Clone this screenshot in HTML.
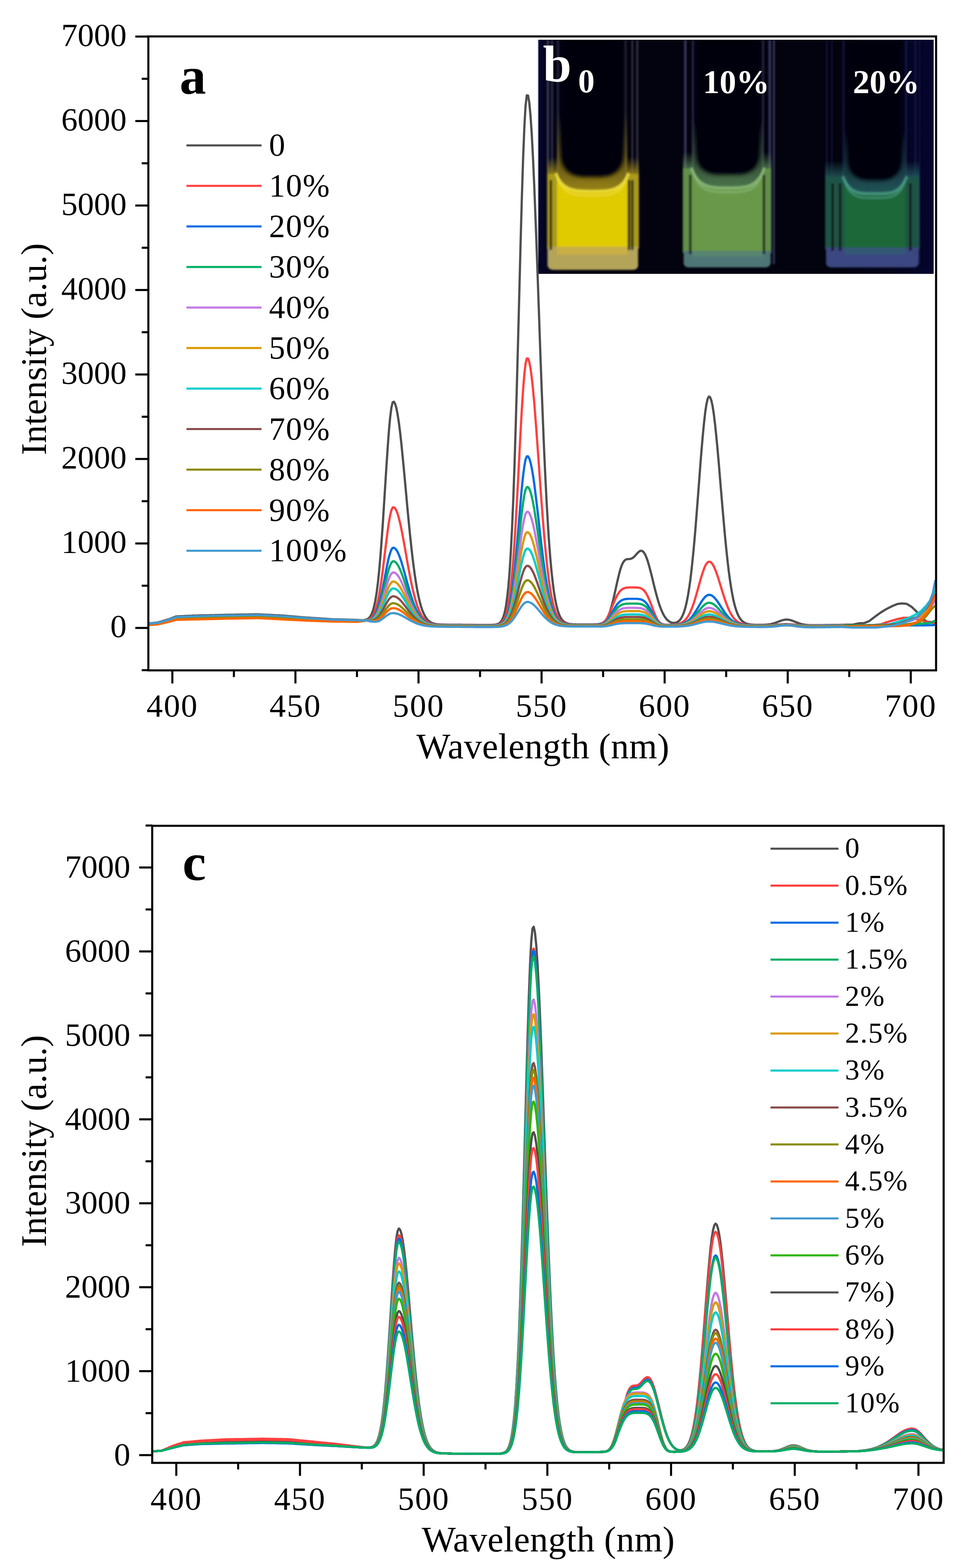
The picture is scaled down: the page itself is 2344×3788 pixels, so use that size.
<!DOCTYPE html><html><head><meta charset="utf-8"><title>PL spectra</title><style>html,body{margin:0;padding:0;background:#fff;overflow:hidden}svg{display:block}</style></head><body>
<svg width="2344" height="3788" viewBox="0 0 2344 3788">
<rect width="2344" height="3788" fill="#fff"/>
<defs><filter id="bl2" x="-20%" y="-20%" width="140%" height="140%"><feGaussianBlur stdDeviation="2"/></filter><filter id="bl4" x="-20%" y="-20%" width="140%" height="140%"><feGaussianBlur stdDeviation="4"/></filter><filter id="bl8" x="-30%" y="-30%" width="160%" height="160%"><feGaussianBlur stdDeviation="8"/></filter><filter id="bl14" x="-40%" y="-40%" width="180%" height="180%"><feGaussianBlur stdDeviation="14"/></filter><clipPath id="clipA"><rect x="361" y="90" width="1899" height="1527"/></clipPath><clipPath id="clipC"><rect x="370" y="1997" width="1908" height="1534"/></clipPath><clipPath id="clipIn"><rect x="1301" y="96" width="955.5" height="565.8"/></clipPath></defs>
<g clip-path="url(#clipIn)">
<defs><linearGradient id="bgg" x1="0" y1="0" x2="1" y2="0"><stop offset="0" stop-color="#05052a"/><stop offset="0.03" stop-color="#04041a"/><stop offset="0.08" stop-color="#03030f"/><stop offset="0.75" stop-color="#03030f"/><stop offset="0.9" stop-color="#04041c"/><stop offset="1" stop-color="#05052e"/></linearGradient></defs>
<rect x="1301" y="96" width="955.5" height="565.8" fill="url(#bgg)"/>
<defs><linearGradient id="glow1" x1="0" y1="0" x2="0" y2="1"><stop offset="0" stop-color="#a08a18" stop-opacity="0"/><stop offset="1" stop-color="#a08a18" stop-opacity="0.95"/></linearGradient></defs>
<g filter="url(#bl2)">
<line x1="1324.0" y1="96" x2="1324.0" y2="644.0" stroke="#6a6a80" stroke-width="4.0" opacity="0.70"/>
<line x1="1334.0" y1="96" x2="1334.0" y2="644.0" stroke="#5a5a70" stroke-width="4.0" opacity="0.60"/>
<line x1="1348.0" y1="96" x2="1348.0" y2="644.0" stroke="#50506a" stroke-width="4.0" opacity="0.55"/>
<line x1="1512.0" y1="96" x2="1512.0" y2="644.0" stroke="#50506a" stroke-width="4.0" opacity="0.55"/>
<line x1="1528.0" y1="96" x2="1528.0" y2="644.0" stroke="#55556e" stroke-width="4.0" opacity="0.60"/>
<line x1="1540.0" y1="96" x2="1540.0" y2="644.0" stroke="#606078" stroke-width="4.0" opacity="0.60"/>
<rect x="1346.0" y="270.0" width="170.0" height="190.0" fill="url(#glow1)"/>
<rect x="1322.0" y="380.0" width="24.0" height="45.0" fill="url(#glow1)"/>
<rect x="1516.0" y="380.0" width="28.0" height="45.0" fill="url(#glow1)"/>
<path d="M1354.0,95 L1354.0,368.0 Q1354.0,428.0 1414.0,428.0 L1448.0,428.0 Q1508.0,428.0 1508.0,368.0 L1508.0,95 Z" fill="#03030f" filter="url(#bl4)"/>
<rect x="1322.0" y="420.0" width="26.0" height="181.0" fill="#a89a1e"/>
<rect x="1514.0" y="420.0" width="30.0" height="181.0" fill="#a89a1e"/>
<path d="M1346.0,420.0 C1358.0,460.0 1391.0,460.0 1431.0,460.0 C1471.0,460.0 1504.0,460.0 1516.0,420.0 L1516.0,596.0 L1346.0,596.0 Z" fill="#e0ca00"/>
<path d="M1343.0,418.0 C1358.0,462.0 1391.0,462.0 1431.0,462.0 C1471.0,462.0 1504.0,462.0 1519.0,418.0" fill="none" stroke="#ecdc40" stroke-width="7" opacity="0.85"/>
<path d="M1348.0,430.0 C1362.0,472.0 1391.0,472.0 1431.0,472.0 C1471.0,472.0 1500.0,472.0 1514.0,430.0" fill="none" stroke="#ecdc40" stroke-width="6" opacity="0.6"/>
<path d="M1324.0,596.0 L1542.0,596.0 L1542.0,640.0 Q1542.0,652.0 1528.0,652.0 L1338.0,652.0 Q1324.0,652.0 1324.0,640.0 Z" fill="#b4a45a"/>
<rect x="1346.0" y="596.0" width="170.0" height="19.6" fill="#d2b23a" opacity="0.7"/>
<line x1="1331.0" y1="435.0" x2="1331.0" y2="604.0" stroke="#120e04" stroke-width="6" opacity="0.8"/>
<line x1="1520.0" y1="435.0" x2="1520.0" y2="604.0" stroke="#120e04" stroke-width="6" opacity="0.8"/>
<line x1="1528.0" y1="435.0" x2="1528.0" y2="604.0" stroke="#120e04" stroke-width="6" opacity="0.8"/>
</g>
<defs><linearGradient id="glow2" x1="0" y1="0" x2="0" y2="1"><stop offset="0" stop-color="#5a8a58" stop-opacity="0"/><stop offset="1" stop-color="#5a8a58" stop-opacity="0.85"/></linearGradient></defs>
<g filter="url(#bl2)">
<line x1="1656.0" y1="96" x2="1656.0" y2="638.0" stroke="#50507a" stroke-width="5.0" opacity="0.80"/>
<line x1="1674.0" y1="96" x2="1674.0" y2="638.0" stroke="#40406a" stroke-width="4.0" opacity="0.70"/>
<line x1="1844.0" y1="96" x2="1844.0" y2="638.0" stroke="#40406a" stroke-width="4.0" opacity="0.70"/>
<line x1="1860.0" y1="96" x2="1860.0" y2="638.0" stroke="#505084" stroke-width="5.0" opacity="0.80"/>
<line x1="1870.0" y1="96" x2="1870.0" y2="638.0" stroke="#5a5a90" stroke-width="4.0" opacity="0.70"/>
<rect x="1674.0" y="287.0" width="170.0" height="165.0" fill="url(#glow2)"/>
<rect x="1650.0" y="367.0" width="24.0" height="45.0" fill="url(#glow2)"/>
<rect x="1844.0" y="367.0" width="20.0" height="45.0" fill="url(#glow2)"/>
<path d="M1682.0,95 L1682.0,367.0 Q1682.0,422.0 1737.0,422.0 L1781.0,422.0 Q1836.0,422.0 1836.0,367.0 L1836.0,95 Z" fill="#03030f" filter="url(#bl4)"/>
<rect x="1650.0" y="407.0" width="26.0" height="204.0" fill="#62904c"/>
<rect x="1842.0" y="407.0" width="22.0" height="204.0" fill="#62904c"/>
<path d="M1674.0,407.0 C1686.0,452.0 1719.0,452.0 1759.0,452.0 C1799.0,452.0 1832.0,452.0 1844.0,407.0 L1844.0,606.0 L1674.0,606.0 Z" fill="#6a984a"/>
<path d="M1671.0,405.0 C1686.0,454.0 1719.0,454.0 1759.0,454.0 C1799.0,454.0 1832.0,454.0 1847.0,405.0" fill="none" stroke="#88b878" stroke-width="7" opacity="0.85"/>
<path d="M1676.0,417.0 C1690.0,464.0 1719.0,464.0 1759.0,464.0 C1799.0,464.0 1828.0,464.0 1842.0,417.0" fill="none" stroke="#88b878" stroke-width="6" opacity="0.6"/>
<path d="M1652.0,606.0 L1862.0,606.0 L1862.0,634.0 Q1862.0,646.0 1848.0,646.0 L1666.0,646.0 Q1652.0,646.0 1652.0,634.0 Z" fill="#4f7676"/>
<rect x="1674.0" y="606.0" width="170.0" height="14.0" fill="#5c8a70" opacity="0.7"/>
<line x1="1668.0" y1="422.0" x2="1668.0" y2="614.0" stroke="#120e04" stroke-width="6" opacity="0.8"/>
<line x1="1846.0" y1="422.0" x2="1846.0" y2="614.0" stroke="#120e04" stroke-width="6" opacity="0.8"/>
</g>
<defs><linearGradient id="glow3" x1="0" y1="0" x2="0" y2="1"><stop offset="0" stop-color="#2a6a68" stop-opacity="0"/><stop offset="1" stop-color="#2a6a68" stop-opacity="0.80"/></linearGradient></defs>
<g filter="url(#bl2)">
<line x1="1998.0" y1="96" x2="1998.0" y2="638.0" stroke="#20205a" stroke-width="4.0" opacity="0.60"/>
<line x1="2010.0" y1="96" x2="2010.0" y2="638.0" stroke="#252565" stroke-width="3.0" opacity="0.50"/>
<line x1="2038.0" y1="96" x2="2038.0" y2="638.0" stroke="#2a2a70" stroke-width="4.0" opacity="0.55"/>
<line x1="2190.0" y1="96" x2="2190.0" y2="638.0" stroke="#2a2a70" stroke-width="4.0" opacity="0.55"/>
<line x1="2212.0" y1="96" x2="2212.0" y2="638.0" stroke="#2a2a70" stroke-width="4.0" opacity="0.50"/>
<line x1="2222.0" y1="96" x2="2222.0" y2="638.0" stroke="#20205a" stroke-width="3.0" opacity="0.50"/>
<rect x="2040.0" y="308.0" width="148.0" height="158.0" fill="url(#glow3)"/>
<rect x="1994.0" y="388.0" width="46.0" height="45.0" fill="url(#glow3)"/>
<rect x="2188.0" y="388.0" width="34.0" height="45.0" fill="url(#glow3)"/>
<path d="M2048.0,95 L2048.0,381.0 Q2048.0,436.0 2103.0,436.0 L2125.0,436.0 Q2180.0,436.0 2180.0,381.0 L2180.0,95 Z" fill="#03030f" filter="url(#bl4)"/>
<rect x="1994.0" y="428.0" width="48.0" height="175.0" fill="#1d5446"/>
<rect x="2186.0" y="428.0" width="36.0" height="175.0" fill="#1d5446"/>
<path d="M2040.0,428.0 C2052.0,466.0 2074.0,466.0 2114.0,466.0 C2154.0,466.0 2176.0,466.0 2188.0,428.0 L2188.0,598.0 L2040.0,598.0 Z" fill="#1f6838"/>
<path d="M2037.0,426.0 C2052.0,468.0 2074.0,468.0 2114.0,468.0 C2154.0,468.0 2176.0,468.0 2191.0,426.0" fill="none" stroke="#4a9a88" stroke-width="7" opacity="0.85"/>
<path d="M2042.0,438.0 C2056.0,478.0 2074.0,478.0 2114.0,478.0 C2154.0,478.0 2172.0,478.0 2186.0,438.0" fill="none" stroke="#4a9a88" stroke-width="6" opacity="0.6"/>
<path d="M1996.0,598.0 L2220.0,598.0 L2220.0,634.0 Q2220.0,646.0 2206.0,646.0 L2010.0,646.0 Q1996.0,646.0 1996.0,634.0 Z" fill="#3a4680"/>
<rect x="2040.0" y="598.0" width="148.0" height="16.8" fill="#2f6070" opacity="0.7"/>
<line x1="2012.0" y1="443.0" x2="2012.0" y2="606.0" stroke="#120e04" stroke-width="6" opacity="0.8"/>
<line x1="2030.0" y1="443.0" x2="2030.0" y2="606.0" stroke="#120e04" stroke-width="6" opacity="0.8"/>
<line x1="2200.0" y1="443.0" x2="2200.0" y2="606.0" stroke="#120e04" stroke-width="6" opacity="0.8"/>
</g>
</g>
<rect x="1298.3" y="96" width="2.7" height="565.8" fill="#d6d6de"/>
<g font-family="'Liberation Serif','Times New Roman',serif" font-weight="bold" fill="#fff">
<text x="1312" y="197" font-size="124">b</text>
<text x="1397" y="223" font-size="80">0</text>
<text x="1698.5" y="224.5" font-size="80.5">10%</text>
<text x="2061" y="224.5" font-size="80.5">20%</text>
</g>
<g clip-path="url(#clipA)" fill="none" stroke-width="5.4" stroke-linejoin="round">
<polyline stroke="#4F4F4F" points="357.0,1506.4 360.0,1506.1 363.0,1505.8 365.9,1505.5 368.9,1505.2 371.9,1504.9 374.9,1504.5 377.8,1504.2 380.8,1503.9 383.8,1503.1 386.8,1502.2 389.7,1501.3 392.7,1500.4 395.7,1499.5 398.7,1498.7 401.6,1497.8 404.6,1496.9 407.6,1496.0 410.6,1495.2 413.5,1494.0 416.5,1492.8 419.5,1491.6 422.4,1490.4 425.4,1489.2 428.4,1489.1 431.4,1489.0 434.3,1488.8 437.3,1488.7 440.3,1488.6 443.3,1488.4 446.2,1488.3 449.2,1488.2 452.2,1488.0 455.2,1487.9 458.1,1487.7 461.1,1487.6 464.1,1487.5 467.1,1487.3 470.0,1487.2 473.0,1487.1 476.0,1487.1 479.0,1487.0 481.9,1486.9 484.9,1486.8 487.9,1486.8 490.9,1486.7 493.8,1486.6 496.8,1486.6 499.8,1486.5 502.7,1486.4 505.7,1486.4 508.7,1486.3 511.7,1486.2 514.6,1486.1 517.6,1486.1 520.6,1486.0 523.6,1485.9 526.5,1485.9 529.5,1485.8 532.5,1485.7 535.5,1485.6 538.4,1485.6 541.4,1485.5 544.4,1485.4 547.4,1485.4 550.3,1485.3 553.3,1485.3 556.3,1485.2 559.3,1485.2 562.2,1485.1 565.2,1485.1 568.2,1485.0 571.1,1485.0 574.1,1484.9 577.1,1484.9 580.1,1484.8 583.0,1484.8 586.0,1484.8 589.0,1484.7 592.0,1484.7 594.9,1484.6 597.9,1484.6 600.9,1484.5 603.9,1484.5 606.8,1484.4 609.8,1484.4 612.8,1484.3 615.8,1484.3 618.7,1484.2 621.7,1484.2 624.7,1484.1 627.7,1484.3 630.6,1484.4 633.6,1484.6 636.6,1484.8 639.5,1484.9 642.5,1485.1 645.5,1485.2 648.5,1485.4 651.4,1485.5 654.4,1485.7 657.4,1485.8 660.4,1486.0 663.3,1486.1 666.3,1486.3 669.3,1486.4 672.3,1486.6 675.2,1486.7 678.2,1486.9 681.2,1487.0 684.2,1487.2 687.1,1487.4 690.1,1487.7 693.1,1487.9 696.1,1488.2 699.0,1488.4 702.0,1488.7 705.0,1488.9 708.0,1489.2 710.9,1489.4 713.9,1489.7 716.9,1489.9 719.8,1490.1 722.8,1490.4 725.8,1490.6 728.8,1490.9 731.7,1491.1 734.7,1491.4 737.7,1491.6 740.7,1491.9 743.6,1492.1 746.6,1492.3 749.6,1492.5 752.6,1492.7 755.5,1492.9 758.5,1493.1 761.5,1493.3 764.5,1493.5 767.4,1493.7 770.4,1493.8 773.4,1494.0 776.4,1494.2 779.3,1494.4 782.3,1494.6 785.3,1494.8 788.2,1495.0 791.2,1495.2 794.2,1495.4 797.2,1495.6 800.1,1495.8 803.1,1496.0 806.1,1496.1 809.1,1496.1 812.0,1496.2 815.0,1496.3 818.0,1496.4 821.0,1496.5 823.9,1496.5 826.9,1496.6 829.9,1496.7 832.9,1496.8 835.8,1496.9 838.8,1497.0 841.8,1497.0 844.8,1497.1 847.7,1497.2 850.7,1497.3 853.7,1497.4 856.7,1497.4 859.6,1497.5 862.6,1497.6 865.6,1497.8 868.5,1498.0 871.5,1498.1 874.5,1498.2 877.5,1498.1 880.4,1497.9 883.4,1497.3 886.4,1496.2 889.4,1494.7 892.3,1492.3 895.3,1488.5 898.3,1483.0 901.3,1475.1 904.2,1464.3 907.2,1449.9 910.2,1431.4 913.2,1408.1 916.1,1379.9 919.1,1346.1 922.1,1307.3 925.1,1264.4 928.0,1218.4 931.0,1170.8 934.0,1123.7 937.0,1079.2 939.9,1039.8 942.9,1007.5 945.9,984.5 948.8,972.0 951.8,970.5 954.8,975.4 957.8,985.5 960.7,1000.5 963.7,1019.9 966.7,1043.2 969.7,1069.8 972.6,1099.0 975.6,1130.0 978.6,1162.2 981.6,1194.8 984.5,1227.0 987.5,1258.4 990.5,1288.6 993.5,1317.0 996.4,1343.4 999.4,1367.5 1002.4,1389.3 1005.4,1408.8 1008.3,1425.9 1011.3,1440.8 1014.3,1453.5 1017.2,1464.3 1020.2,1473.4 1023.2,1480.8 1026.2,1487.0 1029.1,1491.9 1032.1,1495.9 1035.1,1499.1 1038.1,1501.5 1041.0,1503.4 1044.0,1504.9 1047.0,1506.0 1050.0,1506.8 1052.9,1507.4 1055.9,1507.9 1058.9,1508.2 1061.9,1508.5 1064.8,1508.7 1067.8,1508.8 1070.8,1508.9 1073.8,1509.0 1076.7,1509.0 1079.7,1509.1 1082.7,1509.1 1085.7,1509.1 1088.6,1509.2 1091.6,1509.2 1094.6,1509.2 1097.5,1509.2 1100.5,1509.2 1103.5,1509.3 1106.5,1509.3 1109.4,1509.3 1112.4,1509.3 1115.4,1509.3 1118.4,1509.4 1121.3,1509.4 1124.3,1509.4 1127.3,1509.4 1130.3,1509.4 1133.2,1509.5 1136.2,1509.5 1139.2,1509.5 1142.2,1509.5 1145.1,1509.6 1148.1,1509.6 1151.1,1509.6 1154.1,1509.6 1157.0,1509.6 1160.0,1509.7 1163.0,1509.7 1165.9,1509.7 1168.9,1509.7 1171.9,1509.6 1174.9,1509.6 1177.8,1509.6 1180.8,1509.6 1183.8,1509.6 1186.8,1509.6 1189.7,1509.5 1192.7,1509.3 1195.7,1509.1 1198.7,1508.7 1201.6,1507.9 1204.6,1506.7 1207.6,1504.8 1210.6,1501.7 1213.5,1497.1 1216.5,1490.1 1219.5,1479.8 1222.5,1465.3 1225.4,1445.0 1228.4,1417.7 1231.4,1381.6 1234.3,1335.3 1237.3,1277.4 1240.3,1207.1 1243.3,1124.2 1246.2,1029.4 1249.2,924.5 1252.2,812.2 1255.2,696.6 1258.1,582.7 1261.1,476.1 1264.1,382.6 1267.1,307.6 1270.0,255.7 1273.0,230.4 1276.0,230.8 1279.0,247.4 1281.9,278.5 1284.9,323.0 1287.9,379.4 1290.9,445.8 1293.8,520.1 1296.8,600.1 1299.8,683.5 1302.8,768.1 1305.7,851.9 1308.7,933.1 1311.7,1010.2 1314.6,1082.1 1317.6,1147.9 1320.6,1207.2 1323.6,1259.7 1326.5,1305.5 1329.5,1344.9 1332.5,1378.1 1335.5,1405.9 1338.4,1428.7 1341.4,1447.1 1344.4,1461.9 1347.4,1473.5 1350.3,1482.5 1353.3,1489.5 1356.3,1494.7 1359.3,1498.6 1362.2,1501.5 1365.2,1503.5 1368.2,1505.0 1371.2,1506.1 1374.1,1506.9 1377.1,1507.4 1380.1,1507.7 1383.1,1508.0 1386.0,1508.1 1389.0,1508.2 1392.0,1508.3 1394.9,1508.4 1397.9,1508.4 1400.9,1508.4 1403.9,1508.4 1406.8,1508.4 1409.8,1508.4 1412.8,1508.4 1415.8,1508.4 1418.7,1508.4 1421.7,1508.4 1424.7,1508.4 1427.7,1508.4 1430.6,1508.4 1433.6,1508.4 1436.6,1508.3 1439.6,1508.2 1442.5,1508.1 1445.5,1507.8 1448.5,1507.4 1451.5,1506.7 1454.4,1505.7 1457.4,1504.1 1460.4,1501.9 1463.3,1498.7 1466.3,1494.5 1469.3,1489.0 1472.3,1482.0 1475.2,1473.5 1478.2,1463.3 1481.2,1451.8 1484.2,1439.1 1487.1,1425.7 1490.1,1412.1 1493.1,1398.8 1496.1,1386.6 1499.0,1375.8 1502.0,1367.0 1505.0,1360.2 1508.0,1355.5 1510.9,1352.7 1513.9,1351.2 1516.9,1350.7 1519.9,1350.6 1522.8,1350.3 1525.8,1349.5 1528.8,1347.9 1531.8,1345.6 1534.7,1342.6 1537.7,1339.2 1540.7,1335.9 1543.6,1333.1 1546.6,1331.1 1549.6,1330.5 1552.6,1331.4 1555.5,1334.1 1558.5,1338.7 1561.5,1345.2 1564.5,1353.3 1567.4,1362.9 1570.4,1373.7 1573.4,1385.3 1576.4,1397.3 1579.3,1409.6 1582.3,1421.6 1585.3,1433.2 1588.3,1444.1 1591.2,1454.2 1594.2,1463.3 1597.2,1471.4 1600.2,1478.5 1603.1,1484.5 1606.1,1489.6 1609.1,1493.8 1612.0,1497.2 1615.0,1499.8 1618.0,1501.9 1621.0,1503.4 1623.9,1504.3 1626.9,1504.8 1629.9,1504.8 1632.9,1504.3 1635.8,1503.2 1638.8,1501.5 1641.8,1498.9 1644.8,1495.4 1647.7,1490.6 1650.7,1484.3 1653.7,1476.2 1656.7,1466.0 1659.6,1453.4 1662.6,1438.0 1665.6,1419.5 1668.6,1397.8 1671.5,1372.7 1674.5,1344.2 1677.5,1312.5 1680.5,1277.9 1683.4,1240.9 1686.4,1202.4 1689.4,1163.1 1692.3,1124.1 1695.3,1086.7 1698.3,1051.9 1701.3,1021.2 1704.2,995.5 1707.2,975.9 1710.2,963.2 1713.2,957.9 1716.1,959.8 1719.1,967.9 1722.1,982.0 1725.1,1001.6 1728.0,1026.0 1731.0,1054.4 1734.0,1086.1 1737.0,1120.1 1739.9,1155.4 1742.9,1191.1 1745.9,1226.5 1748.9,1260.9 1751.8,1293.5 1754.8,1324.0 1757.8,1352.0 1760.7,1377.3 1763.7,1399.7 1766.7,1419.4 1769.7,1436.4 1772.6,1450.9 1775.6,1463.0 1778.6,1473.0 1781.6,1481.2 1784.5,1487.8 1787.5,1493.0 1790.5,1497.1 1793.5,1500.3 1796.4,1502.7 1799.4,1504.6 1802.4,1506.0 1805.4,1507.0 1808.3,1507.7 1811.3,1508.3 1814.3,1508.7 1817.3,1508.9 1820.2,1509.1 1823.2,1509.3 1826.2,1509.4 1829.2,1509.4 1832.1,1509.5 1835.1,1509.5 1838.1,1509.5 1841.0,1509.5 1844.0,1509.4 1847.0,1509.3 1850.0,1509.2 1852.9,1508.9 1855.9,1508.6 1858.9,1508.3 1861.9,1507.8 1864.8,1507.2 1867.8,1506.4 1870.8,1505.5 1873.8,1504.6 1876.7,1503.5 1879.7,1502.3 1882.7,1501.2 1885.7,1500.1 1888.6,1499.0 1891.6,1498.1 1894.6,1497.4 1897.6,1497.0 1900.5,1496.8 1903.5,1496.9 1906.5,1497.3 1909.4,1497.9 1912.4,1498.8 1915.4,1499.8 1918.4,1501.0 1921.3,1502.2 1924.3,1503.3 1927.3,1504.5 1930.3,1505.6 1933.2,1506.5 1936.2,1507.4 1939.2,1508.1 1942.2,1508.6 1945.1,1509.1 1948.1,1509.5 1951.1,1509.8 1954.1,1510.0 1957.0,1510.1 1960.0,1510.3 1963.0,1510.3 1966.0,1510.4 1968.9,1510.3 1971.9,1510.3 1974.9,1510.3 1977.9,1510.3 1980.8,1510.2 1983.8,1510.2 1986.8,1510.1 1989.7,1510.1 1992.7,1510.1 1995.7,1510.0 1998.7,1510.0 2001.6,1509.9 2004.6,1509.9 2007.6,1509.9 2010.6,1509.8 2013.5,1509.8 2016.5,1509.7 2019.5,1509.7 2022.5,1509.7 2025.4,1509.6 2028.4,1509.6 2031.4,1509.5 2034.4,1509.5 2037.3,1509.4 2040.3,1509.4 2043.3,1509.3 2046.3,1509.3 2049.2,1509.3 2052.2,1509.2 2055.2,1509.2 2058.1,1509.2 2061.1,1509.0 2064.1,1508.3 2067.1,1507.7 2070.0,1507.1 2073.0,1506.4 2076.0,1505.8 2079.0,1505.7 2081.9,1505.6 2084.9,1505.5 2087.9,1505.4 2090.9,1504.2 2093.8,1503.1 2096.8,1502.0 2099.8,1500.9 2102.8,1498.6 2105.7,1496.4 2108.7,1494.1 2111.7,1491.8 2114.7,1489.6 2117.6,1487.4 2120.6,1485.2 2123.6,1483.1 2126.6,1480.9 2129.5,1479.0 2132.5,1477.1 2135.5,1475.3 2138.4,1473.5 2141.4,1471.7 2144.4,1470.2 2147.4,1468.7 2150.3,1467.2 2153.3,1465.7 2156.3,1464.2 2159.3,1462.8 2162.2,1461.7 2165.2,1460.5 2168.2,1459.3 2171.2,1458.7 2174.1,1458.4 2177.1,1458.1 2180.1,1457.8 2183.1,1458.1 2186.0,1458.3 2189.0,1458.6 2192.0,1459.2 2195.0,1461.1 2197.9,1463.0 2200.9,1464.9 2203.9,1466.8 2206.8,1469.7 2209.8,1472.6 2212.8,1475.5 2215.8,1478.5 2218.7,1481.7 2221.7,1485.0 2224.7,1488.2 2227.7,1491.5 2230.6,1494.7 2233.6,1497.2 2236.6,1499.4 2239.6,1501.7 2242.5,1502.0 2245.5,1502.4 2248.5,1502.7 2251.5,1502.6 2254.4,1502.5 2257.4,1502.4 2260.4,1502.3"/>
<polyline stroke="#FF4040" points="357.0,1508.4 360.0,1508.2 363.0,1507.9 365.9,1507.7 368.9,1507.5 371.9,1507.2 374.9,1507.0 377.8,1506.7 380.8,1506.5 383.8,1505.7 386.8,1504.9 389.7,1504.2 392.7,1503.4 395.7,1502.6 398.7,1501.8 401.6,1501.1 404.6,1500.3 407.6,1499.5 410.6,1498.7 413.5,1497.8 416.5,1496.8 419.5,1495.8 422.4,1494.8 425.4,1493.8 428.4,1493.7 431.4,1493.6 434.3,1493.5 437.3,1493.4 440.3,1493.3 443.3,1493.2 446.2,1493.1 449.2,1493.0 452.2,1492.9 455.2,1492.8 458.1,1492.7 461.1,1492.6 464.1,1492.5 467.1,1492.4 470.0,1492.3 473.0,1492.2 476.0,1492.2 479.0,1492.1 481.9,1492.0 484.9,1492.0 487.9,1491.9 490.9,1491.8 493.8,1491.7 496.8,1491.7 499.8,1491.6 502.7,1491.5 505.7,1491.5 508.7,1491.4 511.7,1491.3 514.6,1491.2 517.6,1491.2 520.6,1491.1 523.6,1491.0 526.5,1491.0 529.5,1490.9 532.5,1490.8 535.5,1490.7 538.4,1490.7 541.4,1490.6 544.4,1490.5 547.4,1490.5 550.3,1490.4 553.3,1490.4 556.3,1490.3 559.3,1490.3 562.2,1490.2 565.2,1490.2 568.2,1490.1 571.1,1490.1 574.1,1490.0 577.1,1490.0 580.1,1489.9 583.0,1489.9 586.0,1489.9 589.0,1489.8 592.0,1489.8 594.9,1489.7 597.9,1489.7 600.9,1489.6 603.9,1489.6 606.8,1489.5 609.8,1489.5 612.8,1489.4 615.8,1489.4 618.7,1489.3 621.7,1489.3 624.7,1489.2 627.7,1489.4 630.6,1489.5 633.6,1489.7 636.6,1489.9 639.5,1490.0 642.5,1490.2 645.5,1490.3 648.5,1490.5 651.4,1490.6 654.4,1490.8 657.4,1490.9 660.4,1491.1 663.3,1491.2 666.3,1491.4 669.3,1491.5 672.3,1491.7 675.2,1491.8 678.2,1492.0 681.2,1492.2 684.2,1492.3 687.1,1492.5 690.1,1492.7 693.1,1492.9 696.1,1493.1 699.0,1493.3 702.0,1493.5 705.0,1493.7 708.0,1493.9 710.9,1494.0 713.9,1494.2 716.9,1494.4 719.8,1494.6 722.8,1494.8 725.8,1495.0 728.8,1495.2 731.7,1495.4 734.7,1495.6 737.7,1495.8 740.7,1496.0 743.6,1496.2 746.6,1496.3 749.6,1496.5 752.6,1496.6 755.5,1496.8 758.5,1496.9 761.5,1497.0 764.5,1497.2 767.4,1497.3 770.4,1497.5 773.4,1497.6 776.4,1497.8 779.3,1497.9 782.3,1498.0 785.3,1498.2 788.2,1498.3 791.2,1498.5 794.2,1498.6 797.2,1498.8 800.1,1498.9 803.1,1499.0 806.1,1499.1 809.1,1499.2 812.0,1499.2 815.0,1499.3 818.0,1499.3 821.0,1499.4 823.9,1499.4 826.9,1499.5 829.9,1499.5 832.9,1499.6 835.8,1499.7 838.8,1499.7 841.8,1499.8 844.8,1499.8 847.7,1499.9 850.7,1499.9 853.7,1500.0 856.7,1500.0 859.6,1500.1 862.6,1500.1 865.6,1500.0 868.5,1499.9 871.5,1499.8 874.5,1499.6 877.5,1499.4 880.4,1499.0 883.4,1498.4 886.4,1497.6 889.4,1497.0 892.3,1495.9 895.3,1494.1 898.3,1491.2 901.3,1487.2 904.2,1481.5 907.2,1474.0 910.2,1464.3 913.2,1452.1 916.1,1437.4 919.1,1419.5 922.1,1399.2 925.1,1376.8 928.0,1352.9 931.0,1328.2 934.0,1303.9 937.0,1281.0 939.9,1260.7 942.9,1244.2 945.9,1232.4 948.8,1226.1 951.8,1225.4 954.8,1228.0 957.8,1233.2 960.7,1241.0 963.7,1251.1 966.7,1263.1 969.7,1276.9 972.6,1292.0 975.6,1308.1 978.6,1324.8 981.6,1341.8 984.5,1358.6 987.5,1375.0 990.5,1390.8 993.5,1405.7 996.4,1419.6 999.4,1432.4 1002.4,1444.0 1005.4,1454.4 1008.3,1463.6 1011.3,1471.6 1014.3,1478.5 1017.2,1484.4 1020.2,1489.3 1023.2,1493.4 1026.2,1496.8 1029.1,1499.6 1032.1,1501.9 1035.1,1503.7 1038.1,1505.1 1041.0,1506.2 1044.0,1507.0 1047.0,1507.7 1050.0,1508.2 1052.9,1508.5 1055.9,1508.8 1058.9,1509.0 1061.9,1509.2 1064.8,1509.3 1067.8,1509.4 1070.8,1509.4 1073.8,1509.5 1076.7,1509.5 1079.7,1509.6 1082.7,1509.6 1085.7,1509.6 1088.6,1509.7 1091.6,1509.7 1094.6,1509.7 1097.5,1509.7 1100.5,1509.8 1103.5,1509.8 1106.5,1509.8 1109.4,1509.8 1112.4,1509.8 1115.4,1509.9 1118.4,1509.9 1121.3,1509.9 1124.3,1509.9 1127.3,1509.9 1130.3,1510.0 1133.2,1510.0 1136.2,1510.0 1139.2,1510.0 1142.2,1510.0 1145.1,1510.1 1148.1,1510.1 1151.1,1510.1 1154.1,1510.1 1157.0,1510.1 1160.0,1510.2 1163.0,1510.2 1165.9,1510.2 1168.9,1510.2 1171.9,1510.2 1174.9,1510.2 1177.8,1510.2 1180.8,1510.1 1183.8,1510.1 1186.8,1510.1 1189.7,1510.1 1192.7,1510.0 1195.7,1509.8 1198.7,1509.6 1201.6,1509.1 1204.6,1508.5 1207.6,1507.4 1210.6,1505.7 1213.5,1503.1 1216.5,1499.3 1219.5,1493.8 1222.5,1486.0 1225.4,1475.3 1228.4,1460.9 1231.4,1442.1 1234.3,1418.1 1237.3,1388.4 1240.3,1352.6 1243.3,1310.6 1246.2,1262.8 1249.2,1210.1 1252.2,1154.0 1255.2,1096.4 1258.1,1039.9 1261.1,987.2 1264.1,941.0 1267.1,904.0 1270.0,878.5 1273.0,866.0 1276.0,866.2 1279.0,874.4 1281.9,889.6 1284.9,911.5 1287.9,939.3 1290.9,972.0 1293.8,1008.8 1296.8,1048.3 1299.8,1089.7 1302.8,1131.8 1305.7,1173.5 1308.7,1214.1 1311.7,1252.8 1314.6,1289.0 1317.6,1322.2 1320.6,1352.3 1323.6,1379.0 1326.5,1402.5 1329.5,1422.7 1332.5,1439.9 1335.5,1454.3 1338.4,1466.2 1341.4,1475.9 1344.4,1483.7 1347.4,1489.9 1350.3,1494.7 1353.3,1498.5 1356.3,1501.3 1359.3,1503.4 1362.2,1505.0 1365.2,1506.2 1368.2,1507.0 1371.2,1507.6 1374.1,1508.0 1377.1,1508.3 1380.1,1508.5 1383.1,1508.7 1386.0,1508.8 1389.0,1508.8 1392.0,1508.9 1394.9,1508.9 1397.9,1508.9 1400.9,1508.9 1403.9,1508.9 1406.8,1508.9 1409.8,1508.9 1412.8,1508.9 1415.8,1508.9 1418.7,1508.9 1421.7,1508.9 1424.7,1508.9 1427.7,1508.9 1430.6,1508.9 1433.6,1508.9 1436.6,1508.9 1439.6,1508.9 1442.5,1508.9 1445.5,1508.7 1448.5,1508.5 1451.5,1507.9 1454.4,1506.9 1457.4,1505.3 1460.4,1502.9 1463.3,1499.5 1466.3,1495.1 1469.3,1489.6 1472.3,1483.2 1475.2,1476.2 1478.2,1468.6 1481.2,1461.0 1484.2,1453.7 1487.1,1446.8 1490.1,1440.6 1493.1,1435.3 1496.1,1430.9 1499.0,1427.3 1502.0,1424.6 1505.0,1422.6 1508.0,1421.2 1510.9,1420.2 1513.9,1419.7 1516.9,1419.4 1519.9,1419.2 1522.8,1419.1 1525.8,1419.1 1528.8,1419.1 1531.8,1419.1 1534.7,1419.2 1537.7,1419.2 1540.7,1419.4 1543.6,1419.8 1546.6,1420.5 1549.6,1421.7 1552.6,1423.5 1555.5,1425.9 1558.5,1429.3 1561.5,1433.6 1564.5,1439.0 1567.4,1445.3 1570.4,1452.4 1573.4,1460.1 1576.4,1468.2 1579.3,1476.2 1582.3,1483.7 1585.3,1490.4 1588.3,1496.1 1591.2,1500.6 1594.2,1503.9 1597.2,1506.2 1600.2,1507.6 1603.1,1508.5 1606.1,1508.9 1609.1,1509.2 1612.0,1509.2 1615.0,1509.2 1618.0,1509.2 1621.0,1509.1 1623.9,1509.0 1626.9,1508.9 1629.9,1508.6 1632.9,1508.3 1635.8,1507.9 1638.8,1507.3 1641.8,1506.4 1644.8,1505.4 1647.7,1503.9 1650.7,1502.1 1653.7,1499.7 1656.7,1496.8 1659.6,1493.2 1662.6,1488.8 1665.6,1483.6 1668.6,1477.4 1671.5,1470.4 1674.5,1462.5 1677.5,1453.7 1680.5,1444.1 1683.4,1433.9 1686.4,1423.3 1689.4,1412.6 1692.3,1401.9 1695.3,1391.7 1698.3,1382.3 1701.3,1373.9 1704.2,1367.0 1707.2,1361.7 1710.2,1358.3 1713.2,1356.8 1716.1,1357.3 1719.1,1359.5 1722.1,1363.4 1725.1,1368.7 1728.0,1375.3 1731.0,1383.0 1734.0,1391.7 1737.0,1400.9 1739.9,1410.6 1742.9,1420.4 1745.9,1430.1 1748.9,1439.5 1751.8,1448.6 1754.8,1457.0 1757.8,1464.8 1760.7,1471.9 1763.7,1478.2 1766.7,1483.7 1769.7,1488.6 1772.6,1492.7 1775.6,1496.1 1778.6,1499.0 1781.6,1501.4 1784.5,1503.3 1787.5,1504.9 1790.5,1506.1 1793.5,1507.1 1796.4,1507.8 1799.4,1508.4 1802.4,1508.8 1805.4,1509.1 1808.3,1509.4 1811.3,1509.6 1814.3,1509.7 1817.3,1509.8 1820.2,1509.9 1823.2,1509.9 1826.2,1510.0 1829.2,1510.0 1832.1,1510.1 1835.1,1510.1 1838.1,1510.1 1841.0,1510.1 1844.0,1510.1 1847.0,1510.1 1850.0,1510.1 1852.9,1510.1 1855.9,1510.0 1858.9,1510.0 1861.9,1509.9 1864.8,1509.8 1867.8,1509.6 1870.8,1509.5 1873.8,1509.3 1876.7,1509.1 1879.7,1508.8 1882.7,1508.6 1885.7,1508.4 1888.6,1508.2 1891.6,1508.0 1894.6,1507.9 1897.6,1507.8 1900.5,1507.8 1903.5,1507.9 1906.5,1507.9 1909.4,1508.1 1912.4,1508.3 1915.4,1508.5 1918.4,1508.8 1921.3,1509.0 1924.3,1509.3 1927.3,1509.6 1930.3,1509.8 1933.2,1510.0 1936.2,1510.2 1939.2,1510.4 1942.2,1510.5 1945.1,1510.6 1948.1,1510.7 1951.1,1510.8 1954.1,1510.8 1957.0,1510.9 1960.0,1510.9 1963.0,1511.0 1966.0,1510.9 1968.9,1510.9 1971.9,1510.9 1974.9,1510.8 1977.9,1510.8 1980.8,1510.7 1983.8,1510.7 1986.8,1510.7 1989.7,1510.6 1992.7,1510.6 1995.7,1510.5 1998.7,1510.5 2001.6,1510.4 2004.6,1510.4 2007.6,1510.4 2010.6,1510.3 2013.5,1510.3 2016.5,1510.2 2019.5,1510.2 2022.5,1510.2 2025.4,1510.1 2028.4,1510.1 2031.4,1510.0 2034.4,1510.0 2037.3,1510.3 2040.3,1510.7 2043.3,1511.1 2046.3,1511.5 2049.2,1511.9 2052.2,1512.4 2055.2,1512.8 2058.1,1513.3 2061.1,1513.1 2064.1,1512.9 2067.1,1512.8 2070.0,1512.6 2073.0,1512.4 2076.0,1512.2 2079.0,1512.0 2081.9,1511.8 2084.9,1511.6 2087.9,1511.4 2090.9,1511.2 2093.8,1511.1 2096.8,1510.9 2099.8,1510.7 2102.8,1510.4 2105.7,1510.2 2108.7,1510.0 2111.7,1509.7 2114.7,1509.5 2117.6,1509.2 2120.6,1509.0 2123.6,1508.8 2126.6,1508.5 2129.5,1507.8 2132.5,1506.7 2135.5,1505.7 2138.4,1504.6 2141.4,1503.5 2144.4,1502.6 2147.4,1501.8 2150.3,1500.9 2153.3,1500.0 2156.3,1499.1 2159.3,1498.3 2162.2,1497.4 2165.2,1496.6 2168.2,1495.7 2171.2,1495.0 2174.1,1494.4 2177.1,1493.8 2180.1,1493.1 2183.1,1492.5 2186.0,1492.5 2189.0,1492.5 2192.0,1492.5 2195.0,1492.5 2197.9,1492.9 2200.9,1493.5 2203.9,1494.0 2206.8,1494.5 2209.8,1495.0 2212.8,1495.6 2215.8,1496.3 2218.7,1497.1 2221.7,1497.9 2224.7,1498.6 2227.7,1499.4 2230.6,1500.2 2233.6,1500.9 2236.6,1501.7 2239.6,1502.3 2242.5,1502.9 2245.5,1503.5 2248.5,1504.0 2251.5,1504.6 2254.4,1505.2 2257.4,1505.8 2260.4,1506.4"/>
<polyline stroke="#006CE3" points="357.0,1507.4 360.0,1507.1 363.0,1506.8 365.9,1506.5 368.9,1506.3 371.9,1506.0 374.9,1505.7 377.8,1505.4 380.8,1505.2 383.8,1504.3 386.8,1503.5 389.7,1502.7 392.7,1501.8 395.7,1501.0 398.7,1500.2 401.6,1499.4 404.6,1498.5 407.6,1497.7 410.6,1496.9 413.5,1495.8 416.5,1494.7 419.5,1493.6 422.4,1492.5 425.4,1491.4 428.4,1491.3 431.4,1491.2 434.3,1491.1 437.3,1491.0 440.3,1490.8 443.3,1490.7 446.2,1490.6 449.2,1490.5 452.2,1490.4 455.2,1490.2 458.1,1490.1 461.1,1490.0 464.1,1489.9 467.1,1489.8 470.0,1489.7 473.0,1489.6 476.0,1489.5 479.0,1489.4 481.9,1489.4 484.9,1489.3 487.9,1489.2 490.9,1489.2 493.8,1489.1 496.8,1489.0 499.8,1488.9 502.7,1488.9 505.7,1488.8 508.7,1488.7 511.7,1488.7 514.6,1488.6 517.6,1488.5 520.6,1488.4 523.6,1488.4 526.5,1488.3 529.5,1488.2 532.5,1488.2 535.5,1488.1 538.4,1488.0 541.4,1488.0 544.4,1487.9 547.4,1487.8 550.3,1487.8 553.3,1487.7 556.3,1487.7 559.3,1487.6 562.2,1487.6 565.2,1487.5 568.2,1487.5 571.1,1487.4 574.1,1487.4 577.1,1487.3 580.1,1487.3 583.0,1487.2 586.0,1487.2 589.0,1487.2 592.0,1487.1 594.9,1487.1 597.9,1487.0 600.9,1487.0 603.9,1486.9 606.8,1486.9 609.8,1486.8 612.8,1486.8 615.8,1486.7 618.7,1486.7 621.7,1486.6 624.7,1486.6 627.7,1486.7 630.6,1486.9 633.6,1487.0 636.6,1487.2 639.5,1487.4 642.5,1487.5 645.5,1487.7 648.5,1487.8 651.4,1488.0 654.4,1488.1 657.4,1488.3 660.4,1488.4 663.3,1488.6 666.3,1488.7 669.3,1488.9 672.3,1489.0 675.2,1489.2 678.2,1489.3 681.2,1489.5 684.2,1489.7 687.1,1489.9 690.1,1490.1 693.1,1490.3 696.1,1490.5 699.0,1490.8 702.0,1491.0 705.0,1491.2 708.0,1491.4 710.9,1491.6 713.9,1491.9 716.9,1492.1 719.8,1492.3 722.8,1492.5 725.8,1492.7 728.8,1493.0 731.7,1493.2 734.7,1493.4 737.7,1493.6 740.7,1493.8 743.6,1494.1 746.6,1494.2 749.6,1494.4 752.6,1494.6 755.5,1494.7 758.5,1494.9 761.5,1495.1 764.5,1495.2 767.4,1495.4 770.4,1495.6 773.4,1495.8 776.4,1495.9 779.3,1496.1 782.3,1496.3 785.3,1496.4 788.2,1496.6 791.2,1496.8 794.2,1496.9 797.2,1497.1 800.1,1497.3 803.1,1497.4 806.1,1497.5 809.1,1497.6 812.0,1497.7 815.0,1497.7 818.0,1497.8 821.0,1497.9 823.9,1497.9 826.9,1498.0 829.9,1498.1 832.9,1498.1 835.8,1498.2 838.8,1498.3 841.8,1498.3 844.8,1498.4 847.7,1498.5 850.7,1498.6 853.7,1498.6 856.7,1498.7 859.6,1498.8 862.6,1498.8 865.6,1498.9 868.5,1499.0 871.5,1499.0 874.5,1499.0 877.5,1499.0 880.4,1498.9 883.4,1498.6 886.4,1498.2 889.4,1498.0 892.3,1497.4 895.3,1496.3 898.3,1494.6 901.3,1492.0 904.2,1488.4 907.2,1483.6 910.2,1477.3 913.2,1469.4 916.1,1459.9 919.1,1448.2 922.1,1434.9 925.1,1420.3 928.0,1404.8 931.0,1389.0 934.0,1373.3 937.0,1358.6 939.9,1345.7 942.9,1335.2 945.9,1327.7 948.8,1323.7 951.8,1323.3 954.8,1325.0 957.8,1328.4 960.7,1333.4 963.7,1339.9 966.7,1347.7 969.7,1356.6 972.6,1366.3 975.6,1376.7 978.6,1387.6 981.6,1398.6 984.5,1409.5 987.5,1420.1 990.5,1430.4 993.5,1440.2 996.4,1449.3 999.4,1457.7 1002.4,1465.4 1005.4,1472.3 1008.3,1478.4 1011.3,1483.8 1014.3,1488.4 1017.2,1492.4 1020.2,1495.8 1023.2,1498.6 1026.2,1501.0 1029.1,1502.9 1032.1,1504.5 1035.1,1505.8 1038.1,1506.8 1041.0,1507.6 1044.0,1508.2 1047.0,1508.6 1050.0,1509.0 1052.9,1509.3 1055.9,1509.5 1058.9,1509.6 1061.9,1509.8 1064.8,1509.9 1067.8,1509.9 1070.8,1510.0 1073.8,1510.0 1076.7,1510.1 1079.7,1510.1 1082.7,1510.1 1085.7,1510.2 1088.6,1510.2 1091.6,1510.2 1094.6,1510.2 1097.5,1510.2 1100.5,1510.3 1103.5,1510.3 1106.5,1510.3 1109.4,1510.3 1112.4,1510.3 1115.4,1510.4 1118.4,1510.4 1121.3,1510.4 1124.3,1510.4 1127.3,1510.4 1130.3,1510.5 1133.2,1510.5 1136.2,1510.5 1139.2,1510.5 1142.2,1510.6 1145.1,1510.6 1148.1,1510.6 1151.1,1510.6 1154.1,1510.6 1157.0,1510.7 1160.0,1510.7 1163.0,1510.7 1165.9,1510.7 1168.9,1510.7 1171.9,1510.7 1174.9,1510.7 1177.8,1510.7 1180.8,1510.7 1183.8,1510.6 1186.8,1510.6 1189.7,1510.6 1192.7,1510.5 1195.7,1510.4 1198.7,1510.2 1201.6,1509.9 1204.6,1509.4 1207.6,1508.7 1210.6,1507.5 1213.5,1505.7 1216.5,1503.1 1219.5,1499.3 1222.5,1494.1 1225.4,1487.0 1228.4,1477.5 1231.4,1465.2 1234.3,1449.6 1237.3,1430.5 1240.3,1407.5 1243.3,1380.7 1246.2,1350.3 1249.2,1317.1 1252.2,1281.8 1255.2,1245.7 1258.1,1210.4 1261.1,1177.6 1264.1,1148.9 1267.1,1125.9 1270.0,1110.1 1273.0,1102.4 1276.0,1102.5 1279.0,1107.5 1281.9,1116.9 1284.9,1130.5 1287.9,1147.7 1290.9,1168.0 1293.8,1190.9 1296.8,1215.5 1299.8,1241.4 1302.8,1267.7 1305.7,1293.9 1308.7,1319.4 1311.7,1343.8 1314.6,1366.7 1317.6,1387.8 1320.6,1407.0 1323.6,1424.2 1326.5,1439.2 1329.5,1452.3 1332.5,1463.5 1335.5,1472.9 1338.4,1480.7 1341.4,1487.1 1344.4,1492.3 1347.4,1496.4 1350.3,1499.7 1353.3,1502.2 1356.3,1504.1 1359.3,1505.6 1362.2,1506.7 1365.2,1507.5 1368.2,1508.0 1371.2,1508.5 1374.1,1508.8 1377.1,1509.0 1380.1,1509.1 1383.1,1509.2 1386.0,1509.3 1389.0,1509.4 1392.0,1509.4 1394.9,1509.4 1397.9,1509.4 1400.9,1509.4 1403.9,1509.4 1406.8,1509.4 1409.8,1509.4 1412.8,1509.4 1415.8,1509.4 1418.7,1509.4 1421.7,1509.4 1424.7,1509.4 1427.7,1509.4 1430.6,1509.4 1433.6,1509.4 1436.6,1509.4 1439.6,1509.4 1442.5,1509.4 1445.5,1509.3 1448.5,1509.1 1451.5,1508.8 1454.4,1508.1 1457.4,1507.0 1460.4,1505.3 1463.3,1502.9 1466.3,1499.8 1469.3,1496.0 1472.3,1491.5 1475.2,1486.6 1478.2,1481.3 1481.2,1476.0 1484.2,1470.8 1487.1,1466.0 1490.1,1461.7 1493.1,1457.9 1496.1,1454.8 1499.0,1452.3 1502.0,1450.4 1505.0,1449.0 1508.0,1448.0 1510.9,1447.4 1513.9,1447.0 1516.9,1446.7 1519.9,1446.6 1522.8,1446.6 1525.8,1446.6 1528.8,1446.6 1531.8,1446.6 1534.7,1446.6 1537.7,1446.6 1540.7,1446.8 1543.6,1447.1 1546.6,1447.6 1549.6,1448.4 1552.6,1449.6 1555.5,1451.4 1558.5,1453.7 1561.5,1456.8 1564.5,1460.5 1567.4,1464.9 1570.4,1469.9 1573.4,1475.3 1576.4,1481.0 1579.3,1486.6 1582.3,1491.9 1585.3,1496.6 1588.3,1500.5 1591.2,1503.7 1594.2,1506.0 1597.2,1507.6 1600.2,1508.7 1603.1,1509.3 1606.1,1509.6 1609.1,1509.7 1612.0,1509.8 1615.0,1509.8 1618.0,1509.8 1621.0,1509.7 1623.9,1509.7 1626.9,1509.6 1629.9,1509.5 1632.9,1509.3 1635.8,1509.1 1638.8,1508.8 1641.8,1508.3 1644.8,1507.8 1647.7,1507.1 1650.7,1506.1 1653.7,1505.0 1656.7,1503.5 1659.6,1501.7 1662.6,1499.6 1665.6,1497.0 1668.6,1494.1 1671.5,1490.7 1674.5,1486.9 1677.5,1482.6 1680.5,1478.1 1683.4,1473.2 1686.4,1468.2 1689.4,1463.1 1692.3,1458.1 1695.3,1453.3 1698.3,1448.9 1701.3,1445.0 1704.2,1441.7 1707.2,1439.3 1710.2,1437.7 1713.2,1437.0 1716.1,1437.3 1719.1,1438.3 1722.1,1440.1 1725.1,1442.6 1728.0,1445.7 1731.0,1449.3 1734.0,1453.4 1737.0,1457.7 1739.9,1462.3 1742.9,1466.9 1745.9,1471.5 1748.9,1476.0 1751.8,1480.3 1754.8,1484.4 1757.8,1488.1 1760.7,1491.5 1763.7,1494.6 1766.7,1497.3 1769.7,1499.6 1772.6,1501.6 1775.6,1503.4 1778.6,1504.8 1781.6,1506.0 1784.5,1507.0 1787.5,1507.7 1790.5,1508.4 1793.5,1508.9 1796.4,1509.3 1799.4,1509.6 1802.4,1509.8 1805.4,1510.0 1808.3,1510.1 1811.3,1510.2 1814.3,1510.3 1817.3,1510.4 1820.2,1510.4 1823.2,1510.5 1826.2,1510.5 1829.2,1510.5 1832.1,1510.6 1835.1,1510.6 1838.1,1510.6 1841.0,1510.6 1844.0,1510.6 1847.0,1510.6 1850.0,1510.6 1852.9,1510.6 1855.9,1510.6 1858.9,1510.5 1861.9,1510.5 1864.8,1510.4 1867.8,1510.3 1870.8,1510.1 1873.8,1510.0 1876.7,1509.8 1879.7,1509.6 1882.7,1509.5 1885.7,1509.3 1888.6,1509.1 1891.6,1509.0 1894.6,1508.9 1897.6,1508.8 1900.5,1508.8 1903.5,1508.9 1906.5,1508.9 1909.4,1509.1 1912.4,1509.2 1915.4,1509.4 1918.4,1509.6 1921.3,1509.9 1924.3,1510.1 1927.3,1510.3 1930.3,1510.5 1933.2,1510.7 1936.2,1510.8 1939.2,1510.9 1942.2,1511.1 1945.1,1511.2 1948.1,1511.2 1951.1,1511.3 1954.1,1511.4 1957.0,1511.4 1960.0,1511.4 1963.0,1511.5 1966.0,1511.4 1968.9,1511.4 1971.9,1511.4 1974.9,1511.3 1977.9,1511.3 1980.8,1511.2 1983.8,1511.2 1986.8,1511.2 1989.7,1511.1 1992.7,1511.1 1995.7,1511.0 1998.7,1511.0 2001.6,1511.0 2004.6,1510.9 2007.6,1510.9 2010.6,1510.8 2013.5,1510.8 2016.5,1510.8 2019.5,1510.7 2022.5,1510.7 2025.4,1510.6 2028.4,1510.6 2031.4,1510.6 2034.4,1510.5 2037.3,1510.6 2040.3,1510.8 2043.3,1511.0 2046.3,1511.1 2049.2,1511.3 2052.2,1511.5 2055.2,1511.7 2058.1,1511.9 2061.1,1511.9 2064.1,1511.9 2067.1,1511.8 2070.0,1511.8 2073.0,1511.8 2076.0,1511.8 2079.0,1511.7 2081.9,1511.7 2084.9,1511.7 2087.9,1511.7 2090.9,1511.7 2093.8,1511.6 2096.8,1511.6 2099.8,1511.6 2102.8,1511.6 2105.7,1511.5 2108.7,1511.5 2111.7,1511.5 2114.7,1511.5 2117.6,1511.5 2120.6,1511.4 2123.6,1511.4 2126.6,1511.4 2129.5,1511.4 2132.5,1511.4 2135.5,1511.3 2138.4,1511.3 2141.4,1511.3 2144.4,1511.3 2147.4,1511.2 2150.3,1511.2 2153.3,1511.2 2156.3,1511.1 2159.3,1511.1 2162.2,1511.1 2165.2,1511.0 2168.2,1511.0 2171.2,1511.0 2174.1,1510.9 2177.1,1510.9 2180.1,1510.9 2183.1,1510.9 2186.0,1510.8 2189.0,1510.8 2192.0,1510.8 2195.0,1510.7 2197.9,1510.7 2200.9,1510.7 2203.9,1510.7 2206.8,1510.7 2209.8,1510.7 2212.8,1510.7 2215.8,1510.7 2218.7,1510.7 2221.7,1510.7 2224.7,1510.7 2227.7,1510.7 2230.6,1510.7 2233.6,1510.7 2236.6,1510.7 2239.6,1510.6 2242.5,1510.5 2245.5,1510.5 2248.5,1510.4 2251.5,1510.3 2254.4,1510.3 2257.4,1509.8 2260.4,1509.2"/>
<polyline stroke="#00AE64" points="357.0,1507.9 360.0,1507.6 363.0,1507.3 365.9,1507.1 368.9,1506.8 371.9,1506.6 374.9,1506.3 377.8,1506.0 380.8,1505.8 383.8,1505.0 386.8,1504.2 389.7,1503.4 392.7,1502.6 395.7,1501.8 398.7,1500.9 401.6,1500.1 404.6,1499.3 407.6,1498.5 410.6,1497.7 413.5,1496.7 416.5,1495.7 419.5,1494.6 422.4,1493.6 425.4,1492.5 428.4,1492.4 431.4,1492.3 434.3,1492.2 437.3,1492.1 440.3,1492.0 443.3,1491.9 446.2,1491.8 449.2,1491.7 452.2,1491.5 455.2,1491.4 458.1,1491.3 461.1,1491.2 464.1,1491.1 467.1,1491.0 470.0,1490.9 473.0,1490.8 476.0,1490.7 479.0,1490.7 481.9,1490.6 484.9,1490.5 487.9,1490.5 490.9,1490.4 493.8,1490.3 496.8,1490.2 499.8,1490.2 502.7,1490.1 505.7,1490.0 508.7,1490.0 511.7,1489.9 514.6,1489.8 517.6,1489.7 520.6,1489.7 523.6,1489.6 526.5,1489.5 529.5,1489.5 532.5,1489.4 535.5,1489.3 538.4,1489.3 541.4,1489.2 544.4,1489.1 547.4,1489.0 550.3,1489.0 553.3,1488.9 556.3,1488.9 559.3,1488.8 562.2,1488.8 565.2,1488.8 568.2,1488.7 571.1,1488.7 574.1,1488.6 577.1,1488.6 580.1,1488.5 583.0,1488.5 586.0,1488.4 589.0,1488.4 592.0,1488.3 594.9,1488.3 597.9,1488.2 600.9,1488.2 603.9,1488.1 606.8,1488.1 609.8,1488.0 612.8,1488.0 615.8,1488.0 618.7,1487.9 621.7,1487.9 624.7,1487.8 627.7,1488.0 630.6,1488.1 633.6,1488.3 636.6,1488.4 639.5,1488.6 642.5,1488.7 645.5,1488.9 648.5,1489.0 651.4,1489.2 654.4,1489.3 657.4,1489.5 660.4,1489.7 663.3,1489.8 666.3,1490.0 669.3,1490.1 672.3,1490.3 675.2,1490.4 678.2,1490.6 681.2,1490.7 684.2,1490.9 687.1,1491.1 690.1,1491.3 693.1,1491.5 696.1,1491.7 699.0,1491.9 702.0,1492.1 705.0,1492.3 708.0,1492.5 710.9,1492.7 713.9,1493.0 716.9,1493.2 719.8,1493.4 722.8,1493.6 725.8,1493.8 728.8,1494.0 731.7,1494.2 734.7,1494.4 737.7,1494.6 740.7,1494.8 743.6,1495.0 746.6,1495.2 749.6,1495.4 752.6,1495.5 755.5,1495.7 758.5,1495.8 761.5,1496.0 764.5,1496.1 767.4,1496.3 770.4,1496.5 773.4,1496.6 776.4,1496.8 779.3,1496.9 782.3,1497.1 785.3,1497.2 788.2,1497.4 791.2,1497.6 794.2,1497.7 797.2,1497.9 800.1,1498.0 803.1,1498.2 806.1,1498.2 809.1,1498.3 812.0,1498.4 815.0,1498.4 818.0,1498.5 821.0,1498.6 823.9,1498.6 826.9,1498.7 829.9,1498.8 832.9,1498.8 835.8,1498.9 838.8,1498.9 841.8,1499.0 844.8,1499.1 847.7,1499.1 850.7,1499.2 853.7,1499.3 856.7,1499.3 859.6,1499.4 862.6,1499.4 865.6,1499.4 868.5,1499.4 871.5,1499.4 874.5,1499.3 877.5,1499.2 880.4,1499.0 883.4,1498.7 886.4,1498.3 889.4,1498.2 892.3,1497.8 895.3,1497.0 898.3,1495.6 901.3,1493.5 904.2,1490.6 907.2,1486.6 910.2,1481.4 913.2,1475.0 916.1,1467.2 919.1,1457.5 922.1,1446.5 925.1,1434.6 928.0,1421.9 931.0,1409.0 934.0,1396.3 937.0,1384.4 939.9,1373.9 942.9,1365.4 945.9,1359.4 948.8,1356.2 951.8,1355.9 954.8,1357.3 957.8,1360.1 960.7,1364.2 963.7,1369.4 966.7,1375.8 969.7,1383.0 972.6,1390.9 975.6,1399.4 978.6,1408.2 981.6,1417.2 984.5,1426.1 987.5,1434.9 990.5,1443.3 993.5,1451.4 996.4,1459.0 999.4,1466.0 1002.4,1472.3 1005.4,1478.1 1008.3,1483.3 1011.3,1487.8 1014.3,1491.7 1017.2,1495.1 1020.2,1498.0 1023.2,1500.4 1026.2,1502.5 1029.1,1504.2 1032.1,1505.5 1035.1,1506.7 1038.1,1507.6 1041.0,1508.3 1044.0,1508.8 1047.0,1509.2 1050.0,1509.6 1052.9,1509.8 1055.9,1510.0 1058.9,1510.2 1061.9,1510.3 1064.8,1510.4 1067.8,1510.4 1070.8,1510.5 1073.8,1510.5 1076.7,1510.6 1079.7,1510.6 1082.7,1510.6 1085.7,1510.7 1088.6,1510.7 1091.6,1510.7 1094.6,1510.7 1097.5,1510.8 1100.5,1510.8 1103.5,1510.8 1106.5,1510.8 1109.4,1510.8 1112.4,1510.9 1115.4,1510.9 1118.4,1510.9 1121.3,1510.9 1124.3,1510.9 1127.3,1511.0 1130.3,1511.0 1133.2,1511.0 1136.2,1511.0 1139.2,1511.0 1142.2,1511.1 1145.1,1511.1 1148.1,1511.1 1151.1,1511.1 1154.1,1511.1 1157.0,1511.2 1160.0,1511.2 1163.0,1511.2 1165.9,1511.2 1168.9,1511.2 1171.9,1511.2 1174.9,1511.2 1177.8,1511.2 1180.8,1511.2 1183.8,1511.2 1186.8,1511.1 1189.7,1511.1 1192.7,1511.0 1195.7,1510.9 1198.7,1510.8 1201.6,1510.5 1204.6,1510.0 1207.6,1509.3 1210.6,1508.3 1213.5,1506.7 1216.5,1504.4 1219.5,1501.1 1222.5,1496.6 1225.4,1490.5 1228.4,1482.4 1231.4,1472.0 1234.3,1459.0 1237.3,1443.0 1240.3,1423.9 1243.3,1401.9 1246.2,1377.0 1249.2,1349.9 1252.2,1321.2 1255.2,1292.0 1258.1,1263.5 1261.1,1237.1 1264.1,1214.0 1267.1,1195.6 1270.0,1182.9 1273.0,1176.7 1276.0,1176.8 1279.0,1180.8 1281.9,1188.4 1284.9,1199.2 1287.9,1213.0 1290.9,1229.3 1293.8,1247.7 1296.8,1267.6 1299.8,1288.4 1302.8,1309.7 1305.7,1330.9 1308.7,1351.6 1311.7,1371.5 1314.6,1390.3 1317.6,1407.6 1320.6,1423.4 1323.6,1437.6 1326.5,1450.1 1329.5,1461.1 1332.5,1470.4 1335.5,1478.4 1338.4,1485.0 1341.4,1490.4 1344.4,1494.9 1347.4,1498.4 1350.3,1501.3 1353.3,1503.5 1356.3,1505.1 1359.3,1506.4 1362.2,1507.4 1365.2,1508.1 1368.2,1508.6 1371.2,1509.0 1374.1,1509.3 1377.1,1509.5 1380.1,1509.7 1383.1,1509.8 1386.0,1509.8 1389.0,1509.9 1392.0,1509.9 1394.9,1509.9 1397.9,1509.9 1400.9,1509.9 1403.9,1509.9 1406.8,1510.0 1409.8,1510.0 1412.8,1510.0 1415.8,1510.0 1418.7,1510.0 1421.7,1510.0 1424.7,1510.0 1427.7,1510.0 1430.6,1510.0 1433.6,1510.0 1436.6,1510.0 1439.6,1509.9 1442.5,1509.9 1445.5,1509.9 1448.5,1509.7 1451.5,1509.4 1454.4,1508.9 1457.4,1507.9 1460.4,1506.6 1463.3,1504.6 1466.3,1502.1 1469.3,1498.9 1472.3,1495.2 1475.2,1491.1 1478.2,1486.8 1481.2,1482.4 1484.2,1478.1 1487.1,1474.1 1490.1,1470.6 1493.1,1467.5 1496.1,1464.9 1499.0,1462.9 1502.0,1461.3 1505.0,1460.1 1508.0,1459.3 1510.9,1458.8 1513.9,1458.4 1516.9,1458.2 1519.9,1458.2 1522.8,1458.1 1525.8,1458.1 1528.8,1458.1 1531.8,1458.1 1534.7,1458.1 1537.7,1458.2 1540.7,1458.3 1543.6,1458.5 1546.6,1458.9 1549.6,1459.6 1552.6,1460.6 1555.5,1462.1 1558.5,1464.0 1561.5,1466.5 1564.5,1469.6 1567.4,1473.2 1570.4,1477.4 1573.4,1481.9 1576.4,1486.5 1579.3,1491.1 1582.3,1495.5 1585.3,1499.4 1588.3,1502.7 1591.2,1505.3 1594.2,1507.2 1597.2,1508.5 1600.2,1509.4 1603.1,1509.9 1606.1,1510.1 1609.1,1510.3 1612.0,1510.3 1615.0,1510.3 1618.0,1510.3 1621.0,1510.3 1623.9,1510.2 1626.9,1510.1 1629.9,1510.0 1632.9,1509.9 1635.8,1509.7 1638.8,1509.5 1641.8,1509.1 1644.8,1508.7 1647.7,1508.1 1650.7,1507.4 1653.7,1506.5 1656.7,1505.4 1659.6,1504.0 1662.6,1502.4 1665.6,1500.4 1668.6,1498.2 1671.5,1495.7 1674.5,1492.8 1677.5,1489.7 1680.5,1486.3 1683.4,1482.7 1686.4,1479.0 1689.4,1475.3 1692.3,1471.6 1695.3,1468.1 1698.3,1464.8 1701.3,1462.0 1704.2,1459.6 1707.2,1457.8 1710.2,1456.7 1713.2,1456.2 1716.1,1456.4 1719.1,1457.1 1722.1,1458.4 1725.1,1460.2 1728.0,1462.5 1731.0,1465.2 1734.0,1468.1 1737.0,1471.3 1739.9,1474.7 1742.9,1478.1 1745.9,1481.5 1748.9,1484.8 1751.8,1488.0 1754.8,1491.0 1757.8,1493.8 1760.7,1496.4 1763.7,1498.7 1766.7,1500.7 1769.7,1502.5 1772.6,1504.0 1775.6,1505.3 1778.6,1506.5 1781.6,1507.4 1784.5,1508.1 1787.5,1508.8 1790.5,1509.3 1793.5,1509.7 1796.4,1510.0 1799.4,1510.2 1802.4,1510.4 1805.4,1510.6 1808.3,1510.7 1811.3,1510.8 1814.3,1510.9 1817.3,1510.9 1820.2,1511.0 1823.2,1511.0 1826.2,1511.0 1829.2,1511.1 1832.1,1511.1 1835.1,1511.1 1838.1,1511.1 1841.0,1511.1 1844.0,1511.1 1847.0,1511.1 1850.0,1511.1 1852.9,1511.1 1855.9,1511.1 1858.9,1511.0 1861.9,1511.0 1864.8,1510.9 1867.8,1510.7 1870.8,1510.6 1873.8,1510.5 1876.7,1510.3 1879.7,1510.1 1882.7,1509.9 1885.7,1509.7 1888.6,1509.6 1891.6,1509.4 1894.6,1509.3 1897.6,1509.3 1900.5,1509.2 1903.5,1509.3 1906.5,1509.4 1909.4,1509.5 1912.4,1509.7 1915.4,1509.9 1918.4,1510.1 1921.3,1510.3 1924.3,1510.5 1927.3,1510.7 1930.3,1511.0 1933.2,1511.1 1936.2,1511.3 1939.2,1511.4 1942.2,1511.6 1945.1,1511.7 1948.1,1511.7 1951.1,1511.8 1954.1,1511.9 1957.0,1511.9 1960.0,1511.9 1963.0,1512.0 1966.0,1511.9 1968.9,1511.9 1971.9,1511.9 1974.9,1511.8 1977.9,1511.8 1980.8,1511.8 1983.8,1511.7 1986.8,1511.7 1989.7,1511.6 1992.7,1511.6 1995.7,1511.6 1998.7,1511.5 2001.6,1511.5 2004.6,1511.4 2007.6,1511.4 2010.6,1511.3 2013.5,1511.3 2016.5,1511.3 2019.5,1511.2 2022.5,1511.2 2025.4,1511.1 2028.4,1511.1 2031.4,1511.1 2034.4,1511.0 2037.3,1511.0 2040.3,1511.0 2043.3,1511.0 2046.3,1511.0 2049.2,1510.9 2052.2,1510.9 2055.2,1510.9 2058.1,1510.9 2061.1,1510.8 2064.1,1510.8 2067.1,1510.7 2070.0,1510.7 2073.0,1510.7 2076.0,1510.6 2079.0,1510.6 2081.9,1510.5 2084.9,1510.5 2087.9,1510.5 2090.9,1510.4 2093.8,1510.4 2096.8,1510.3 2099.8,1510.3 2102.8,1510.2 2105.7,1510.2 2108.7,1510.2 2111.7,1510.1 2114.7,1510.1 2117.6,1510.0 2120.6,1510.0 2123.6,1509.9 2126.6,1509.9 2129.5,1509.9 2132.5,1509.8 2135.5,1509.8 2138.4,1509.7 2141.4,1509.7 2144.4,1509.6 2147.4,1509.6 2150.3,1509.6 2153.3,1509.5 2156.3,1509.5 2159.3,1509.4 2162.2,1509.4 2165.2,1509.3 2168.2,1509.3 2171.2,1509.3 2174.1,1509.2 2177.1,1509.2 2180.1,1509.1 2183.1,1509.1 2186.0,1509.0 2189.0,1509.0 2192.0,1509.0 2195.0,1508.9 2197.9,1508.9 2200.9,1508.8 2203.9,1508.6 2206.8,1508.3 2209.8,1508.1 2212.8,1507.8 2215.8,1507.6 2218.7,1507.3 2221.7,1507.1 2224.7,1506.8 2227.7,1506.5 2230.6,1506.3 2233.6,1506.0 2236.6,1505.8 2239.6,1505.5 2242.5,1505.3 2245.5,1505.0 2248.5,1504.8 2251.5,1503.4 2254.4,1502.0 2257.4,1500.7 2260.4,1499.3"/>
<polyline stroke="#C378E4" points="357.0,1507.4 360.0,1507.1 363.0,1506.8 365.9,1506.5 368.9,1506.3 371.9,1506.0 374.9,1505.7 377.8,1505.4 380.8,1505.2 383.8,1504.3 386.8,1503.5 389.7,1502.7 392.7,1501.8 395.7,1501.0 398.7,1500.2 401.6,1499.4 404.6,1498.5 407.6,1497.7 410.6,1496.9 413.5,1495.8 416.5,1494.7 419.5,1493.6 422.4,1492.5 425.4,1491.4 428.4,1491.3 431.4,1491.2 434.3,1491.1 437.3,1491.0 440.3,1490.8 443.3,1490.7 446.2,1490.6 449.2,1490.5 452.2,1490.4 455.2,1490.2 458.1,1490.1 461.1,1490.0 464.1,1489.9 467.1,1489.8 470.0,1489.7 473.0,1489.6 476.0,1489.5 479.0,1489.4 481.9,1489.4 484.9,1489.3 487.9,1489.2 490.9,1489.2 493.8,1489.1 496.8,1489.0 499.8,1488.9 502.7,1488.9 505.7,1488.8 508.7,1488.7 511.7,1488.7 514.6,1488.6 517.6,1488.5 520.6,1488.4 523.6,1488.4 526.5,1488.3 529.5,1488.2 532.5,1488.2 535.5,1488.1 538.4,1488.0 541.4,1488.0 544.4,1487.9 547.4,1487.8 550.3,1487.8 553.3,1487.7 556.3,1487.7 559.3,1487.6 562.2,1487.6 565.2,1487.5 568.2,1487.5 571.1,1487.4 574.1,1487.4 577.1,1487.3 580.1,1487.3 583.0,1487.2 586.0,1487.2 589.0,1487.2 592.0,1487.1 594.9,1487.1 597.9,1487.0 600.9,1487.0 603.9,1486.9 606.8,1486.9 609.8,1486.8 612.8,1486.8 615.8,1486.7 618.7,1486.7 621.7,1486.6 624.7,1486.6 627.7,1486.7 630.6,1486.9 633.6,1487.0 636.6,1487.2 639.5,1487.4 642.5,1487.5 645.5,1487.7 648.5,1487.8 651.4,1488.0 654.4,1488.1 657.4,1488.3 660.4,1488.4 663.3,1488.6 666.3,1488.7 669.3,1488.9 672.3,1489.0 675.2,1489.2 678.2,1489.3 681.2,1489.5 684.2,1489.7 687.1,1489.9 690.1,1490.1 693.1,1490.3 696.1,1490.5 699.0,1490.8 702.0,1491.0 705.0,1491.2 708.0,1491.4 710.9,1491.6 713.9,1491.9 716.9,1492.1 719.8,1492.3 722.8,1492.5 725.8,1492.7 728.8,1493.0 731.7,1493.2 734.7,1493.4 737.7,1493.6 740.7,1493.8 743.6,1494.1 746.6,1494.2 749.6,1494.4 752.6,1494.6 755.5,1494.7 758.5,1494.9 761.5,1495.1 764.5,1495.2 767.4,1495.4 770.4,1495.6 773.4,1495.8 776.4,1495.9 779.3,1496.1 782.3,1496.3 785.3,1496.4 788.2,1496.6 791.2,1496.8 794.2,1496.9 797.2,1497.1 800.1,1497.3 803.1,1497.4 806.1,1497.5 809.1,1497.6 812.0,1497.7 815.0,1497.7 818.0,1497.8 821.0,1497.9 823.9,1497.9 826.9,1498.0 829.9,1498.1 832.9,1498.1 835.8,1498.2 838.8,1498.3 841.8,1498.3 844.8,1498.4 847.7,1498.5 850.7,1498.6 853.7,1498.6 856.7,1498.7 859.6,1498.8 862.6,1498.8 865.6,1498.9 868.5,1499.0 871.5,1499.0 874.5,1499.0 877.5,1499.0 880.4,1498.9 883.4,1498.7 886.4,1498.4 889.4,1498.5 892.3,1498.2 895.3,1497.6 898.3,1496.6 901.3,1494.9 904.2,1492.5 907.2,1489.3 910.2,1485.1 913.2,1479.8 916.1,1473.4 919.1,1465.4 922.1,1456.4 925.1,1446.6 928.0,1436.2 931.0,1425.7 934.0,1415.4 937.0,1405.7 939.9,1397.3 942.9,1390.4 945.9,1385.6 948.8,1383.1 951.8,1382.8 954.8,1384.0 957.8,1386.3 960.7,1389.6 963.7,1393.9 966.7,1399.0 969.7,1404.9 972.6,1411.4 975.6,1418.3 978.6,1425.5 981.6,1432.9 984.5,1440.2 987.5,1447.3 990.5,1454.3 993.5,1460.9 996.4,1467.2 999.4,1473.0 1002.4,1478.3 1005.4,1483.2 1008.3,1487.5 1011.3,1491.3 1014.3,1494.6 1017.2,1497.5 1020.2,1500.0 1023.2,1502.1 1026.2,1503.9 1029.1,1505.3 1032.1,1506.5 1035.1,1507.5 1038.1,1508.3 1041.0,1509.0 1044.0,1509.5 1047.0,1509.8 1050.0,1510.1 1052.9,1510.4 1055.9,1510.5 1058.9,1510.7 1061.9,1510.8 1064.8,1510.9 1067.8,1511.0 1070.8,1511.0 1073.8,1511.0 1076.7,1511.1 1079.7,1511.1 1082.7,1511.1 1085.7,1511.2 1088.6,1511.2 1091.6,1511.2 1094.6,1511.2 1097.5,1511.3 1100.5,1511.3 1103.5,1511.3 1106.5,1511.3 1109.4,1511.3 1112.4,1511.4 1115.4,1511.4 1118.4,1511.4 1121.3,1511.4 1124.3,1511.4 1127.3,1511.5 1130.3,1511.5 1133.2,1511.5 1136.2,1511.5 1139.2,1511.6 1142.2,1511.6 1145.1,1511.6 1148.1,1511.6 1151.1,1511.6 1154.1,1511.7 1157.0,1511.7 1160.0,1511.7 1163.0,1511.7 1165.9,1511.7 1168.9,1511.7 1171.9,1511.7 1174.9,1511.7 1177.8,1511.7 1180.8,1511.7 1183.8,1511.7 1186.8,1511.6 1189.7,1511.6 1192.7,1511.6 1195.7,1511.5 1198.7,1511.3 1201.6,1511.0 1204.6,1510.6 1207.6,1510.0 1210.6,1509.0 1213.5,1507.6 1216.5,1505.6 1219.5,1502.7 1222.5,1498.8 1225.4,1493.5 1228.4,1486.7 1231.4,1477.9 1234.3,1466.9 1237.3,1453.5 1240.3,1437.7 1243.3,1419.4 1246.2,1399.0 1249.2,1376.7 1252.2,1353.3 1255.2,1329.6 1258.1,1306.5 1261.1,1285.1 1264.1,1266.5 1267.1,1251.6 1270.0,1241.4 1273.0,1236.4 1276.0,1236.5 1279.0,1239.7 1281.9,1245.8 1284.9,1254.5 1287.9,1265.6 1290.9,1278.8 1293.8,1293.6 1296.8,1309.7 1299.8,1326.5 1302.8,1343.8 1305.7,1361.1 1308.7,1378.1 1311.7,1394.4 1314.6,1409.8 1317.6,1424.1 1320.6,1437.1 1323.6,1448.9 1326.5,1459.4 1329.5,1468.5 1332.5,1476.4 1335.5,1483.1 1338.4,1488.7 1341.4,1493.4 1344.4,1497.2 1347.4,1500.3 1350.3,1502.7 1353.3,1504.6 1356.3,1506.1 1359.3,1507.3 1362.2,1508.1 1365.2,1508.8 1368.2,1509.2 1371.2,1509.6 1374.1,1509.9 1377.1,1510.0 1380.1,1510.2 1383.1,1510.3 1386.0,1510.3 1389.0,1510.4 1392.0,1510.4 1394.9,1510.4 1397.9,1510.4 1400.9,1510.5 1403.9,1510.5 1406.8,1510.5 1409.8,1510.5 1412.8,1510.5 1415.8,1510.5 1418.7,1510.5 1421.7,1510.5 1424.7,1510.5 1427.7,1510.5 1430.6,1510.5 1433.6,1510.5 1436.6,1510.5 1439.6,1510.4 1442.5,1510.5 1445.5,1510.4 1448.5,1510.3 1451.5,1510.1 1454.4,1509.6 1457.4,1508.9 1460.4,1507.8 1463.3,1506.2 1466.3,1504.1 1469.3,1501.6 1472.3,1498.6 1475.2,1495.3 1478.2,1491.7 1481.2,1488.1 1484.2,1484.7 1487.1,1481.4 1490.1,1478.5 1493.1,1476.0 1496.1,1474.0 1499.0,1472.3 1502.0,1471.0 1505.0,1470.0 1508.0,1469.4 1510.9,1468.9 1513.9,1468.7 1516.9,1468.5 1519.9,1468.5 1522.8,1468.4 1525.8,1468.4 1528.8,1468.4 1531.8,1468.4 1534.7,1468.4 1537.7,1468.5 1540.7,1468.6 1543.6,1468.7 1546.6,1469.1 1549.6,1469.6 1552.6,1470.5 1555.5,1471.6 1558.5,1473.2 1561.5,1475.3 1564.5,1477.8 1567.4,1480.7 1570.4,1484.1 1573.4,1487.7 1576.4,1491.5 1579.3,1495.3 1582.3,1498.8 1585.3,1502.0 1588.3,1504.6 1591.2,1506.7 1594.2,1508.3 1597.2,1509.4 1600.2,1510.1 1603.1,1510.5 1606.1,1510.7 1609.1,1510.8 1612.0,1510.8 1615.0,1510.8 1618.0,1510.8 1621.0,1510.8 1623.9,1510.7 1626.9,1510.7 1629.9,1510.6 1632.9,1510.5 1635.8,1510.3 1638.8,1510.1 1641.8,1509.8 1644.8,1509.5 1647.7,1509.0 1650.7,1508.4 1653.7,1507.7 1656.7,1506.8 1659.6,1505.7 1662.6,1504.3 1665.6,1502.8 1668.6,1501.0 1671.5,1499.0 1674.5,1496.8 1677.5,1494.3 1680.5,1491.7 1683.4,1488.9 1686.4,1486.0 1689.4,1483.1 1692.3,1480.3 1695.3,1477.6 1698.3,1475.1 1701.3,1472.9 1704.2,1471.1 1707.2,1469.7 1710.2,1468.8 1713.2,1468.4 1716.1,1468.6 1719.1,1469.2 1722.1,1470.2 1725.1,1471.6 1728.0,1473.3 1731.0,1475.3 1734.0,1477.6 1737.0,1480.1 1739.9,1482.7 1742.9,1485.3 1745.9,1488.0 1748.9,1490.5 1751.8,1493.0 1754.8,1495.4 1757.8,1497.6 1760.7,1499.6 1763.7,1501.4 1766.7,1503.1 1769.7,1504.5 1772.6,1505.7 1775.6,1506.8 1778.6,1507.7 1781.6,1508.4 1784.5,1509.1 1787.5,1509.6 1790.5,1510.0 1793.5,1510.3 1796.4,1510.6 1799.4,1510.8 1802.4,1511.0 1805.4,1511.1 1808.3,1511.2 1811.3,1511.3 1814.3,1511.4 1817.3,1511.4 1820.2,1511.5 1823.2,1511.5 1826.2,1511.5 1829.2,1511.6 1832.1,1511.6 1835.1,1511.6 1838.1,1511.6 1841.0,1511.6 1844.0,1511.6 1847.0,1511.6 1850.0,1511.6 1852.9,1511.6 1855.9,1511.6 1858.9,1511.5 1861.9,1511.4 1864.8,1511.4 1867.8,1511.2 1870.8,1511.1 1873.8,1510.9 1876.7,1510.7 1879.7,1510.6 1882.7,1510.4 1885.7,1510.2 1888.6,1510.0 1891.6,1509.8 1894.6,1509.7 1897.6,1509.7 1900.5,1509.6 1903.5,1509.7 1906.5,1509.8 1909.4,1509.9 1912.4,1510.1 1915.4,1510.3 1918.4,1510.5 1921.3,1510.7 1924.3,1511.0 1927.3,1511.2 1930.3,1511.4 1933.2,1511.6 1936.2,1511.8 1939.2,1511.9 1942.2,1512.1 1945.1,1512.2 1948.1,1512.2 1951.1,1512.3 1954.1,1512.4 1957.0,1512.4 1960.0,1512.5 1963.0,1512.5 1966.0,1512.5 1968.9,1512.4 1971.9,1512.4 1974.9,1512.3 1977.9,1512.3 1980.8,1512.3 1983.8,1512.2 1986.8,1512.2 1989.7,1512.1 1992.7,1512.1 1995.7,1512.1 1998.7,1512.0 2001.6,1512.0 2004.6,1511.9 2007.6,1511.9 2010.6,1511.9 2013.5,1511.8 2016.5,1511.8 2019.5,1511.7 2022.5,1511.7 2025.4,1511.7 2028.4,1511.6 2031.4,1511.6 2034.4,1511.5 2037.3,1511.5 2040.3,1511.6 2043.3,1511.6 2046.3,1511.6 2049.2,1511.7 2052.2,1511.7 2055.2,1511.8 2058.1,1511.9 2061.1,1511.8 2064.1,1511.8 2067.1,1511.7 2070.0,1511.6 2073.0,1511.5 2076.0,1511.5 2079.0,1511.4 2081.9,1511.3 2084.9,1511.2 2087.9,1511.2 2090.9,1511.1 2093.8,1511.0 2096.8,1510.9 2099.8,1510.9 2102.8,1510.8 2105.7,1510.7 2108.7,1510.7 2111.7,1510.6 2114.7,1510.5 2117.6,1510.4 2120.6,1510.4 2123.6,1510.3 2126.6,1510.2 2129.5,1510.1 2132.5,1510.1 2135.5,1510.0 2138.4,1509.9 2141.4,1509.9 2144.4,1509.6 2147.4,1509.2 2150.3,1508.9 2153.3,1508.6 2156.3,1508.3 2159.3,1508.0 2162.2,1507.7 2165.2,1507.4 2168.2,1507.1 2171.2,1506.8 2174.1,1506.1 2177.1,1505.4 2180.1,1504.7 2183.1,1503.9 2186.0,1503.2 2189.0,1502.5 2192.0,1501.8 2195.0,1501.1 2197.9,1500.4 2200.9,1499.7 2203.9,1498.5 2206.8,1497.4 2209.8,1496.2 2212.8,1495.1 2215.8,1493.9 2218.7,1492.8 2221.7,1491.6 2224.7,1490.5 2227.7,1488.1 2230.6,1485.7 2233.6,1483.3 2236.6,1480.9 2239.6,1478.6 2242.5,1476.2 2245.5,1472.1 2248.5,1468.0 2251.5,1463.9 2254.4,1459.9 2257.4,1454.5 2260.4,1449.2"/>
<polyline stroke="#DB9900" points="357.0,1508.0 360.0,1507.8 363.0,1507.5 365.9,1507.3 368.9,1507.0 371.9,1506.7 374.9,1506.5 377.8,1506.2 380.8,1506.0 383.8,1505.2 386.8,1504.4 389.7,1503.6 392.7,1502.8 395.7,1502.0 398.7,1501.2 401.6,1500.4 404.6,1499.6 407.6,1498.8 410.6,1498.0 413.5,1497.0 416.5,1496.0 419.5,1495.0 422.4,1493.9 425.4,1492.9 428.4,1492.8 431.4,1492.7 434.3,1492.6 437.3,1492.5 440.3,1492.4 443.3,1492.3 446.2,1492.2 449.2,1492.0 452.2,1491.9 455.2,1491.8 458.1,1491.7 461.1,1491.6 464.1,1491.5 467.1,1491.4 470.0,1491.3 473.0,1491.2 476.0,1491.1 479.0,1491.1 481.9,1491.0 484.9,1490.9 487.9,1490.9 490.9,1490.8 493.8,1490.7 496.8,1490.6 499.8,1490.6 502.7,1490.5 505.7,1490.4 508.7,1490.4 511.7,1490.3 514.6,1490.2 517.6,1490.2 520.6,1490.1 523.6,1490.0 526.5,1489.9 529.5,1489.9 532.5,1489.8 535.5,1489.7 538.4,1489.7 541.4,1489.6 544.4,1489.5 547.4,1489.4 550.3,1489.4 553.3,1489.4 556.3,1489.3 559.3,1489.3 562.2,1489.2 565.2,1489.2 568.2,1489.1 571.1,1489.1 574.1,1489.0 577.1,1489.0 580.1,1488.9 583.0,1488.9 586.0,1488.8 589.0,1488.8 592.0,1488.7 594.9,1488.7 597.9,1488.6 600.9,1488.6 603.9,1488.6 606.8,1488.5 609.8,1488.5 612.8,1488.4 615.8,1488.4 618.7,1488.3 621.7,1488.3 624.7,1488.2 627.7,1488.4 630.6,1488.5 633.6,1488.7 636.6,1488.8 639.5,1489.0 642.5,1489.1 645.5,1489.3 648.5,1489.4 651.4,1489.6 654.4,1489.8 657.4,1489.9 660.4,1490.1 663.3,1490.2 666.3,1490.4 669.3,1490.5 672.3,1490.7 675.2,1490.8 678.2,1491.0 681.2,1491.1 684.2,1491.3 687.1,1491.5 690.1,1491.7 693.1,1491.9 696.1,1492.1 699.0,1492.3 702.0,1492.5 705.0,1492.7 708.0,1492.9 710.9,1493.1 713.9,1493.3 716.9,1493.5 719.8,1493.7 722.8,1493.9 725.8,1494.1 728.8,1494.3 731.7,1494.5 734.7,1494.8 737.7,1495.0 740.7,1495.2 743.6,1495.4 746.6,1495.5 749.6,1495.7 752.6,1495.8 755.5,1496.0 758.5,1496.1 761.5,1496.3 764.5,1496.4 767.4,1496.6 770.4,1496.7 773.4,1496.9 776.4,1497.0 779.3,1497.2 782.3,1497.4 785.3,1497.5 788.2,1497.7 791.2,1497.8 794.2,1498.0 797.2,1498.1 800.1,1498.3 803.1,1498.4 806.1,1498.5 809.1,1498.5 812.0,1498.6 815.0,1498.7 818.0,1498.7 821.0,1498.8 823.9,1498.9 826.9,1498.9 829.9,1499.0 832.9,1499.0 835.8,1499.1 838.8,1499.2 841.8,1499.2 844.8,1499.3 847.7,1499.3 850.7,1499.4 853.7,1499.5 856.7,1499.5 859.6,1499.6 862.6,1499.6 865.6,1499.6 868.5,1499.6 871.5,1499.5 874.5,1499.5 877.5,1499.3 880.4,1499.2 883.4,1498.9 886.4,1498.5 889.4,1498.7 892.3,1498.6 895.3,1498.2 898.3,1497.5 901.3,1496.2 904.2,1494.3 907.2,1491.7 910.2,1488.3 913.2,1484.0 916.1,1478.8 919.1,1472.2 922.1,1464.7 925.1,1456.7 928.0,1448.2 931.0,1439.5 934.0,1431.1 937.0,1423.3 939.9,1416.5 942.9,1411.0 945.9,1407.1 948.8,1405.0 951.8,1404.9 954.8,1405.8 957.8,1407.7 960.7,1410.4 963.7,1413.9 966.7,1418.1 969.7,1422.9 972.6,1428.2 975.6,1433.9 978.6,1439.8 981.6,1445.9 984.5,1451.8 987.5,1457.8 990.5,1463.5 993.5,1469.0 996.4,1474.2 999.4,1479.0 1002.4,1483.5 1005.4,1487.5 1008.3,1491.2 1011.3,1494.4 1014.3,1497.2 1017.2,1499.7 1020.2,1501.8 1023.2,1503.6 1026.2,1505.2 1029.1,1506.4 1032.1,1507.5 1035.1,1508.4 1038.1,1509.1 1041.0,1509.7 1044.0,1510.1 1047.0,1510.4 1050.0,1510.7 1052.9,1510.9 1055.9,1511.1 1058.9,1511.2 1061.9,1511.3 1064.8,1511.4 1067.8,1511.5 1070.8,1511.5 1073.8,1511.6 1076.7,1511.6 1079.7,1511.6 1082.7,1511.7 1085.7,1511.7 1088.6,1511.7 1091.6,1511.7 1094.6,1511.8 1097.5,1511.8 1100.5,1511.8 1103.5,1511.8 1106.5,1511.8 1109.4,1511.9 1112.4,1511.9 1115.4,1511.9 1118.4,1511.9 1121.3,1511.9 1124.3,1512.0 1127.3,1512.0 1130.3,1512.0 1133.2,1512.0 1136.2,1512.0 1139.2,1512.1 1142.2,1512.1 1145.1,1512.1 1148.1,1512.1 1151.1,1512.1 1154.1,1512.2 1157.0,1512.2 1160.0,1512.2 1163.0,1512.2 1165.9,1512.2 1168.9,1512.2 1171.9,1512.2 1174.9,1512.2 1177.8,1512.2 1180.8,1512.2 1183.8,1512.2 1186.8,1512.2 1189.7,1512.1 1192.7,1512.1 1195.7,1512.0 1198.7,1511.8 1201.6,1511.6 1204.6,1511.2 1207.6,1510.6 1210.6,1509.8 1213.5,1508.5 1216.5,1506.7 1219.5,1504.2 1222.5,1500.8 1225.4,1496.3 1228.4,1490.5 1231.4,1483.0 1234.3,1473.8 1237.3,1462.7 1240.3,1449.5 1243.3,1434.5 1246.2,1417.7 1249.2,1399.5 1252.2,1380.4 1255.2,1361.1 1258.1,1342.4 1261.1,1325.1 1264.1,1310.1 1267.1,1298.2 1270.0,1289.9 1273.0,1285.9 1276.0,1286.0 1279.0,1288.5 1281.9,1293.4 1284.9,1300.4 1287.9,1309.4 1290.9,1320.0 1293.8,1331.9 1296.8,1344.9 1299.8,1358.6 1302.8,1372.6 1305.7,1386.7 1308.7,1400.5 1311.7,1413.8 1314.6,1426.4 1317.6,1438.2 1320.6,1449.0 1323.6,1458.7 1326.5,1467.4 1329.5,1475.1 1332.5,1481.7 1335.5,1487.3 1338.4,1492.1 1341.4,1496.1 1344.4,1499.3 1347.4,1502.0 1350.3,1504.1 1353.3,1505.8 1356.3,1507.1 1359.3,1508.1 1362.2,1508.8 1365.2,1509.4 1368.2,1509.8 1371.2,1510.2 1374.1,1510.4 1377.1,1510.6 1380.1,1510.7 1383.1,1510.8 1386.0,1510.9 1389.0,1510.9 1392.0,1510.9 1394.9,1510.9 1397.9,1511.0 1400.9,1511.0 1403.9,1511.0 1406.8,1511.0 1409.8,1511.0 1412.8,1511.0 1415.8,1511.0 1418.7,1511.0 1421.7,1511.0 1424.7,1511.0 1427.7,1511.0 1430.6,1511.0 1433.6,1511.0 1436.6,1511.0 1439.6,1511.0 1442.5,1511.0 1445.5,1510.9 1448.5,1510.9 1451.5,1510.7 1454.4,1510.3 1457.4,1509.7 1460.4,1508.8 1463.3,1507.5 1466.3,1505.8 1469.3,1503.7 1472.3,1501.2 1475.2,1498.5 1478.2,1495.5 1481.2,1492.6 1484.2,1489.7 1487.1,1487.0 1490.1,1484.6 1493.1,1482.6 1496.1,1480.9 1499.0,1479.5 1502.0,1478.4 1505.0,1477.6 1508.0,1477.1 1510.9,1476.7 1513.9,1476.5 1516.9,1476.4 1519.9,1476.3 1522.8,1476.3 1525.8,1476.3 1528.8,1476.3 1531.8,1476.3 1534.7,1476.3 1537.7,1476.3 1540.7,1476.4 1543.6,1476.5 1546.6,1476.8 1549.6,1477.3 1552.6,1478.0 1555.5,1478.9 1558.5,1480.2 1561.5,1481.9 1564.5,1484.0 1567.4,1486.4 1570.4,1489.2 1573.4,1492.2 1576.4,1495.4 1579.3,1498.5 1582.3,1501.4 1585.3,1504.0 1588.3,1506.2 1591.2,1508.0 1594.2,1509.3 1597.2,1510.2 1600.2,1510.7 1603.1,1511.1 1606.1,1511.2 1609.1,1511.3 1612.0,1511.3 1615.0,1511.3 1618.0,1511.3 1621.0,1511.3 1623.9,1511.3 1626.9,1511.2 1629.9,1511.1 1632.9,1511.0 1635.8,1510.9 1638.8,1510.7 1641.8,1510.4 1644.8,1510.1 1647.7,1509.7 1650.7,1509.2 1653.7,1508.6 1656.7,1507.8 1659.6,1506.9 1662.6,1505.8 1665.6,1504.5 1668.6,1503.0 1671.5,1501.4 1674.5,1499.5 1677.5,1497.5 1680.5,1495.4 1683.4,1493.1 1686.4,1490.7 1689.4,1488.4 1692.3,1486.1 1695.3,1483.9 1698.3,1481.9 1701.3,1480.2 1704.2,1478.7 1707.2,1477.6 1710.2,1476.9 1713.2,1476.6 1716.1,1476.7 1719.1,1477.2 1722.1,1478.0 1725.1,1479.1 1728.0,1480.5 1731.0,1482.2 1734.0,1484.0 1737.0,1486.0 1739.9,1488.1 1742.9,1490.2 1745.9,1492.4 1748.9,1494.5 1751.8,1496.5 1754.8,1498.5 1757.8,1500.3 1760.7,1501.9 1763.7,1503.4 1766.7,1504.8 1769.7,1506.0 1772.6,1507.0 1775.6,1507.9 1778.6,1508.7 1781.6,1509.3 1784.5,1509.8 1787.5,1510.3 1790.5,1510.7 1793.5,1511.0 1796.4,1511.2 1799.4,1511.4 1802.4,1511.5 1805.4,1511.7 1808.3,1511.8 1811.3,1511.8 1814.3,1511.9 1817.3,1511.9 1820.2,1512.0 1823.2,1512.0 1826.2,1512.1 1829.2,1512.1 1832.1,1512.1 1835.1,1512.1 1838.1,1512.1 1841.0,1512.1 1844.0,1512.2 1847.0,1512.1 1850.0,1512.1 1852.9,1512.1 1855.9,1512.1 1858.9,1512.0 1861.9,1511.9 1864.8,1511.8 1867.8,1511.7 1870.8,1511.5 1873.8,1511.3 1876.7,1511.1 1879.7,1510.9 1882.7,1510.7 1885.7,1510.4 1888.6,1510.2 1891.6,1510.1 1894.6,1510.0 1897.6,1509.9 1900.5,1509.9 1903.5,1509.9 1906.5,1510.0 1909.4,1510.1 1912.4,1510.3 1915.4,1510.6 1918.4,1510.8 1921.3,1511.1 1924.3,1511.3 1927.3,1511.6 1930.3,1511.8 1933.2,1512.0 1936.2,1512.2 1939.2,1512.4 1942.2,1512.5 1945.1,1512.6 1948.1,1512.7 1951.1,1512.8 1954.1,1512.9 1957.0,1512.9 1960.0,1513.0 1963.0,1513.0 1966.0,1513.0 1968.9,1512.9 1971.9,1512.9 1974.9,1512.9 1977.9,1512.8 1980.8,1512.8 1983.8,1512.7 1986.8,1512.7 1989.7,1512.7 1992.7,1512.6 1995.7,1512.6 1998.7,1512.5 2001.6,1512.5 2004.6,1512.4 2007.6,1512.4 2010.6,1512.4 2013.5,1512.3 2016.5,1512.3 2019.5,1512.2 2022.5,1512.2 2025.4,1512.2 2028.4,1512.1 2031.4,1512.1 2034.4,1512.0 2037.3,1512.0 2040.3,1511.9 2043.3,1511.9 2046.3,1511.9 2049.2,1511.9 2052.2,1511.9 2055.2,1511.9 2058.1,1511.9 2061.1,1511.8 2064.1,1511.7 2067.1,1511.6 2070.0,1511.5 2073.0,1511.4 2076.0,1511.3 2079.0,1511.2 2081.9,1511.1 2084.9,1511.0 2087.9,1510.9 2090.9,1510.9 2093.8,1510.8 2096.8,1510.7 2099.8,1510.6 2102.8,1510.5 2105.7,1510.4 2108.7,1510.3 2111.7,1510.2 2114.7,1510.1 2117.6,1510.0 2120.6,1509.9 2123.6,1509.8 2126.6,1509.7 2129.5,1509.6 2132.5,1509.5 2135.5,1509.4 2138.4,1509.3 2141.4,1509.2 2144.4,1508.9 2147.4,1508.6 2150.3,1508.2 2153.3,1507.9 2156.3,1507.5 2159.3,1507.2 2162.2,1506.8 2165.2,1506.5 2168.2,1506.1 2171.2,1505.8 2174.1,1505.0 2177.1,1504.1 2180.1,1503.3 2183.1,1502.5 2186.0,1501.7 2189.0,1500.9 2192.0,1500.1 2195.0,1499.2 2197.9,1498.4 2200.9,1497.6 2203.9,1496.5 2206.8,1495.3 2209.8,1494.2 2212.8,1493.0 2215.8,1491.9 2218.7,1490.7 2221.7,1489.6 2224.7,1488.4 2227.7,1485.7 2230.6,1483.0 2233.6,1480.3 2236.6,1477.5 2239.6,1474.8 2242.5,1472.1 2245.5,1466.5 2248.5,1460.9 2251.5,1455.3 2254.4,1449.6 2257.4,1443.9 2260.4,1438.2"/>
<polyline stroke="#00CCCC" points="357.0,1507.6 360.0,1507.3 363.0,1507.1 365.9,1506.8 368.9,1506.5 371.9,1506.3 374.9,1506.0 377.8,1505.7 380.8,1505.5 383.8,1504.7 386.8,1503.8 389.7,1503.0 392.7,1502.2 395.7,1501.4 398.7,1500.6 401.6,1499.8 404.6,1498.9 407.6,1498.1 410.6,1497.3 413.5,1496.2 416.5,1495.2 419.5,1494.1 422.4,1493.1 425.4,1492.0 428.4,1491.9 431.4,1491.8 434.3,1491.7 437.3,1491.5 440.3,1491.4 443.3,1491.3 446.2,1491.2 449.2,1491.1 452.2,1491.0 455.2,1490.8 458.1,1490.7 461.1,1490.6 464.1,1490.5 467.1,1490.4 470.0,1490.3 473.0,1490.2 476.0,1490.1 479.0,1490.1 481.9,1490.0 484.9,1489.9 487.9,1489.8 490.9,1489.8 493.8,1489.7 496.8,1489.6 499.8,1489.6 502.7,1489.5 505.7,1489.4 508.7,1489.3 511.7,1489.3 514.6,1489.2 517.6,1489.1 520.6,1489.1 523.6,1489.0 526.5,1488.9 529.5,1488.8 532.5,1488.8 535.5,1488.7 538.4,1488.6 541.4,1488.6 544.4,1488.5 547.4,1488.4 550.3,1488.4 553.3,1488.3 556.3,1488.3 559.3,1488.2 562.2,1488.2 565.2,1488.1 568.2,1488.1 571.1,1488.0 574.1,1488.0 577.1,1488.0 580.1,1487.9 583.0,1487.9 586.0,1487.8 589.0,1487.8 592.0,1487.7 594.9,1487.7 597.9,1487.6 600.9,1487.6 603.9,1487.5 606.8,1487.5 609.8,1487.4 612.8,1487.4 615.8,1487.3 618.7,1487.3 621.7,1487.2 624.7,1487.2 627.7,1487.4 630.6,1487.5 633.6,1487.7 636.6,1487.8 639.5,1488.0 642.5,1488.1 645.5,1488.3 648.5,1488.4 651.4,1488.6 654.4,1488.7 657.4,1488.9 660.4,1489.0 663.3,1489.2 666.3,1489.3 669.3,1489.5 672.3,1489.7 675.2,1489.8 678.2,1490.0 681.2,1490.1 684.2,1490.3 687.1,1490.5 690.1,1490.7 693.1,1490.9 696.1,1491.1 699.0,1491.3 702.0,1491.5 705.0,1491.8 708.0,1492.0 710.9,1492.2 713.9,1492.4 716.9,1492.6 719.8,1492.8 722.8,1493.0 725.8,1493.3 728.8,1493.5 731.7,1493.7 734.7,1493.9 737.7,1494.1 740.7,1494.3 743.6,1494.5 746.6,1494.7 749.6,1494.9 752.6,1495.0 755.5,1495.2 758.5,1495.4 761.5,1495.5 764.5,1495.7 767.4,1495.9 770.4,1496.0 773.4,1496.2 776.4,1496.3 779.3,1496.5 782.3,1496.7 785.3,1496.8 788.2,1497.0 791.2,1497.2 794.2,1497.3 797.2,1497.5 800.1,1497.7 803.1,1497.8 806.1,1497.9 809.1,1497.9 812.0,1498.0 815.0,1498.1 818.0,1498.1 821.0,1498.2 823.9,1498.3 826.9,1498.3 829.9,1498.4 832.9,1498.5 835.8,1498.5 838.8,1498.6 841.8,1498.7 844.8,1498.7 847.7,1498.8 850.7,1498.9 853.7,1498.9 856.7,1499.0 859.6,1499.1 862.6,1499.1 865.6,1499.2 868.5,1499.2 871.5,1499.2 874.5,1499.2 877.5,1499.2 880.4,1499.1 883.4,1498.9 886.4,1498.6 889.4,1498.9 892.3,1498.9 895.3,1498.7 898.3,1498.2 901.3,1497.2 904.2,1495.7 907.2,1493.6 910.2,1490.8 913.2,1487.3 916.1,1483.1 919.1,1477.5 922.1,1471.2 925.1,1464.4 928.0,1457.3 931.0,1450.2 934.0,1443.2 937.0,1436.7 939.9,1431.1 942.9,1426.5 945.9,1423.4 948.8,1421.7 951.8,1421.6 954.8,1422.4 957.8,1424.0 960.7,1426.2 963.7,1429.2 966.7,1432.7 969.7,1436.7 972.6,1441.1 975.6,1445.8 978.6,1450.8 981.6,1455.8 984.5,1460.8 987.5,1465.8 990.5,1470.6 993.5,1475.3 996.4,1479.7 999.4,1483.8 1002.4,1487.5 1005.4,1491.0 1008.3,1494.1 1011.3,1496.9 1014.3,1499.3 1017.2,1501.5 1020.2,1503.3 1023.2,1504.9 1026.2,1506.3 1029.1,1507.4 1032.1,1508.3 1035.1,1509.1 1038.1,1509.8 1041.0,1510.3 1044.0,1510.7 1047.0,1511.0 1050.0,1511.3 1052.9,1511.5 1055.9,1511.6 1058.9,1511.7 1061.9,1511.8 1064.8,1511.9 1067.8,1512.0 1070.8,1512.0 1073.8,1512.1 1076.7,1512.1 1079.7,1512.1 1082.7,1512.2 1085.7,1512.2 1088.6,1512.2 1091.6,1512.2 1094.6,1512.3 1097.5,1512.3 1100.5,1512.3 1103.5,1512.3 1106.5,1512.3 1109.4,1512.4 1112.4,1512.4 1115.4,1512.4 1118.4,1512.4 1121.3,1512.4 1124.3,1512.5 1127.3,1512.5 1130.3,1512.5 1133.2,1512.5 1136.2,1512.6 1139.2,1512.6 1142.2,1512.6 1145.1,1512.6 1148.1,1512.6 1151.1,1512.7 1154.1,1512.7 1157.0,1512.7 1160.0,1512.7 1163.0,1512.7 1165.9,1512.7 1168.9,1512.7 1171.9,1512.7 1174.9,1512.7 1177.8,1512.7 1180.8,1512.7 1183.8,1512.7 1186.8,1512.7 1189.7,1512.6 1192.7,1512.6 1195.7,1512.5 1198.7,1512.3 1201.6,1512.1 1204.6,1511.8 1207.6,1511.2 1210.6,1510.5 1213.5,1509.4 1216.5,1507.8 1219.5,1505.6 1222.5,1502.7 1225.4,1498.8 1228.4,1493.8 1231.4,1487.5 1234.3,1479.7 1237.3,1470.3 1240.3,1459.4 1243.3,1446.9 1246.2,1433.0 1249.2,1418.0 1252.2,1402.3 1255.2,1386.6 1258.1,1371.3 1261.1,1357.2 1264.1,1345.1 1267.1,1335.4 1270.0,1328.7 1273.0,1325.4 1276.0,1325.5 1279.0,1327.6 1281.9,1331.5 1284.9,1337.2 1287.9,1344.4 1290.9,1353.0 1293.8,1362.7 1296.8,1373.3 1299.8,1384.4 1302.8,1395.9 1305.7,1407.4 1308.7,1418.7 1311.7,1429.7 1314.6,1440.1 1317.6,1449.8 1320.6,1458.8 1323.6,1466.9 1326.5,1474.2 1329.5,1480.6 1332.5,1486.2 1335.5,1491.0 1338.4,1495.0 1341.4,1498.4 1344.4,1501.2 1347.4,1503.5 1350.3,1505.4 1353.3,1506.8 1356.3,1508.0 1359.3,1508.9 1362.2,1509.5 1365.2,1510.0 1368.2,1510.4 1371.2,1510.7 1374.1,1510.9 1377.1,1511.1 1380.1,1511.2 1383.1,1511.3 1386.0,1511.4 1389.0,1511.4 1392.0,1511.4 1394.9,1511.5 1397.9,1511.5 1400.9,1511.5 1403.9,1511.5 1406.8,1511.5 1409.8,1511.5 1412.8,1511.5 1415.8,1511.5 1418.7,1511.5 1421.7,1511.5 1424.7,1511.5 1427.7,1511.5 1430.6,1511.5 1433.6,1511.5 1436.6,1511.5 1439.6,1511.5 1442.5,1511.5 1445.5,1511.5 1448.5,1511.4 1451.5,1511.3 1454.4,1511.0 1457.4,1510.5 1460.4,1509.8 1463.3,1508.8 1466.3,1507.5 1469.3,1505.8 1472.3,1503.9 1475.2,1501.8 1478.2,1499.5 1481.2,1497.1 1484.2,1494.9 1487.1,1492.8 1490.1,1490.9 1493.1,1489.3 1496.1,1487.9 1499.0,1486.8 1502.0,1486.0 1505.0,1485.4 1508.0,1485.0 1510.9,1484.7 1513.9,1484.5 1516.9,1484.4 1519.9,1484.4 1522.8,1484.3 1525.8,1484.3 1528.8,1484.3 1531.8,1484.3 1534.7,1484.3 1537.7,1484.4 1540.7,1484.4 1543.6,1484.5 1546.6,1484.8 1549.6,1485.1 1552.6,1485.7 1555.5,1486.4 1558.5,1487.5 1561.5,1488.8 1564.5,1490.4 1567.4,1492.3 1570.4,1494.5 1573.4,1496.9 1576.4,1499.3 1579.3,1501.8 1582.3,1504.1 1585.3,1506.1 1588.3,1507.8 1591.2,1509.2 1594.2,1510.2 1597.2,1510.9 1600.2,1511.4 1603.1,1511.6 1606.1,1511.8 1609.1,1511.8 1612.0,1511.9 1615.0,1511.9 1618.0,1511.8 1621.0,1511.8 1623.9,1511.8 1626.9,1511.7 1629.9,1511.7 1632.9,1511.6 1635.8,1511.5 1638.8,1511.3 1641.8,1511.1 1644.8,1510.8 1647.7,1510.5 1650.7,1510.1 1653.7,1509.6 1656.7,1508.9 1659.6,1508.2 1662.6,1507.3 1665.6,1506.3 1668.6,1505.1 1671.5,1503.8 1674.5,1502.3 1677.5,1500.7 1680.5,1499.0 1683.4,1497.2 1686.4,1495.4 1689.4,1493.5 1692.3,1491.7 1695.3,1490.0 1698.3,1488.5 1701.3,1487.1 1704.2,1486.0 1707.2,1485.1 1710.2,1484.6 1713.2,1484.3 1716.1,1484.4 1719.1,1484.8 1722.1,1485.4 1725.1,1486.3 1728.0,1487.4 1731.0,1488.7 1734.0,1490.1 1737.0,1491.7 1739.9,1493.3 1742.9,1495.0 1745.9,1496.7 1748.9,1498.3 1751.8,1499.9 1754.8,1501.5 1757.8,1502.9 1760.7,1504.2 1763.7,1505.4 1766.7,1506.5 1769.7,1507.5 1772.6,1508.3 1775.6,1509.1 1778.6,1509.7 1781.6,1510.2 1784.5,1510.7 1787.5,1511.0 1790.5,1511.3 1793.5,1511.6 1796.4,1511.8 1799.4,1512.0 1802.4,1512.1 1805.4,1512.2 1808.3,1512.3 1811.3,1512.4 1814.3,1512.4 1817.3,1512.5 1820.2,1512.5 1823.2,1512.5 1826.2,1512.6 1829.2,1512.6 1832.1,1512.6 1835.1,1512.6 1838.1,1512.6 1841.0,1512.7 1844.0,1512.7 1847.0,1512.6 1850.0,1512.6 1852.9,1512.6 1855.9,1512.5 1858.9,1512.5 1861.9,1512.4 1864.8,1512.2 1867.8,1512.1 1870.8,1511.9 1873.8,1511.7 1876.7,1511.5 1879.7,1511.2 1882.7,1511.0 1885.7,1510.7 1888.6,1510.5 1891.6,1510.3 1894.6,1510.2 1897.6,1510.1 1900.5,1510.1 1903.5,1510.1 1906.5,1510.2 1909.4,1510.4 1912.4,1510.6 1915.4,1510.8 1918.4,1511.1 1921.3,1511.4 1924.3,1511.7 1927.3,1512.0 1930.3,1512.2 1933.2,1512.5 1936.2,1512.7 1939.2,1512.9 1942.2,1513.0 1945.1,1513.1 1948.1,1513.2 1951.1,1513.3 1954.1,1513.4 1957.0,1513.4 1960.0,1513.5 1963.0,1513.5 1966.0,1513.5 1968.9,1513.4 1971.9,1513.4 1974.9,1513.4 1977.9,1513.3 1980.8,1513.3 1983.8,1513.2 1986.8,1513.2 1989.7,1513.2 1992.7,1513.1 1995.7,1513.1 1998.7,1513.0 2001.6,1513.0 2004.6,1513.0 2007.6,1512.9 2010.6,1512.9 2013.5,1512.8 2016.5,1512.8 2019.5,1512.8 2022.5,1512.7 2025.4,1512.7 2028.4,1512.6 2031.4,1512.6 2034.4,1512.6 2037.3,1512.4 2040.3,1512.3 2043.3,1512.2 2046.3,1512.1 2049.2,1512.1 2052.2,1512.0 2055.2,1511.9 2058.1,1511.9 2061.1,1511.8 2064.1,1511.7 2067.1,1511.6 2070.0,1511.4 2073.0,1511.3 2076.0,1511.2 2079.0,1511.1 2081.9,1511.0 2084.9,1510.9 2087.9,1510.8 2090.9,1510.6 2093.8,1510.5 2096.8,1510.4 2099.8,1510.3 2102.8,1510.2 2105.7,1510.1 2108.7,1510.0 2111.7,1509.8 2114.7,1509.7 2117.6,1509.6 2120.6,1509.5 2123.6,1509.4 2126.6,1509.3 2129.5,1509.2 2132.5,1509.0 2135.5,1508.9 2138.4,1508.8 2141.4,1508.7 2144.4,1508.6 2147.4,1508.5 2150.3,1507.9 2153.3,1507.0 2156.3,1506.2 2159.3,1505.3 2162.2,1504.4 2165.2,1503.5 2168.2,1502.7 2171.2,1501.7 2174.1,1500.6 2177.1,1499.5 2180.1,1498.5 2183.1,1497.4 2186.0,1496.3 2189.0,1495.3 2192.0,1494.2 2195.0,1493.1 2197.9,1491.9 2200.9,1490.5 2203.9,1489.0 2206.8,1487.6 2209.8,1486.1 2212.8,1484.5 2215.8,1482.7 2218.7,1480.8 2221.7,1479.0 2224.7,1477.2 2227.7,1474.2 2230.6,1471.2 2233.6,1468.1 2236.6,1465.1 2239.6,1461.7 2242.5,1457.6 2245.5,1453.5 2248.5,1449.4 2251.5,1443.7 2254.4,1437.9 2257.4,1432.0 2260.4,1426.1"/>
<polyline stroke="#8A4C4C" points="357.0,1508.7 360.0,1508.4 363.0,1508.2 365.9,1508.0 368.9,1507.7 371.9,1507.5 374.9,1507.3 377.8,1507.0 380.8,1506.8 383.8,1506.0 386.8,1505.3 389.7,1504.5 392.7,1503.7 395.7,1503.0 398.7,1502.2 401.6,1501.5 404.6,1500.7 407.6,1499.9 410.6,1499.2 413.5,1498.2 416.5,1497.3 419.5,1496.3 422.4,1495.3 425.4,1494.4 428.4,1494.3 431.4,1494.2 434.3,1494.1 437.3,1494.0 440.3,1493.9 443.3,1493.8 446.2,1493.7 449.2,1493.6 452.2,1493.5 455.2,1493.4 458.1,1493.3 461.1,1493.2 464.1,1493.1 467.1,1493.0 470.0,1492.9 473.0,1492.8 476.0,1492.8 479.0,1492.7 481.9,1492.6 484.9,1492.6 487.9,1492.5 490.9,1492.4 493.8,1492.4 496.8,1492.3 499.8,1492.2 502.7,1492.1 505.7,1492.1 508.7,1492.0 511.7,1491.9 514.6,1491.9 517.6,1491.8 520.6,1491.7 523.6,1491.6 526.5,1491.6 529.5,1491.5 532.5,1491.4 535.5,1491.4 538.4,1491.3 541.4,1491.2 544.4,1491.1 547.4,1491.1 550.3,1491.0 553.3,1491.0 556.3,1490.9 559.3,1490.9 562.2,1490.8 565.2,1490.8 568.2,1490.7 571.1,1490.7 574.1,1490.7 577.1,1490.6 580.1,1490.6 583.0,1490.5 586.0,1490.5 589.0,1490.4 592.0,1490.4 594.9,1490.3 597.9,1490.3 600.9,1490.2 603.9,1490.2 606.8,1490.1 609.8,1490.1 612.8,1490.0 615.8,1490.0 618.7,1489.9 621.7,1489.9 624.7,1489.9 627.7,1490.0 630.6,1490.2 633.6,1490.3 636.6,1490.5 639.5,1490.6 642.5,1490.8 645.5,1490.9 648.5,1491.1 651.4,1491.2 654.4,1491.4 657.4,1491.5 660.4,1491.7 663.3,1491.8 666.3,1492.0 669.3,1492.2 672.3,1492.3 675.2,1492.5 678.2,1492.6 681.2,1492.8 684.2,1492.9 687.1,1493.1 690.1,1493.3 693.1,1493.5 696.1,1493.7 699.0,1493.9 702.0,1494.0 705.0,1494.2 708.0,1494.4 710.9,1494.6 713.9,1494.8 716.9,1495.0 719.8,1495.2 722.8,1495.4 725.8,1495.5 728.8,1495.7 731.7,1495.9 734.7,1496.1 737.7,1496.3 740.7,1496.5 743.6,1496.7 746.6,1496.8 749.6,1496.9 752.6,1497.1 755.5,1497.2 758.5,1497.4 761.5,1497.5 764.5,1497.6 767.4,1497.8 770.4,1497.9 773.4,1498.0 776.4,1498.2 779.3,1498.3 782.3,1498.4 785.3,1498.6 788.2,1498.7 791.2,1498.9 794.2,1499.0 797.2,1499.1 800.1,1499.3 803.1,1499.4 806.1,1499.5 809.1,1499.5 812.0,1499.6 815.0,1499.6 818.0,1499.7 821.0,1499.7 823.9,1499.8 826.9,1499.8 829.9,1499.9 832.9,1499.9 835.8,1500.0 838.8,1500.0 841.8,1500.1 844.8,1500.1 847.7,1500.2 850.7,1500.3 853.7,1500.3 856.7,1500.4 859.6,1500.4 862.6,1500.4 865.6,1500.3 868.5,1500.2 871.5,1500.1 874.5,1499.9 877.5,1499.7 880.4,1499.4 883.4,1499.1 886.4,1498.7 889.4,1499.1 892.3,1499.4 895.3,1499.4 898.3,1499.1 901.3,1498.5 904.2,1497.5 907.2,1496.0 910.2,1494.0 913.2,1491.4 916.1,1488.2 919.1,1483.8 922.1,1478.9 925.1,1473.6 928.0,1468.1 931.0,1462.5 934.0,1457.1 937.0,1452.1 939.9,1447.8 942.9,1444.3 945.9,1441.9 948.8,1440.6 951.8,1440.6 954.8,1441.2 957.8,1442.5 960.7,1444.3 963.7,1446.5 966.7,1449.3 969.7,1452.4 972.6,1455.9 975.6,1459.6 978.6,1463.5 981.6,1467.4 984.5,1471.4 987.5,1475.3 990.5,1479.1 993.5,1482.7 996.4,1486.2 999.4,1489.5 1002.4,1492.5 1005.4,1495.2 1008.3,1497.7 1011.3,1500.0 1014.3,1502.0 1017.2,1503.7 1020.2,1505.2 1023.2,1506.5 1026.2,1507.6 1029.1,1508.6 1032.1,1509.4 1035.1,1510.0 1038.1,1510.6 1041.0,1511.0 1044.0,1511.4 1047.0,1511.6 1050.0,1511.9 1052.9,1512.0 1055.9,1512.2 1058.9,1512.3 1061.9,1512.4 1064.8,1512.4 1067.8,1512.5 1070.8,1512.5 1073.8,1512.6 1076.7,1512.6 1079.7,1512.6 1082.7,1512.7 1085.7,1512.7 1088.6,1512.7 1091.6,1512.7 1094.6,1512.8 1097.5,1512.8 1100.5,1512.8 1103.5,1512.8 1106.5,1512.9 1109.4,1512.9 1112.4,1512.9 1115.4,1512.9 1118.4,1512.9 1121.3,1513.0 1124.3,1513.0 1127.3,1513.0 1130.3,1513.0 1133.2,1513.0 1136.2,1513.1 1139.2,1513.1 1142.2,1513.1 1145.1,1513.1 1148.1,1513.1 1151.1,1513.2 1154.1,1513.2 1157.0,1513.2 1160.0,1513.2 1163.0,1513.2 1165.9,1513.2 1168.9,1513.2 1171.9,1513.2 1174.9,1513.2 1177.8,1513.2 1180.8,1513.2 1183.8,1513.2 1186.8,1513.2 1189.7,1513.2 1192.7,1513.1 1195.7,1513.0 1198.7,1512.9 1201.6,1512.7 1204.6,1512.4 1207.6,1511.9 1210.6,1511.3 1213.5,1510.4 1216.5,1509.1 1219.5,1507.3 1222.5,1504.9 1225.4,1501.7 1228.4,1497.7 1231.4,1492.6 1234.3,1486.4 1237.3,1479.0 1240.3,1470.4 1243.3,1460.6 1246.2,1449.8 1249.2,1438.2 1252.2,1426.1 1255.2,1413.9 1258.1,1402.2 1261.1,1391.4 1264.1,1382.0 1267.1,1374.6 1270.0,1369.5 1273.0,1367.0 1276.0,1367.0 1279.0,1368.6 1281.9,1371.6 1284.9,1375.9 1287.9,1381.5 1290.9,1388.1 1293.8,1395.5 1296.8,1403.6 1299.8,1412.1 1302.8,1420.9 1305.7,1429.8 1308.7,1438.6 1311.7,1447.1 1314.6,1455.2 1317.6,1462.8 1320.6,1469.8 1323.6,1476.2 1326.5,1481.9 1329.5,1487.0 1332.5,1491.4 1335.5,1495.2 1338.4,1498.5 1341.4,1501.2 1344.4,1503.5 1347.4,1505.4 1350.3,1506.9 1353.3,1508.1 1356.3,1509.0 1359.3,1509.8 1362.2,1510.3 1365.2,1510.7 1368.2,1511.1 1371.2,1511.3 1374.1,1511.5 1377.1,1511.7 1380.1,1511.8 1383.1,1511.8 1386.0,1511.9 1389.0,1511.9 1392.0,1511.9 1394.9,1512.0 1397.9,1512.0 1400.9,1512.0 1403.9,1512.0 1406.8,1512.0 1409.8,1512.0 1412.8,1512.0 1415.8,1512.0 1418.7,1512.0 1421.7,1512.0 1424.7,1512.0 1427.7,1512.0 1430.6,1512.0 1433.6,1512.0 1436.6,1512.0 1439.6,1512.0 1442.5,1512.0 1445.5,1512.0 1448.5,1512.0 1451.5,1511.9 1454.4,1511.6 1457.4,1511.3 1460.4,1510.7 1463.3,1509.9 1466.3,1508.8 1469.3,1507.5 1472.3,1506.0 1475.2,1504.3 1478.2,1502.5 1481.2,1500.6 1484.2,1498.8 1487.1,1497.1 1490.1,1495.6 1493.1,1494.3 1496.1,1493.2 1499.0,1492.4 1502.0,1491.7 1505.0,1491.2 1508.0,1490.9 1510.9,1490.6 1513.9,1490.5 1516.9,1490.4 1519.9,1490.4 1522.8,1490.4 1525.8,1490.4 1528.8,1490.4 1531.8,1490.4 1534.7,1490.4 1537.7,1490.4 1540.7,1490.4 1543.6,1490.5 1546.6,1490.7 1549.6,1491.0 1552.6,1491.4 1555.5,1492.0 1558.5,1492.9 1561.5,1493.9 1564.5,1495.2 1567.4,1496.7 1570.4,1498.5 1573.4,1500.4 1576.4,1502.4 1579.3,1504.3 1582.3,1506.1 1585.3,1507.8 1588.3,1509.2 1591.2,1510.3 1594.2,1511.1 1597.2,1511.6 1600.2,1512.0 1603.1,1512.2 1606.1,1512.3 1609.1,1512.4 1612.0,1512.4 1615.0,1512.4 1618.0,1512.4 1621.0,1512.3 1623.9,1512.3 1626.9,1512.3 1629.9,1512.2 1632.9,1512.1 1635.8,1512.0 1638.8,1511.9 1641.8,1511.7 1644.8,1511.5 1647.7,1511.2 1650.7,1510.8 1653.7,1510.4 1656.7,1509.9 1659.6,1509.3 1662.6,1508.5 1665.6,1507.7 1668.6,1506.7 1671.5,1505.6 1674.5,1504.4 1677.5,1503.1 1680.5,1501.8 1683.4,1500.3 1686.4,1498.8 1689.4,1497.4 1692.3,1495.9 1695.3,1494.6 1698.3,1493.3 1701.3,1492.3 1704.2,1491.4 1707.2,1490.7 1710.2,1490.2 1713.2,1490.1 1716.1,1490.1 1719.1,1490.4 1722.1,1490.9 1725.1,1491.6 1728.0,1492.5 1731.0,1493.5 1734.0,1494.7 1737.0,1495.9 1739.9,1497.2 1742.9,1498.6 1745.9,1499.9 1748.9,1501.3 1751.8,1502.6 1754.8,1503.8 1757.8,1505.0 1760.7,1506.1 1763.7,1507.1 1766.7,1508.0 1769.7,1508.7 1772.6,1509.4 1775.6,1510.1 1778.6,1510.6 1781.6,1511.0 1784.5,1511.4 1787.5,1511.7 1790.5,1512.0 1793.5,1512.2 1796.4,1512.4 1799.4,1512.5 1802.4,1512.6 1805.4,1512.7 1808.3,1512.8 1811.3,1512.9 1814.3,1512.9 1817.3,1513.0 1820.2,1513.0 1823.2,1513.0 1826.2,1513.1 1829.2,1513.1 1832.1,1513.1 1835.1,1513.1 1838.1,1513.2 1841.0,1513.2 1844.0,1513.2 1847.0,1513.2 1850.0,1513.1 1852.9,1513.1 1855.9,1513.0 1858.9,1512.9 1861.9,1512.8 1864.8,1512.7 1867.8,1512.5 1870.8,1512.3 1873.8,1512.1 1876.7,1511.8 1879.7,1511.6 1882.7,1511.3 1885.7,1511.0 1888.6,1510.8 1891.6,1510.6 1894.6,1510.4 1897.6,1510.3 1900.5,1510.3 1903.5,1510.3 1906.5,1510.4 1909.4,1510.6 1912.4,1510.8 1915.4,1511.1 1918.4,1511.4 1921.3,1511.7 1924.3,1512.0 1927.3,1512.3 1930.3,1512.6 1933.2,1512.9 1936.2,1513.1 1939.2,1513.3 1942.2,1513.5 1945.1,1513.6 1948.1,1513.7 1951.1,1513.8 1954.1,1513.9 1957.0,1513.9 1960.0,1514.0 1963.0,1514.0 1966.0,1514.0 1968.9,1513.9 1971.9,1513.9 1974.9,1513.9 1977.9,1513.8 1980.8,1513.8 1983.8,1513.8 1986.8,1513.7 1989.7,1513.7 1992.7,1513.6 1995.7,1513.6 1998.7,1513.6 2001.6,1513.5 2004.6,1513.5 2007.6,1513.4 2010.6,1513.4 2013.5,1513.3 2016.5,1513.3 2019.5,1513.3 2022.5,1513.2 2025.4,1513.2 2028.4,1513.1 2031.4,1513.1 2034.4,1513.1 2037.3,1512.9 2040.3,1512.7 2043.3,1512.5 2046.3,1512.4 2049.2,1512.3 2052.2,1512.1 2055.2,1512.0 2058.1,1511.9 2061.1,1511.8 2064.1,1511.8 2067.1,1511.7 2070.0,1511.6 2073.0,1511.5 2076.0,1511.5 2079.0,1511.4 2081.9,1511.3 2084.9,1511.2 2087.9,1511.2 2090.9,1511.1 2093.8,1511.0 2096.8,1510.9 2099.8,1510.9 2102.8,1510.8 2105.7,1510.7 2108.7,1510.7 2111.7,1510.6 2114.7,1510.5 2117.6,1510.4 2120.6,1510.4 2123.6,1510.3 2126.6,1510.2 2129.5,1510.1 2132.5,1510.1 2135.5,1510.0 2138.4,1509.9 2141.4,1509.9 2144.4,1509.6 2147.4,1509.4 2150.3,1509.2 2153.3,1509.0 2156.3,1508.8 2159.3,1508.6 2162.2,1508.3 2165.2,1508.1 2168.2,1507.9 2171.2,1507.2 2174.1,1506.1 2177.1,1505.0 2180.1,1504.0 2183.1,1502.9 2186.0,1501.9 2189.0,1500.8 2192.0,1499.7 2195.0,1498.7 2197.9,1497.5 2200.9,1496.3 2203.9,1495.1 2206.8,1494.0 2209.8,1492.8 2212.8,1491.6 2215.8,1490.4 2218.7,1488.5 2221.7,1485.8 2224.7,1483.0 2227.7,1480.2 2230.6,1477.5 2233.6,1474.7 2236.6,1471.9 2239.6,1468.3 2242.5,1463.6 2245.5,1458.8 2248.5,1454.0 2251.5,1449.2 2254.4,1444.4 2257.4,1440.3 2260.4,1436.6"/>
<polyline stroke="#8C8C00" points="357.0,1508.2 360.0,1507.9 363.0,1507.7 365.9,1507.4 368.9,1507.2 371.9,1506.9 374.9,1506.7 377.8,1506.4 380.8,1506.2 383.8,1505.4 386.8,1504.6 389.7,1503.8 392.7,1503.0 395.7,1502.2 398.7,1501.5 401.6,1500.7 404.6,1499.9 407.6,1499.1 410.6,1498.3 413.5,1497.3 416.5,1496.3 419.5,1495.3 422.4,1494.3 425.4,1493.3 428.4,1493.2 431.4,1493.1 434.3,1493.0 437.3,1492.9 440.3,1492.8 443.3,1492.6 446.2,1492.5 449.2,1492.4 452.2,1492.3 455.2,1492.2 458.1,1492.1 461.1,1492.0 464.1,1491.9 467.1,1491.8 470.0,1491.7 473.0,1491.6 476.0,1491.6 479.0,1491.5 481.9,1491.4 484.9,1491.3 487.9,1491.3 490.9,1491.2 493.8,1491.1 496.8,1491.1 499.8,1491.0 502.7,1490.9 505.7,1490.8 508.7,1490.8 511.7,1490.7 514.6,1490.6 517.6,1490.6 520.6,1490.5 523.6,1490.4 526.5,1490.3 529.5,1490.3 532.5,1490.2 535.5,1490.1 538.4,1490.1 541.4,1490.0 544.4,1489.9 547.4,1489.9 550.3,1489.8 553.3,1489.8 556.3,1489.7 559.3,1489.7 562.2,1489.6 565.2,1489.6 568.2,1489.5 571.1,1489.5 574.1,1489.4 577.1,1489.4 580.1,1489.3 583.0,1489.3 586.0,1489.2 589.0,1489.2 592.0,1489.1 594.9,1489.1 597.9,1489.1 600.9,1489.0 603.9,1489.0 606.8,1488.9 609.8,1488.9 612.8,1488.8 615.8,1488.8 618.7,1488.7 621.7,1488.7 624.7,1488.6 627.7,1488.8 630.6,1488.9 633.6,1489.1 636.6,1489.2 639.5,1489.4 642.5,1489.5 645.5,1489.7 648.5,1489.9 651.4,1490.0 654.4,1490.2 657.4,1490.3 660.4,1490.5 663.3,1490.6 666.3,1490.8 669.3,1490.9 672.3,1491.1 675.2,1491.2 678.2,1491.4 681.2,1491.5 684.2,1491.7 687.1,1491.9 690.1,1492.1 693.1,1492.3 696.1,1492.5 699.0,1492.7 702.0,1492.9 705.0,1493.1 708.0,1493.3 710.9,1493.5 713.9,1493.7 716.9,1493.9 719.8,1494.1 722.8,1494.3 725.8,1494.5 728.8,1494.7 731.7,1494.9 734.7,1495.1 737.7,1495.3 740.7,1495.5 743.6,1495.7 746.6,1495.8 749.6,1496.0 752.6,1496.1 755.5,1496.3 758.5,1496.4 761.5,1496.6 764.5,1496.7 767.4,1496.9 770.4,1497.0 773.4,1497.2 776.4,1497.3 779.3,1497.5 782.3,1497.6 785.3,1497.8 788.2,1497.9 791.2,1498.1 794.2,1498.2 797.2,1498.4 800.1,1498.5 803.1,1498.7 806.1,1498.7 809.1,1498.8 812.0,1498.8 815.0,1498.9 818.0,1499.0 821.0,1499.0 823.9,1499.1 826.9,1499.1 829.9,1499.2 832.9,1499.3 835.8,1499.3 838.8,1499.4 841.8,1499.4 844.8,1499.5 847.7,1499.6 850.7,1499.6 853.7,1499.7 856.7,1499.7 859.6,1499.8 862.6,1499.8 865.6,1499.8 868.5,1499.7 871.5,1499.7 874.5,1499.6 877.5,1499.5 880.4,1499.4 883.4,1499.1 886.4,1498.9 889.4,1499.4 892.3,1499.8 895.3,1500.1 898.3,1500.1 901.3,1499.8 904.2,1499.2 907.2,1498.3 910.2,1497.0 913.2,1495.2 916.1,1493.0 919.1,1489.6 922.1,1485.9 925.1,1481.9 928.0,1477.8 931.0,1473.6 934.0,1469.5 937.0,1465.8 939.9,1462.6 942.9,1460.0 945.9,1458.2 948.8,1457.3 951.8,1457.3 954.8,1457.8 957.8,1458.8 960.7,1460.2 963.7,1461.9 966.7,1464.0 969.7,1466.4 972.6,1469.0 975.6,1471.9 978.6,1474.8 981.6,1477.9 984.5,1480.9 987.5,1483.8 990.5,1486.7 993.5,1489.6 996.4,1492.2 999.4,1494.7 1002.4,1497.1 1005.4,1499.2 1008.3,1501.2 1011.3,1502.9 1014.3,1504.5 1017.2,1505.9 1020.2,1507.1 1023.2,1508.1 1026.2,1509.0 1029.1,1509.7 1032.1,1510.4 1035.1,1510.9 1038.1,1511.4 1041.0,1511.8 1044.0,1512.0 1047.0,1512.3 1050.0,1512.5 1052.9,1512.6 1055.9,1512.7 1058.9,1512.8 1061.9,1512.9 1064.8,1513.0 1067.8,1513.0 1070.8,1513.1 1073.8,1513.1 1076.7,1513.1 1079.7,1513.2 1082.7,1513.2 1085.7,1513.2 1088.6,1513.2 1091.6,1513.3 1094.6,1513.3 1097.5,1513.3 1100.5,1513.3 1103.5,1513.3 1106.5,1513.4 1109.4,1513.4 1112.4,1513.4 1115.4,1513.4 1118.4,1513.4 1121.3,1513.5 1124.3,1513.5 1127.3,1513.5 1130.3,1513.5 1133.2,1513.6 1136.2,1513.6 1139.2,1513.6 1142.2,1513.6 1145.1,1513.6 1148.1,1513.7 1151.1,1513.7 1154.1,1513.7 1157.0,1513.7 1160.0,1513.7 1163.0,1513.7 1165.9,1513.7 1168.9,1513.7 1171.9,1513.7 1174.9,1513.7 1177.8,1513.7 1180.8,1513.7 1183.8,1513.7 1186.8,1513.7 1189.7,1513.7 1192.7,1513.6 1195.7,1513.6 1198.7,1513.4 1201.6,1513.3 1204.6,1513.0 1207.6,1512.7 1210.6,1512.1 1213.5,1511.4 1216.5,1510.3 1219.5,1508.8 1222.5,1506.9 1225.4,1504.4 1228.4,1501.3 1231.4,1497.3 1234.3,1492.5 1237.3,1486.8 1240.3,1480.1 1243.3,1472.6 1246.2,1464.3 1249.2,1455.5 1252.2,1446.3 1255.2,1437.1 1258.1,1428.3 1261.1,1420.1 1264.1,1413.1 1267.1,1407.6 1270.0,1403.7 1273.0,1401.9 1276.0,1401.9 1279.0,1403.0 1281.9,1405.3 1284.9,1408.5 1287.9,1412.7 1290.9,1417.6 1293.8,1423.2 1296.8,1429.2 1299.8,1435.7 1302.8,1442.3 1305.7,1449.0 1308.7,1455.7 1311.7,1462.1 1314.6,1468.3 1317.6,1474.1 1320.6,1479.5 1323.6,1484.4 1326.5,1488.8 1329.5,1492.7 1332.5,1496.2 1335.5,1499.1 1338.4,1501.7 1341.4,1503.9 1344.4,1505.6 1347.4,1507.1 1350.3,1508.3 1353.3,1509.3 1356.3,1510.1 1359.3,1510.6 1362.2,1511.1 1365.2,1511.5 1368.2,1511.7 1371.2,1511.9 1374.1,1512.1 1377.1,1512.2 1380.1,1512.3 1383.1,1512.4 1386.0,1512.4 1389.0,1512.4 1392.0,1512.5 1394.9,1512.5 1397.9,1512.5 1400.9,1512.5 1403.9,1512.5 1406.8,1512.5 1409.8,1512.5 1412.8,1512.5 1415.8,1512.5 1418.7,1512.5 1421.7,1512.5 1424.7,1512.5 1427.7,1512.5 1430.6,1512.5 1433.6,1512.5 1436.6,1512.5 1439.6,1512.5 1442.5,1512.5 1445.5,1512.5 1448.5,1512.5 1451.5,1512.4 1454.4,1512.3 1457.4,1512.0 1460.4,1511.6 1463.3,1511.0 1466.3,1510.2 1469.3,1509.2 1472.3,1508.0 1475.2,1506.8 1478.2,1505.4 1481.2,1504.0 1484.2,1502.6 1487.1,1501.3 1490.1,1500.2 1493.1,1499.2 1496.1,1498.4 1499.0,1497.7 1502.0,1497.2 1505.0,1496.8 1508.0,1496.6 1510.9,1496.4 1513.9,1496.3 1516.9,1496.2 1519.9,1496.2 1522.8,1496.2 1525.8,1496.2 1528.8,1496.2 1531.8,1496.2 1534.7,1496.2 1537.7,1496.2 1540.7,1496.2 1543.6,1496.3 1546.6,1496.4 1549.6,1496.7 1552.6,1497.0 1555.5,1497.4 1558.5,1498.1 1561.5,1498.9 1564.5,1499.9 1567.4,1501.0 1570.4,1502.4 1573.4,1503.8 1576.4,1505.3 1579.3,1506.8 1582.3,1508.2 1585.3,1509.4 1588.3,1510.5 1591.2,1511.3 1594.2,1511.9 1597.2,1512.3 1600.2,1512.6 1603.1,1512.8 1606.1,1512.8 1609.1,1512.9 1612.0,1512.9 1615.0,1512.9 1618.0,1512.9 1621.0,1512.8 1623.9,1512.8 1626.9,1512.8 1629.9,1512.7 1632.9,1512.7 1635.8,1512.6 1638.8,1512.4 1641.8,1512.3 1644.8,1512.1 1647.7,1511.8 1650.7,1511.5 1653.7,1511.1 1656.7,1510.7 1659.6,1510.2 1662.6,1509.5 1665.6,1508.8 1668.6,1508.0 1671.5,1507.1 1674.5,1506.1 1677.5,1505.0 1680.5,1503.8 1683.4,1502.6 1686.4,1501.4 1689.4,1500.2 1692.3,1499.0 1695.3,1497.9 1698.3,1496.8 1701.3,1495.9 1704.2,1495.2 1707.2,1494.6 1710.2,1494.3 1713.2,1494.1 1716.1,1494.2 1719.1,1494.4 1722.1,1494.9 1725.1,1495.4 1728.0,1496.2 1731.0,1497.0 1734.0,1498.0 1737.0,1499.0 1739.9,1500.1 1742.9,1501.2 1745.9,1502.3 1748.9,1503.5 1751.8,1504.5 1754.8,1505.6 1757.8,1506.6 1760.7,1507.5 1763.7,1508.3 1766.7,1509.1 1769.7,1509.8 1772.6,1510.4 1775.6,1510.9 1778.6,1511.3 1781.6,1511.7 1784.5,1512.1 1787.5,1512.3 1790.5,1512.6 1793.5,1512.8 1796.4,1512.9 1799.4,1513.1 1802.4,1513.2 1805.4,1513.3 1808.3,1513.3 1811.3,1513.4 1814.3,1513.4 1817.3,1513.5 1820.2,1513.5 1823.2,1513.6 1826.2,1513.6 1829.2,1513.6 1832.1,1513.6 1835.1,1513.6 1838.1,1513.7 1841.0,1513.7 1844.0,1513.7 1847.0,1513.7 1850.0,1513.6 1852.9,1513.6 1855.9,1513.5 1858.9,1513.4 1861.9,1513.3 1864.8,1513.1 1867.8,1513.0 1870.8,1512.7 1873.8,1512.5 1876.7,1512.2 1879.7,1511.9 1882.7,1511.6 1885.7,1511.3 1888.6,1511.0 1891.6,1510.8 1894.6,1510.6 1897.6,1510.5 1900.5,1510.5 1903.5,1510.5 1906.5,1510.6 1909.4,1510.8 1912.4,1511.1 1915.4,1511.4 1918.4,1511.7 1921.3,1512.0 1924.3,1512.4 1927.3,1512.7 1930.3,1513.0 1933.2,1513.3 1936.2,1513.6 1939.2,1513.8 1942.2,1513.9 1945.1,1514.1 1948.1,1514.2 1951.1,1514.3 1954.1,1514.4 1957.0,1514.4 1960.0,1514.5 1963.0,1514.5 1966.0,1514.5 1968.9,1514.5 1971.9,1514.4 1974.9,1514.4 1977.9,1514.3 1980.8,1514.3 1983.8,1514.3 1986.8,1514.2 1989.7,1514.2 1992.7,1514.1 1995.7,1514.1 1998.7,1514.1 2001.6,1514.0 2004.6,1514.0 2007.6,1513.9 2010.6,1513.9 2013.5,1513.9 2016.5,1513.8 2019.5,1513.8 2022.5,1513.7 2025.4,1513.7 2028.4,1513.7 2031.4,1513.6 2034.4,1513.6 2037.3,1513.4 2040.3,1513.2 2043.3,1513.1 2046.3,1513.0 2049.2,1512.8 2052.2,1512.7 2055.2,1512.6 2058.1,1512.5 2061.1,1512.5 2064.1,1512.4 2067.1,1512.4 2070.0,1512.3 2073.0,1512.3 2076.0,1512.3 2079.0,1512.2 2081.9,1512.2 2084.9,1512.1 2087.9,1512.1 2090.9,1512.0 2093.8,1512.0 2096.8,1512.0 2099.8,1511.9 2102.8,1511.9 2105.7,1511.8 2108.7,1511.8 2111.7,1511.7 2114.7,1511.7 2117.6,1511.7 2120.6,1511.6 2123.6,1511.6 2126.6,1511.5 2129.5,1511.5 2132.5,1511.4 2135.5,1511.4 2138.4,1511.3 2141.4,1511.3 2144.4,1511.3 2147.4,1511.2 2150.3,1511.2 2153.3,1511.1 2156.3,1511.1 2159.3,1511.0 2162.2,1511.0 2165.2,1511.0 2168.2,1510.9 2171.2,1510.9 2174.1,1510.5 2177.1,1510.1 2180.1,1509.7 2183.1,1509.2 2186.0,1508.8 2189.0,1508.4 2192.0,1508.0 2195.0,1507.6 2197.9,1507.2 2200.9,1506.8 2203.9,1506.1 2206.8,1505.3 2209.8,1504.6 2212.8,1503.8 2215.8,1503.1 2218.7,1502.4 2221.7,1501.6 2224.7,1500.9 2227.7,1498.1 2230.6,1495.4 2233.6,1492.6 2236.6,1489.9 2239.6,1486.7 2242.5,1482.8 2245.5,1478.9 2248.5,1474.9 2251.5,1471.0 2254.4,1468.2 2257.4,1465.7 2260.4,1463.2"/>
<polyline stroke="#FF6600" points="357.0,1510.1 360.0,1509.9 363.0,1509.7 365.9,1509.5 368.9,1509.3 371.9,1509.1 374.9,1508.9 377.8,1508.7 380.8,1508.5 383.8,1507.8 386.8,1507.1 389.7,1506.4 392.7,1505.8 395.7,1505.1 398.7,1504.4 401.6,1503.7 404.6,1503.0 407.6,1502.3 410.6,1501.6 413.5,1500.8 416.5,1500.0 419.5,1499.1 422.4,1498.3 425.4,1497.5 428.4,1497.4 431.4,1497.4 434.3,1497.3 437.3,1497.2 440.3,1497.1 443.3,1497.1 446.2,1497.0 449.2,1496.9 452.2,1496.8 455.2,1496.8 458.1,1496.7 461.1,1496.6 464.1,1496.5 467.1,1496.5 470.0,1496.4 473.0,1496.3 476.0,1496.2 479.0,1496.2 481.9,1496.1 484.9,1496.0 487.9,1496.0 490.9,1495.9 493.8,1495.8 496.8,1495.8 499.8,1495.7 502.7,1495.6 505.7,1495.5 508.7,1495.5 511.7,1495.4 514.6,1495.3 517.6,1495.3 520.6,1495.2 523.6,1495.1 526.5,1495.0 529.5,1495.0 532.5,1494.9 535.5,1494.8 538.4,1494.8 541.4,1494.7 544.4,1494.6 547.4,1494.5 550.3,1494.5 553.3,1494.5 556.3,1494.4 559.3,1494.4 562.2,1494.3 565.2,1494.3 568.2,1494.2 571.1,1494.2 574.1,1494.1 577.1,1494.1 580.1,1494.0 583.0,1494.0 586.0,1493.9 589.0,1493.9 592.0,1493.8 594.9,1493.8 597.9,1493.7 600.9,1493.7 603.9,1493.7 606.8,1493.6 609.8,1493.6 612.8,1493.5 615.8,1493.5 618.7,1493.4 621.7,1493.4 624.7,1493.3 627.7,1493.5 630.6,1493.6 633.6,1493.8 636.6,1493.9 639.5,1494.1 642.5,1494.2 645.5,1494.4 648.5,1494.5 651.4,1494.7 654.4,1494.9 657.4,1495.0 660.4,1495.2 663.3,1495.3 666.3,1495.5 669.3,1495.6 672.3,1495.8 675.2,1495.9 678.2,1496.1 681.2,1496.2 684.2,1496.4 687.1,1496.5 690.1,1496.7 693.1,1496.8 696.1,1497.0 699.0,1497.2 702.0,1497.3 705.0,1497.5 708.0,1497.6 710.9,1497.8 713.9,1497.9 716.9,1498.1 719.8,1498.2 722.8,1498.4 725.8,1498.5 728.8,1498.7 731.7,1498.8 734.7,1499.0 737.7,1499.1 740.7,1499.3 743.6,1499.4 746.6,1499.5 749.6,1499.7 752.6,1499.8 755.5,1499.9 758.5,1500.0 761.5,1500.1 764.5,1500.2 767.4,1500.3 770.4,1500.4 773.4,1500.5 776.4,1500.6 779.3,1500.7 782.3,1500.8 785.3,1500.9 788.2,1501.0 791.2,1501.1 794.2,1501.2 797.2,1501.3 800.1,1501.4 803.1,1501.5 806.1,1501.5 809.1,1501.6 812.0,1501.6 815.0,1501.6 818.0,1501.7 821.0,1501.7 823.9,1501.7 826.9,1501.8 829.9,1501.8 832.9,1501.8 835.8,1501.9 838.8,1501.9 841.8,1502.0 844.8,1502.0 847.7,1502.0 850.7,1502.1 853.7,1502.1 856.7,1502.1 859.6,1502.2 862.6,1502.2 865.6,1501.9 868.5,1501.5 871.5,1501.2 874.5,1500.8 877.5,1500.4 880.4,1500.0 883.4,1499.5 886.4,1499.0 889.4,1499.6 892.3,1500.2 895.3,1500.6 898.3,1500.8 901.3,1500.8 904.2,1500.6 907.2,1500.0 910.2,1499.2 913.2,1498.0 916.1,1496.6 919.1,1493.9 922.1,1491.0 925.1,1487.9 928.0,1484.7 931.0,1481.5 934.0,1478.4 937.0,1475.5 939.9,1473.1 942.9,1471.1 945.9,1469.8 948.8,1469.1 951.8,1469.1 954.8,1469.6 957.8,1470.3 960.7,1471.4 963.7,1472.8 966.7,1474.5 969.7,1476.3 972.6,1478.4 975.6,1480.6 978.6,1483.0 981.6,1485.4 984.5,1487.7 987.5,1490.0 990.5,1492.3 993.5,1494.5 996.4,1496.6 999.4,1498.6 1002.4,1500.5 1005.4,1502.2 1008.3,1503.8 1011.3,1505.2 1014.3,1506.4 1017.2,1507.5 1020.2,1508.5 1023.2,1509.4 1026.2,1510.1 1029.1,1510.7 1032.1,1511.3 1035.1,1511.7 1038.1,1512.1 1041.0,1512.4 1044.0,1512.7 1047.0,1512.9 1050.0,1513.0 1052.9,1513.2 1055.9,1513.3 1058.9,1513.4 1061.9,1513.4 1064.8,1513.5 1067.8,1513.5 1070.8,1513.6 1073.8,1513.6 1076.7,1513.6 1079.7,1513.7 1082.7,1513.7 1085.7,1513.7 1088.6,1513.7 1091.6,1513.8 1094.6,1513.8 1097.5,1513.8 1100.5,1513.8 1103.5,1513.9 1106.5,1513.9 1109.4,1513.9 1112.4,1513.9 1115.4,1513.9 1118.4,1514.0 1121.3,1514.0 1124.3,1514.0 1127.3,1514.0 1130.3,1514.0 1133.2,1514.1 1136.2,1514.1 1139.2,1514.1 1142.2,1514.1 1145.1,1514.1 1148.1,1514.2 1151.1,1514.2 1154.1,1514.2 1157.0,1514.2 1160.0,1514.2 1163.0,1514.2 1165.9,1514.2 1168.9,1514.2 1171.9,1514.2 1174.9,1514.2 1177.8,1514.2 1180.8,1514.2 1183.8,1514.2 1186.8,1514.2 1189.7,1514.2 1192.7,1514.2 1195.7,1514.1 1198.7,1514.0 1201.6,1513.9 1204.6,1513.7 1207.6,1513.4 1210.6,1512.9 1213.5,1512.3 1216.5,1511.5 1219.5,1510.3 1222.5,1508.8 1225.4,1506.9 1228.4,1504.4 1231.4,1501.4 1234.3,1497.7 1237.3,1493.4 1240.3,1488.4 1243.3,1482.8 1246.2,1476.6 1249.2,1470.0 1252.2,1463.2 1255.2,1456.4 1258.1,1449.8 1261.1,1443.8 1264.1,1438.7 1267.1,1434.6 1270.0,1431.8 1273.0,1430.4 1276.0,1430.4 1279.0,1431.2 1281.9,1432.9 1284.9,1435.2 1287.9,1438.3 1290.9,1441.9 1293.8,1446.0 1296.8,1450.4 1299.8,1455.2 1302.8,1460.1 1305.7,1465.1 1308.7,1470.0 1311.7,1474.8 1314.6,1479.4 1317.6,1483.7 1320.6,1487.7 1323.6,1491.4 1326.5,1494.8 1329.5,1497.7 1332.5,1500.3 1335.5,1502.6 1338.4,1504.6 1341.4,1506.2 1344.4,1507.6 1347.4,1508.8 1350.3,1509.7 1353.3,1510.4 1356.3,1511.0 1359.3,1511.5 1362.2,1511.9 1365.2,1512.2 1368.2,1512.4 1371.2,1512.5 1374.1,1512.7 1377.1,1512.8 1380.1,1512.8 1383.1,1512.9 1386.0,1512.9 1389.0,1513.0 1392.0,1513.0 1394.9,1513.0 1397.9,1513.0 1400.9,1513.0 1403.9,1513.0 1406.8,1513.0 1409.8,1513.0 1412.8,1513.0 1415.8,1513.0 1418.7,1513.0 1421.7,1513.0 1424.7,1513.0 1427.7,1513.0 1430.6,1513.0 1433.6,1513.0 1436.6,1513.0 1439.6,1513.0 1442.5,1513.0 1445.5,1513.1 1448.5,1513.0 1451.5,1513.0 1454.4,1512.9 1457.4,1512.7 1460.4,1512.4 1463.3,1511.9 1466.3,1511.3 1469.3,1510.6 1472.3,1509.7 1475.2,1508.8 1478.2,1507.7 1481.2,1506.7 1484.2,1505.6 1487.1,1504.7 1490.1,1503.8 1493.1,1503.0 1496.1,1502.4 1499.0,1501.9 1502.0,1501.5 1505.0,1501.3 1508.0,1501.1 1510.9,1500.9 1513.9,1500.8 1516.9,1500.8 1519.9,1500.8 1522.8,1500.8 1525.8,1500.8 1528.8,1500.8 1531.8,1500.8 1534.7,1500.8 1537.7,1500.8 1540.7,1500.8 1543.6,1500.9 1546.6,1501.0 1549.6,1501.1 1552.6,1501.4 1555.5,1501.7 1558.5,1502.2 1561.5,1502.8 1564.5,1503.6 1567.4,1504.4 1570.4,1505.4 1573.4,1506.5 1576.4,1507.7 1579.3,1508.8 1582.3,1509.8 1585.3,1510.8 1588.3,1511.6 1591.2,1512.2 1594.2,1512.7 1597.2,1513.0 1600.2,1513.2 1603.1,1513.3 1606.1,1513.4 1609.1,1513.4 1612.0,1513.4 1615.0,1513.4 1618.0,1513.4 1621.0,1513.4 1623.9,1513.3 1626.9,1513.3 1629.9,1513.2 1632.9,1513.2 1635.8,1513.1 1638.8,1513.0 1641.8,1512.8 1644.8,1512.7 1647.7,1512.5 1650.7,1512.2 1653.7,1511.9 1656.7,1511.5 1659.6,1511.0 1662.6,1510.5 1665.6,1509.9 1668.6,1509.2 1671.5,1508.4 1674.5,1507.5 1677.5,1506.6 1680.5,1505.6 1683.4,1504.6 1686.4,1503.6 1689.4,1502.6 1692.3,1501.6 1695.3,1500.7 1698.3,1499.8 1701.3,1499.1 1704.2,1498.5 1707.2,1498.0 1710.2,1497.7 1713.2,1497.6 1716.1,1497.7 1719.1,1497.9 1722.1,1498.2 1725.1,1498.7 1728.0,1499.3 1731.0,1500.0 1734.0,1500.8 1737.0,1501.6 1739.9,1502.5 1742.9,1503.5 1745.9,1504.4 1748.9,1505.4 1751.8,1506.3 1754.8,1507.2 1757.8,1508.0 1760.7,1508.8 1763.7,1509.5 1766.7,1510.1 1769.7,1510.7 1772.6,1511.2 1775.6,1511.7 1778.6,1512.1 1781.6,1512.4 1784.5,1512.7 1787.5,1512.9 1790.5,1513.2 1793.5,1513.3 1796.4,1513.5 1799.4,1513.6 1802.4,1513.7 1805.4,1513.8 1808.3,1513.9 1811.3,1513.9 1814.3,1514.0 1817.3,1514.0 1820.2,1514.0 1823.2,1514.1 1826.2,1514.1 1829.2,1514.1 1832.1,1514.1 1835.1,1514.2 1838.1,1514.2 1841.0,1514.2 1844.0,1514.2 1847.0,1514.1 1850.0,1514.1 1852.9,1514.1 1855.9,1514.0 1858.9,1513.9 1861.9,1513.7 1864.8,1513.6 1867.8,1513.3 1870.8,1513.1 1873.8,1512.8 1876.7,1512.5 1879.7,1512.1 1882.7,1511.8 1885.7,1511.4 1888.6,1511.1 1891.6,1510.8 1894.6,1510.6 1897.6,1510.5 1900.5,1510.5 1903.5,1510.5 1906.5,1510.6 1909.4,1510.9 1912.4,1511.1 1915.4,1511.5 1918.4,1511.9 1921.3,1512.2 1924.3,1512.6 1927.3,1513.0 1930.3,1513.4 1933.2,1513.7 1936.2,1514.0 1939.2,1514.2 1942.2,1514.4 1945.1,1514.5 1948.1,1514.7 1951.1,1514.8 1954.1,1514.9 1957.0,1514.9 1960.0,1515.0 1963.0,1515.0 1966.0,1515.0 1968.9,1515.0 1971.9,1514.9 1974.9,1514.9 1977.9,1514.9 1980.8,1514.8 1983.8,1514.8 1986.8,1514.7 1989.7,1514.7 1992.7,1514.7 1995.7,1514.6 1998.7,1514.6 2001.6,1514.5 2004.6,1514.5 2007.6,1514.4 2010.6,1514.4 2013.5,1514.4 2016.5,1514.3 2019.5,1514.3 2022.5,1514.2 2025.4,1514.2 2028.4,1514.2 2031.4,1514.1 2034.4,1514.1 2037.3,1514.0 2040.3,1514.0 2043.3,1514.0 2046.3,1513.9 2049.2,1513.9 2052.2,1513.9 2055.2,1513.9 2058.1,1513.9 2061.1,1513.9 2064.1,1513.9 2067.1,1513.8 2070.0,1513.8 2073.0,1513.8 2076.0,1513.7 2079.0,1513.7 2081.9,1513.6 2084.9,1513.6 2087.9,1513.6 2090.9,1513.5 2093.8,1513.5 2096.8,1513.4 2099.8,1513.4 2102.8,1513.4 2105.7,1513.3 2108.7,1513.3 2111.7,1513.3 2114.7,1513.2 2117.6,1513.2 2120.6,1513.1 2123.6,1513.1 2126.6,1513.1 2129.5,1513.0 2132.5,1513.0 2135.5,1513.0 2138.4,1512.9 2141.4,1512.9 2144.4,1512.8 2147.4,1512.8 2150.3,1512.8 2153.3,1512.7 2156.3,1512.7 2159.3,1512.7 2162.2,1512.6 2165.2,1512.6 2168.2,1512.5 2171.2,1512.5 2174.1,1512.3 2177.1,1512.1 2180.1,1511.9 2183.1,1511.7 2186.0,1511.4 2189.0,1511.2 2192.0,1511.0 2195.0,1510.8 2197.9,1510.2 2200.9,1509.0 2203.9,1507.8 2206.8,1506.6 2209.8,1505.4 2212.8,1504.2 2215.8,1503.0 2218.7,1501.3 2221.7,1498.9 2224.7,1496.4 2227.7,1494.0 2230.6,1491.6 2233.6,1488.2 2236.6,1484.5 2239.6,1480.9 2242.5,1477.3 2245.5,1472.9 2248.5,1465.9 2251.5,1458.9 2254.4,1451.8 2257.4,1444.3 2260.4,1436.5"/>
<polyline stroke="#449AD0" points="357.0,1507.0 360.0,1506.8 363.0,1506.5 365.9,1506.2 368.9,1505.9 371.9,1505.6 374.9,1505.3 377.8,1505.0 380.8,1504.8 383.8,1503.9 386.8,1503.1 389.7,1502.2 392.7,1501.4 395.7,1500.5 398.7,1499.7 401.6,1498.8 404.6,1498.0 407.6,1497.1 410.6,1496.3 413.5,1495.2 416.5,1494.1 419.5,1492.9 422.4,1491.8 425.4,1490.7 428.4,1490.6 431.4,1490.5 434.3,1490.3 437.3,1490.2 440.3,1490.1 443.3,1490.0 446.2,1489.8 449.2,1489.7 452.2,1489.6 455.2,1489.5 458.1,1489.3 461.1,1489.2 464.1,1489.1 467.1,1489.0 470.0,1488.8 473.0,1488.8 476.0,1488.7 479.0,1488.6 481.9,1488.6 484.9,1488.5 487.9,1488.4 490.9,1488.3 493.8,1488.3 496.8,1488.2 499.8,1488.1 502.7,1488.1 505.7,1488.0 508.7,1487.9 511.7,1487.8 514.6,1487.8 517.6,1487.7 520.6,1487.6 523.6,1487.6 526.5,1487.5 529.5,1487.4 532.5,1487.4 535.5,1487.3 538.4,1487.2 541.4,1487.1 544.4,1487.1 547.4,1487.0 550.3,1487.0 553.3,1486.9 556.3,1486.9 559.3,1486.8 562.2,1486.8 565.2,1486.7 568.2,1486.7 571.1,1486.6 574.1,1486.6 577.1,1486.5 580.1,1486.5 583.0,1486.4 586.0,1486.4 589.0,1486.3 592.0,1486.3 594.9,1486.2 597.9,1486.2 600.9,1486.1 603.9,1486.1 606.8,1486.1 609.8,1486.0 612.8,1486.0 615.8,1485.9 618.7,1485.9 621.7,1485.8 624.7,1485.8 627.7,1485.9 630.6,1486.1 633.6,1486.2 636.6,1486.4 639.5,1486.5 642.5,1486.7 645.5,1486.8 648.5,1487.0 651.4,1487.2 654.4,1487.3 657.4,1487.5 660.4,1487.6 663.3,1487.8 666.3,1487.9 669.3,1488.1 672.3,1488.2 675.2,1488.4 678.2,1488.5 681.2,1488.7 684.2,1488.8 687.1,1489.1 690.1,1489.3 693.1,1489.5 696.1,1489.7 699.0,1490.0 702.0,1490.2 705.0,1490.4 708.0,1490.7 710.9,1490.9 713.9,1491.1 716.9,1491.3 719.8,1491.6 722.8,1491.8 725.8,1492.0 728.8,1492.3 731.7,1492.5 734.7,1492.7 737.7,1492.9 740.7,1493.2 743.6,1493.4 746.6,1493.6 749.6,1493.8 752.6,1493.9 755.5,1494.1 758.5,1494.3 761.5,1494.5 764.5,1494.6 767.4,1494.8 770.4,1495.0 773.4,1495.2 776.4,1495.4 779.3,1495.5 782.3,1495.7 785.3,1495.9 788.2,1496.1 791.2,1496.2 794.2,1496.4 797.2,1496.6 800.1,1496.8 803.1,1497.0 806.1,1497.0 809.1,1497.1 812.0,1497.2 815.0,1497.3 818.0,1497.3 821.0,1497.4 823.9,1497.5 826.9,1497.5 829.9,1497.6 832.9,1497.7 835.8,1497.8 838.8,1497.8 841.8,1497.9 844.8,1498.0 847.7,1498.1 850.7,1498.1 853.7,1498.2 856.7,1498.3 859.6,1498.3 862.6,1498.4 865.6,1498.6 868.5,1498.7 871.5,1498.8 874.5,1498.9 877.5,1499.0 880.4,1499.1 883.4,1499.1 886.4,1499.1 889.4,1499.9 892.3,1500.6 895.3,1501.2 898.3,1501.6 901.3,1501.9 904.2,1502.1 907.2,1502.0 910.2,1501.7 913.2,1501.1 916.1,1500.3 919.1,1498.5 922.1,1496.4 925.1,1494.2 928.0,1492.0 931.0,1489.7 934.0,1487.5 937.0,1485.5 939.9,1483.8 942.9,1482.4 945.9,1481.5 948.8,1481.1 951.8,1481.2 954.8,1481.5 957.8,1482.1 960.7,1482.9 963.7,1483.9 966.7,1485.2 969.7,1486.5 972.6,1488.0 975.6,1489.7 978.6,1491.4 981.6,1493.1 984.5,1494.8 987.5,1496.5 990.5,1498.2 993.5,1499.8 996.4,1501.3 999.4,1502.8 1002.4,1504.1 1005.4,1505.4 1008.3,1506.6 1011.3,1507.6 1014.3,1508.5 1017.2,1509.4 1020.2,1510.1 1023.2,1510.8 1026.2,1511.3 1029.1,1511.8 1032.1,1512.2 1035.1,1512.6 1038.1,1512.9 1041.0,1513.2 1044.0,1513.4 1047.0,1513.5 1050.0,1513.6 1052.9,1513.7 1055.9,1513.8 1058.9,1513.9 1061.9,1514.0 1064.8,1514.0 1067.8,1514.1 1070.8,1514.1 1073.8,1514.1 1076.7,1514.2 1079.7,1514.2 1082.7,1514.2 1085.7,1514.2 1088.6,1514.3 1091.6,1514.3 1094.6,1514.3 1097.5,1514.3 1100.5,1514.3 1103.5,1514.4 1106.5,1514.4 1109.4,1514.4 1112.4,1514.4 1115.4,1514.4 1118.4,1514.5 1121.3,1514.5 1124.3,1514.5 1127.3,1514.5 1130.3,1514.6 1133.2,1514.6 1136.2,1514.6 1139.2,1514.6 1142.2,1514.6 1145.1,1514.7 1148.1,1514.7 1151.1,1514.7 1154.1,1514.7 1157.0,1514.7 1160.0,1514.8 1163.0,1514.8 1165.9,1514.8 1168.9,1514.8 1171.9,1514.8 1174.9,1514.8 1177.8,1514.7 1180.8,1514.7 1183.8,1514.7 1186.8,1514.7 1189.7,1514.7 1192.7,1514.7 1195.7,1514.6 1198.7,1514.6 1201.6,1514.4 1204.6,1514.3 1207.6,1514.0 1210.6,1513.7 1213.5,1513.2 1216.5,1512.6 1219.5,1511.7 1222.5,1510.6 1225.4,1509.2 1228.4,1507.4 1231.4,1505.1 1234.3,1502.4 1237.3,1499.3 1240.3,1495.7 1243.3,1491.6 1246.2,1487.1 1249.2,1482.4 1252.2,1477.6 1255.2,1472.7 1258.1,1468.0 1261.1,1463.8 1264.1,1460.1 1267.1,1457.2 1270.0,1455.2 1273.0,1454.2 1276.0,1454.2 1279.0,1454.8 1281.9,1456.0 1284.9,1457.6 1287.9,1459.8 1290.9,1462.3 1293.8,1465.2 1296.8,1468.4 1299.8,1471.7 1302.8,1475.2 1305.7,1478.7 1308.7,1482.2 1311.7,1485.7 1314.6,1489.0 1317.6,1492.1 1320.6,1495.0 1323.6,1497.6 1326.5,1500.0 1329.5,1502.2 1332.5,1504.1 1335.5,1505.8 1338.4,1507.2 1341.4,1508.4 1344.4,1509.5 1347.4,1510.3 1350.3,1511.0 1353.3,1511.6 1356.3,1512.0 1359.3,1512.4 1362.2,1512.6 1365.2,1512.8 1368.2,1513.0 1371.2,1513.1 1374.1,1513.2 1377.1,1513.3 1380.1,1513.4 1383.1,1513.4 1386.0,1513.5 1389.0,1513.5 1392.0,1513.5 1394.9,1513.5 1397.9,1513.5 1400.9,1513.5 1403.9,1513.5 1406.8,1513.5 1409.8,1513.5 1412.8,1513.5 1415.8,1513.5 1418.7,1513.5 1421.7,1513.5 1424.7,1513.5 1427.7,1513.5 1430.6,1513.5 1433.6,1513.5 1436.6,1513.5 1439.6,1513.5 1442.5,1513.6 1445.5,1513.6 1448.5,1513.6 1451.5,1513.6 1454.4,1513.5 1457.4,1513.4 1460.4,1513.2 1463.3,1512.9 1466.3,1512.5 1469.3,1512.0 1472.3,1511.4 1475.2,1510.8 1478.2,1510.1 1481.2,1509.3 1484.2,1508.6 1487.1,1508.0 1490.1,1507.4 1493.1,1506.9 1496.1,1506.5 1499.0,1506.1 1502.0,1505.9 1505.0,1505.7 1508.0,1505.6 1510.9,1505.5 1513.9,1505.4 1516.9,1505.4 1519.9,1505.4 1522.8,1505.4 1525.8,1505.4 1528.8,1505.4 1531.8,1505.4 1534.7,1505.4 1537.7,1505.4 1540.7,1505.4 1543.6,1505.4 1546.6,1505.5 1549.6,1505.6 1552.6,1505.8 1555.5,1506.0 1558.5,1506.3 1561.5,1506.7 1564.5,1507.3 1567.4,1507.8 1570.4,1508.5 1573.4,1509.3 1576.4,1510.0 1579.3,1510.8 1582.3,1511.5 1585.3,1512.1 1588.3,1512.7 1591.2,1513.1 1594.2,1513.4 1597.2,1513.6 1600.2,1513.8 1603.1,1513.9 1606.1,1513.9 1609.1,1513.9 1612.0,1513.9 1615.0,1513.9 1618.0,1513.9 1621.0,1513.9 1623.9,1513.9 1626.9,1513.8 1629.9,1513.8 1632.9,1513.7 1635.8,1513.7 1638.8,1513.6 1641.8,1513.4 1644.8,1513.3 1647.7,1513.1 1650.7,1512.9 1653.7,1512.6 1656.7,1512.3 1659.6,1512.0 1662.6,1511.5 1665.6,1511.0 1668.6,1510.5 1671.5,1509.9 1674.5,1509.2 1677.5,1508.5 1680.5,1507.7 1683.4,1506.9 1686.4,1506.1 1689.4,1505.3 1692.3,1504.6 1695.3,1503.9 1698.3,1503.2 1701.3,1502.6 1704.2,1502.2 1707.2,1501.8 1710.2,1501.6 1713.2,1501.5 1716.1,1501.5 1719.1,1501.7 1722.1,1502.0 1725.1,1502.3 1728.0,1502.8 1731.0,1503.3 1734.0,1504.0 1737.0,1504.6 1739.9,1505.3 1742.9,1506.1 1745.9,1506.8 1748.9,1507.5 1751.8,1508.3 1754.8,1509.0 1757.8,1509.6 1760.7,1510.2 1763.7,1510.8 1766.7,1511.3 1769.7,1511.8 1772.6,1512.2 1775.6,1512.6 1778.6,1512.9 1781.6,1513.2 1784.5,1513.4 1787.5,1513.6 1790.5,1513.8 1793.5,1513.9 1796.4,1514.1 1799.4,1514.2 1802.4,1514.2 1805.4,1514.3 1808.3,1514.4 1811.3,1514.4 1814.3,1514.5 1817.3,1514.5 1820.2,1514.6 1823.2,1514.6 1826.2,1514.6 1829.2,1514.6 1832.1,1514.7 1835.1,1514.7 1838.1,1514.7 1841.0,1514.7 1844.0,1514.7 1847.0,1514.7 1850.0,1514.6 1852.9,1514.6 1855.9,1514.5 1858.9,1514.4 1861.9,1514.2 1864.8,1514.0 1867.8,1513.8 1870.8,1513.6 1873.8,1513.3 1876.7,1512.9 1879.7,1512.6 1882.7,1512.2 1885.7,1511.9 1888.6,1511.5 1891.6,1511.3 1894.6,1511.1 1897.6,1510.9 1900.5,1510.9 1903.5,1510.9 1906.5,1511.1 1909.4,1511.3 1912.4,1511.6 1915.4,1511.9 1918.4,1512.3 1921.3,1512.7 1924.3,1513.1 1927.3,1513.5 1930.3,1513.8 1933.2,1514.2 1936.2,1514.4 1939.2,1514.7 1942.2,1514.9 1945.1,1515.1 1948.1,1515.2 1951.1,1515.3 1954.1,1515.4 1957.0,1515.4 1960.0,1515.5 1963.0,1515.5 1966.0,1515.5 1968.9,1515.5 1971.9,1515.4 1974.9,1515.4 1977.9,1515.4 1980.8,1515.3 1983.8,1515.3 1986.8,1515.2 1989.7,1515.2 1992.7,1515.2 1995.7,1515.1 1998.7,1515.1 2001.6,1515.0 2004.6,1515.0 2007.6,1515.0 2010.6,1514.9 2013.5,1514.9 2016.5,1514.8 2019.5,1514.8 2022.5,1514.8 2025.4,1514.7 2028.4,1514.7 2031.4,1514.6 2034.4,1514.6 2037.3,1514.7 2040.3,1514.9 2043.3,1515.0 2046.3,1515.2 2049.2,1515.4 2052.2,1515.6 2055.2,1515.8 2058.1,1516.0 2061.1,1516.0 2064.1,1516.0 2067.1,1516.0 2070.0,1516.0 2073.0,1516.0 2076.0,1516.0 2079.0,1516.0 2081.9,1516.0 2084.9,1516.0 2087.9,1516.0 2090.9,1516.0 2093.8,1516.0 2096.8,1516.0 2099.8,1516.0 2102.8,1516.0 2105.7,1516.0 2108.7,1516.0 2111.7,1516.0 2114.7,1516.0 2117.6,1516.0 2120.6,1515.7 2123.6,1515.4 2126.6,1515.1 2129.5,1514.7 2132.5,1514.4 2135.5,1514.1 2138.4,1513.8 2141.4,1513.5 2144.4,1513.2 2147.4,1512.9 2150.3,1512.6 2153.3,1512.3 2156.3,1511.8 2159.3,1511.0 2162.2,1510.3 2165.2,1509.5 2168.2,1508.8 2171.2,1508.0 2174.1,1507.2 2177.1,1506.5 2180.1,1505.7 2183.1,1505.0 2186.0,1503.8 2189.0,1502.6 2192.0,1501.4 2195.0,1500.3 2197.9,1499.1 2200.9,1497.9 2203.9,1496.8 2206.8,1495.6 2209.8,1494.4 2212.8,1492.5 2215.8,1490.1 2218.7,1487.7 2221.7,1485.3 2224.7,1482.9 2227.7,1480.5 2230.6,1478.2 2233.6,1474.5 2236.6,1470.0 2239.6,1465.4 2242.5,1460.9 2245.5,1456.4 2248.5,1448.3 2251.5,1440.2 2254.4,1432.1 2257.4,1415.6 2260.4,1401.8"/>
</g>
<g clip-path="url(#clipC)" fill="none" stroke-width="5.4" stroke-linejoin="round">
<polyline stroke="#4F4F4F" points="366.2,3506.2 369.2,3506.0 372.2,3505.8 375.2,3505.6 378.2,3505.5 381.2,3505.3 384.2,3505.1 387.1,3504.9 390.1,3504.8 393.1,3503.8 396.1,3502.8 399.1,3501.8 402.1,3500.9 405.1,3499.9 408.1,3498.9 411.1,3497.9 414.0,3497.0 417.0,3496.0 420.0,3495.0 423.0,3494.2 426.0,3493.4 429.0,3492.6 432.0,3491.8 435.0,3491.0 438.0,3490.2 440.9,3489.3 443.9,3488.5 446.9,3488.3 449.9,3488.1 452.9,3487.8 455.9,3487.6 458.9,3487.4 461.9,3487.1 464.9,3486.9 467.8,3486.7 470.8,3486.4 473.8,3486.2 476.8,3486.0 479.8,3485.7 482.8,3485.5 485.8,3485.3 488.8,3485.2 491.8,3485.1 494.7,3485.0 497.7,3484.9 500.7,3484.8 503.7,3484.7 506.7,3484.6 509.7,3484.5 512.7,3484.4 515.7,3484.3 518.7,3484.2 521.6,3484.1 524.6,3484.0 527.6,3483.9 530.6,3483.8 533.6,3483.7 536.6,3483.6 539.6,3483.5 542.6,3483.4 545.6,3483.3 548.5,3483.2 551.5,3483.2 554.5,3483.1 557.5,3483.1 560.5,3483.0 563.5,3483.0 566.5,3482.9 569.5,3482.9 572.5,3482.8 575.5,3482.8 578.4,3482.7 581.4,3482.7 584.4,3482.6 587.4,3482.6 590.4,3482.5 593.4,3482.5 596.4,3482.5 599.4,3482.4 602.4,3482.4 605.3,3482.3 608.3,3482.3 611.3,3482.2 614.3,3482.2 617.3,3482.1 620.3,3482.1 623.3,3482.0 626.3,3482.0 629.3,3481.9 632.2,3481.9 635.2,3481.8 638.2,3481.9 641.2,3481.9 644.2,3482.0 647.2,3482.0 650.2,3482.1 653.2,3482.1 656.2,3482.2 659.1,3482.2 662.1,3482.3 665.1,3482.3 668.1,3482.4 671.1,3482.4 674.1,3482.5 677.1,3482.5 680.1,3482.6 683.1,3482.6 686.0,3482.7 689.0,3482.8 692.0,3482.8 695.0,3482.9 698.0,3483.1 701.0,3483.3 704.0,3483.5 707.0,3483.7 710.0,3484.0 712.9,3484.2 715.9,3484.4 718.9,3484.6 721.9,3484.9 724.9,3485.1 727.9,3485.3 730.9,3485.5 733.9,3485.8 736.9,3486.0 739.8,3486.2 742.8,3486.4 745.8,3486.6 748.8,3486.9 751.8,3487.1 754.8,3487.3 757.8,3487.5 760.8,3487.7 763.8,3488.0 766.7,3488.2 769.7,3488.4 772.7,3488.6 775.7,3488.8 778.7,3489.0 781.7,3489.2 784.7,3489.4 787.7,3489.7 790.7,3489.9 793.6,3490.1 796.6,3490.3 799.6,3490.5 802.6,3490.7 805.6,3490.9 808.6,3491.1 811.6,3491.4 814.6,3491.6 817.6,3491.8 820.5,3492.1 823.5,3492.3 826.5,3492.6 829.5,3492.8 832.5,3493.1 835.5,3493.3 838.5,3493.6 841.5,3493.8 844.5,3494.1 847.4,3494.3 850.4,3494.6 853.4,3494.8 856.4,3495.1 859.4,3495.3 862.4,3495.6 865.4,3495.8 868.4,3496.1 871.4,3496.3 874.3,3496.5 877.3,3496.8 880.3,3497.0 883.3,3497.1 886.3,3497.2 889.3,3497.2 892.3,3497.0 895.3,3496.7 898.3,3495.9 901.3,3494.5 904.2,3492.3 907.2,3489.0 910.2,3484.0 913.2,3476.9 916.2,3467.2 919.2,3454.1 922.2,3437.1 925.2,3415.6 928.2,3389.1 931.1,3357.4 934.1,3320.6 937.1,3279.3 940.1,3234.4 943.1,3187.2 946.1,3139.7 949.1,3093.9 952.1,3052.2 955.1,3016.8 958.0,2990.0 961.0,2973.3 964.0,2967.7 967.0,2971.1 970.0,2980.5 973.0,2995.6 976.0,3015.9 979.0,3040.9 982.0,3069.6 984.9,3101.3 987.9,3135.0 990.9,3169.8 993.9,3205.0 996.9,3239.5 999.9,3272.8 1002.9,3304.4 1005.9,3333.9 1008.9,3360.8 1011.8,3385.1 1014.8,3406.6 1017.8,3425.4 1020.8,3441.6 1023.8,3455.3 1026.8,3466.9 1029.8,3476.4 1032.8,3484.2 1035.8,3490.5 1038.7,3495.5 1041.7,3499.4 1044.7,3502.5 1047.7,3504.9 1050.7,3506.7 1053.7,3508.1 1056.7,3509.1 1059.7,3509.8 1062.7,3510.3 1065.6,3510.6 1068.6,3510.9 1071.6,3511.1 1074.6,3511.2 1077.6,3511.3 1080.6,3511.4 1083.6,3511.4 1086.6,3511.5 1089.6,3511.5 1092.5,3511.6 1095.5,3511.6 1098.5,3511.6 1101.5,3511.6 1104.5,3511.7 1107.5,3511.7 1110.5,3511.7 1113.5,3511.8 1116.5,3511.8 1119.4,3511.8 1122.4,3511.8 1125.4,3511.9 1128.4,3511.9 1131.4,3511.9 1134.4,3511.9 1137.4,3512.0 1140.4,3512.0 1143.4,3512.0 1146.3,3512.0 1149.3,3512.1 1152.3,3512.1 1155.3,3512.1 1158.3,3512.1 1161.3,3512.2 1164.3,3512.2 1167.3,3512.2 1170.3,3512.2 1173.2,3512.3 1176.2,3512.2 1179.2,3512.2 1182.2,3512.2 1185.2,3512.2 1188.2,3512.2 1191.2,3512.1 1194.2,3512.1 1197.2,3512.1 1200.2,3512.0 1203.1,3511.9 1206.1,3511.8 1209.1,3511.5 1212.1,3511.1 1215.1,3510.4 1218.1,3509.3 1221.1,3507.6 1224.1,3504.8 1227.1,3500.5 1230.0,3494.0 1233.0,3484.5 1236.0,3471.0 1239.0,3452.1 1242.0,3426.5 1245.0,3392.4 1248.0,3348.5 1251.0,3293.4 1254.0,3226.0 1256.9,3146.1 1259.9,3054.1 1262.9,2951.6 1265.9,2841.1 1268.9,2726.5 1271.9,2612.6 1274.9,2504.7 1277.9,2408.6 1280.9,2329.9 1283.8,2273.5 1286.8,2242.8 1289.8,2238.9 1292.8,2253.2 1295.8,2282.8 1298.8,2326.7 1301.8,2383.3 1304.8,2450.6 1307.8,2526.3 1310.7,2608.0 1313.7,2693.3 1316.7,2779.7 1319.7,2865.2 1322.7,2947.7 1325.7,3025.8 1328.7,3098.3 1331.7,3164.3 1334.7,3223.3 1337.6,3275.1 1340.6,3320.0 1343.6,3358.2 1346.6,3390.2 1349.6,3416.6 1352.6,3438.0 1355.6,3455.1 1358.6,3468.7 1361.6,3479.2 1364.5,3487.2 1367.5,3493.2 1370.5,3497.7 1373.5,3501.0 1376.5,3503.4 1379.5,3505.1 1382.5,3506.2 1385.5,3507.0 1388.5,3507.6 1391.4,3507.9 1394.4,3508.1 1397.4,3508.2 1400.4,3508.3 1403.4,3508.3 1406.4,3508.3 1409.4,3508.3 1412.4,3508.3 1415.4,3508.2 1418.3,3508.2 1421.3,3508.1 1424.3,3508.1 1427.3,3508.0 1430.3,3508.0 1433.3,3507.9 1436.3,3507.9 1439.3,3507.8 1442.3,3507.8 1445.2,3507.7 1448.2,3507.6 1451.2,3507.5 1454.2,3507.4 1457.2,3507.2 1460.2,3506.9 1463.2,3506.5 1466.2,3505.7 1469.2,3504.7 1472.1,3503.1 1475.1,3500.8 1478.1,3497.6 1481.1,3493.4 1484.1,3487.8 1487.1,3480.8 1490.1,3472.2 1493.1,3462.1 1496.1,3450.5 1499.1,3437.8 1502.0,3424.4 1505.0,3410.8 1508.0,3397.5 1511.0,3385.3 1514.0,3374.5 1517.0,3365.7 1520.0,3358.9 1523.0,3354.2 1526.0,3351.3 1528.9,3349.9 1531.9,3349.4 1534.9,3349.3 1537.9,3349.0 1540.9,3348.2 1543.9,3346.6 1546.9,3344.3 1549.9,3341.3 1552.9,3337.9 1555.8,3334.6 1558.8,3331.7 1561.8,3329.8 1564.8,3329.1 1567.8,3330.1 1570.8,3332.8 1573.8,3337.4 1576.8,3343.9 1579.8,3352.0 1582.7,3361.6 1585.7,3372.4 1588.7,3384.0 1591.7,3396.1 1594.7,3408.3 1597.7,3420.3 1600.7,3431.9 1603.7,3442.8 1606.7,3452.9 1609.6,3462.0 1612.6,3470.1 1615.6,3477.2 1618.6,3483.2 1621.6,3488.3 1624.6,3492.5 1627.6,3495.9 1630.6,3498.6 1633.6,3500.6 1636.5,3502.1 1639.5,3503.0 1642.5,3503.4 1645.5,3503.4 1648.5,3502.8 1651.5,3501.6 1654.5,3499.8 1657.5,3497.0 1660.5,3493.2 1663.4,3488.1 1666.4,3481.5 1669.4,3473.0 1672.4,3462.3 1675.4,3449.1 1678.4,3433.1 1681.4,3414.0 1684.4,3391.6 1687.4,3365.7 1690.3,3336.6 1693.3,3304.2 1696.3,3269.1 1699.3,3231.8 1702.3,3192.9 1705.3,3153.6 1708.3,3114.8 1711.3,3077.8 1714.3,3043.8 1717.2,3013.9 1720.2,2989.4 1723.2,2971.1 1726.2,2959.8 1729.2,2956.0 1732.2,2959.1 1735.2,2968.4 1738.2,2983.6 1741.2,3004.2 1744.1,3029.4 1747.1,3058.6 1750.1,3090.8 1753.1,3125.0 1756.1,3160.5 1759.1,3196.2 1762.1,3231.4 1765.1,3265.4 1768.1,3297.6 1771.0,3327.6 1774.0,3355.0 1777.0,3379.7 1780.0,3401.6 1783.0,3420.7 1786.0,3437.2 1789.0,3451.1 1792.0,3462.8 1795.0,3472.4 1798.0,3480.2 1800.9,3486.4 1803.9,3491.4 1806.9,3495.3 1809.9,3498.3 1812.9,3500.5 1815.9,3502.2 1818.9,3503.5 1821.9,3504.4 1824.9,3505.1 1827.8,3505.5 1830.8,3505.8 1833.8,3506.1 1836.8,3506.2 1839.8,3506.3 1842.8,3506.3 1845.8,3506.4 1848.8,3506.4 1851.8,3506.3 1854.7,3506.3 1857.7,3506.2 1860.7,3506.1 1863.7,3505.9 1866.7,3505.7 1869.7,3505.5 1872.7,3505.1 1875.7,3504.7 1878.7,3504.1 1881.6,3503.3 1884.6,3502.5 1887.6,3501.5 1890.6,3500.3 1893.6,3499.1 1896.6,3497.8 1899.6,3496.5 1902.6,3495.2 1905.6,3494.1 1908.5,3493.1 1911.5,3492.4 1914.5,3491.9 1917.5,3491.8 1920.5,3491.9 1923.5,3492.4 1926.5,3493.2 1929.5,3494.2 1932.5,3495.3 1935.4,3496.6 1938.4,3497.9 1941.4,3499.3 1944.4,3500.5 1947.4,3501.7 1950.4,3502.7 1953.4,3503.6 1956.4,3504.3 1959.4,3504.9 1962.3,3505.4 1965.3,3505.8 1968.3,3506.1 1971.3,3506.3 1974.3,3506.5 1977.3,3506.6 1980.3,3506.7 1983.3,3506.7 1986.3,3506.7 1989.2,3506.7 1992.2,3506.7 1995.2,3506.7 1998.2,3506.7 2001.2,3506.7 2004.2,3506.7 2007.2,3506.7 2010.2,3506.6 2013.2,3506.6 2016.1,3506.6 2019.1,3506.6 2022.1,3506.6 2025.1,3506.6 2028.1,3506.6 2031.1,3506.5 2034.1,3506.5 2037.1,3506.5 2040.1,3506.5 2043.0,3506.5 2046.0,3506.4 2049.0,3506.4 2052.0,3506.4 2055.0,3506.3 2058.0,3506.3 2061.0,3506.2 2064.0,3506.2 2067.0,3506.1 2069.9,3506.0 2072.9,3505.7 2075.9,3505.5 2078.9,3505.2 2081.9,3504.9 2084.9,3504.5 2087.9,3504.1 2090.9,3503.7 2093.9,3503.3 2096.9,3502.7 2099.8,3502.2 2102.8,3501.6 2105.8,3500.9 2108.8,3500.1 2111.8,3499.2 2114.8,3498.3 2117.8,3497.3 2120.8,3496.2 2123.8,3495.0 2126.7,3493.7 2129.7,3492.3 2132.7,3490.9 2135.7,3489.4 2138.7,3487.9 2141.7,3486.2 2144.7,3484.5 2147.7,3482.7 2150.7,3480.8 2153.6,3478.8 2156.6,3476.8 2159.6,3474.8 2162.6,3472.7 2165.6,3470.7 2168.6,3468.7 2171.6,3466.7 2174.6,3464.8 2177.6,3463.1 2180.5,3461.4 2183.5,3459.9 2186.5,3458.5 2189.5,3457.3 2192.5,3456.3 2195.5,3455.5 2198.5,3454.9 2201.5,3454.6 2204.5,3454.5 2207.4,3454.7 2210.4,3455.6 2213.4,3456.9 2216.4,3458.7 2219.4,3461.0 2222.4,3463.5 2225.4,3466.4 2228.4,3469.4 2231.4,3472.5 2234.3,3475.7 2237.3,3478.8 2240.3,3481.8 2243.3,3484.6 2246.3,3487.4 2249.3,3489.9 2252.3,3492.2 2255.3,3494.2 2258.3,3495.9 2261.2,3497.5 2264.2,3498.8 2267.2,3499.9 2270.2,3500.9 2273.2,3501.6 2276.2,3502.3 2279.2,3502.8"/>
<polyline stroke="#FF4040" points="366.2,3506.2 369.2,3506.0 372.2,3505.8 375.2,3505.6 378.2,3505.5 381.2,3505.3 384.2,3505.1 387.1,3504.9 390.1,3504.8 393.1,3503.5 396.1,3502.2 399.1,3500.9 402.1,3499.6 405.1,3498.4 408.1,3497.1 411.1,3495.8 414.0,3494.5 417.0,3493.3 420.0,3492.0 423.0,3491.0 426.0,3490.1 429.0,3489.1 432.0,3488.1 435.0,3487.2 438.0,3486.2 440.9,3485.2 443.9,3484.3 446.9,3484.0 449.9,3483.7 452.9,3483.4 455.9,3483.2 458.9,3482.9 461.9,3482.6 464.9,3482.3 467.8,3482.1 470.8,3481.8 473.8,3481.5 476.8,3481.2 479.8,3481.0 482.8,3480.7 485.8,3480.4 488.8,3480.3 491.8,3480.1 494.7,3479.9 497.7,3479.8 500.7,3479.6 503.7,3479.4 506.7,3479.3 509.7,3479.1 512.7,3479.0 515.7,3478.8 518.7,3478.6 521.6,3478.5 524.6,3478.3 527.6,3478.1 530.6,3478.0 533.6,3477.8 536.6,3477.7 539.6,3477.5 542.6,3477.3 545.6,3477.2 548.5,3477.1 551.5,3477.1 554.5,3477.0 557.5,3477.0 560.5,3476.9 563.5,3476.9 566.5,3476.8 569.5,3476.8 572.5,3476.7 575.5,3476.7 578.4,3476.7 581.4,3476.6 584.4,3476.6 587.4,3476.5 590.4,3476.5 593.4,3476.4 596.4,3476.4 599.4,3476.3 602.4,3476.3 605.3,3476.2 608.3,3476.2 611.3,3476.1 614.3,3476.1 617.3,3476.0 620.3,3476.0 623.3,3475.9 626.3,3475.9 629.3,3475.8 632.2,3475.8 635.2,3475.8 638.2,3475.8 641.2,3475.9 644.2,3475.9 647.2,3476.0 650.2,3476.0 653.2,3476.1 656.2,3476.1 659.1,3476.2 662.1,3476.2 665.1,3476.3 668.1,3476.3 671.1,3476.4 674.1,3476.4 677.1,3476.5 680.1,3476.5 683.1,3476.6 686.0,3476.6 689.0,3476.7 692.0,3476.7 695.0,3476.8 698.0,3477.1 701.0,3477.3 704.0,3477.6 707.0,3477.9 710.0,3478.2 712.9,3478.5 715.9,3478.8 718.9,3479.0 721.9,3479.3 724.9,3479.6 727.9,3479.9 730.9,3480.2 733.9,3480.5 736.9,3480.7 739.8,3481.0 742.8,3481.3 745.8,3481.6 748.8,3481.9 751.8,3482.2 754.8,3482.4 757.8,3482.8 760.8,3483.1 763.8,3483.4 766.7,3483.7 769.7,3484.0 772.7,3484.3 775.7,3484.6 778.7,3484.9 781.7,3485.2 784.7,3485.5 787.7,3485.8 790.7,3486.1 793.6,3486.4 796.6,3486.7 799.6,3487.0 802.6,3487.3 805.6,3487.6 808.6,3487.9 811.6,3488.2 814.6,3488.5 817.6,3488.9 820.5,3489.3 823.5,3489.6 826.5,3490.0 829.5,3490.4 832.5,3490.7 835.5,3491.1 838.5,3491.5 841.5,3491.8 844.5,3492.2 847.4,3492.6 850.4,3492.9 853.4,3493.3 856.4,3493.7 859.4,3494.0 862.4,3494.4 865.4,3494.8 868.4,3495.1 871.4,3495.5 874.3,3495.8 877.3,3496.2 880.3,3496.5 883.3,3496.8 886.3,3497.0 889.3,3497.1 892.3,3497.0 895.3,3496.7 898.3,3496.0 901.3,3494.7 904.2,3492.6 907.2,3489.3 910.2,3484.5 913.2,3477.6 916.2,3468.2 919.2,3455.5 922.2,3439.0 925.2,3418.2 928.2,3392.5 931.1,3361.8 934.1,3326.1 937.1,3286.1 940.1,3242.5 943.1,3196.8 946.1,3150.7 949.1,3106.3 952.1,3065.8 955.1,3031.6 958.0,3005.5 961.0,2989.3 964.0,2984.0 967.0,2987.2 970.0,2996.3 973.0,3011.0 976.0,3030.7 979.0,3054.9 982.0,3082.8 984.9,3113.5 987.9,3146.2 990.9,3180.0 993.9,3214.1 996.9,3247.6 999.9,3280.0 1002.9,3310.6 1005.9,3339.1 1008.9,3365.3 1011.8,3388.8 1014.8,3409.7 1017.8,3427.9 1020.8,3443.6 1023.8,3457.0 1026.8,3468.2 1029.8,3477.4 1032.8,3485.0 1035.8,3491.1 1038.7,3496.0 1041.7,3499.8 1044.7,3502.8 1047.7,3505.1 1050.7,3506.9 1053.7,3508.2 1056.7,3509.1 1059.7,3509.8 1062.7,3510.3 1065.6,3510.7 1068.6,3510.9 1071.6,3511.1 1074.6,3511.2 1077.6,3511.3 1080.6,3511.4 1083.6,3511.4 1086.6,3511.5 1089.6,3511.5 1092.5,3511.6 1095.5,3511.6 1098.5,3511.6 1101.5,3511.6 1104.5,3511.7 1107.5,3511.7 1110.5,3511.7 1113.5,3511.8 1116.5,3511.8 1119.4,3511.8 1122.4,3511.8 1125.4,3511.9 1128.4,3511.9 1131.4,3511.9 1134.4,3511.9 1137.4,3512.0 1140.4,3512.0 1143.4,3512.0 1146.3,3512.0 1149.3,3512.1 1152.3,3512.1 1155.3,3512.1 1158.3,3512.1 1161.3,3512.2 1164.3,3512.2 1167.3,3512.2 1170.3,3512.2 1173.2,3512.3 1176.2,3512.2 1179.2,3512.2 1182.2,3512.2 1185.2,3512.2 1188.2,3512.2 1191.2,3512.1 1194.2,3512.1 1197.2,3512.1 1200.2,3512.0 1203.1,3511.9 1206.1,3511.8 1209.1,3511.5 1212.1,3511.2 1215.1,3510.5 1218.1,3509.4 1221.1,3507.7 1224.1,3505.1 1227.1,3500.9 1230.0,3494.7 1233.0,3485.7 1236.0,3472.7 1239.0,3454.6 1242.0,3430.0 1245.0,3397.4 1248.0,3355.3 1251.0,3302.4 1254.0,3237.8 1256.9,3161.2 1259.9,3073.1 1262.9,2974.8 1265.9,2868.9 1268.9,2759.0 1271.9,2649.8 1274.9,2546.4 1277.9,2454.3 1280.9,2378.9 1283.8,2324.7 1286.8,2295.3 1289.8,2291.6 1292.8,2305.2 1295.8,2333.6 1298.8,2375.7 1301.8,2430.0 1304.8,2494.5 1307.8,2567.1 1310.7,2645.4 1313.7,2727.1 1316.7,2810.0 1319.7,2891.9 1322.7,2971.0 1325.7,3045.9 1328.7,3115.3 1331.7,3178.6 1334.7,3235.1 1337.6,3284.9 1340.6,3327.9 1343.6,3364.5 1346.6,3395.1 1349.6,3420.4 1352.6,3440.9 1355.6,3457.4 1358.6,3470.3 1361.6,3480.4 1364.5,3488.1 1367.5,3493.9 1370.5,3498.2 1373.5,3501.4 1376.5,3503.6 1379.5,3505.2 1382.5,3506.3 1385.5,3507.1 1388.5,3507.6 1391.4,3507.9 1394.4,3508.1 1397.4,3508.3 1400.4,3508.3 1403.4,3508.3 1406.4,3508.3 1409.4,3508.3 1412.4,3508.3 1415.4,3508.2 1418.3,3508.2 1421.3,3508.1 1424.3,3508.1 1427.3,3508.0 1430.3,3508.0 1433.3,3507.9 1436.3,3507.9 1439.3,3507.8 1442.3,3507.8 1445.2,3507.7 1448.2,3507.6 1451.2,3507.5 1454.2,3507.4 1457.2,3507.2 1460.2,3506.9 1463.2,3506.4 1466.2,3505.7 1469.2,3504.6 1472.1,3503.0 1475.1,3500.7 1478.1,3497.5 1481.1,3493.2 1484.1,3487.5 1487.1,3480.4 1490.1,3471.8 1493.1,3461.5 1496.1,3449.8 1499.1,3437.0 1502.0,3423.4 1505.0,3409.6 1508.0,3396.2 1511.0,3383.8 1514.0,3372.9 1517.0,3363.9 1520.0,3357.0 1523.0,3352.3 1526.0,3349.4 1528.9,3347.9 1531.9,3347.4 1534.9,3347.3 1537.9,3347.0 1540.9,3346.2 1543.9,3344.6 1546.9,3342.2 1549.9,3339.2 1552.9,3335.8 1555.8,3332.4 1558.8,3329.5 1561.8,3327.6 1564.8,3326.9 1567.8,3327.9 1570.8,3330.6 1573.8,3335.3 1576.8,3341.8 1579.8,3350.1 1582.7,3359.8 1585.7,3370.7 1588.7,3382.4 1591.7,3394.7 1594.7,3407.0 1597.7,3419.2 1600.7,3431.0 1603.7,3442.0 1606.7,3452.2 1609.6,3461.5 1612.6,3469.7 1615.6,3476.8 1618.6,3482.9 1621.6,3488.1 1624.6,3492.3 1627.6,3495.8 1630.6,3498.5 1633.6,3500.5 1636.5,3502.0 1639.5,3503.0 1642.5,3503.5 1645.5,3503.5 1648.5,3502.9 1651.5,3501.8 1654.5,3500.0 1657.5,3497.4 1660.5,3493.7 1663.4,3488.8 1666.4,3482.4 1669.4,3474.2 1672.4,3463.9 1675.4,3451.2 1678.4,3435.8 1681.4,3417.3 1684.4,3395.7 1687.4,3370.9 1690.3,3342.7 1693.3,3311.6 1696.3,3277.7 1699.3,3241.7 1702.3,3204.3 1705.3,3166.4 1708.3,3129.0 1711.3,3093.3 1714.3,3060.5 1717.2,3031.7 1720.2,3008.0 1723.2,2990.4 1726.2,2979.5 1729.2,2975.9 1732.2,2978.9 1735.2,2987.9 1738.2,3002.5 1741.2,3022.3 1744.1,3046.7 1747.1,3074.8 1750.1,3105.8 1753.1,3138.8 1756.1,3173.0 1759.1,3207.4 1762.1,3241.3 1765.1,3274.1 1768.1,3305.2 1771.0,3334.1 1774.0,3360.5 1777.0,3384.3 1780.0,3405.4 1783.0,3423.8 1786.0,3439.7 1789.0,3453.1 1792.0,3464.3 1795.0,3473.6 1798.0,3481.1 1800.9,3487.2 1803.9,3492.0 1806.9,3495.7 1809.9,3498.6 1812.9,3500.7 1815.9,3502.4 1818.9,3503.6 1821.9,3504.5 1824.9,3505.1 1827.8,3505.6 1830.8,3505.9 1833.8,3506.1 1836.8,3506.2 1839.8,3506.3 1842.8,3506.3 1845.8,3506.4 1848.8,3506.4 1851.8,3506.3 1854.7,3506.3 1857.7,3506.2 1860.7,3506.1 1863.7,3505.9 1866.7,3505.7 1869.7,3505.5 1872.7,3505.1 1875.7,3504.7 1878.7,3504.1 1881.6,3503.3 1884.6,3502.5 1887.6,3501.5 1890.6,3500.3 1893.6,3499.1 1896.6,3497.8 1899.6,3496.5 1902.6,3495.2 1905.6,3494.1 1908.5,3493.1 1911.5,3492.4 1914.5,3491.9 1917.5,3491.8 1920.5,3491.9 1923.5,3492.4 1926.5,3493.2 1929.5,3494.2 1932.5,3495.3 1935.4,3496.6 1938.4,3497.9 1941.4,3499.3 1944.4,3500.5 1947.4,3501.7 1950.4,3502.7 1953.4,3503.6 1956.4,3504.3 1959.4,3504.9 1962.3,3505.4 1965.3,3505.8 1968.3,3506.1 1971.3,3506.3 1974.3,3506.5 1977.3,3506.6 1980.3,3506.7 1983.3,3506.7 1986.3,3506.7 1989.2,3506.7 1992.2,3506.7 1995.2,3506.7 1998.2,3506.7 2001.2,3506.7 2004.2,3506.7 2007.2,3506.7 2010.2,3506.6 2013.2,3506.6 2016.1,3506.6 2019.1,3506.6 2022.1,3506.6 2025.1,3506.6 2028.1,3506.6 2031.1,3506.5 2034.1,3506.5 2037.1,3506.5 2040.1,3506.5 2043.0,3506.5 2046.0,3506.4 2049.0,3506.4 2052.0,3506.4 2055.0,3506.3 2058.0,3506.3 2061.0,3506.2 2064.0,3506.1 2067.0,3506.1 2069.9,3506.0 2072.9,3505.7 2075.9,3505.4 2078.9,3505.1 2081.9,3504.8 2084.9,3504.4 2087.9,3504.1 2090.9,3503.6 2093.9,3503.1 2096.9,3502.6 2099.8,3502.0 2102.8,3501.3 2105.8,3500.6 2108.8,3499.8 2111.8,3498.9 2114.8,3497.9 2117.8,3496.9 2120.8,3495.7 2123.8,3494.4 2126.7,3493.0 2129.7,3491.5 2132.7,3490.1 2135.7,3488.5 2138.7,3486.9 2141.7,3485.1 2144.7,3483.2 2147.7,3481.3 2150.7,3479.3 2153.6,3477.2 2156.6,3475.0 2159.6,3472.9 2162.6,3470.7 2165.6,3468.5 2168.6,3466.4 2171.6,3464.3 2174.6,3462.3 2177.6,3460.4 2180.5,3458.6 2183.5,3457.0 2186.5,3455.5 2189.5,3454.2 2192.5,3453.2 2195.5,3452.3 2198.5,3451.7 2201.5,3451.3 2204.5,3451.2 2207.4,3451.5 2210.4,3452.4 2213.4,3453.8 2216.4,3455.8 2219.4,3458.1 2222.4,3460.9 2225.4,3463.9 2228.4,3467.1 2231.4,3470.5 2234.3,3473.9 2237.3,3477.2 2240.3,3480.4 2243.3,3483.4 2246.3,3486.3 2249.3,3489.0 2252.3,3491.4 2255.3,3493.6 2258.3,3495.4 2261.2,3497.1 2264.2,3498.5 2267.2,3499.7 2270.2,3500.6 2273.2,3501.5 2276.2,3502.1 2279.2,3502.7"/>
<polyline stroke="#006CE3" points="366.2,3506.2 369.2,3506.0 372.2,3505.8 375.2,3505.6 378.2,3505.5 381.2,3505.3 384.2,3505.1 387.1,3504.9 390.1,3504.8 393.1,3504.0 396.1,3503.2 399.1,3502.4 402.1,3501.6 405.1,3500.8 408.1,3500.0 411.1,3499.2 414.0,3498.4 417.0,3497.6 420.0,3496.8 423.0,3496.1 426.0,3495.4 429.0,3494.7 432.0,3494.0 435.0,3493.2 438.0,3492.5 440.9,3491.8 443.9,3491.1 446.9,3490.9 449.9,3490.7 452.9,3490.5 455.9,3490.3 458.9,3490.1 461.9,3489.9 464.9,3489.6 467.8,3489.4 470.8,3489.2 473.8,3489.0 476.8,3488.8 479.8,3488.6 482.8,3488.4 485.8,3488.2 488.8,3488.1 491.8,3488.1 494.7,3488.0 497.7,3487.9 500.7,3487.9 503.7,3487.8 506.7,3487.8 509.7,3487.7 512.7,3487.6 515.7,3487.6 518.7,3487.5 521.6,3487.4 524.6,3487.4 527.6,3487.3 530.6,3487.2 533.6,3487.2 536.6,3487.1 539.6,3487.0 542.6,3487.0 545.6,3486.9 548.5,3486.9 551.5,3486.8 554.5,3486.8 557.5,3486.7 560.5,3486.7 563.5,3486.6 566.5,3486.6 569.5,3486.5 572.5,3486.5 575.5,3486.4 578.4,3486.4 581.4,3486.3 584.4,3486.3 587.4,3486.2 590.4,3486.2 593.4,3486.2 596.4,3486.1 599.4,3486.1 602.4,3486.0 605.3,3486.0 608.3,3485.9 611.3,3485.9 614.3,3485.8 617.3,3485.8 620.3,3485.7 623.3,3485.7 626.3,3485.6 629.3,3485.6 632.2,3485.5 635.2,3485.5 638.2,3485.5 641.2,3485.6 644.2,3485.6 647.2,3485.7 650.2,3485.7 653.2,3485.8 656.2,3485.8 659.1,3485.9 662.1,3485.9 665.1,3486.0 668.1,3486.0 671.1,3486.1 674.1,3486.1 677.1,3486.2 680.1,3486.2 683.1,3486.3 686.0,3486.4 689.0,3486.4 692.0,3486.5 695.0,3486.5 698.0,3486.7 701.0,3486.9 704.0,3487.1 707.0,3487.2 710.0,3487.4 712.9,3487.6 715.9,3487.8 718.9,3488.0 721.9,3488.2 724.9,3488.4 727.9,3488.6 730.9,3488.7 733.9,3488.9 736.9,3489.1 739.8,3489.3 742.8,3489.5 745.8,3489.7 748.8,3489.9 751.8,3490.0 754.8,3490.2 757.8,3490.4 760.8,3490.6 763.8,3490.7 766.7,3490.9 769.7,3491.0 772.7,3491.2 775.7,3491.3 778.7,3491.5 781.7,3491.7 784.7,3491.8 787.7,3492.0 790.7,3492.1 793.6,3492.3 796.6,3492.4 799.6,3492.6 802.6,3492.8 805.6,3492.9 808.6,3493.1 811.6,3493.2 814.6,3493.4 817.6,3493.6 820.5,3493.8 823.5,3493.9 826.5,3494.1 829.5,3494.3 832.5,3494.5 835.5,3494.7 838.5,3494.8 841.5,3495.0 844.5,3495.2 847.4,3495.4 850.4,3495.6 853.4,3495.7 856.4,3495.9 859.4,3496.1 862.4,3496.3 865.4,3496.4 868.4,3496.6 871.4,3496.8 874.3,3497.0 877.3,3497.1 880.3,3497.2 883.3,3497.3 886.3,3497.4 889.3,3497.3 892.3,3497.1 895.3,3496.7 898.3,3496.0 901.3,3494.7 904.2,3492.7 907.2,3489.5 910.2,3484.7 913.2,3478.0 916.2,3468.7 919.2,3456.2 922.2,3440.0 925.2,3419.5 928.2,3394.2 931.1,3363.9 934.1,3328.9 937.1,3289.4 940.1,3246.5 943.1,3201.5 946.1,3156.2 949.1,3112.5 952.1,3072.6 955.1,3038.9 958.0,3013.3 961.0,2997.3 964.0,2992.1 967.0,2995.3 970.0,3004.3 973.0,3018.7 976.0,3038.1 979.0,3062.0 982.0,3089.4 984.9,3119.7 987.9,3151.9 990.9,3185.1 993.9,3218.7 996.9,3251.7 999.9,3283.5 1002.9,3313.7 1005.9,3341.8 1008.9,3367.5 1011.8,3390.7 1014.8,3411.2 1017.8,3429.2 1020.8,3444.7 1023.8,3457.8 1026.8,3468.8 1029.8,3477.9 1032.8,3485.4 1035.8,3491.4 1038.7,3496.2 1041.7,3500.0 1044.7,3502.9 1047.7,3505.2 1050.7,3506.9 1053.7,3508.3 1056.7,3509.2 1059.7,3509.8 1062.7,3510.3 1065.6,3510.7 1068.6,3510.9 1071.6,3511.1 1074.6,3511.2 1077.6,3511.3 1080.6,3511.4 1083.6,3511.4 1086.6,3511.5 1089.6,3511.5 1092.5,3511.6 1095.5,3511.6 1098.5,3511.6 1101.5,3511.6 1104.5,3511.7 1107.5,3511.7 1110.5,3511.7 1113.5,3511.8 1116.5,3511.8 1119.4,3511.8 1122.4,3511.8 1125.4,3511.9 1128.4,3511.9 1131.4,3511.9 1134.4,3511.9 1137.4,3512.0 1140.4,3512.0 1143.4,3512.0 1146.3,3512.0 1149.3,3512.1 1152.3,3512.1 1155.3,3512.1 1158.3,3512.1 1161.3,3512.2 1164.3,3512.2 1167.3,3512.2 1170.3,3512.2 1173.2,3512.3 1176.2,3512.2 1179.2,3512.2 1182.2,3512.2 1185.2,3512.2 1188.2,3512.2 1191.2,3512.1 1194.2,3512.1 1197.2,3512.1 1200.2,3512.0 1203.1,3511.9 1206.1,3511.8 1209.1,3511.5 1212.1,3511.2 1215.1,3510.5 1218.1,3509.5 1221.1,3507.8 1224.1,3505.1 1227.1,3501.0 1230.0,3494.8 1233.0,3485.8 1236.0,3472.9 1239.0,3454.9 1242.0,3430.4 1245.0,3397.9 1248.0,3356.0 1251.0,3303.3 1254.0,3239.1 1256.9,3162.8 1259.9,3075.0 1262.9,2977.2 1265.9,2871.8 1268.9,2762.4 1271.9,2653.7 1274.9,2550.7 1277.9,2459.0 1280.9,2383.9 1283.8,2330.0 1286.8,2300.8 1289.8,2297.1 1292.8,2310.6 1295.8,2338.9 1298.8,2380.8 1301.8,2434.8 1304.8,2499.0 1307.8,2571.3 1310.7,2649.3 1313.7,2730.6 1316.7,2813.1 1319.7,2894.7 1322.7,2973.5 1325.7,3048.0 1328.7,3117.1 1331.7,3180.1 1334.7,3236.4 1337.6,3285.9 1340.6,3328.7 1343.6,3365.1 1346.6,3395.6 1349.6,3420.8 1352.6,3441.3 1355.6,3457.6 1358.6,3470.5 1361.6,3480.5 1364.5,3488.2 1367.5,3494.0 1370.5,3498.3 1373.5,3501.4 1376.5,3503.6 1379.5,3505.2 1382.5,3506.3 1385.5,3507.1 1388.5,3507.6 1391.4,3507.9 1394.4,3508.1 1397.4,3508.3 1400.4,3508.3 1403.4,3508.3 1406.4,3508.3 1409.4,3508.3 1412.4,3508.3 1415.4,3508.2 1418.3,3508.2 1421.3,3508.1 1424.3,3508.1 1427.3,3508.0 1430.3,3508.0 1433.3,3507.9 1436.3,3507.9 1439.3,3507.8 1442.3,3507.8 1445.2,3507.7 1448.2,3507.6 1451.2,3507.5 1454.2,3507.4 1457.2,3507.2 1460.2,3506.9 1463.2,3506.5 1466.2,3505.8 1469.2,3504.7 1472.1,3503.2 1475.1,3500.9 1478.1,3497.8 1481.1,3493.7 1484.1,3488.2 1487.1,3481.4 1490.1,3473.0 1493.1,3463.1 1496.1,3451.8 1499.1,3439.4 1502.0,3426.3 1505.0,3413.0 1508.0,3400.0 1511.0,3388.1 1514.0,3377.6 1517.0,3368.9 1520.0,3362.3 1523.0,3357.7 1526.0,3354.9 1528.9,3353.5 1531.9,3353.0 1534.9,3352.8 1537.9,3352.6 1540.9,3351.8 1543.9,3350.3 1546.9,3348.0 1549.9,3345.1 1552.9,3341.8 1555.8,3338.5 1558.8,3335.7 1561.8,3333.8 1564.8,3333.2 1567.8,3334.1 1570.8,3336.8 1573.8,3341.3 1576.8,3347.6 1579.8,3355.5 1582.7,3364.9 1585.7,3375.4 1588.7,3386.8 1591.7,3398.6 1594.7,3410.5 1597.7,3422.3 1600.7,3433.6 1603.7,3444.3 1606.7,3454.2 1609.6,3463.1 1612.6,3471.0 1615.6,3477.9 1618.6,3483.8 1621.6,3488.8 1624.6,3492.9 1627.6,3496.2 1630.6,3498.8 1633.6,3500.8 1636.5,3502.3 1639.5,3503.2 1642.5,3503.7 1645.5,3503.8 1648.5,3503.3 1651.5,3502.4 1654.5,3500.8 1657.5,3498.4 1660.5,3495.2 1663.4,3490.8 1666.4,3485.1 1669.4,3477.8 1672.4,3468.6 1675.4,3457.3 1678.4,3443.5 1681.4,3427.0 1684.4,3407.7 1687.4,3385.5 1690.3,3360.4 1693.3,3332.6 1696.3,3302.3 1699.3,3270.2 1702.3,3236.8 1705.3,3202.9 1708.3,3169.6 1711.3,3137.7 1714.3,3108.4 1717.2,3082.7 1720.2,3061.6 1723.2,3045.8 1726.2,3036.1 1729.2,3032.8 1732.2,3035.5 1735.2,3043.6 1738.2,3056.6 1741.2,3074.3 1744.1,3096.0 1747.1,3121.1 1750.1,3148.8 1753.1,3178.3 1756.1,3208.8 1759.1,3239.5 1762.1,3269.8 1765.1,3299.1 1768.1,3326.8 1771.0,3352.6 1774.0,3376.2 1777.0,3397.5 1780.0,3416.3 1783.0,3432.7 1786.0,3446.9 1789.0,3458.9 1792.0,3468.9 1795.0,3477.2 1798.0,3483.9 1800.9,3489.3 1803.9,3493.5 1806.9,3496.9 1809.9,3499.4 1812.9,3501.4 1815.9,3502.8 1818.9,3503.9 1821.9,3504.7 1824.9,3505.3 1827.8,3505.7 1830.8,3505.9 1833.8,3506.1 1836.8,3506.3 1839.8,3506.3 1842.8,3506.4 1845.8,3506.4 1848.8,3506.4 1851.8,3506.3 1854.7,3506.3 1857.7,3506.2 1860.7,3506.1 1863.7,3506.0 1866.7,3505.8 1869.7,3505.6 1872.7,3505.2 1875.7,3504.8 1878.7,3504.3 1881.6,3503.6 1884.6,3502.8 1887.6,3501.9 1890.6,3500.8 1893.6,3499.7 1896.6,3498.5 1899.6,3497.3 1902.6,3496.2 1905.6,3495.1 1908.5,3494.2 1911.5,3493.5 1914.5,3493.1 1917.5,3493.0 1920.5,3493.1 1923.5,3493.6 1926.5,3494.3 1929.5,3495.2 1932.5,3496.3 1935.4,3497.4 1938.4,3498.7 1941.4,3499.9 1944.4,3501.0 1947.4,3502.1 1950.4,3503.0 1953.4,3503.8 1956.4,3504.5 1959.4,3505.1 1962.3,3505.5 1965.3,3505.9 1968.3,3506.1 1971.3,3506.3 1974.3,3506.5 1977.3,3506.6 1980.3,3506.7 1983.3,3506.7 1986.3,3506.7 1989.2,3506.7 1992.2,3506.7 1995.2,3506.7 1998.2,3506.7 2001.2,3506.7 2004.2,3506.7 2007.2,3506.7 2010.2,3506.6 2013.2,3506.6 2016.1,3506.6 2019.1,3506.6 2022.1,3506.6 2025.1,3506.6 2028.1,3506.6 2031.1,3506.5 2034.1,3506.5 2037.1,3506.5 2040.1,3506.5 2043.0,3506.5 2046.0,3506.4 2049.0,3506.4 2052.0,3506.4 2055.0,3506.3 2058.0,3506.3 2061.0,3506.2 2064.0,3506.2 2067.0,3506.1 2069.9,3506.0 2072.9,3505.7 2075.9,3505.5 2078.9,3505.2 2081.9,3504.9 2084.9,3504.5 2087.9,3504.1 2090.9,3503.7 2093.9,3503.3 2096.9,3502.7 2099.8,3502.2 2102.8,3501.6 2105.8,3500.9 2108.8,3500.1 2111.8,3499.2 2114.8,3498.3 2117.8,3497.3 2120.8,3496.2 2123.8,3495.0 2126.7,3493.7 2129.7,3492.3 2132.7,3490.9 2135.7,3489.4 2138.7,3487.9 2141.7,3486.2 2144.7,3484.5 2147.7,3482.7 2150.7,3480.8 2153.6,3478.8 2156.6,3476.8 2159.6,3474.8 2162.6,3472.7 2165.6,3470.7 2168.6,3468.7 2171.6,3466.7 2174.6,3464.8 2177.6,3463.1 2180.5,3461.4 2183.5,3459.9 2186.5,3458.5 2189.5,3457.3 2192.5,3456.3 2195.5,3455.5 2198.5,3454.9 2201.5,3454.6 2204.5,3454.5 2207.4,3454.7 2210.4,3455.6 2213.4,3456.9 2216.4,3458.7 2219.4,3461.0 2222.4,3463.5 2225.4,3466.4 2228.4,3469.4 2231.4,3472.5 2234.3,3475.7 2237.3,3478.8 2240.3,3481.8 2243.3,3484.6 2246.3,3487.4 2249.3,3489.9 2252.3,3492.2 2255.3,3494.2 2258.3,3495.9 2261.2,3497.5 2264.2,3498.8 2267.2,3499.9 2270.2,3500.9 2273.2,3501.6 2276.2,3502.3 2279.2,3502.8"/>
<polyline stroke="#00AE64" points="366.2,3506.2 369.2,3506.0 372.2,3505.8 375.2,3505.6 378.2,3505.5 381.2,3505.3 384.2,3505.1 387.1,3504.9 390.1,3504.8 393.1,3503.9 396.1,3503.0 399.1,3502.1 402.1,3501.3 405.1,3500.4 408.1,3499.5 411.1,3498.7 414.0,3497.8 417.0,3496.9 420.0,3496.0 423.0,3495.3 426.0,3494.5 429.0,3493.8 432.0,3493.0 435.0,3492.2 438.0,3491.5 440.9,3490.7 443.9,3490.0 446.9,3489.7 449.9,3489.5 452.9,3489.3 455.9,3489.1 458.9,3488.9 461.9,3488.6 464.9,3488.4 467.8,3488.2 470.8,3488.0 473.8,3487.8 476.8,3487.6 479.8,3487.3 482.8,3487.1 485.8,3486.9 488.8,3486.8 491.8,3486.7 494.7,3486.7 497.7,3486.6 500.7,3486.5 503.7,3486.4 506.7,3486.3 509.7,3486.3 512.7,3486.2 515.7,3486.1 518.7,3486.0 521.6,3485.9 524.6,3485.9 527.6,3485.8 530.6,3485.7 533.6,3485.6 536.6,3485.5 539.6,3485.4 542.6,3485.4 545.6,3485.3 548.5,3485.2 551.5,3485.2 554.5,3485.1 557.5,3485.1 560.5,3485.0 563.5,3485.0 566.5,3485.0 569.5,3484.9 572.5,3484.9 575.5,3484.8 578.4,3484.8 581.4,3484.7 584.4,3484.7 587.4,3484.6 590.4,3484.6 593.4,3484.5 596.4,3484.5 599.4,3484.4 602.4,3484.4 605.3,3484.3 608.3,3484.3 611.3,3484.2 614.3,3484.2 617.3,3484.1 620.3,3484.1 623.3,3484.1 626.3,3484.0 629.3,3484.0 632.2,3483.9 635.2,3483.9 638.2,3483.9 641.2,3484.0 644.2,3484.0 647.2,3484.1 650.2,3484.1 653.2,3484.2 656.2,3484.2 659.1,3484.3 662.1,3484.3 665.1,3484.4 668.1,3484.4 671.1,3484.5 674.1,3484.5 677.1,3484.6 680.1,3484.6 683.1,3484.7 686.0,3484.7 689.0,3484.8 692.0,3484.8 695.0,3484.9 698.0,3485.1 701.0,3485.3 704.0,3485.5 707.0,3485.7 710.0,3485.9 712.9,3486.1 715.9,3486.3 718.9,3486.5 721.9,3486.7 724.9,3486.9 727.9,3487.1 730.9,3487.3 733.9,3487.5 736.9,3487.7 739.8,3487.9 742.8,3488.1 745.8,3488.3 748.8,3488.5 751.8,3488.7 754.8,3488.9 757.8,3489.1 760.8,3489.3 763.8,3489.5 766.7,3489.7 769.7,3489.8 772.7,3490.0 775.7,3490.2 778.7,3490.4 781.7,3490.6 784.7,3490.8 787.7,3490.9 790.7,3491.1 793.6,3491.3 796.6,3491.5 799.6,3491.7 802.6,3491.9 805.6,3492.0 808.6,3492.2 811.6,3492.4 814.6,3492.6 817.6,3492.8 820.5,3493.0 823.5,3493.2 826.5,3493.4 829.5,3493.6 832.5,3493.8 835.5,3494.1 838.5,3494.3 841.5,3494.5 844.5,3494.7 847.4,3494.9 850.4,3495.1 853.4,3495.3 856.4,3495.5 859.4,3495.7 862.4,3496.0 865.4,3496.2 868.4,3496.4 871.4,3496.6 874.3,3496.8 877.3,3497.0 880.3,3497.1 883.3,3497.2 886.3,3497.3 889.3,3497.3 892.3,3497.1 895.3,3496.8 898.3,3496.1 901.3,3494.8 904.2,3492.8 907.2,3489.6 910.2,3485.0 913.2,3478.3 916.2,3469.2 919.2,3456.9 922.2,3441.0 925.2,3420.8 928.2,3395.9 931.1,3366.1 934.1,3331.6 937.1,3292.8 940.1,3250.6 943.1,3206.3 946.1,3161.7 949.1,3118.7 952.1,3079.5 955.1,3046.3 958.0,3021.1 961.0,3005.4 964.0,3000.2 967.0,3003.4 970.0,3012.2 973.0,3026.4 976.0,3045.5 979.0,3069.0 982.0,3096.0 984.9,3125.8 987.9,3157.5 990.9,3190.2 993.9,3223.3 996.9,3255.7 999.9,3287.1 1002.9,3316.8 1005.9,3344.4 1008.9,3369.7 1011.8,3392.5 1014.8,3412.8 1017.8,3430.5 1020.8,3445.7 1023.8,3458.6 1026.8,3469.5 1029.8,3478.4 1032.8,3485.8 1035.8,3491.7 1038.7,3496.4 1041.7,3500.1 1044.7,3503.0 1047.7,3505.3 1050.7,3507.0 1053.7,3508.3 1056.7,3509.2 1059.7,3509.9 1062.7,3510.3 1065.6,3510.7 1068.6,3510.9 1071.6,3511.1 1074.6,3511.2 1077.6,3511.3 1080.6,3511.4 1083.6,3511.4 1086.6,3511.5 1089.6,3511.5 1092.5,3511.6 1095.5,3511.6 1098.5,3511.6 1101.5,3511.6 1104.5,3511.7 1107.5,3511.7 1110.5,3511.7 1113.5,3511.8 1116.5,3511.8 1119.4,3511.8 1122.4,3511.8 1125.4,3511.9 1128.4,3511.9 1131.4,3511.9 1134.4,3511.9 1137.4,3512.0 1140.4,3512.0 1143.4,3512.0 1146.3,3512.0 1149.3,3512.1 1152.3,3512.1 1155.3,3512.1 1158.3,3512.1 1161.3,3512.2 1164.3,3512.2 1167.3,3512.2 1170.3,3512.2 1173.2,3512.3 1176.2,3512.2 1179.2,3512.2 1182.2,3512.2 1185.2,3512.2 1188.2,3512.2 1191.2,3512.1 1194.2,3512.1 1197.2,3512.1 1200.2,3512.0 1203.1,3511.9 1206.1,3511.8 1209.1,3511.6 1212.1,3511.2 1215.1,3510.5 1218.1,3509.5 1221.1,3507.8 1224.1,3505.2 1227.1,3501.1 1230.0,3495.0 1233.0,3486.1 1236.0,3473.3 1239.0,3455.5 1242.0,3431.3 1245.0,3399.2 1248.0,3357.7 1251.0,3305.7 1254.0,3242.2 1256.9,3166.8 1259.9,3080.0 1262.9,2983.3 1265.9,2879.0 1268.9,2770.9 1271.9,2663.4 1274.9,2561.6 1277.9,2471.0 1280.9,2396.7 1283.8,2343.4 1286.8,2314.5 1289.8,2310.8 1292.8,2324.3 1295.8,2352.2 1298.8,2393.6 1301.8,2447.0 1304.8,2510.5 1307.8,2582.0 1310.7,2659.1 1313.7,2739.5 1316.7,2821.1 1319.7,2901.7 1322.7,2979.5 1325.7,3053.2 1328.7,3121.6 1331.7,3183.8 1334.7,3239.5 1337.6,3288.4 1340.6,3330.7 1343.6,3366.8 1346.6,3396.9 1349.6,3421.8 1352.6,3442.0 1355.6,3458.2 1358.6,3471.0 1361.6,3480.9 1364.5,3488.4 1367.5,3494.1 1370.5,3498.4 1373.5,3501.5 1376.5,3503.7 1379.5,3505.3 1382.5,3506.4 1385.5,3507.1 1388.5,3507.6 1391.4,3508.0 1394.4,3508.2 1397.4,3508.3 1400.4,3508.3 1403.4,3508.3 1406.4,3508.3 1409.4,3508.3 1412.4,3508.3 1415.4,3508.2 1418.3,3508.2 1421.3,3508.1 1424.3,3508.1 1427.3,3508.0 1430.3,3508.0 1433.3,3507.9 1436.3,3507.9 1439.3,3507.8 1442.3,3507.8 1445.2,3507.7 1448.2,3507.6 1451.2,3507.5 1454.2,3507.4 1457.2,3507.2 1460.2,3506.9 1463.2,3506.5 1466.2,3505.8 1469.2,3504.8 1472.1,3503.3 1475.1,3501.1 1478.1,3498.0 1481.1,3493.9 1484.1,3488.6 1487.1,3481.8 1490.1,3473.6 1493.1,3463.9 1496.1,3452.8 1499.1,3440.6 1502.0,3427.7 1505.0,3414.6 1508.0,3401.9 1511.0,3390.2 1514.0,3379.8 1517.0,3371.3 1520.0,3364.8 1523.0,3360.3 1526.0,3357.6 1528.9,3356.2 1531.9,3355.7 1534.9,3355.5 1537.9,3355.3 1540.9,3354.5 1543.9,3353.0 1546.9,3350.8 1549.9,3347.9 1552.9,3344.7 1555.8,3341.5 1558.8,3338.7 1561.8,3336.9 1564.8,3336.2 1567.8,3337.1 1570.8,3339.8 1573.8,3344.2 1576.8,3350.4 1579.8,3358.2 1582.7,3367.4 1585.7,3377.8 1588.7,3388.9 1591.7,3400.5 1594.7,3412.2 1597.7,3423.8 1600.7,3434.9 1603.7,3445.4 1606.7,3455.1 1609.6,3463.9 1612.6,3471.6 1615.6,3478.4 1618.6,3484.2 1621.6,3489.1 1624.6,3493.1 1627.6,3496.4 1630.6,3499.0 1633.6,3500.9 1636.5,3502.3 1639.5,3503.3 1642.5,3503.8 1645.5,3503.8 1648.5,3503.4 1651.5,3502.4 1654.5,3500.9 1657.5,3498.6 1660.5,3495.3 1663.4,3491.0 1666.4,3485.4 1669.4,3478.1 1672.4,3469.0 1675.4,3457.8 1678.4,3444.2 1681.4,3427.9 1684.4,3408.8 1687.4,3386.9 1690.3,3362.0 1693.3,3334.5 1696.3,3304.6 1699.3,3272.8 1702.3,3239.8 1705.3,3206.3 1708.3,3173.3 1711.3,3141.8 1714.3,3112.8 1717.2,3087.4 1720.2,3066.5 1723.2,3051.0 1726.2,3041.4 1729.2,3038.1 1732.2,3040.8 1735.2,3048.7 1738.2,3061.6 1741.2,3079.1 1744.1,3100.6 1747.1,3125.4 1750.1,3152.8 1753.1,3181.9 1756.1,3212.1 1759.1,3242.5 1762.1,3272.5 1765.1,3301.4 1768.1,3328.8 1771.0,3354.3 1774.0,3377.7 1777.0,3398.7 1780.0,3417.3 1783.0,3433.6 1786.0,3447.6 1789.0,3459.4 1792.0,3469.3 1795.0,3477.5 1798.0,3484.1 1800.9,3489.5 1803.9,3493.7 1806.9,3497.0 1809.9,3499.5 1812.9,3501.4 1815.9,3502.9 1818.9,3504.0 1821.9,3504.7 1824.9,3505.3 1827.8,3505.7 1830.8,3506.0 1833.8,3506.1 1836.8,3506.3 1839.8,3506.3 1842.8,3506.4 1845.8,3506.4 1848.8,3506.4 1851.8,3506.3 1854.7,3506.3 1857.7,3506.2 1860.7,3506.1 1863.7,3506.0 1866.7,3505.8 1869.7,3505.6 1872.7,3505.2 1875.7,3504.8 1878.7,3504.3 1881.6,3503.6 1884.6,3502.8 1887.6,3501.9 1890.6,3500.8 1893.6,3499.7 1896.6,3498.5 1899.6,3497.3 1902.6,3496.2 1905.6,3495.1 1908.5,3494.2 1911.5,3493.5 1914.5,3493.1 1917.5,3493.0 1920.5,3493.1 1923.5,3493.6 1926.5,3494.3 1929.5,3495.2 1932.5,3496.3 1935.4,3497.4 1938.4,3498.7 1941.4,3499.9 1944.4,3501.0 1947.4,3502.1 1950.4,3503.0 1953.4,3503.8 1956.4,3504.5 1959.4,3505.1 1962.3,3505.5 1965.3,3505.9 1968.3,3506.1 1971.3,3506.3 1974.3,3506.5 1977.3,3506.6 1980.3,3506.7 1983.3,3506.7 1986.3,3506.7 1989.2,3506.7 1992.2,3506.7 1995.2,3506.7 1998.2,3506.7 2001.2,3506.7 2004.2,3506.7 2007.2,3506.7 2010.2,3506.6 2013.2,3506.6 2016.1,3506.6 2019.1,3506.6 2022.1,3506.6 2025.1,3506.6 2028.1,3506.6 2031.1,3506.5 2034.1,3506.5 2037.1,3506.5 2040.1,3506.5 2043.0,3506.5 2046.0,3506.4 2049.0,3506.4 2052.0,3506.4 2055.0,3506.3 2058.0,3506.3 2061.0,3506.2 2064.0,3506.2 2067.0,3506.1 2069.9,3506.0 2072.9,3505.8 2075.9,3505.5 2078.9,3505.2 2081.9,3504.9 2084.9,3504.6 2087.9,3504.2 2090.9,3503.8 2093.9,3503.3 2096.9,3502.8 2099.8,3502.3 2102.8,3501.7 2105.8,3501.0 2108.8,3500.3 2111.8,3499.5 2114.8,3498.6 2117.8,3497.6 2120.8,3496.5 2123.8,3495.3 2126.7,3494.1 2129.7,3492.7 2132.7,3491.4 2135.7,3490.0 2138.7,3488.5 2141.7,3486.9 2144.7,3485.3 2147.7,3483.5 2150.7,3481.7 2153.6,3479.8 2156.6,3477.9 2159.6,3475.9 2162.6,3474.0 2165.6,3472.0 2168.6,3470.1 2171.6,3468.2 2174.6,3466.4 2177.6,3464.7 2180.5,3463.1 2183.5,3461.7 2186.5,3460.3 2189.5,3459.2 2192.5,3458.2 2195.5,3457.5 2198.5,3456.9 2201.5,3456.6 2204.5,3456.5 2207.4,3456.8 2210.4,3457.5 2213.4,3458.8 2216.4,3460.6 2219.4,3462.7 2222.4,3465.2 2225.4,3467.9 2228.4,3470.8 2231.4,3473.8 2234.3,3476.8 2237.3,3479.8 2240.3,3482.7 2243.3,3485.4 2246.3,3488.0 2249.3,3490.4 2252.3,3492.6 2255.3,3494.6 2258.3,3496.3 2261.2,3497.7 2264.2,3499.0 2267.2,3500.1 2270.2,3501.0 2273.2,3501.7 2276.2,3502.3 2279.2,3502.8"/>
<polyline stroke="#C378E4" points="366.2,3506.2 369.2,3506.0 372.2,3505.8 375.2,3505.6 378.2,3505.5 381.2,3505.3 384.2,3505.1 387.1,3504.9 390.1,3504.8 393.1,3503.8 396.1,3502.8 399.1,3501.8 402.1,3500.9 405.1,3499.9 408.1,3498.9 411.1,3497.9 414.0,3497.0 417.0,3496.0 420.0,3495.0 423.0,3494.2 426.0,3493.4 429.0,3492.6 432.0,3491.8 435.0,3491.0 438.0,3490.2 440.9,3489.3 443.9,3488.5 446.9,3488.3 449.9,3488.1 452.9,3487.8 455.9,3487.6 458.9,3487.4 461.9,3487.1 464.9,3486.9 467.8,3486.7 470.8,3486.4 473.8,3486.2 476.8,3486.0 479.8,3485.7 482.8,3485.5 485.8,3485.3 488.8,3485.2 491.8,3485.1 494.7,3485.0 497.7,3484.9 500.7,3484.8 503.7,3484.7 506.7,3484.6 509.7,3484.5 512.7,3484.4 515.7,3484.3 518.7,3484.2 521.6,3484.1 524.6,3484.0 527.6,3483.9 530.6,3483.8 533.6,3483.7 536.6,3483.6 539.6,3483.5 542.6,3483.4 545.6,3483.3 548.5,3483.2 551.5,3483.2 554.5,3483.1 557.5,3483.1 560.5,3483.0 563.5,3483.0 566.5,3482.9 569.5,3482.9 572.5,3482.8 575.5,3482.8 578.4,3482.7 581.4,3482.7 584.4,3482.6 587.4,3482.6 590.4,3482.5 593.4,3482.5 596.4,3482.5 599.4,3482.4 602.4,3482.4 605.3,3482.3 608.3,3482.3 611.3,3482.2 614.3,3482.2 617.3,3482.1 620.3,3482.1 623.3,3482.0 626.3,3482.0 629.3,3481.9 632.2,3481.9 635.2,3481.8 638.2,3481.9 641.2,3481.9 644.2,3482.0 647.2,3482.0 650.2,3482.1 653.2,3482.1 656.2,3482.2 659.1,3482.2 662.1,3482.3 665.1,3482.3 668.1,3482.4 671.1,3482.4 674.1,3482.5 677.1,3482.5 680.1,3482.6 683.1,3482.6 686.0,3482.7 689.0,3482.8 692.0,3482.8 695.0,3482.9 698.0,3483.1 701.0,3483.3 704.0,3483.5 707.0,3483.7 710.0,3484.0 712.9,3484.2 715.9,3484.4 718.9,3484.6 721.9,3484.9 724.9,3485.1 727.9,3485.3 730.9,3485.5 733.9,3485.8 736.9,3486.0 739.8,3486.2 742.8,3486.4 745.8,3486.6 748.8,3486.9 751.8,3487.1 754.8,3487.3 757.8,3487.5 760.8,3487.7 763.8,3488.0 766.7,3488.2 769.7,3488.4 772.7,3488.6 775.7,3488.8 778.7,3489.0 781.7,3489.2 784.7,3489.4 787.7,3489.7 790.7,3489.9 793.6,3490.1 796.6,3490.3 799.6,3490.5 802.6,3490.7 805.6,3490.9 808.6,3491.1 811.6,3491.4 814.6,3491.6 817.6,3491.8 820.5,3492.1 823.5,3492.3 826.5,3492.6 829.5,3492.8 832.5,3493.1 835.5,3493.3 838.5,3493.6 841.5,3493.8 844.5,3494.1 847.4,3494.3 850.4,3494.6 853.4,3494.8 856.4,3495.1 859.4,3495.3 862.4,3495.6 865.4,3495.8 868.4,3496.1 871.4,3496.3 874.3,3496.5 877.3,3496.8 880.3,3497.0 883.3,3497.1 886.3,3497.3 889.3,3497.3 892.3,3497.2 895.3,3496.9 898.3,3496.3 901.3,3495.1 904.2,3493.3 907.2,3490.4 910.2,3486.1 913.2,3480.0 916.2,3471.6 919.2,3460.3 922.2,3445.6 925.2,3426.9 928.2,3404.0 931.1,3376.5 934.1,3344.7 937.1,3308.8 940.1,3269.9 943.1,3229.0 946.1,3187.8 949.1,3148.0 952.1,3111.9 955.1,3081.2 958.0,3058.0 961.0,3043.5 964.0,3038.7 967.0,3041.7 970.0,3049.8 973.0,3063.0 976.0,3080.7 979.0,3102.4 982.0,3127.4 984.9,3154.9 987.9,3184.2 990.9,3214.5 993.9,3245.0 996.9,3275.0 999.9,3304.0 1002.9,3331.4 1005.9,3357.0 1008.9,3380.3 1011.8,3401.4 1014.8,3420.1 1017.8,3436.5 1020.8,3450.6 1023.8,3462.5 1026.8,3472.6 1029.8,3480.9 1032.8,3487.6 1035.8,3493.1 1038.7,3497.5 1041.7,3500.9 1044.7,3503.6 1047.7,3505.7 1050.7,3507.3 1053.7,3508.6 1056.7,3509.4 1059.7,3510.0 1062.7,3510.4 1065.6,3510.7 1068.6,3511.0 1071.6,3511.1 1074.6,3511.2 1077.6,3511.3 1080.6,3511.4 1083.6,3511.4 1086.6,3511.5 1089.6,3511.5 1092.5,3511.6 1095.5,3511.6 1098.5,3511.6 1101.5,3511.6 1104.5,3511.7 1107.5,3511.7 1110.5,3511.7 1113.5,3511.8 1116.5,3511.8 1119.4,3511.8 1122.4,3511.8 1125.4,3511.9 1128.4,3511.9 1131.4,3511.9 1134.4,3511.9 1137.4,3512.0 1140.4,3512.0 1143.4,3512.0 1146.3,3512.0 1149.3,3512.1 1152.3,3512.1 1155.3,3512.1 1158.3,3512.1 1161.3,3512.2 1164.3,3512.2 1167.3,3512.2 1170.3,3512.2 1173.2,3512.3 1176.2,3512.2 1179.2,3512.2 1182.2,3512.2 1185.2,3512.2 1188.2,3512.2 1191.2,3512.1 1194.2,3512.1 1197.2,3512.1 1200.2,3512.0 1203.1,3511.9 1206.1,3511.8 1209.1,3511.6 1212.1,3511.2 1215.1,3510.7 1218.1,3509.7 1221.1,3508.2 1224.1,3505.7 1227.1,3502.0 1230.0,3496.5 1233.0,3488.3 1236.0,3476.7 1239.0,3460.4 1242.0,3438.3 1245.0,3408.9 1248.0,3371.1 1251.0,3323.5 1254.0,3265.5 1256.9,3196.6 1259.9,3117.4 1262.9,3029.0 1265.9,2933.8 1268.9,2835.1 1271.9,2736.8 1274.9,2643.8 1277.9,2561.1 1280.9,2493.2 1283.8,2444.6 1286.8,2418.1 1289.8,2414.8 1292.8,2427.0 1295.8,2452.5 1298.8,2490.4 1301.8,2539.1 1304.8,2597.1 1307.8,2662.4 1310.7,2732.8 1313.7,2806.3 1316.7,2880.7 1319.7,2954.4 1322.7,3025.5 1325.7,3092.8 1328.7,3155.2 1331.7,3212.1 1334.7,3262.9 1337.6,3307.6 1340.6,3346.2 1343.6,3379.1 1346.6,3406.7 1349.6,3429.4 1352.6,3447.9 1355.6,3462.6 1358.6,3474.3 1361.6,3483.3 1364.5,3490.2 1367.5,3495.4 1370.5,3499.3 1373.5,3502.1 1376.5,3504.2 1379.5,3505.6 1382.5,3506.6 1385.5,3507.3 1388.5,3507.7 1391.4,3508.0 1394.4,3508.2 1397.4,3508.3 1400.4,3508.3 1403.4,3508.4 1406.4,3508.3 1409.4,3508.3 1412.4,3508.3 1415.4,3508.2 1418.3,3508.2 1421.3,3508.1 1424.3,3508.1 1427.3,3508.0 1430.3,3508.0 1433.3,3507.9 1436.3,3507.9 1439.3,3507.8 1442.3,3507.8 1445.2,3507.7 1448.2,3507.7 1451.2,3507.6 1454.2,3507.5 1457.2,3507.4 1460.2,3507.2 1463.2,3506.7 1466.2,3505.7 1469.2,3504.1 1472.1,3501.5 1475.1,3497.6 1478.1,3492.2 1481.1,3485.1 1484.1,3476.3 1487.1,3466.1 1490.1,3454.8 1493.1,3442.8 1496.1,3430.7 1499.1,3418.9 1502.0,3408.0 1505.0,3398.2 1508.0,3389.7 1511.0,3382.7 1514.0,3377.1 1517.0,3372.7 1520.0,3369.5 1523.0,3367.3 1526.0,3365.8 1528.9,3364.9 1531.9,3364.4 1534.9,3364.1 1537.9,3364.0 1540.9,3364.0 1543.9,3364.0 1546.9,3364.0 1549.9,3364.0 1552.9,3364.2 1555.8,3364.5 1558.8,3365.1 1561.8,3366.2 1564.8,3368.1 1567.8,3370.9 1570.8,3374.9 1573.8,3380.2 1576.8,3387.1 1579.8,3395.6 1582.7,3405.6 1585.7,3416.9 1588.7,3429.3 1591.7,3442.1 1594.7,3454.8 1597.7,3466.7 1600.7,3477.4 1603.7,3486.5 1606.7,3493.6 1609.6,3498.9 1612.6,3502.5 1615.6,3504.9 1618.6,3506.2 1621.6,3506.9 1624.6,3507.3 1627.6,3507.4 1630.6,3507.4 1633.6,3507.3 1636.5,3507.1 1639.5,3506.8 1642.5,3506.5 1645.5,3505.9 1648.5,3505.1 1651.5,3504.0 1654.5,3502.5 1657.5,3500.5 1660.5,3497.8 1663.4,3494.1 1666.4,3489.5 1669.4,3483.5 1672.4,3476.1 1675.4,3466.8 1678.4,3455.7 1681.4,3442.3 1684.4,3426.7 1687.4,3408.7 1690.3,3388.4 1693.3,3365.8 1696.3,3341.3 1699.3,3315.3 1702.3,3288.3 1705.3,3260.8 1708.3,3233.8 1711.3,3208.0 1714.3,3184.3 1717.2,3163.5 1720.2,3146.4 1723.2,3133.6 1726.2,3125.8 1729.2,3123.1 1732.2,3125.3 1735.2,3131.8 1738.2,3142.3 1741.2,3156.7 1744.1,3174.3 1747.1,3194.6 1750.1,3217.0 1753.1,3240.8 1756.1,3265.5 1759.1,3290.4 1762.1,3315.0 1765.1,3338.6 1768.1,3361.1 1771.0,3382.0 1774.0,3401.1 1777.0,3418.3 1780.0,3433.5 1783.0,3446.9 1786.0,3458.3 1789.0,3468.0 1792.0,3476.1 1795.0,3482.8 1798.0,3488.2 1800.9,3492.6 1803.9,3496.1 1806.9,3498.7 1809.9,3500.8 1812.9,3502.4 1815.9,3503.6 1818.9,3504.4 1821.9,3505.1 1824.9,3505.5 1827.8,3505.8 1830.8,3506.1 1833.8,3506.2 1836.8,3506.3 1839.8,3506.4 1842.8,3506.4 1845.8,3506.4 1848.8,3506.4 1851.8,3506.4 1854.7,3506.3 1857.7,3506.2 1860.7,3506.1 1863.7,3506.0 1866.7,3505.9 1869.7,3505.7 1872.7,3505.4 1875.7,3505.0 1878.7,3504.6 1881.6,3504.0 1884.6,3503.3 1887.6,3502.6 1890.6,3501.7 1893.6,3500.7 1896.6,3499.7 1899.6,3498.7 1902.6,3497.7 1905.6,3496.8 1908.5,3496.1 1911.5,3495.5 1914.5,3495.1 1917.5,3495.0 1920.5,3495.2 1923.5,3495.5 1926.5,3496.1 1929.5,3496.9 1932.5,3497.8 1935.4,3498.8 1938.4,3499.8 1941.4,3500.9 1944.4,3501.9 1947.4,3502.8 1950.4,3503.6 1953.4,3504.3 1956.4,3504.8 1959.4,3505.3 1962.3,3505.7 1965.3,3506.0 1968.3,3506.2 1971.3,3506.4 1974.3,3506.5 1977.3,3506.6 1980.3,3506.7 1983.3,3506.7 1986.3,3506.7 1989.2,3506.7 1992.2,3506.7 1995.2,3506.7 1998.2,3506.7 2001.2,3506.7 2004.2,3506.7 2007.2,3506.7 2010.2,3506.6 2013.2,3506.6 2016.1,3506.6 2019.1,3506.6 2022.1,3506.6 2025.1,3506.6 2028.1,3506.6 2031.1,3506.5 2034.1,3506.5 2037.1,3506.5 2040.1,3506.5 2043.0,3506.5 2046.0,3506.4 2049.0,3506.4 2052.0,3506.4 2055.0,3506.3 2058.0,3506.3 2061.0,3506.3 2064.0,3506.2 2067.0,3506.1 2069.9,3506.1 2072.9,3505.8 2075.9,3505.6 2078.9,3505.3 2081.9,3505.0 2084.9,3504.7 2087.9,3504.4 2090.9,3504.0 2093.9,3503.6 2096.9,3503.2 2099.8,3502.7 2102.8,3502.2 2105.8,3501.6 2108.8,3501.0 2111.8,3500.3 2114.8,3499.5 2117.8,3498.7 2120.8,3497.7 2123.8,3496.8 2126.7,3495.7 2129.7,3494.5 2132.7,3493.5 2135.7,3492.3 2138.7,3491.1 2141.7,3489.8 2144.7,3488.4 2147.7,3486.9 2150.7,3485.4 2153.6,3483.9 2156.6,3482.3 2159.6,3480.7 2162.6,3479.1 2165.6,3477.4 2168.6,3475.9 2171.6,3474.3 2174.6,3472.8 2177.6,3471.4 2180.5,3470.1 2183.5,3468.9 2186.5,3467.8 2189.5,3466.8 2192.5,3466.1 2195.5,3465.4 2198.5,3465.0 2201.5,3464.7 2204.5,3464.6 2207.4,3464.8 2210.4,3465.5 2213.4,3466.5 2216.4,3468.0 2219.4,3469.7 2222.4,3471.8 2225.4,3474.0 2228.4,3476.4 2231.4,3478.9 2234.3,3481.4 2237.3,3483.9 2240.3,3486.2 2243.3,3488.5 2246.3,3490.7 2249.3,3492.7 2252.3,3494.5 2255.3,3496.1 2258.3,3497.5 2261.2,3498.8 2264.2,3499.8 2267.2,3500.7 2270.2,3501.5 2273.2,3502.1 2276.2,3502.6 2279.2,3503.1"/>
<polyline stroke="#DB9900" points="366.2,3506.2 369.2,3506.0 372.2,3505.8 375.2,3505.6 378.2,3505.5 381.2,3505.3 384.2,3505.1 387.1,3504.9 390.1,3504.8 393.1,3503.8 396.1,3502.9 399.1,3502.0 402.1,3501.0 405.1,3500.1 408.1,3499.2 411.1,3498.2 414.0,3497.3 417.0,3496.4 420.0,3495.4 423.0,3494.6 426.0,3493.8 429.0,3493.1 432.0,3492.3 435.0,3491.5 438.0,3490.7 440.9,3489.9 443.9,3489.1 446.9,3488.9 449.9,3488.6 452.9,3488.4 455.9,3488.2 458.9,3488.0 461.9,3487.7 464.9,3487.5 467.8,3487.3 470.8,3487.1 473.8,3486.8 476.8,3486.6 479.8,3486.4 482.8,3486.2 485.8,3485.9 488.8,3485.8 491.8,3485.7 494.7,3485.7 497.7,3485.6 500.7,3485.5 503.7,3485.4 506.7,3485.3 509.7,3485.2 512.7,3485.1 515.7,3485.0 518.7,3484.9 521.6,3484.8 524.6,3484.7 527.6,3484.6 530.6,3484.5 533.6,3484.4 536.6,3484.3 539.6,3484.3 542.6,3484.2 545.6,3484.1 548.5,3484.0 551.5,3484.0 554.5,3483.9 557.5,3483.9 560.5,3483.8 563.5,3483.8 566.5,3483.7 569.5,3483.7 572.5,3483.6 575.5,3483.6 578.4,3483.5 581.4,3483.5 584.4,3483.5 587.4,3483.4 590.4,3483.4 593.4,3483.3 596.4,3483.3 599.4,3483.2 602.4,3483.2 605.3,3483.1 608.3,3483.1 611.3,3483.0 614.3,3483.0 617.3,3482.9 620.3,3482.9 623.3,3482.8 626.3,3482.8 629.3,3482.7 632.2,3482.7 635.2,3482.6 638.2,3482.7 641.2,3482.8 644.2,3482.8 647.2,3482.9 650.2,3482.9 653.2,3483.0 656.2,3483.0 659.1,3483.1 662.1,3483.1 665.1,3483.2 668.1,3483.2 671.1,3483.3 674.1,3483.3 677.1,3483.4 680.1,3483.4 683.1,3483.5 686.0,3483.5 689.0,3483.6 692.0,3483.6 695.0,3483.7 698.0,3483.9 701.0,3484.1 704.0,3484.3 707.0,3484.5 710.0,3484.7 712.9,3485.0 715.9,3485.2 718.9,3485.4 721.9,3485.6 724.9,3485.8 727.9,3486.0 730.9,3486.2 733.9,3486.5 736.9,3486.7 739.8,3486.9 742.8,3487.1 745.8,3487.3 748.8,3487.5 751.8,3487.7 754.8,3488.0 757.8,3488.2 760.8,3488.4 763.8,3488.6 766.7,3488.8 769.7,3489.0 772.7,3489.2 775.7,3489.4 778.7,3489.6 781.7,3489.8 784.7,3490.0 787.7,3490.2 790.7,3490.4 793.6,3490.6 796.6,3490.8 799.6,3491.0 802.6,3491.2 805.6,3491.4 808.6,3491.6 811.6,3491.8 814.6,3492.0 817.6,3492.2 820.5,3492.4 823.5,3492.7 826.5,3492.9 829.5,3493.1 832.5,3493.4 835.5,3493.6 838.5,3493.8 841.5,3494.1 844.5,3494.3 847.4,3494.6 850.4,3494.8 853.4,3495.0 856.4,3495.3 859.4,3495.5 862.4,3495.7 865.4,3496.0 868.4,3496.2 871.4,3496.4 874.3,3496.6 877.3,3496.8 880.3,3497.0 883.3,3497.2 886.3,3497.3 889.3,3497.3 892.3,3497.2 895.3,3496.9 898.3,3496.3 901.3,3495.3 904.2,3493.5 907.2,3490.7 910.2,3486.5 913.2,3480.6 916.2,3472.4 919.2,3461.5 922.2,3447.2 925.2,3429.1 928.2,3406.8 931.1,3380.1 934.1,3349.2 937.1,3314.4 940.1,3276.6 943.1,3236.9 946.1,3196.8 949.1,3158.3 952.1,3123.1 955.1,3093.4 958.0,3070.8 961.0,3056.7 964.0,3052.1 967.0,3055.0 970.0,3062.9 973.0,3075.7 976.0,3092.9 979.0,3114.0 982.0,3138.2 984.9,3165.0 987.9,3193.5 990.9,3222.9 993.9,3252.6 996.9,3281.7 999.9,3309.8 1002.9,3336.5 1005.9,3361.3 1008.9,3384.0 1011.8,3404.5 1014.8,3422.7 1017.8,3438.6 1020.8,3452.3 1023.8,3463.9 1026.8,3473.6 1029.8,3481.7 1032.8,3488.3 1035.8,3493.6 1038.7,3497.9 1041.7,3501.2 1044.7,3503.8 1047.7,3505.9 1050.7,3507.4 1053.7,3508.6 1056.7,3509.4 1059.7,3510.0 1062.7,3510.4 1065.6,3510.7 1068.6,3511.0 1071.6,3511.1 1074.6,3511.2 1077.6,3511.3 1080.6,3511.4 1083.6,3511.5 1086.6,3511.5 1089.6,3511.5 1092.5,3511.6 1095.5,3511.6 1098.5,3511.6 1101.5,3511.6 1104.5,3511.7 1107.5,3511.7 1110.5,3511.7 1113.5,3511.8 1116.5,3511.8 1119.4,3511.8 1122.4,3511.8 1125.4,3511.9 1128.4,3511.9 1131.4,3511.9 1134.4,3511.9 1137.4,3512.0 1140.4,3512.0 1143.4,3512.0 1146.3,3512.0 1149.3,3512.1 1152.3,3512.1 1155.3,3512.1 1158.3,3512.1 1161.3,3512.2 1164.3,3512.2 1167.3,3512.2 1170.3,3512.2 1173.2,3512.3 1176.2,3512.2 1179.2,3512.2 1182.2,3512.2 1185.2,3512.2 1188.2,3512.2 1191.2,3512.1 1194.2,3512.1 1197.2,3512.1 1200.2,3512.0 1203.1,3511.9 1206.1,3511.8 1209.1,3511.6 1212.1,3511.3 1215.1,3510.7 1218.1,3509.8 1221.1,3508.3 1224.1,3505.9 1227.1,3502.4 1230.0,3497.0 1233.0,3489.1 1236.0,3477.8 1239.0,3462.1 1242.0,3440.6 1245.0,3412.3 1248.0,3375.7 1251.0,3329.7 1254.0,3273.5 1256.9,3206.9 1259.9,3130.2 1262.9,3044.7 1265.9,2952.6 1268.9,2857.1 1271.9,2762.0 1274.9,2672.1 1277.9,2592.0 1280.9,2526.4 1283.8,2479.3 1286.8,2453.7 1289.8,2450.4 1292.8,2462.3 1295.8,2487.0 1298.8,2523.6 1301.8,2570.7 1304.8,2626.8 1307.8,2690.0 1310.7,2758.1 1313.7,2829.2 1316.7,2901.2 1319.7,2972.5 1322.7,3041.3 1325.7,3106.4 1328.7,3166.8 1331.7,3221.7 1334.7,3270.9 1337.6,3314.2 1340.6,3351.6 1343.6,3383.4 1346.6,3410.0 1349.6,3432.0 1352.6,3449.9 1355.6,3464.2 1358.6,3475.4 1361.6,3484.2 1364.5,3490.9 1367.5,3495.9 1370.5,3499.6 1373.5,3502.4 1376.5,3504.3 1379.5,3505.7 1382.5,3506.7 1385.5,3507.3 1388.5,3507.8 1391.4,3508.0 1394.4,3508.2 1397.4,3508.3 1400.4,3508.3 1403.4,3508.4 1406.4,3508.3 1409.4,3508.3 1412.4,3508.3 1415.4,3508.2 1418.3,3508.2 1421.3,3508.1 1424.3,3508.1 1427.3,3508.0 1430.3,3508.0 1433.3,3507.9 1436.3,3507.9 1439.3,3507.8 1442.3,3507.8 1445.2,3507.7 1448.2,3507.7 1451.2,3507.6 1454.2,3507.5 1457.2,3507.4 1460.2,3507.2 1463.2,3506.7 1466.2,3505.8 1469.2,3504.2 1472.1,3501.6 1475.1,3497.8 1478.1,3492.5 1481.1,3485.5 1484.1,3476.9 1487.1,3466.9 1490.1,3455.7 1493.1,3444.0 1496.1,3432.1 1499.1,3420.6 1502.0,3409.8 1505.0,3400.2 1508.0,3391.9 1511.0,3385.0 1514.0,3379.5 1517.0,3375.2 1520.0,3372.0 1523.0,3369.8 1526.0,3368.4 1528.9,3367.5 1531.9,3367.0 1534.9,3366.8 1537.9,3366.7 1540.9,3366.6 1543.9,3366.6 1546.9,3366.6 1549.9,3366.7 1552.9,3366.8 1555.8,3367.1 1558.8,3367.7 1561.8,3368.8 1564.8,3370.6 1567.8,3373.4 1570.8,3377.3 1573.8,3382.6 1576.8,3389.3 1579.8,3397.6 1582.7,3407.5 1585.7,3418.6 1588.7,3430.7 1591.7,3443.3 1594.7,3455.7 1597.7,3467.5 1600.7,3478.0 1603.7,3486.8 1606.7,3493.9 1609.6,3499.1 1612.6,3502.6 1615.6,3504.9 1618.6,3506.3 1621.6,3507.0 1624.6,3507.3 1627.6,3507.4 1630.6,3507.4 1633.6,3507.3 1636.5,3507.1 1639.5,3506.9 1642.5,3506.5 1645.5,3506.0 1648.5,3505.3 1651.5,3504.3 1654.5,3502.9 1657.5,3500.9 1660.5,3498.4 1663.4,3495.0 1666.4,3490.6 1669.4,3485.0 1672.4,3477.9 1675.4,3469.3 1678.4,3458.8 1681.4,3446.2 1684.4,3431.6 1687.4,3414.6 1690.3,3395.5 1693.3,3374.3 1696.3,3351.3 1699.3,3326.9 1702.3,3301.4 1705.3,3275.7 1708.3,3250.3 1711.3,3226.0 1714.3,3203.7 1717.2,3184.2 1720.2,3168.1 1723.2,3156.1 1726.2,3148.7 1729.2,3146.2 1732.2,3148.2 1735.2,3154.3 1738.2,3164.3 1741.2,3177.8 1744.1,3194.3 1747.1,3213.4 1750.1,3234.4 1753.1,3256.9 1756.1,3280.1 1759.1,3303.5 1762.1,3326.5 1765.1,3348.8 1768.1,3369.9 1771.0,3389.5 1774.0,3407.5 1777.0,3423.6 1780.0,3438.0 1783.0,3450.5 1786.0,3461.2 1789.0,3470.3 1792.0,3478.0 1795.0,3484.3 1798.0,3489.4 1800.9,3493.5 1803.9,3496.7 1806.9,3499.2 1809.9,3501.2 1812.9,3502.7 1815.9,3503.8 1818.9,3504.6 1821.9,3505.2 1824.9,3505.6 1827.8,3505.9 1830.8,3506.1 1833.8,3506.2 1836.8,3506.3 1839.8,3506.4 1842.8,3506.4 1845.8,3506.4 1848.8,3506.4 1851.8,3506.4 1854.7,3506.3 1857.7,3506.2 1860.7,3506.1 1863.7,3506.1 1866.7,3505.9 1869.7,3505.7 1872.7,3505.4 1875.7,3505.1 1878.7,3504.7 1881.6,3504.1 1884.6,3503.5 1887.6,3502.7 1890.6,3501.8 1893.6,3500.9 1896.6,3499.9 1899.6,3499.0 1902.6,3498.0 1905.6,3497.2 1908.5,3496.4 1911.5,3495.9 1914.5,3495.5 1917.5,3495.4 1920.5,3495.6 1923.5,3495.9 1926.5,3496.5 1929.5,3497.2 1932.5,3498.1 1935.4,3499.1 1938.4,3500.1 1941.4,3501.1 1944.4,3502.0 1947.4,3502.9 1950.4,3503.7 1953.4,3504.3 1956.4,3504.9 1959.4,3505.4 1962.3,3505.7 1965.3,3506.0 1968.3,3506.3 1971.3,3506.4 1974.3,3506.5 1977.3,3506.6 1980.3,3506.7 1983.3,3506.7 1986.3,3506.7 1989.2,3506.7 1992.2,3506.7 1995.2,3506.7 1998.2,3506.7 2001.2,3506.7 2004.2,3506.7 2007.2,3506.7 2010.2,3506.6 2013.2,3506.6 2016.1,3506.6 2019.1,3506.6 2022.1,3506.6 2025.1,3506.6 2028.1,3506.6 2031.1,3506.5 2034.1,3506.5 2037.1,3506.5 2040.1,3506.5 2043.0,3506.5 2046.0,3506.4 2049.0,3506.4 2052.0,3506.4 2055.0,3506.4 2058.0,3506.3 2061.0,3506.3 2064.0,3506.2 2067.0,3506.2 2069.9,3506.1 2072.9,3505.9 2075.9,3505.6 2078.9,3505.4 2081.9,3505.1 2084.9,3504.8 2087.9,3504.5 2090.9,3504.1 2093.9,3503.7 2096.9,3503.3 2099.8,3502.8 2102.8,3502.3 2105.8,3501.8 2108.8,3501.1 2111.8,3500.5 2114.8,3499.7 2117.8,3498.9 2120.8,3498.1 2123.8,3497.1 2126.7,3496.1 2129.7,3495.0 2132.7,3494.0 2135.7,3492.9 2138.7,3491.7 2141.7,3490.5 2144.7,3489.1 2147.7,3487.8 2150.7,3486.3 2153.6,3484.9 2156.6,3483.4 2159.6,3481.9 2162.6,3480.3 2165.6,3478.8 2168.6,3477.3 2171.6,3475.8 2174.6,3474.4 2177.6,3473.1 2180.5,3471.8 2183.5,3470.7 2186.5,3469.6 2189.5,3468.8 2192.5,3468.0 2195.5,3467.4 2198.5,3467.0 2201.5,3466.7 2204.5,3466.6 2207.4,3466.8 2210.4,3467.5 2213.4,3468.5 2216.4,3469.8 2219.4,3471.5 2222.4,3473.4 2225.4,3475.6 2228.4,3477.8 2231.4,3480.2 2234.3,3482.5 2237.3,3484.9 2240.3,3487.1 2243.3,3489.3 2246.3,3491.3 2249.3,3493.2 2252.3,3495.0 2255.3,3496.5 2258.3,3497.8 2261.2,3499.0 2264.2,3500.0 2267.2,3500.9 2270.2,3501.6 2273.2,3502.2 2276.2,3502.7 2279.2,3503.1"/>
<polyline stroke="#00CCCC" points="366.2,3506.2 369.2,3506.0 372.2,3505.8 375.2,3505.6 378.2,3505.5 381.2,3505.3 384.2,3505.1 387.1,3504.9 390.1,3504.8 393.1,3503.8 396.1,3502.9 399.1,3502.0 402.1,3501.1 405.1,3500.2 408.1,3499.3 411.1,3498.4 414.0,3497.5 417.0,3496.5 420.0,3495.6 423.0,3494.8 426.0,3494.1 429.0,3493.3 432.0,3492.5 435.0,3491.7 438.0,3490.9 440.9,3490.2 443.9,3489.4 446.9,3489.2 449.9,3488.9 452.9,3488.7 455.9,3488.5 458.9,3488.3 461.9,3488.0 464.9,3487.8 467.8,3487.6 470.8,3487.4 473.8,3487.2 476.8,3486.9 479.8,3486.7 482.8,3486.5 485.8,3486.3 488.8,3486.2 491.8,3486.1 494.7,3486.0 497.7,3485.9 500.7,3485.8 503.7,3485.7 506.7,3485.6 509.7,3485.5 512.7,3485.5 515.7,3485.4 518.7,3485.3 521.6,3485.2 524.6,3485.1 527.6,3485.0 530.6,3484.9 533.6,3484.8 536.6,3484.7 539.6,3484.7 542.6,3484.6 545.6,3484.5 548.5,3484.4 551.5,3484.4 554.5,3484.3 557.5,3484.3 560.5,3484.2 563.5,3484.2 566.5,3484.1 569.5,3484.1 572.5,3484.0 575.5,3484.0 578.4,3484.0 581.4,3483.9 584.4,3483.9 587.4,3483.8 590.4,3483.8 593.4,3483.7 596.4,3483.7 599.4,3483.6 602.4,3483.6 605.3,3483.5 608.3,3483.5 611.3,3483.4 614.3,3483.4 617.3,3483.3 620.3,3483.3 623.3,3483.2 626.3,3483.2 629.3,3483.1 632.2,3483.1 635.2,3483.1 638.2,3483.1 641.2,3483.2 644.2,3483.2 647.2,3483.3 650.2,3483.3 653.2,3483.4 656.2,3483.4 659.1,3483.5 662.1,3483.5 665.1,3483.6 668.1,3483.6 671.1,3483.7 674.1,3483.7 677.1,3483.8 680.1,3483.8 683.1,3483.9 686.0,3483.9 689.0,3484.0 692.0,3484.0 695.0,3484.1 698.0,3484.3 701.0,3484.5 704.0,3484.7 707.0,3484.9 710.0,3485.1 712.9,3485.3 715.9,3485.5 718.9,3485.8 721.9,3486.0 724.9,3486.2 727.9,3486.4 730.9,3486.6 733.9,3486.8 736.9,3487.0 739.8,3487.2 742.8,3487.4 745.8,3487.7 748.8,3487.9 751.8,3488.1 754.8,3488.3 757.8,3488.5 760.8,3488.7 763.8,3488.9 766.7,3489.1 769.7,3489.3 772.7,3489.5 775.7,3489.6 778.7,3489.8 781.7,3490.0 784.7,3490.2 787.7,3490.4 790.7,3490.6 793.6,3490.8 796.6,3491.0 799.6,3491.2 802.6,3491.4 805.6,3491.6 808.6,3491.8 811.6,3492.0 814.6,3492.2 817.6,3492.4 820.5,3492.6 823.5,3492.9 826.5,3493.1 829.5,3493.3 832.5,3493.5 835.5,3493.8 838.5,3494.0 841.5,3494.2 844.5,3494.4 847.4,3494.7 850.4,3494.9 853.4,3495.1 856.4,3495.3 859.4,3495.6 862.4,3495.8 865.4,3496.0 868.4,3496.2 871.4,3496.5 874.3,3496.7 877.3,3496.9 880.3,3497.1 883.3,3497.2 886.3,3497.3 889.3,3497.3 892.3,3497.2 895.3,3497.0 898.3,3496.4 901.3,3495.4 904.2,3493.7 907.2,3491.1 910.2,3487.1 913.2,3481.5 916.2,3473.6 919.2,3463.2 922.2,3449.5 925.2,3432.2 928.2,3410.9 931.1,3385.3 934.1,3355.7 937.1,3322.4 940.1,3286.2 943.1,3248.2 946.1,3209.9 949.1,3172.9 952.1,3139.3 955.1,3110.9 958.0,3089.2 961.0,3075.8 964.0,3071.4 967.0,3074.1 970.0,3081.8 973.0,3094.0 976.0,3110.5 979.0,3130.7 982.0,3153.9 984.9,3179.5 987.9,3206.8 990.9,3235.0 993.9,3263.4 996.9,3291.3 999.9,3318.3 1002.9,3343.8 1005.9,3367.6 1008.9,3389.3 1011.8,3409.0 1014.8,3426.4 1017.8,3441.6 1020.8,3454.7 1023.8,3465.8 1026.8,3475.2 1029.8,3482.9 1032.8,3489.2 1035.8,3494.3 1038.7,3498.4 1041.7,3501.6 1044.7,3504.1 1047.7,3506.1 1050.7,3507.6 1053.7,3508.7 1056.7,3509.5 1059.7,3510.1 1062.7,3510.5 1065.6,3510.8 1068.6,3511.0 1071.6,3511.1 1074.6,3511.3 1077.6,3511.3 1080.6,3511.4 1083.6,3511.5 1086.6,3511.5 1089.6,3511.5 1092.5,3511.6 1095.5,3511.6 1098.5,3511.6 1101.5,3511.6 1104.5,3511.7 1107.5,3511.7 1110.5,3511.7 1113.5,3511.8 1116.5,3511.8 1119.4,3511.8 1122.4,3511.8 1125.4,3511.9 1128.4,3511.9 1131.4,3511.9 1134.4,3511.9 1137.4,3512.0 1140.4,3512.0 1143.4,3512.0 1146.3,3512.0 1149.3,3512.1 1152.3,3512.1 1155.3,3512.1 1158.3,3512.1 1161.3,3512.2 1164.3,3512.2 1167.3,3512.2 1170.3,3512.2 1173.2,3512.3 1176.2,3512.2 1179.2,3512.2 1182.2,3512.2 1185.2,3512.2 1188.2,3512.2 1191.2,3512.1 1194.2,3512.1 1197.2,3512.1 1200.2,3512.0 1203.1,3511.9 1206.1,3511.8 1209.1,3511.6 1212.1,3511.3 1215.1,3510.7 1218.1,3509.8 1221.1,3508.4 1224.1,3506.1 1227.1,3502.6 1230.0,3497.4 1233.0,3489.7 1236.0,3478.8 1239.0,3463.5 1242.0,3442.7 1245.0,3415.1 1248.0,3379.5 1251.0,3334.9 1254.0,3280.3 1256.9,3215.6 1259.9,3141.1 1262.9,3058.0 1265.9,2968.5 1268.9,2875.7 1271.9,2783.4 1274.9,2695.9 1277.9,2618.1 1280.9,2554.4 1283.8,2508.6 1286.8,2483.8 1289.8,2480.6 1292.8,2492.1 1295.8,2516.1 1298.8,2551.7 1301.8,2597.5 1304.8,2652.0 1307.8,2713.3 1310.7,2779.5 1313.7,2848.6 1316.7,2918.6 1319.7,2987.8 1322.7,3054.6 1325.7,3117.9 1328.7,3176.5 1331.7,3230.0 1334.7,3277.7 1337.6,3319.7 1340.6,3356.1 1343.6,3387.0 1346.6,3412.9 1349.6,3434.2 1352.6,3451.6 1355.6,3465.5 1358.6,3476.4 1361.6,3484.9 1364.5,3491.4 1367.5,3496.3 1370.5,3499.9 1373.5,3502.5 1376.5,3504.5 1379.5,3505.8 1382.5,3506.7 1385.5,3507.4 1388.5,3507.8 1391.4,3508.1 1394.4,3508.2 1397.4,3508.3 1400.4,3508.3 1403.4,3508.4 1406.4,3508.3 1409.4,3508.3 1412.4,3508.3 1415.4,3508.2 1418.3,3508.2 1421.3,3508.1 1424.3,3508.1 1427.3,3508.0 1430.3,3508.0 1433.3,3507.9 1436.3,3507.9 1439.3,3507.8 1442.3,3507.8 1445.2,3507.7 1448.2,3507.7 1451.2,3507.6 1454.2,3507.5 1457.2,3507.4 1460.2,3507.2 1463.2,3506.7 1466.2,3505.9 1469.2,3504.3 1472.1,3501.9 1475.1,3498.2 1478.1,3493.1 1481.1,3486.4 1484.1,3478.2 1487.1,3468.6 1490.1,3457.9 1493.1,3446.6 1496.1,3435.2 1499.1,3424.2 1502.0,3413.9 1505.0,3404.7 1508.0,3396.7 1511.0,3390.1 1514.0,3384.8 1517.0,3380.7 1520.0,3377.7 1523.0,3375.6 1526.0,3374.2 1528.9,3373.3 1531.9,3372.9 1534.9,3372.6 1537.9,3372.5 1540.9,3372.5 1543.9,3372.5 1546.9,3372.5 1549.9,3372.6 1552.9,3372.7 1555.8,3372.9 1558.8,3373.5 1561.8,3374.6 1564.8,3376.4 1567.8,3379.0 1570.8,3382.7 1573.8,3387.8 1576.8,3394.2 1579.8,3402.2 1582.7,3411.6 1585.7,3422.3 1588.7,3433.9 1591.7,3446.0 1594.7,3457.9 1597.7,3469.2 1600.7,3479.2 1603.7,3487.7 1606.7,3494.4 1609.6,3499.4 1612.6,3502.8 1615.6,3505.0 1618.6,3506.3 1621.6,3507.0 1624.6,3507.3 1627.6,3507.4 1630.6,3507.4 1633.6,3507.3 1636.5,3507.2 1639.5,3506.9 1642.5,3506.6 1645.5,3506.1 1648.5,3505.4 1651.5,3504.5 1654.5,3503.2 1657.5,3501.4 1660.5,3499.0 1663.4,3495.8 1666.4,3491.7 1669.4,3486.5 1672.4,3479.9 1675.4,3471.8 1678.4,3462.0 1681.4,3450.3 1684.4,3436.6 1687.4,3420.8 1690.3,3403.0 1693.3,3383.2 1696.3,3361.8 1699.3,3338.9 1702.3,3315.2 1705.3,3291.2 1708.3,3267.5 1711.3,3244.8 1714.3,3224.0 1717.2,3205.8 1720.2,3190.8 1723.2,3179.6 1726.2,3172.7 1729.2,3170.3 1732.2,3172.2 1735.2,3177.9 1738.2,3187.2 1741.2,3199.8 1744.1,3215.2 1747.1,3233.0 1750.1,3252.7 1753.1,3273.6 1756.1,3295.2 1759.1,3317.1 1762.1,3338.6 1765.1,3359.4 1768.1,3379.0 1771.0,3397.3 1774.0,3414.1 1777.0,3429.2 1780.0,3442.6 1783.0,3454.2 1786.0,3464.3 1789.0,3472.8 1792.0,3479.9 1795.0,3485.8 1798.0,3490.5 1800.9,3494.4 1803.9,3497.4 1806.9,3499.7 1809.9,3501.5 1812.9,3502.9 1815.9,3504.0 1818.9,3504.7 1821.9,3505.3 1824.9,3505.7 1827.8,3505.9 1830.8,3506.1 1833.8,3506.3 1836.8,3506.3 1839.8,3506.4 1842.8,3506.4 1845.8,3506.4 1848.8,3506.4 1851.8,3506.4 1854.7,3506.3 1857.7,3506.3 1860.7,3506.2 1863.7,3506.1 1866.7,3505.9 1869.7,3505.7 1872.7,3505.5 1875.7,3505.2 1878.7,3504.7 1881.6,3504.2 1884.6,3503.6 1887.6,3502.9 1890.6,3502.1 1893.6,3501.2 1896.6,3500.3 1899.6,3499.4 1902.6,3498.5 1905.6,3497.7 1908.5,3497.0 1911.5,3496.5 1914.5,3496.1 1917.5,3496.0 1920.5,3496.2 1923.5,3496.5 1926.5,3497.0 1929.5,3497.8 1932.5,3498.6 1935.4,3499.5 1938.4,3500.4 1941.4,3501.4 1944.4,3502.3 1947.4,3503.1 1950.4,3503.8 1953.4,3504.5 1956.4,3505.0 1959.4,3505.5 1962.3,3505.8 1965.3,3506.1 1968.3,3506.3 1971.3,3506.4 1974.3,3506.6 1977.3,3506.6 1980.3,3506.7 1983.3,3506.7 1986.3,3506.7 1989.2,3506.7 1992.2,3506.7 1995.2,3506.7 1998.2,3506.7 2001.2,3506.7 2004.2,3506.7 2007.2,3506.7 2010.2,3506.6 2013.2,3506.6 2016.1,3506.6 2019.1,3506.6 2022.1,3506.6 2025.1,3506.6 2028.1,3506.6 2031.1,3506.5 2034.1,3506.5 2037.1,3506.5 2040.1,3506.5 2043.0,3506.5 2046.0,3506.4 2049.0,3506.4 2052.0,3506.4 2055.0,3506.4 2058.0,3506.3 2061.0,3506.3 2064.0,3506.2 2067.0,3506.2 2069.9,3506.1 2072.9,3505.9 2075.9,3505.6 2078.9,3505.4 2081.9,3505.1 2084.9,3504.8 2087.9,3504.5 2090.9,3504.2 2093.9,3503.8 2096.9,3503.4 2099.8,3502.9 2102.8,3502.4 2105.8,3501.9 2108.8,3501.3 2111.8,3500.7 2114.8,3500.0 2117.8,3499.2 2120.8,3498.4 2123.8,3497.5 2126.7,3496.5 2129.7,3495.4 2132.7,3494.5 2135.7,3493.4 2138.7,3492.3 2141.7,3491.2 2144.7,3489.9 2147.7,3488.6 2150.7,3487.3 2153.6,3485.9 2156.6,3484.5 2159.6,3483.0 2162.6,3481.6 2165.6,3480.1 2168.6,3478.7 2171.6,3477.3 2174.6,3476.0 2177.6,3474.7 2180.5,3473.6 2183.5,3472.5 2186.5,3471.5 2189.5,3470.7 2192.5,3470.0 2195.5,3469.4 2198.5,3469.0 2201.5,3468.7 2204.5,3468.7 2207.4,3468.9 2210.4,3469.4 2213.4,3470.4 2216.4,3471.7 2219.4,3473.3 2222.4,3475.1 2225.4,3477.1 2228.4,3479.2 2231.4,3481.5 2234.3,3483.7 2237.3,3485.9 2240.3,3488.0 2243.3,3490.0 2246.3,3492.0 2249.3,3493.8 2252.3,3495.4 2255.3,3496.9 2258.3,3498.2 2261.2,3499.3 2264.2,3500.2 2267.2,3501.1 2270.2,3501.7 2273.2,3502.3 2276.2,3502.8 2279.2,3503.2"/>
<polyline stroke="#8A4C4C" points="366.2,3506.2 369.2,3506.0 372.2,3505.8 375.2,3505.6 378.2,3505.5 381.2,3505.3 384.2,3505.1 387.1,3504.9 390.1,3504.8 393.1,3503.9 396.1,3503.0 399.1,3502.1 402.1,3501.2 405.1,3500.3 408.1,3499.4 411.1,3498.5 414.0,3497.6 417.0,3496.7 420.0,3495.8 423.0,3495.1 426.0,3494.3 429.0,3493.5 432.0,3492.7 435.0,3492.0 438.0,3491.2 440.9,3490.4 443.9,3489.7 446.9,3489.4 449.9,3489.2 452.9,3489.0 455.9,3488.8 458.9,3488.6 461.9,3488.3 464.9,3488.1 467.8,3487.9 470.8,3487.7 473.8,3487.5 476.8,3487.2 479.8,3487.0 482.8,3486.8 485.8,3486.6 488.8,3486.5 491.8,3486.4 494.7,3486.3 497.7,3486.2 500.7,3486.2 503.7,3486.1 506.7,3486.0 509.7,3485.9 512.7,3485.8 515.7,3485.7 518.7,3485.6 521.6,3485.6 524.6,3485.5 527.6,3485.4 530.6,3485.3 533.6,3485.2 536.6,3485.1 539.6,3485.1 542.6,3485.0 545.6,3484.9 548.5,3484.8 551.5,3484.8 554.5,3484.7 557.5,3484.7 560.5,3484.6 563.5,3484.6 566.5,3484.5 569.5,3484.5 572.5,3484.5 575.5,3484.4 578.4,3484.4 581.4,3484.3 584.4,3484.3 587.4,3484.2 590.4,3484.2 593.4,3484.1 596.4,3484.1 599.4,3484.0 602.4,3484.0 605.3,3483.9 608.3,3483.9 611.3,3483.8 614.3,3483.8 617.3,3483.7 620.3,3483.7 623.3,3483.6 626.3,3483.6 629.3,3483.6 632.2,3483.5 635.2,3483.5 638.2,3483.5 641.2,3483.6 644.2,3483.6 647.2,3483.7 650.2,3483.7 653.2,3483.8 656.2,3483.8 659.1,3483.9 662.1,3483.9 665.1,3484.0 668.1,3484.0 671.1,3484.1 674.1,3484.1 677.1,3484.2 680.1,3484.2 683.1,3484.3 686.0,3484.3 689.0,3484.4 692.0,3484.4 695.0,3484.5 698.0,3484.7 701.0,3484.9 704.0,3485.1 707.0,3485.3 710.0,3485.5 712.9,3485.7 715.9,3485.9 718.9,3486.1 721.9,3486.3 724.9,3486.5 727.9,3486.7 730.9,3487.0 733.9,3487.2 736.9,3487.4 739.8,3487.6 742.8,3487.8 745.8,3488.0 748.8,3488.2 751.8,3488.4 754.8,3488.6 757.8,3488.8 760.8,3489.0 763.8,3489.2 766.7,3489.4 769.7,3489.6 772.7,3489.7 775.7,3489.9 778.7,3490.1 781.7,3490.3 784.7,3490.5 787.7,3490.7 790.7,3490.9 793.6,3491.1 796.6,3491.3 799.6,3491.4 802.6,3491.6 805.6,3491.8 808.6,3492.0 811.6,3492.2 814.6,3492.4 817.6,3492.6 820.5,3492.8 823.5,3493.0 826.5,3493.3 829.5,3493.5 832.5,3493.7 835.5,3493.9 838.5,3494.1 841.5,3494.3 844.5,3494.6 847.4,3494.8 850.4,3495.0 853.4,3495.2 856.4,3495.4 859.4,3495.7 862.4,3495.9 865.4,3496.1 868.4,3496.3 871.4,3496.5 874.3,3496.7 877.3,3496.9 880.3,3497.1 883.3,3497.3 886.3,3497.4 889.3,3497.4 892.3,3497.3 895.3,3497.1 898.3,3496.6 901.3,3495.6 904.2,3494.1 907.2,3491.6 910.2,3487.9 913.2,3482.6 916.2,3475.3 919.2,3465.5 922.2,3452.8 925.2,3436.6 928.2,3416.6 931.1,3392.7 934.1,3365.0 937.1,3333.8 940.1,3299.9 943.1,3264.3 946.1,3228.4 949.1,3193.8 952.1,3162.3 955.1,3135.7 958.0,3115.4 961.0,3102.9 964.0,3098.7 967.0,3101.3 970.0,3108.5 973.0,3120.0 976.0,3135.5 979.0,3154.4 982.0,3176.2 984.9,3200.2 987.9,3225.8 990.9,3252.2 993.9,3278.9 996.9,3305.0 999.9,3330.3 1002.9,3354.2 1005.9,3376.5 1008.9,3396.9 1011.8,3415.3 1014.8,3431.6 1017.8,3445.9 1020.8,3458.1 1023.8,3468.6 1026.8,3477.4 1029.8,3484.6 1032.8,3490.5 1035.8,3495.3 1038.7,3499.2 1041.7,3502.2 1044.7,3504.5 1047.7,3506.4 1050.7,3507.8 1053.7,3508.9 1056.7,3509.6 1059.7,3510.1 1062.7,3510.5 1065.6,3510.8 1068.6,3511.0 1071.6,3511.2 1074.6,3511.3 1077.6,3511.3 1080.6,3511.4 1083.6,3511.5 1086.6,3511.5 1089.6,3511.5 1092.5,3511.6 1095.5,3511.6 1098.5,3511.6 1101.5,3511.6 1104.5,3511.7 1107.5,3511.7 1110.5,3511.7 1113.5,3511.8 1116.5,3511.8 1119.4,3511.8 1122.4,3511.8 1125.4,3511.9 1128.4,3511.9 1131.4,3511.9 1134.4,3511.9 1137.4,3512.0 1140.4,3512.0 1143.4,3512.0 1146.3,3512.0 1149.3,3512.1 1152.3,3512.1 1155.3,3512.1 1158.3,3512.1 1161.3,3512.2 1164.3,3512.2 1167.3,3512.2 1170.3,3512.2 1173.2,3512.3 1176.2,3512.2 1179.2,3512.2 1182.2,3512.2 1185.2,3512.2 1188.2,3512.2 1191.2,3512.1 1194.2,3512.1 1197.2,3512.1 1200.2,3512.0 1203.1,3511.9 1206.1,3511.8 1209.1,3511.6 1212.1,3511.3 1215.1,3510.8 1218.1,3510.0 1221.1,3508.7 1224.1,3506.6 1227.1,3503.4 1230.0,3498.6 1233.0,3491.6 1236.0,3481.6 1239.0,3467.6 1242.0,3448.5 1245.0,3423.3 1248.0,3390.8 1251.0,3349.9 1254.0,3299.9 1256.9,3240.7 1259.9,3172.5 1262.9,3096.5 1265.9,3014.7 1268.9,2929.7 1271.9,2845.2 1274.9,2765.2 1277.9,2694.0 1280.9,2635.7 1283.8,2593.8 1286.8,2571.0 1289.8,2568.1 1292.8,2578.7 1295.8,2600.6 1298.8,2633.1 1301.8,2675.1 1304.8,2724.9 1307.8,2781.0 1310.7,2841.6 1313.7,2904.8 1316.7,2968.8 1319.7,3032.1 1322.7,3093.3 1325.7,3151.2 1328.7,3204.9 1331.7,3253.7 1334.7,3297.5 1337.6,3335.9 1340.6,3369.1 1343.6,3397.4 1346.6,3421.1 1349.6,3440.6 1352.6,3456.5 1355.6,3469.2 1358.6,3479.2 1361.6,3487.0 1364.5,3492.9 1367.5,3497.4 1370.5,3500.7 1373.5,3503.1 1376.5,3504.8 1379.5,3506.1 1382.5,3506.9 1385.5,3507.5 1388.5,3507.9 1391.4,3508.1 1394.4,3508.3 1397.4,3508.3 1400.4,3508.4 1403.4,3508.4 1406.4,3508.4 1409.4,3508.3 1412.4,3508.3 1415.4,3508.2 1418.3,3508.2 1421.3,3508.1 1424.3,3508.1 1427.3,3508.0 1430.3,3508.0 1433.3,3507.9 1436.3,3507.9 1439.3,3507.8 1442.3,3507.8 1445.2,3507.7 1448.2,3507.7 1451.2,3507.6 1454.2,3507.5 1457.2,3507.4 1460.2,3507.2 1463.2,3506.8 1466.2,3506.0 1469.2,3504.5 1472.1,3502.2 1475.1,3498.8 1478.1,3494.1 1481.1,3487.8 1484.1,3480.1 1487.1,3471.1 1490.1,3461.2 1493.1,3450.7 1496.1,3440.0 1499.1,3429.7 1502.0,3420.1 1505.0,3411.5 1508.0,3404.1 1511.0,3397.9 1514.0,3392.9 1517.0,3389.1 1520.0,3386.3 1523.0,3384.3 1526.0,3383.0 1528.9,3382.2 1531.9,3381.8 1534.9,3381.5 1537.9,3381.5 1540.9,3381.5 1543.9,3381.5 1546.9,3381.5 1549.9,3381.5 1552.9,3381.6 1555.8,3381.8 1558.8,3382.4 1561.8,3383.4 1564.8,3385.0 1567.8,3387.5 1570.8,3391.0 1573.8,3395.7 1576.8,3401.7 1579.8,3409.2 1582.7,3418.0 1585.7,3428.0 1588.7,3438.8 1591.7,3450.0 1594.7,3461.2 1597.7,3471.7 1600.7,3481.1 1603.7,3489.0 1606.7,3495.3 1609.6,3500.0 1612.6,3503.2 1615.6,3505.2 1618.6,3506.4 1621.6,3507.0 1624.6,3507.3 1627.6,3507.4 1630.6,3507.4 1633.6,3507.3 1636.5,3507.2 1639.5,3507.0 1642.5,3506.7 1645.5,3506.3 1648.5,3505.7 1651.5,3504.9 1654.5,3503.7 1657.5,3502.2 1660.5,3500.0 1663.4,3497.3 1666.4,3493.7 1669.4,3489.1 1672.4,3483.4 1675.4,3476.3 1678.4,3467.7 1681.4,3457.5 1684.4,3445.5 1687.4,3431.6 1690.3,3416.0 1693.3,3398.7 1696.3,3379.9 1699.3,3359.9 1702.3,3339.2 1705.3,3318.1 1708.3,3297.4 1711.3,3277.5 1714.3,3259.3 1717.2,3243.3 1720.2,3230.2 1723.2,3220.4 1726.2,3214.4 1729.2,3212.3 1732.2,3214.0 1735.2,3219.0 1738.2,3227.1 1741.2,3238.1 1744.1,3251.6 1747.1,3267.2 1750.1,3284.4 1753.1,3302.7 1756.1,3321.6 1759.1,3340.7 1762.1,3359.6 1765.1,3377.7 1768.1,3395.0 1771.0,3411.0 1774.0,3425.7 1777.0,3438.9 1780.0,3450.6 1783.0,3460.8 1786.0,3469.6 1789.0,3477.0 1792.0,3483.3 1795.0,3488.4 1798.0,3492.6 1800.9,3495.9 1803.9,3498.5 1806.9,3500.6 1809.9,3502.2 1812.9,3503.4 1815.9,3504.3 1818.9,3505.0 1821.9,3505.4 1824.9,3505.8 1827.8,3506.0 1830.8,3506.2 1833.8,3506.3 1836.8,3506.4 1839.8,3506.4 1842.8,3506.4 1845.8,3506.4 1848.8,3506.4 1851.8,3506.4 1854.7,3506.3 1857.7,3506.3 1860.7,3506.2 1863.7,3506.1 1866.7,3506.0 1869.7,3505.8 1872.7,3505.6 1875.7,3505.3 1878.7,3504.9 1881.6,3504.4 1884.6,3503.9 1887.6,3503.2 1890.6,3502.5 1893.6,3501.7 1896.6,3500.9 1899.6,3500.1 1902.6,3499.3 1905.6,3498.5 1908.5,3497.9 1911.5,3497.4 1914.5,3497.1 1917.5,3497.0 1920.5,3497.2 1923.5,3497.5 1926.5,3498.0 1929.5,3498.6 1932.5,3499.4 1935.4,3500.2 1938.4,3501.0 1941.4,3501.9 1944.4,3502.7 1947.4,3503.4 1950.4,3504.1 1953.4,3504.7 1956.4,3505.2 1959.4,3505.6 1962.3,3505.9 1965.3,3506.1 1968.3,3506.3 1971.3,3506.5 1974.3,3506.6 1977.3,3506.6 1980.3,3506.7 1983.3,3506.7 1986.3,3506.7 1989.2,3506.7 1992.2,3506.7 1995.2,3506.7 1998.2,3506.7 2001.2,3506.7 2004.2,3506.7 2007.2,3506.7 2010.2,3506.6 2013.2,3506.6 2016.1,3506.6 2019.1,3506.6 2022.1,3506.6 2025.1,3506.6 2028.1,3506.6 2031.1,3506.5 2034.1,3506.5 2037.1,3506.5 2040.1,3506.5 2043.0,3506.5 2046.0,3506.4 2049.0,3506.4 2052.0,3506.4 2055.0,3506.4 2058.0,3506.3 2061.0,3506.3 2064.0,3506.2 2067.0,3506.2 2069.9,3506.1 2072.9,3505.9 2075.9,3505.7 2078.9,3505.4 2081.9,3505.2 2084.9,3504.9 2087.9,3504.6 2090.9,3504.3 2093.9,3503.9 2096.9,3503.5 2099.8,3503.1 2102.8,3502.6 2105.8,3502.1 2108.8,3501.6 2111.8,3501.0 2114.8,3500.3 2117.8,3499.6 2120.8,3498.8 2123.8,3498.0 2126.7,3497.1 2129.7,3496.1 2132.7,3495.2 2135.7,3494.3 2138.7,3493.3 2141.7,3492.2 2144.7,3491.1 2147.7,3489.9 2150.7,3488.7 2153.6,3487.4 2156.6,3486.1 2159.6,3484.8 2162.6,3483.5 2165.6,3482.2 2168.6,3480.9 2171.6,3479.6 2174.6,3478.4 2177.6,3477.2 2180.5,3476.2 2183.5,3475.2 2186.5,3474.3 2189.5,3473.5 2192.5,3472.9 2195.5,3472.4 2198.5,3472.0 2201.5,3471.8 2204.5,3471.7 2207.4,3471.9 2210.4,3472.4 2213.4,3473.3 2216.4,3474.5 2219.4,3475.9 2222.4,3477.6 2225.4,3479.4 2228.4,3481.3 2231.4,3483.4 2234.3,3485.4 2237.3,3487.4 2240.3,3489.4 2243.3,3491.2 2246.3,3493.0 2249.3,3494.6 2252.3,3496.1 2255.3,3497.5 2258.3,3498.6 2261.2,3499.7 2264.2,3500.5 2267.2,3501.3 2270.2,3501.9 2273.2,3502.5 2276.2,3502.9 2279.2,3503.3"/>
<polyline stroke="#8C8C00" points="366.2,3506.2 369.2,3506.0 372.2,3505.8 375.2,3505.6 378.2,3505.5 381.2,3505.3 384.2,3505.1 387.1,3504.9 390.1,3504.8 393.1,3503.9 396.1,3503.0 399.1,3502.1 402.1,3501.3 405.1,3500.4 408.1,3499.5 411.1,3498.7 414.0,3497.8 417.0,3496.9 420.0,3496.0 423.0,3495.3 426.0,3494.5 429.0,3493.8 432.0,3493.0 435.0,3492.2 438.0,3491.5 440.9,3490.7 443.9,3490.0 446.9,3489.7 449.9,3489.5 452.9,3489.3 455.9,3489.1 458.9,3488.9 461.9,3488.6 464.9,3488.4 467.8,3488.2 470.8,3488.0 473.8,3487.8 476.8,3487.6 479.8,3487.3 482.8,3487.1 485.8,3486.9 488.8,3486.8 491.8,3486.7 494.7,3486.7 497.7,3486.6 500.7,3486.5 503.7,3486.4 506.7,3486.3 509.7,3486.3 512.7,3486.2 515.7,3486.1 518.7,3486.0 521.6,3485.9 524.6,3485.9 527.6,3485.8 530.6,3485.7 533.6,3485.6 536.6,3485.5 539.6,3485.4 542.6,3485.4 545.6,3485.3 548.5,3485.2 551.5,3485.2 554.5,3485.1 557.5,3485.1 560.5,3485.0 563.5,3485.0 566.5,3485.0 569.5,3484.9 572.5,3484.9 575.5,3484.8 578.4,3484.8 581.4,3484.7 584.4,3484.7 587.4,3484.6 590.4,3484.6 593.4,3484.5 596.4,3484.5 599.4,3484.4 602.4,3484.4 605.3,3484.3 608.3,3484.3 611.3,3484.2 614.3,3484.2 617.3,3484.1 620.3,3484.1 623.3,3484.1 626.3,3484.0 629.3,3484.0 632.2,3483.9 635.2,3483.9 638.2,3483.9 641.2,3484.0 644.2,3484.0 647.2,3484.1 650.2,3484.1 653.2,3484.2 656.2,3484.2 659.1,3484.3 662.1,3484.3 665.1,3484.4 668.1,3484.4 671.1,3484.5 674.1,3484.5 677.1,3484.6 680.1,3484.6 683.1,3484.7 686.0,3484.7 689.0,3484.8 692.0,3484.8 695.0,3484.9 698.0,3485.1 701.0,3485.3 704.0,3485.5 707.0,3485.7 710.0,3485.9 712.9,3486.1 715.9,3486.3 718.9,3486.5 721.9,3486.7 724.9,3486.9 727.9,3487.1 730.9,3487.3 733.9,3487.5 736.9,3487.7 739.8,3487.9 742.8,3488.1 745.8,3488.3 748.8,3488.5 751.8,3488.7 754.8,3488.9 757.8,3489.1 760.8,3489.3 763.8,3489.5 766.7,3489.7 769.7,3489.8 772.7,3490.0 775.7,3490.2 778.7,3490.4 781.7,3490.6 784.7,3490.8 787.7,3490.9 790.7,3491.1 793.6,3491.3 796.6,3491.5 799.6,3491.7 802.6,3491.9 805.6,3492.0 808.6,3492.2 811.6,3492.4 814.6,3492.6 817.6,3492.8 820.5,3493.0 823.5,3493.2 826.5,3493.4 829.5,3493.6 832.5,3493.8 835.5,3494.1 838.5,3494.3 841.5,3494.5 844.5,3494.7 847.4,3494.9 850.4,3495.1 853.4,3495.3 856.4,3495.5 859.4,3495.7 862.4,3496.0 865.4,3496.2 868.4,3496.4 871.4,3496.6 874.3,3496.8 877.3,3497.0 880.3,3497.1 883.3,3497.3 886.3,3497.4 889.3,3497.4 892.3,3497.3 895.3,3497.1 898.3,3496.6 901.3,3495.7 904.2,3494.2 907.2,3491.8 910.2,3488.2 913.2,3483.0 916.2,3475.9 919.2,3466.3 922.2,3453.8 925.2,3437.9 928.2,3418.4 931.1,3395.0 934.1,3367.8 937.1,3337.3 940.1,3304.0 943.1,3269.2 946.1,3234.0 949.1,3200.2 952.1,3169.3 955.1,3143.2 958.0,3123.4 961.0,3111.1 964.0,3107.1 967.0,3109.6 970.0,3116.6 973.0,3127.9 976.0,3143.1 979.0,3161.6 982.0,3183.0 984.9,3206.5 987.9,3231.5 990.9,3257.4 993.9,3283.6 996.9,3309.2 999.9,3333.9 1002.9,3357.4 1005.9,3379.2 1008.9,3399.2 1011.8,3417.2 1014.8,3433.2 1017.8,3447.2 1020.8,3459.2 1023.8,3469.4 1026.8,3478.0 1029.8,3485.1 1032.8,3490.9 1035.8,3495.6 1038.7,3499.4 1041.7,3502.3 1044.7,3504.7 1047.7,3506.5 1050.7,3507.9 1053.7,3508.9 1056.7,3509.6 1059.7,3510.2 1062.7,3510.5 1065.6,3510.8 1068.6,3511.0 1071.6,3511.2 1074.6,3511.3 1077.6,3511.3 1080.6,3511.4 1083.6,3511.5 1086.6,3511.5 1089.6,3511.5 1092.5,3511.6 1095.5,3511.6 1098.5,3511.6 1101.5,3511.6 1104.5,3511.7 1107.5,3511.7 1110.5,3511.7 1113.5,3511.8 1116.5,3511.8 1119.4,3511.8 1122.4,3511.8 1125.4,3511.9 1128.4,3511.9 1131.4,3511.9 1134.4,3511.9 1137.4,3512.0 1140.4,3512.0 1143.4,3512.0 1146.3,3512.0 1149.3,3512.1 1152.3,3512.1 1155.3,3512.1 1158.3,3512.1 1161.3,3512.2 1164.3,3512.2 1167.3,3512.2 1170.3,3512.2 1173.2,3512.3 1176.2,3512.2 1179.2,3512.2 1182.2,3512.2 1185.2,3512.2 1188.2,3512.2 1191.2,3512.1 1194.2,3512.1 1197.2,3512.1 1200.2,3512.0 1203.1,3512.0 1206.1,3511.8 1209.1,3511.7 1212.1,3511.4 1215.1,3510.9 1218.1,3510.0 1221.1,3508.7 1224.1,3506.7 1227.1,3503.6 1230.0,3498.9 1233.0,3492.0 1236.0,3482.1 1239.0,3468.3 1242.0,3449.6 1245.0,3424.9 1248.0,3392.9 1251.0,3352.7 1254.0,3303.6 1256.9,3245.4 1259.9,3178.4 1262.9,3103.8 1265.9,3023.3 1268.9,2939.8 1271.9,2856.8 1274.9,2778.2 1277.9,2708.2 1280.9,2650.9 1283.8,2609.7 1286.8,2587.4 1289.8,2584.5 1292.8,2594.9 1295.8,2616.5 1298.8,2648.4 1301.8,2689.6 1304.8,2738.6 1307.8,2793.7 1310.7,2853.2 1313.7,2915.3 1316.7,2978.3 1319.7,3040.5 1322.7,3100.6 1325.7,3157.4 1328.7,3210.2 1331.7,3258.2 1334.7,3301.2 1337.6,3338.9 1340.6,3371.6 1343.6,3399.4 1346.6,3422.6 1349.6,3441.8 1352.6,3457.4 1355.6,3469.9 1358.6,3479.7 1361.6,3487.3 1364.5,3493.2 1367.5,3497.6 1370.5,3500.8 1373.5,3503.2 1376.5,3504.9 1379.5,3506.1 1382.5,3506.9 1385.5,3507.5 1388.5,3507.9 1391.4,3508.1 1394.4,3508.3 1397.4,3508.3 1400.4,3508.4 1403.4,3508.4 1406.4,3508.4 1409.4,3508.3 1412.4,3508.3 1415.4,3508.2 1418.3,3508.2 1421.3,3508.1 1424.3,3508.1 1427.3,3508.0 1430.3,3508.0 1433.3,3507.9 1436.3,3507.9 1439.3,3507.8 1442.3,3507.8 1445.2,3507.7 1448.2,3507.7 1451.2,3507.6 1454.2,3507.5 1457.2,3507.4 1460.2,3507.2 1463.2,3506.8 1466.2,3506.0 1469.2,3504.6 1472.1,3502.4 1475.1,3499.1 1478.1,3494.4 1481.1,3488.4 1484.1,3480.9 1487.1,3472.1 1490.1,3462.5 1493.1,3452.2 1496.1,3441.9 1499.1,3431.8 1502.0,3422.5 1505.0,3414.1 1508.0,3406.9 1511.0,3400.9 1514.0,3396.0 1517.0,3392.3 1520.0,3389.6 1523.0,3387.7 1526.0,3386.4 1528.9,3385.6 1531.9,3385.2 1534.9,3385.0 1537.9,3384.9 1540.9,3384.9 1543.9,3384.9 1546.9,3384.9 1549.9,3384.9 1552.9,3385.0 1555.8,3385.3 1558.8,3385.8 1561.8,3386.8 1564.8,3388.4 1567.8,3390.8 1570.8,3394.2 1573.8,3398.7 1576.8,3404.6 1579.8,3411.9 1582.7,3420.4 1585.7,3430.1 1588.7,3440.7 1591.7,3451.6 1594.7,3462.5 1597.7,3472.7 1600.7,3481.8 1603.7,3489.5 1606.7,3495.6 1609.6,3500.2 1612.6,3503.3 1615.6,3505.3 1618.6,3506.4 1621.6,3507.0 1624.6,3507.3 1627.6,3507.4 1630.6,3507.4 1633.6,3507.3 1636.5,3507.2 1639.5,3507.0 1642.5,3506.8 1645.5,3506.3 1648.5,3505.8 1651.5,3504.9 1654.5,3503.8 1657.5,3502.3 1660.5,3500.3 1663.4,3497.6 1666.4,3494.1 1669.4,3489.6 1672.4,3484.0 1675.4,3477.2 1678.4,3468.8 1681.4,3458.9 1684.4,3447.2 1687.4,3433.8 1690.3,3418.6 1693.3,3401.8 1696.3,3383.5 1699.3,3364.1 1702.3,3343.9 1705.3,3323.4 1708.3,3303.3 1711.3,3284.0 1714.3,3266.3 1717.2,3250.8 1720.2,3238.0 1723.2,3228.5 1726.2,3222.6 1729.2,3220.6 1732.2,3222.3 1735.2,3227.1 1738.2,3235.0 1741.2,3245.7 1744.1,3258.8 1747.1,3273.9 1750.1,3290.6 1753.1,3308.4 1756.1,3326.9 1759.1,3345.4 1762.1,3363.7 1765.1,3381.4 1768.1,3398.1 1771.0,3413.7 1774.0,3428.0 1777.0,3440.8 1780.0,3452.2 1783.0,3462.1 1786.0,3470.6 1789.0,3477.9 1792.0,3483.9 1795.0,3488.9 1798.0,3493.0 1800.9,3496.2 1803.9,3498.8 1806.9,3500.8 1809.9,3502.3 1812.9,3503.5 1815.9,3504.4 1818.9,3505.0 1821.9,3505.5 1824.9,3505.8 1827.8,3506.0 1830.8,3506.2 1833.8,3506.3 1836.8,3506.4 1839.8,3506.4 1842.8,3506.4 1845.8,3506.4 1848.8,3506.4 1851.8,3506.4 1854.7,3506.3 1857.7,3506.3 1860.7,3506.2 1863.7,3506.1 1866.7,3506.0 1869.7,3505.8 1872.7,3505.6 1875.7,3505.3 1878.7,3504.9 1881.6,3504.4 1884.6,3503.9 1887.6,3503.2 1890.6,3502.5 1893.6,3501.7 1896.6,3500.9 1899.6,3500.1 1902.6,3499.3 1905.6,3498.5 1908.5,3497.9 1911.5,3497.4 1914.5,3497.1 1917.5,3497.0 1920.5,3497.2 1923.5,3497.5 1926.5,3498.0 1929.5,3498.6 1932.5,3499.4 1935.4,3500.2 1938.4,3501.0 1941.4,3501.9 1944.4,3502.7 1947.4,3503.4 1950.4,3504.1 1953.4,3504.7 1956.4,3505.2 1959.4,3505.6 1962.3,3505.9 1965.3,3506.1 1968.3,3506.3 1971.3,3506.5 1974.3,3506.6 1977.3,3506.6 1980.3,3506.7 1983.3,3506.7 1986.3,3506.7 1989.2,3506.7 1992.2,3506.7 1995.2,3506.7 1998.2,3506.7 2001.2,3506.7 2004.2,3506.7 2007.2,3506.7 2010.2,3506.6 2013.2,3506.6 2016.1,3506.6 2019.1,3506.6 2022.1,3506.6 2025.1,3506.6 2028.1,3506.6 2031.1,3506.5 2034.1,3506.5 2037.1,3506.5 2040.1,3506.5 2043.0,3506.5 2046.0,3506.4 2049.0,3506.4 2052.0,3506.4 2055.0,3506.4 2058.0,3506.3 2061.0,3506.3 2064.0,3506.3 2067.0,3506.2 2069.9,3506.1 2072.9,3505.9 2075.9,3505.7 2078.9,3505.4 2081.9,3505.2 2084.9,3504.9 2087.9,3504.6 2090.9,3504.3 2093.9,3503.9 2096.9,3503.6 2099.8,3503.1 2102.8,3502.7 2105.8,3502.2 2108.8,3501.7 2111.8,3501.1 2114.8,3500.4 2117.8,3499.7 2120.8,3499.0 2123.8,3498.2 2126.7,3497.3 2129.7,3496.3 2132.7,3495.5 2135.7,3494.6 2138.7,3493.6 2141.7,3492.6 2144.7,3491.5 2147.7,3490.3 2150.7,3489.1 2153.6,3487.9 2156.6,3486.7 2159.6,3485.4 2162.6,3484.1 2165.6,3482.8 2168.6,3481.6 2171.6,3480.4 2174.6,3479.2 2177.6,3478.1 2180.5,3477.0 2183.5,3476.1 2186.5,3475.2 2189.5,3474.5 2192.5,3473.9 2195.5,3473.4 2198.5,3473.0 2201.5,3472.8 2204.5,3472.7 2207.4,3472.9 2210.4,3473.4 2213.4,3474.2 2216.4,3475.4 2219.4,3476.8 2222.4,3478.4 2225.4,3480.2 2228.4,3482.0 2231.4,3484.0 2234.3,3486.0 2237.3,3487.9 2240.3,3489.8 2243.3,3491.6 2246.3,3493.3 2249.3,3494.9 2252.3,3496.4 2255.3,3497.7 2258.3,3498.8 2261.2,3499.8 2264.2,3500.6 2267.2,3501.4 2270.2,3502.0 2273.2,3502.5 2276.2,3502.9 2279.2,3503.3"/>
<polyline stroke="#FF6600" points="366.2,3506.2 369.2,3506.0 372.2,3505.8 375.2,3505.6 378.2,3505.5 381.2,3505.3 384.2,3505.1 387.1,3504.9 390.1,3504.8 393.1,3503.8 396.1,3502.9 399.1,3502.0 402.1,3501.1 405.1,3500.2 408.1,3499.3 411.1,3498.4 414.0,3497.5 417.0,3496.5 420.0,3495.6 423.0,3494.8 426.0,3494.1 429.0,3493.3 432.0,3492.5 435.0,3491.7 438.0,3490.9 440.9,3490.2 443.9,3489.4 446.9,3489.2 449.9,3488.9 452.9,3488.7 455.9,3488.5 458.9,3488.3 461.9,3488.0 464.9,3487.8 467.8,3487.6 470.8,3487.4 473.8,3487.2 476.8,3486.9 479.8,3486.7 482.8,3486.5 485.8,3486.3 488.8,3486.2 491.8,3486.1 494.7,3486.0 497.7,3485.9 500.7,3485.8 503.7,3485.7 506.7,3485.6 509.7,3485.5 512.7,3485.5 515.7,3485.4 518.7,3485.3 521.6,3485.2 524.6,3485.1 527.6,3485.0 530.6,3484.9 533.6,3484.8 536.6,3484.7 539.6,3484.7 542.6,3484.6 545.6,3484.5 548.5,3484.4 551.5,3484.4 554.5,3484.3 557.5,3484.3 560.5,3484.2 563.5,3484.2 566.5,3484.1 569.5,3484.1 572.5,3484.0 575.5,3484.0 578.4,3484.0 581.4,3483.9 584.4,3483.9 587.4,3483.8 590.4,3483.8 593.4,3483.7 596.4,3483.7 599.4,3483.6 602.4,3483.6 605.3,3483.5 608.3,3483.5 611.3,3483.4 614.3,3483.4 617.3,3483.3 620.3,3483.3 623.3,3483.2 626.3,3483.2 629.3,3483.1 632.2,3483.1 635.2,3483.1 638.2,3483.1 641.2,3483.2 644.2,3483.2 647.2,3483.3 650.2,3483.3 653.2,3483.4 656.2,3483.4 659.1,3483.5 662.1,3483.5 665.1,3483.6 668.1,3483.6 671.1,3483.7 674.1,3483.7 677.1,3483.8 680.1,3483.8 683.1,3483.9 686.0,3483.9 689.0,3484.0 692.0,3484.0 695.0,3484.1 698.0,3484.3 701.0,3484.5 704.0,3484.7 707.0,3484.9 710.0,3485.1 712.9,3485.3 715.9,3485.5 718.9,3485.8 721.9,3486.0 724.9,3486.2 727.9,3486.4 730.9,3486.6 733.9,3486.8 736.9,3487.0 739.8,3487.2 742.8,3487.4 745.8,3487.7 748.8,3487.9 751.8,3488.1 754.8,3488.3 757.8,3488.5 760.8,3488.7 763.8,3488.9 766.7,3489.1 769.7,3489.3 772.7,3489.5 775.7,3489.6 778.7,3489.8 781.7,3490.0 784.7,3490.2 787.7,3490.4 790.7,3490.6 793.6,3490.8 796.6,3491.0 799.6,3491.2 802.6,3491.4 805.6,3491.6 808.6,3491.8 811.6,3492.0 814.6,3492.2 817.6,3492.4 820.5,3492.6 823.5,3492.9 826.5,3493.1 829.5,3493.3 832.5,3493.5 835.5,3493.8 838.5,3494.0 841.5,3494.2 844.5,3494.4 847.4,3494.7 850.4,3494.9 853.4,3495.1 856.4,3495.3 859.4,3495.6 862.4,3495.8 865.4,3496.0 868.4,3496.2 871.4,3496.5 874.3,3496.7 877.3,3496.9 880.3,3497.1 883.3,3497.2 886.3,3497.3 889.3,3497.4 892.3,3497.3 895.3,3497.1 898.3,3496.7 901.3,3495.8 904.2,3494.3 907.2,3491.9 910.2,3488.3 913.2,3483.3 916.2,3476.2 919.2,3466.8 922.2,3454.4 925.2,3438.8 928.2,3419.5 931.1,3396.4 934.1,3369.7 937.1,3339.5 940.1,3306.8 943.1,3272.4 946.1,3237.7 949.1,3204.4 952.1,3173.9 955.1,3148.2 958.0,3128.6 961.0,3116.5 964.0,3112.5 967.0,3115.1 970.0,3122.0 973.0,3133.1 976.0,3148.1 979.0,3166.3 982.0,3187.4 984.9,3210.6 987.9,3235.3 990.9,3260.9 993.9,3286.6 996.9,3311.9 999.9,3336.3 1002.9,3359.4 1005.9,3381.0 1008.9,3400.7 1011.8,3418.5 1014.8,3434.2 1017.8,3448.0 1020.8,3459.9 1023.8,3470.0 1026.8,3478.5 1029.8,3485.5 1032.8,3491.2 1035.8,3495.8 1038.7,3499.5 1041.7,3502.5 1044.7,3504.8 1047.7,3506.5 1050.7,3507.9 1053.7,3509.0 1056.7,3509.7 1059.7,3510.2 1062.7,3510.6 1065.6,3510.8 1068.6,3511.0 1071.6,3511.2 1074.6,3511.3 1077.6,3511.3 1080.6,3511.4 1083.6,3511.5 1086.6,3511.5 1089.6,3511.5 1092.5,3511.6 1095.5,3511.6 1098.5,3511.6 1101.5,3511.6 1104.5,3511.7 1107.5,3511.7 1110.5,3511.7 1113.5,3511.8 1116.5,3511.8 1119.4,3511.8 1122.4,3511.8 1125.4,3511.9 1128.4,3511.9 1131.4,3511.9 1134.4,3511.9 1137.4,3512.0 1140.4,3512.0 1143.4,3512.0 1146.3,3512.0 1149.3,3512.1 1152.3,3512.1 1155.3,3512.1 1158.3,3512.1 1161.3,3512.2 1164.3,3512.2 1167.3,3512.2 1170.3,3512.2 1173.2,3512.3 1176.2,3512.2 1179.2,3512.2 1182.2,3512.2 1185.2,3512.2 1188.2,3512.2 1191.2,3512.1 1194.2,3512.1 1197.2,3512.1 1200.2,3512.0 1203.1,3512.0 1206.1,3511.8 1209.1,3511.7 1212.1,3511.4 1215.1,3510.9 1218.1,3510.1 1221.1,3508.8 1224.1,3506.8 1227.1,3503.7 1230.0,3499.1 1233.0,3492.4 1236.0,3482.7 1239.0,3469.2 1242.0,3450.9 1245.0,3426.6 1248.0,3395.3 1251.0,3356.0 1254.0,3307.9 1256.9,3250.9 1259.9,3185.3 1262.9,3112.2 1265.9,3033.3 1268.9,2951.6 1271.9,2870.2 1274.9,2793.3 1277.9,2724.7 1280.9,2668.6 1283.8,2628.3 1286.8,2606.4 1289.8,2603.6 1292.8,2613.7 1295.8,2634.8 1298.8,2666.1 1301.8,2706.5 1304.8,2754.5 1307.8,2808.5 1310.7,2866.7 1313.7,2927.5 1316.7,2989.2 1319.7,3050.1 1322.7,3109.0 1325.7,3164.7 1328.7,3216.3 1331.7,3263.4 1334.7,3305.4 1337.6,3342.4 1340.6,3374.4 1343.6,3401.6 1346.6,3424.4 1349.6,3443.2 1352.6,3458.5 1355.6,3470.7 1358.6,3480.3 1361.6,3487.8 1364.5,3493.5 1367.5,3497.8 1370.5,3501.0 1373.5,3503.3 1376.5,3505.0 1379.5,3506.2 1382.5,3507.0 1385.5,3507.5 1388.5,3507.9 1391.4,3508.1 1394.4,3508.3 1397.4,3508.3 1400.4,3508.4 1403.4,3508.4 1406.4,3508.4 1409.4,3508.3 1412.4,3508.3 1415.4,3508.2 1418.3,3508.2 1421.3,3508.1 1424.3,3508.1 1427.3,3508.0 1430.3,3508.0 1433.3,3507.9 1436.3,3507.9 1439.3,3507.8 1442.3,3507.8 1445.2,3507.7 1448.2,3507.7 1451.2,3507.6 1454.2,3507.5 1457.2,3507.5 1460.2,3507.2 1463.2,3506.8 1466.2,3506.0 1469.2,3504.7 1472.1,3502.5 1475.1,3499.2 1478.1,3494.7 1481.1,3488.8 1484.1,3481.4 1487.1,3472.9 1490.1,3463.4 1493.1,3453.4 1496.1,3443.3 1499.1,3433.5 1502.0,3424.3 1505.0,3416.1 1508.0,3409.1 1511.0,3403.2 1514.0,3398.4 1517.0,3394.8 1520.0,3392.1 1523.0,3390.3 1526.0,3389.0 1528.9,3388.2 1531.9,3387.8 1534.9,3387.6 1537.9,3387.6 1540.9,3387.5 1543.9,3387.5 1546.9,3387.5 1549.9,3387.6 1552.9,3387.7 1555.8,3387.9 1558.8,3388.4 1561.8,3389.4 1564.8,3390.9 1567.8,3393.3 1570.8,3396.6 1573.8,3401.1 1576.8,3406.8 1579.8,3413.9 1582.7,3422.3 1585.7,3431.8 1588.7,3442.1 1591.7,3452.8 1594.7,3463.4 1597.7,3473.4 1600.7,3482.4 1603.7,3489.9 1606.7,3495.9 1609.6,3500.3 1612.6,3503.4 1615.6,3505.3 1618.6,3506.5 1621.6,3507.1 1624.6,3507.3 1627.6,3507.4 1630.6,3507.4 1633.6,3507.4 1636.5,3507.2 1639.5,3507.1 1642.5,3506.8 1645.5,3506.4 1648.5,3505.8 1651.5,3505.1 1654.5,3504.0 1657.5,3502.5 1660.5,3500.6 1663.4,3498.0 1666.4,3494.7 1669.4,3490.4 1672.4,3485.1 1675.4,3478.6 1678.4,3470.6 1681.4,3461.1 1684.4,3450.0 1687.4,3437.2 1690.3,3422.7 1693.3,3406.6 1696.3,3389.2 1699.3,3370.7 1702.3,3351.4 1705.3,3331.9 1708.3,3312.7 1711.3,3294.3 1714.3,3277.4 1717.2,3262.6 1720.2,3250.4 1723.2,3241.3 1726.2,3235.7 1729.2,3233.8 1732.2,3235.4 1735.2,3240.0 1738.2,3247.5 1741.2,3257.7 1744.1,3270.2 1747.1,3284.7 1750.1,3300.6 1753.1,3317.6 1756.1,3335.1 1759.1,3352.9 1762.1,3370.3 1765.1,3387.2 1768.1,3403.1 1771.0,3418.0 1774.0,3431.6 1777.0,3443.8 1780.0,3454.7 1783.0,3464.2 1786.0,3472.3 1789.0,3479.2 1792.0,3485.0 1795.0,3489.7 1798.0,3493.6 1800.9,3496.7 1803.9,3499.1 1806.9,3501.1 1809.9,3502.5 1812.9,3503.6 1815.9,3504.5 1818.9,3505.1 1821.9,3505.5 1824.9,3505.8 1827.8,3506.1 1830.8,3506.2 1833.8,3506.3 1836.8,3506.4 1839.8,3506.4 1842.8,3506.4 1845.8,3506.4 1848.8,3506.4 1851.8,3506.4 1854.7,3506.3 1857.7,3506.3 1860.7,3506.2 1863.7,3506.1 1866.7,3506.0 1869.7,3505.8 1872.7,3505.6 1875.7,3505.3 1878.7,3505.0 1881.6,3504.5 1884.6,3504.0 1887.6,3503.4 1890.6,3502.7 1893.6,3501.9 1896.6,3501.1 1899.6,3500.3 1902.6,3499.6 1905.6,3498.9 1908.5,3498.3 1911.5,3497.8 1914.5,3497.5 1917.5,3497.5 1920.5,3497.6 1923.5,3497.9 1926.5,3498.3 1929.5,3498.9 1932.5,3499.7 1935.4,3500.5 1938.4,3501.3 1941.4,3502.1 1944.4,3502.9 1947.4,3503.6 1950.4,3504.2 1953.4,3504.8 1956.4,3505.2 1959.4,3505.6 1962.3,3505.9 1965.3,3506.2 1968.3,3506.3 1971.3,3506.5 1974.3,3506.6 1977.3,3506.7 1980.3,3506.7 1983.3,3506.7 1986.3,3506.7 1989.2,3506.7 1992.2,3506.7 1995.2,3506.7 1998.2,3506.7 2001.2,3506.7 2004.2,3506.7 2007.2,3506.7 2010.2,3506.6 2013.2,3506.6 2016.1,3506.6 2019.1,3506.6 2022.1,3506.6 2025.1,3506.6 2028.1,3506.6 2031.1,3506.5 2034.1,3506.5 2037.1,3506.5 2040.1,3506.5 2043.0,3506.5 2046.0,3506.5 2049.0,3506.4 2052.0,3506.4 2055.0,3506.4 2058.0,3506.3 2061.0,3506.3 2064.0,3506.3 2067.0,3506.2 2069.9,3506.2 2072.9,3505.9 2075.9,3505.7 2078.9,3505.5 2081.9,3505.2 2084.9,3505.0 2087.9,3504.7 2090.9,3504.4 2093.9,3504.0 2096.9,3503.6 2099.8,3503.3 2102.8,3502.8 2105.8,3502.3 2108.8,3501.8 2111.8,3501.3 2114.8,3500.7 2117.8,3500.0 2120.8,3499.3 2123.8,3498.5 2126.7,3497.7 2129.7,3496.8 2132.7,3496.0 2135.7,3495.1 2138.7,3494.2 2141.7,3493.3 2144.7,3492.3 2147.7,3491.2 2150.7,3490.1 2153.6,3488.9 2156.6,3487.8 2159.6,3486.6 2162.6,3485.4 2165.6,3484.2 2168.6,3483.0 2171.6,3481.9 2174.6,3480.8 2177.6,3479.8 2180.5,3478.8 2183.5,3477.9 2186.5,3477.1 2189.5,3476.4 2192.5,3475.8 2195.5,3475.3 2198.5,3475.0 2201.5,3474.8 2204.5,3474.7 2207.4,3474.9 2210.4,3475.4 2213.4,3476.2 2216.4,3477.2 2219.4,3478.5 2222.4,3480.0 2225.4,3481.7 2228.4,3483.5 2231.4,3485.3 2234.3,3487.1 2237.3,3488.9 2240.3,3490.7 2243.3,3492.3 2246.3,3494.0 2249.3,3495.5 2252.3,3496.8 2255.3,3498.0 2258.3,3499.1 2261.2,3500.0 2264.2,3500.9 2267.2,3501.5 2270.2,3502.1 2273.2,3502.6 2276.2,3503.0 2279.2,3503.4"/>
<polyline stroke="#449AD0" points="366.2,3506.2 369.2,3506.0 372.2,3505.8 375.2,3505.6 378.2,3505.5 381.2,3505.3 384.2,3505.1 387.1,3504.9 390.1,3504.8 393.1,3503.9 396.1,3503.1 399.1,3502.3 402.1,3501.4 405.1,3500.6 408.1,3499.8 411.1,3498.9 414.0,3498.1 417.0,3497.3 420.0,3496.4 423.0,3495.7 426.0,3495.0 429.0,3494.2 432.0,3493.5 435.0,3492.7 438.0,3492.0 440.9,3491.3 443.9,3490.5 446.9,3490.3 449.9,3490.1 452.9,3489.9 455.9,3489.7 458.9,3489.5 461.9,3489.2 464.9,3489.0 467.8,3488.8 470.8,3488.6 473.8,3488.4 476.8,3488.2 479.8,3488.0 482.8,3487.8 485.8,3487.6 488.8,3487.5 491.8,3487.4 494.7,3487.3 497.7,3487.3 500.7,3487.2 503.7,3487.1 506.7,3487.0 509.7,3487.0 512.7,3486.9 515.7,3486.8 518.7,3486.8 521.6,3486.7 524.6,3486.6 527.6,3486.5 530.6,3486.5 533.6,3486.4 536.6,3486.3 539.6,3486.2 542.6,3486.2 545.6,3486.1 548.5,3486.0 551.5,3486.0 554.5,3486.0 557.5,3485.9 560.5,3485.9 563.5,3485.8 566.5,3485.8 569.5,3485.7 572.5,3485.7 575.5,3485.6 578.4,3485.6 581.4,3485.5 584.4,3485.5 587.4,3485.4 590.4,3485.4 593.4,3485.3 596.4,3485.3 599.4,3485.2 602.4,3485.2 605.3,3485.2 608.3,3485.1 611.3,3485.1 614.3,3485.0 617.3,3485.0 620.3,3484.9 623.3,3484.9 626.3,3484.8 629.3,3484.8 632.2,3484.7 635.2,3484.7 638.2,3484.7 641.2,3484.8 644.2,3484.8 647.2,3484.9 650.2,3484.9 653.2,3485.0 656.2,3485.0 659.1,3485.1 662.1,3485.1 665.1,3485.2 668.1,3485.2 671.1,3485.3 674.1,3485.3 677.1,3485.4 680.1,3485.4 683.1,3485.5 686.0,3485.5 689.0,3485.6 692.0,3485.6 695.0,3485.7 698.0,3485.9 701.0,3486.1 704.0,3486.3 707.0,3486.5 710.0,3486.7 712.9,3486.9 715.9,3487.1 718.9,3487.2 721.9,3487.4 724.9,3487.6 727.9,3487.8 730.9,3488.0 733.9,3488.2 736.9,3488.4 739.8,3488.6 742.8,3488.8 745.8,3489.0 748.8,3489.2 751.8,3489.4 754.8,3489.6 757.8,3489.8 760.8,3489.9 763.8,3490.1 766.7,3490.3 769.7,3490.4 772.7,3490.6 775.7,3490.8 778.7,3490.9 781.7,3491.1 784.7,3491.3 787.7,3491.5 790.7,3491.6 793.6,3491.8 796.6,3492.0 799.6,3492.1 802.6,3492.3 805.6,3492.5 808.6,3492.7 811.6,3492.8 814.6,3493.0 817.6,3493.2 820.5,3493.4 823.5,3493.6 826.5,3493.8 829.5,3494.0 832.5,3494.2 835.5,3494.4 838.5,3494.6 841.5,3494.7 844.5,3494.9 847.4,3495.1 850.4,3495.3 853.4,3495.5 856.4,3495.7 859.4,3495.9 862.4,3496.1 865.4,3496.3 868.4,3496.5 871.4,3496.7 874.3,3496.9 877.3,3497.0 880.3,3497.2 883.3,3497.3 886.3,3497.4 889.3,3497.4 892.3,3497.3 895.3,3497.1 898.3,3496.7 901.3,3495.8 904.2,3494.4 907.2,3492.0 910.2,3488.6 913.2,3483.6 916.2,3476.7 919.2,3467.5 922.2,3455.4 925.2,3440.1 928.2,3421.2 931.1,3398.6 934.1,3372.4 937.1,3342.9 940.1,3310.8 943.1,3277.2 946.1,3243.2 949.1,3210.5 952.1,3180.8 955.1,3155.6 958.0,3136.4 961.0,3124.5 964.0,3120.7 967.0,3123.1 970.0,3129.9 973.0,3140.8 976.0,3155.5 979.0,3173.4 982.0,3194.0 984.9,3216.8 987.9,3241.0 990.9,3266.0 993.9,3291.2 996.9,3316.0 999.9,3339.9 1002.9,3362.5 1005.9,3383.6 1008.9,3402.9 1011.8,3420.3 1014.8,3435.8 1017.8,3449.3 1020.8,3460.9 1023.8,3470.8 1026.8,3479.1 1029.8,3486.0 1032.8,3491.6 1035.8,3496.1 1038.7,3499.8 1041.7,3502.6 1044.7,3504.9 1047.7,3506.6 1050.7,3508.0 1053.7,3509.0 1056.7,3509.7 1059.7,3510.2 1062.7,3510.6 1065.6,3510.8 1068.6,3511.0 1071.6,3511.2 1074.6,3511.3 1077.6,3511.3 1080.6,3511.4 1083.6,3511.5 1086.6,3511.5 1089.6,3511.5 1092.5,3511.6 1095.5,3511.6 1098.5,3511.6 1101.5,3511.6 1104.5,3511.7 1107.5,3511.7 1110.5,3511.7 1113.5,3511.8 1116.5,3511.8 1119.4,3511.8 1122.4,3511.8 1125.4,3511.9 1128.4,3511.9 1131.4,3511.9 1134.4,3511.9 1137.4,3512.0 1140.4,3512.0 1143.4,3512.0 1146.3,3512.0 1149.3,3512.1 1152.3,3512.1 1155.3,3512.1 1158.3,3512.1 1161.3,3512.2 1164.3,3512.2 1167.3,3512.2 1170.3,3512.2 1173.2,3512.3 1176.2,3512.2 1179.2,3512.2 1182.2,3512.2 1185.2,3512.2 1188.2,3512.2 1191.2,3512.1 1194.2,3512.1 1197.2,3512.1 1200.2,3512.0 1203.1,3512.0 1206.1,3511.8 1209.1,3511.7 1212.1,3511.4 1215.1,3510.9 1218.1,3510.1 1221.1,3508.9 1224.1,3506.9 1227.1,3503.9 1230.0,3499.4 1233.0,3492.8 1236.0,3483.3 1239.0,3470.1 1242.0,3452.2 1245.0,3428.4 1248.0,3397.8 1251.0,3359.3 1254.0,3312.2 1256.9,3256.4 1259.9,3192.2 1262.9,3120.6 1265.9,3043.5 1268.9,2963.4 1271.9,2883.8 1274.9,2808.5 1277.9,2741.4 1280.9,2686.5 1283.8,2647.0 1286.8,2625.6 1289.8,2622.8 1292.8,2632.8 1295.8,2653.4 1298.8,2684.0 1301.8,2723.5 1304.8,2770.5 1307.8,2823.4 1310.7,2880.4 1313.7,2939.9 1316.7,3000.2 1319.7,3059.9 1322.7,3117.5 1325.7,3172.0 1328.7,3222.6 1331.7,3268.6 1334.7,3309.8 1337.6,3346.0 1340.6,3377.3 1343.6,3403.9 1346.6,3426.2 1349.6,3444.6 1352.6,3459.6 1355.6,3471.5 1358.6,3480.9 1361.6,3488.3 1364.5,3493.8 1367.5,3498.0 1370.5,3501.2 1373.5,3503.4 1376.5,3505.1 1379.5,3506.2 1382.5,3507.0 1385.5,3507.6 1388.5,3507.9 1391.4,3508.1 1394.4,3508.3 1397.4,3508.3 1400.4,3508.4 1403.4,3508.4 1406.4,3508.4 1409.4,3508.3 1412.4,3508.3 1415.4,3508.2 1418.3,3508.2 1421.3,3508.1 1424.3,3508.1 1427.3,3508.0 1430.3,3508.0 1433.3,3507.9 1436.3,3507.9 1439.3,3507.8 1442.3,3507.8 1445.2,3507.7 1448.2,3507.7 1451.2,3507.6 1454.2,3507.5 1457.2,3507.5 1460.2,3507.3 1463.2,3506.8 1466.2,3506.1 1469.2,3504.7 1472.1,3502.6 1475.1,3499.4 1478.1,3495.0 1481.1,3489.1 1484.1,3482.0 1487.1,3473.6 1490.1,3464.3 1493.1,3454.5 1496.1,3444.6 1499.1,3435.0 1502.0,3426.0 1505.0,3418.0 1508.0,3411.1 1511.0,3405.3 1514.0,3400.7 1517.0,3397.1 1520.0,3394.5 1523.0,3392.6 1526.0,3391.4 1528.9,3390.7 1531.9,3390.3 1534.9,3390.1 1537.9,3390.0 1540.9,3390.0 1543.9,3390.0 1546.9,3390.0 1549.9,3390.0 1552.9,3390.1 1555.8,3390.3 1558.8,3390.8 1561.8,3391.8 1564.8,3393.3 1567.8,3395.6 1570.8,3398.9 1573.8,3403.2 1576.8,3408.9 1579.8,3415.8 1582.7,3424.0 1585.7,3433.3 1588.7,3443.4 1591.7,3453.9 1594.7,3464.3 1597.7,3474.1 1600.7,3482.9 1603.7,3490.3 1606.7,3496.1 1609.6,3500.5 1612.6,3503.5 1615.6,3505.4 1618.6,3506.5 1621.6,3507.1 1624.6,3507.3 1627.6,3507.4 1630.6,3507.4 1633.6,3507.4 1636.5,3507.3 1639.5,3507.1 1642.5,3506.8 1645.5,3506.4 1648.5,3505.9 1651.5,3505.2 1654.5,3504.1 1657.5,3502.7 1660.5,3500.8 1663.4,3498.4 1666.4,3495.2 1669.4,3491.1 1672.4,3485.9 1675.4,3479.6 1678.4,3471.9 1681.4,3462.8 1684.4,3452.1 1687.4,3439.7 1690.3,3425.8 1693.3,3410.3 1696.3,3393.5 1699.3,3375.6 1702.3,3357.1 1705.3,3338.3 1708.3,3319.7 1711.3,3302.0 1714.3,3285.7 1717.2,3271.5 1720.2,3259.7 1723.2,3251.0 1726.2,3245.6 1729.2,3243.8 1732.2,3245.2 1735.2,3249.7 1738.2,3256.9 1741.2,3266.8 1744.1,3278.8 1747.1,3292.7 1750.1,3308.1 1753.1,3324.5 1756.1,3341.4 1759.1,3358.5 1762.1,3375.3 1765.1,3391.5 1768.1,3406.9 1771.0,3421.2 1774.0,3434.3 1777.0,3446.1 1780.0,3456.6 1783.0,3465.7 1786.0,3473.6 1789.0,3480.2 1792.0,3485.8 1795.0,3490.4 1798.0,3494.1 1800.9,3497.1 1803.9,3499.4 1806.9,3501.3 1809.9,3502.7 1812.9,3503.7 1815.9,3504.6 1818.9,3505.1 1821.9,3505.6 1824.9,3505.9 1827.8,3506.1 1830.8,3506.2 1833.8,3506.3 1836.8,3506.4 1839.8,3506.4 1842.8,3506.4 1845.8,3506.4 1848.8,3506.4 1851.8,3506.4 1854.7,3506.3 1857.7,3506.3 1860.7,3506.2 1863.7,3506.1 1866.7,3506.0 1869.7,3505.9 1872.7,3505.7 1875.7,3505.4 1878.7,3505.0 1881.6,3504.6 1884.6,3504.1 1887.6,3503.5 1890.6,3502.9 1893.6,3502.1 1896.6,3501.4 1899.6,3500.6 1902.6,3499.9 1905.6,3499.2 1908.5,3498.6 1911.5,3498.2 1914.5,3497.9 1917.5,3497.9 1920.5,3498.0 1923.5,3498.2 1926.5,3498.7 1929.5,3499.3 1932.5,3500.0 1935.4,3500.7 1938.4,3501.5 1941.4,3502.3 1944.4,3503.0 1947.4,3503.7 1950.4,3504.3 1953.4,3504.9 1956.4,3505.3 1959.4,3505.7 1962.3,3506.0 1965.3,3506.2 1968.3,3506.4 1971.3,3506.5 1974.3,3506.6 1977.3,3506.7 1980.3,3506.7 1983.3,3506.7 1986.3,3506.7 1989.2,3506.7 1992.2,3506.7 1995.2,3506.7 1998.2,3506.7 2001.2,3506.7 2004.2,3506.7 2007.2,3506.7 2010.2,3506.6 2013.2,3506.6 2016.1,3506.6 2019.1,3506.6 2022.1,3506.6 2025.1,3506.6 2028.1,3506.6 2031.1,3506.5 2034.1,3506.5 2037.1,3506.5 2040.1,3506.5 2043.0,3506.5 2046.0,3506.5 2049.0,3506.4 2052.0,3506.4 2055.0,3506.4 2058.0,3506.3 2061.0,3506.3 2064.0,3506.3 2067.0,3506.2 2069.9,3506.2 2072.9,3506.0 2075.9,3505.7 2078.9,3505.5 2081.9,3505.2 2084.9,3505.0 2087.9,3504.7 2090.9,3504.4 2093.9,3504.1 2096.9,3503.7 2099.8,3503.3 2102.8,3502.9 2105.8,3502.4 2108.8,3501.9 2111.8,3501.4 2114.8,3500.8 2117.8,3500.1 2120.8,3499.4 2123.8,3498.7 2126.7,3497.9 2129.7,3497.0 2132.7,3496.3 2135.7,3495.4 2138.7,3494.6 2141.7,3493.6 2144.7,3492.6 2147.7,3491.6 2150.7,3490.5 2153.6,3489.4 2156.6,3488.3 2159.6,3487.2 2162.6,3486.0 2165.6,3484.9 2168.6,3483.7 2171.6,3482.7 2174.6,3481.6 2177.6,3480.6 2180.5,3479.6 2183.5,3478.8 2186.5,3478.0 2189.5,3477.3 2192.5,3476.8 2195.5,3476.3 2198.5,3476.0 2201.5,3475.8 2204.5,3475.8 2207.4,3475.9 2210.4,3476.4 2213.4,3477.1 2216.4,3478.2 2219.4,3479.4 2222.4,3480.9 2225.4,3482.5 2228.4,3484.2 2231.4,3485.9 2234.3,3487.7 2237.3,3489.4 2240.3,3491.1 2243.3,3492.7 2246.3,3494.3 2249.3,3495.8 2252.3,3497.1 2255.3,3498.2 2258.3,3499.3 2261.2,3500.2 2264.2,3501.0 2267.2,3501.6 2270.2,3502.2 2273.2,3502.7 2276.2,3503.1 2279.2,3503.4"/>
<polyline stroke="#2EB700" points="366.2,3506.2 369.2,3506.0 372.2,3505.8 375.2,3505.6 378.2,3505.5 381.2,3505.3 384.2,3505.1 387.1,3504.9 390.1,3504.8 393.1,3503.9 396.1,3503.0 399.1,3502.1 402.1,3501.3 405.1,3500.4 408.1,3499.5 411.1,3498.7 414.0,3497.8 417.0,3496.9 420.0,3496.0 423.0,3495.3 426.0,3494.5 429.0,3493.8 432.0,3493.0 435.0,3492.2 438.0,3491.5 440.9,3490.7 443.9,3490.0 446.9,3489.7 449.9,3489.5 452.9,3489.3 455.9,3489.1 458.9,3488.9 461.9,3488.6 464.9,3488.4 467.8,3488.2 470.8,3488.0 473.8,3487.8 476.8,3487.6 479.8,3487.3 482.8,3487.1 485.8,3486.9 488.8,3486.8 491.8,3486.7 494.7,3486.7 497.7,3486.6 500.7,3486.5 503.7,3486.4 506.7,3486.3 509.7,3486.3 512.7,3486.2 515.7,3486.1 518.7,3486.0 521.6,3485.9 524.6,3485.9 527.6,3485.8 530.6,3485.7 533.6,3485.6 536.6,3485.5 539.6,3485.4 542.6,3485.4 545.6,3485.3 548.5,3485.2 551.5,3485.2 554.5,3485.1 557.5,3485.1 560.5,3485.0 563.5,3485.0 566.5,3485.0 569.5,3484.9 572.5,3484.9 575.5,3484.8 578.4,3484.8 581.4,3484.7 584.4,3484.7 587.4,3484.6 590.4,3484.6 593.4,3484.5 596.4,3484.5 599.4,3484.4 602.4,3484.4 605.3,3484.3 608.3,3484.3 611.3,3484.2 614.3,3484.2 617.3,3484.1 620.3,3484.1 623.3,3484.1 626.3,3484.0 629.3,3484.0 632.2,3483.9 635.2,3483.9 638.2,3483.9 641.2,3484.0 644.2,3484.0 647.2,3484.1 650.2,3484.1 653.2,3484.2 656.2,3484.2 659.1,3484.3 662.1,3484.3 665.1,3484.4 668.1,3484.4 671.1,3484.5 674.1,3484.5 677.1,3484.6 680.1,3484.6 683.1,3484.7 686.0,3484.7 689.0,3484.8 692.0,3484.8 695.0,3484.9 698.0,3485.1 701.0,3485.3 704.0,3485.5 707.0,3485.7 710.0,3485.9 712.9,3486.1 715.9,3486.3 718.9,3486.5 721.9,3486.7 724.9,3486.9 727.9,3487.1 730.9,3487.3 733.9,3487.5 736.9,3487.7 739.8,3487.9 742.8,3488.1 745.8,3488.3 748.8,3488.5 751.8,3488.7 754.8,3488.9 757.8,3489.1 760.8,3489.3 763.8,3489.5 766.7,3489.7 769.7,3489.8 772.7,3490.0 775.7,3490.2 778.7,3490.4 781.7,3490.6 784.7,3490.8 787.7,3490.9 790.7,3491.1 793.6,3491.3 796.6,3491.5 799.6,3491.7 802.6,3491.9 805.6,3492.0 808.6,3492.2 811.6,3492.4 814.6,3492.6 817.6,3492.8 820.5,3493.0 823.5,3493.2 826.5,3493.4 829.5,3493.6 832.5,3493.8 835.5,3494.1 838.5,3494.3 841.5,3494.5 844.5,3494.7 847.4,3494.9 850.4,3495.1 853.4,3495.3 856.4,3495.5 859.4,3495.7 862.4,3496.0 865.4,3496.2 868.4,3496.4 871.4,3496.6 874.3,3496.8 877.3,3497.0 880.3,3497.1 883.3,3497.3 886.3,3497.4 889.3,3497.4 892.3,3497.3 895.3,3497.2 898.3,3496.8 901.3,3496.0 904.2,3494.6 907.2,3492.4 910.2,3489.1 913.2,3484.3 916.2,3477.8 919.2,3468.9 922.2,3457.4 925.2,3442.7 928.2,3424.7 931.1,3403.1 934.1,3378.0 937.1,3349.8 940.1,3319.1 943.1,3287.0 946.1,3254.5 949.1,3223.2 952.1,3194.7 955.1,3170.6 958.0,3152.3 961.0,3141.0 964.0,3137.3 967.0,3139.7 970.0,3146.2 973.0,3156.6 976.0,3170.6 979.0,3187.8 982.0,3207.5 984.9,3229.3 987.9,3252.5 990.9,3276.4 993.9,3300.6 996.9,3324.3 999.9,3347.2 1002.9,3368.8 1005.9,3389.0 1008.9,3407.5 1011.8,3424.2 1014.8,3439.0 1017.8,3451.9 1020.8,3463.0 1023.8,3472.5 1026.8,3480.4 1029.8,3487.0 1032.8,3492.4 1035.8,3496.7 1038.7,3500.2 1041.7,3503.0 1044.7,3505.1 1047.7,3506.8 1050.7,3508.1 1053.7,3509.1 1056.7,3509.8 1059.7,3510.3 1062.7,3510.6 1065.6,3510.9 1068.6,3511.0 1071.6,3511.2 1074.6,3511.3 1077.6,3511.4 1080.6,3511.4 1083.6,3511.5 1086.6,3511.5 1089.6,3511.5 1092.5,3511.6 1095.5,3511.6 1098.5,3511.6 1101.5,3511.6 1104.5,3511.7 1107.5,3511.7 1110.5,3511.7 1113.5,3511.8 1116.5,3511.8 1119.4,3511.8 1122.4,3511.8 1125.4,3511.9 1128.4,3511.9 1131.4,3511.9 1134.4,3511.9 1137.4,3512.0 1140.4,3512.0 1143.4,3512.0 1146.3,3512.0 1149.3,3512.1 1152.3,3512.1 1155.3,3512.1 1158.3,3512.1 1161.3,3512.2 1164.3,3512.2 1167.3,3512.2 1170.3,3512.2 1173.2,3512.3 1176.2,3512.2 1179.2,3512.2 1182.2,3512.2 1185.2,3512.2 1188.2,3512.2 1191.2,3512.1 1194.2,3512.1 1197.2,3512.1 1200.2,3512.0 1203.1,3512.0 1206.1,3511.9 1209.1,3511.7 1212.1,3511.4 1215.1,3510.9 1218.1,3510.2 1221.1,3509.0 1224.1,3507.1 1227.1,3504.3 1230.0,3499.9 1233.0,3493.6 1236.0,3484.6 1239.0,3472.0 1242.0,3454.8 1245.0,3432.1 1248.0,3402.7 1251.0,3365.9 1254.0,3320.9 1256.9,3267.5 1259.9,3206.1 1262.9,3137.6 1265.9,3063.8 1268.9,2987.2 1271.9,2911.0 1274.9,2839.0 1277.9,2774.8 1280.9,2722.2 1283.8,2684.5 1286.8,2663.9 1289.8,2661.3 1292.8,2670.8 1295.8,2690.6 1298.8,2719.9 1301.8,2757.7 1304.8,2802.6 1307.8,2853.1 1310.7,2907.7 1313.7,2964.6 1316.7,3022.4 1319.7,3079.4 1322.7,3134.5 1325.7,3186.7 1328.7,3235.0 1331.7,3279.1 1334.7,3318.5 1337.6,3353.1 1340.6,3383.0 1343.6,3408.5 1346.6,3429.8 1349.6,3447.4 1352.6,3461.7 1355.6,3473.2 1358.6,3482.2 1361.6,3489.2 1364.5,3494.5 1367.5,3498.5 1370.5,3501.5 1373.5,3503.7 1376.5,3505.2 1379.5,3506.3 1382.5,3507.1 1385.5,3507.6 1388.5,3507.9 1391.4,3508.2 1394.4,3508.3 1397.4,3508.4 1400.4,3508.4 1403.4,3508.4 1406.4,3508.4 1409.4,3508.3 1412.4,3508.3 1415.4,3508.2 1418.3,3508.2 1421.3,3508.1 1424.3,3508.1 1427.3,3508.0 1430.3,3508.0 1433.3,3507.9 1436.3,3507.9 1439.3,3507.8 1442.3,3507.8 1445.2,3507.7 1448.2,3507.7 1451.2,3507.6 1454.2,3507.5 1457.2,3507.5 1460.2,3507.3 1463.2,3506.9 1466.2,3506.1 1469.2,3504.8 1472.1,3502.7 1475.1,3499.6 1478.1,3495.3 1481.1,3489.6 1484.1,3482.6 1487.1,3474.5 1490.1,3465.4 1493.1,3455.9 1496.1,3446.2 1499.1,3436.9 1502.0,3428.1 1505.0,3420.3 1508.0,3413.5 1511.0,3407.9 1514.0,3403.4 1517.0,3400.0 1520.0,3397.4 1523.0,3395.6 1526.0,3394.4 1528.9,3393.7 1531.9,3393.3 1534.9,3393.1 1537.9,3393.0 1540.9,3393.0 1543.9,3393.0 1546.9,3393.0 1549.9,3393.0 1552.9,3393.1 1555.8,3393.4 1558.8,3393.9 1561.8,3394.8 1564.8,3396.3 1567.8,3398.5 1570.8,3401.7 1573.8,3405.9 1576.8,3411.4 1579.8,3418.2 1582.7,3426.2 1585.7,3435.3 1588.7,3445.1 1591.7,3455.3 1594.7,3465.4 1597.7,3475.0 1600.7,3483.5 1603.7,3490.7 1606.7,3496.4 1609.6,3500.7 1612.6,3503.6 1615.6,3505.4 1618.6,3506.5 1621.6,3507.1 1624.6,3507.3 1627.6,3507.4 1630.6,3507.4 1633.6,3507.4 1636.5,3507.3 1639.5,3507.1 1642.5,3506.9 1645.5,3506.6 1648.5,3506.1 1651.5,3505.4 1654.5,3504.5 1657.5,3503.2 1660.5,3501.5 1663.4,3499.3 1666.4,3496.4 1669.4,3492.7 1672.4,3488.1 1675.4,3482.4 1678.4,3475.5 1681.4,3467.3 1684.4,3457.6 1687.4,3446.5 1690.3,3434.0 1693.3,3420.1 1696.3,3405.0 1699.3,3388.9 1702.3,3372.2 1705.3,3355.3 1708.3,3338.6 1711.3,3322.7 1714.3,3308.1 1717.2,3295.3 1720.2,3284.7 1723.2,3276.8 1726.2,3272.0 1729.2,3270.3 1732.2,3271.7 1735.2,3275.6 1738.2,3282.2 1741.2,3291.0 1744.1,3301.8 1747.1,3314.4 1750.1,3328.2 1753.1,3342.9 1756.1,3358.1 1759.1,3373.4 1762.1,3388.6 1765.1,3403.2 1768.1,3417.0 1771.0,3429.9 1774.0,3441.7 1777.0,3452.3 1780.0,3461.7 1783.0,3469.9 1786.0,3476.9 1789.0,3482.9 1792.0,3487.9 1795.0,3492.0 1798.0,3495.4 1800.9,3498.0 1803.9,3500.2 1806.9,3501.8 1809.9,3503.1 1812.9,3504.0 1815.9,3504.8 1818.9,3505.3 1821.9,3505.7 1824.9,3505.9 1827.8,3506.1 1830.8,3506.3 1833.8,3506.3 1836.8,3506.4 1839.8,3506.4 1842.8,3506.4 1845.8,3506.4 1848.8,3506.4 1851.8,3506.4 1854.7,3506.3 1857.7,3506.3 1860.7,3506.2 1863.7,3506.1 1866.7,3506.0 1869.7,3505.9 1872.7,3505.7 1875.7,3505.4 1878.7,3505.1 1881.6,3504.7 1884.6,3504.2 1887.6,3503.7 1890.6,3503.0 1893.6,3502.3 1896.6,3501.6 1899.6,3500.9 1902.6,3500.2 1905.6,3499.5 1908.5,3499.0 1911.5,3498.6 1914.5,3498.3 1917.5,3498.3 1920.5,3498.4 1923.5,3498.6 1926.5,3499.1 1929.5,3499.6 1932.5,3500.3 1935.4,3501.0 1938.4,3501.8 1941.4,3502.5 1944.4,3503.2 1947.4,3503.9 1950.4,3504.4 1953.4,3504.9 1956.4,3505.4 1959.4,3505.7 1962.3,3506.0 1965.3,3506.2 1968.3,3506.4 1971.3,3506.5 1974.3,3506.6 1977.3,3506.7 1980.3,3506.7 1983.3,3506.7 1986.3,3506.7 1989.2,3506.7 1992.2,3506.7 1995.2,3506.7 1998.2,3506.7 2001.2,3506.7 2004.2,3506.7 2007.2,3506.7 2010.2,3506.6 2013.2,3506.6 2016.1,3506.6 2019.1,3506.6 2022.1,3506.6 2025.1,3506.6 2028.1,3506.6 2031.1,3506.5 2034.1,3506.5 2037.1,3506.5 2040.1,3506.5 2043.0,3506.5 2046.0,3506.5 2049.0,3506.4 2052.0,3506.4 2055.0,3506.4 2058.0,3506.4 2061.0,3506.3 2064.0,3506.3 2067.0,3506.2 2069.9,3506.2 2072.9,3506.0 2075.9,3505.8 2078.9,3505.5 2081.9,3505.3 2084.9,3505.0 2087.9,3504.7 2090.9,3504.4 2093.9,3504.1 2096.9,3503.8 2099.8,3503.4 2102.8,3503.0 2105.8,3502.6 2108.8,3502.1 2111.8,3501.6 2114.8,3501.0 2117.8,3500.4 2120.8,3499.8 2123.8,3499.0 2126.7,3498.3 2129.7,3497.5 2132.7,3496.8 2135.7,3496.0 2138.7,3495.2 2141.7,3494.3 2144.7,3493.4 2147.7,3492.5 2150.7,3491.5 2153.6,3490.5 2156.6,3489.4 2159.6,3488.4 2162.6,3487.3 2165.6,3486.2 2168.6,3485.2 2171.6,3484.2 2174.6,3483.2 2177.6,3482.3 2180.5,3481.4 2183.5,3480.6 2186.5,3479.9 2189.5,3479.3 2192.5,3478.7 2195.5,3478.3 2198.5,3478.0 2201.5,3477.8 2204.5,3477.8 2207.4,3477.9 2210.4,3478.4 2213.4,3479.1 2216.4,3480.0 2219.4,3481.2 2222.4,3482.5 2225.4,3484.0 2228.4,3485.6 2231.4,3487.2 2234.3,3488.8 2237.3,3490.5 2240.3,3492.0 2243.3,3493.5 2246.3,3495.0 2249.3,3496.3 2252.3,3497.5 2255.3,3498.6 2258.3,3499.6 2261.2,3500.4 2264.2,3501.2 2267.2,3501.8 2270.2,3502.3 2273.2,3502.8 2276.2,3503.1 2279.2,3503.4"/>
<polyline stroke="#4F4F4F" points="366.2,3506.2 369.2,3506.0 372.2,3505.8 375.2,3505.6 378.2,3505.5 381.2,3505.3 384.2,3505.1 387.1,3504.9 390.1,3504.8 393.1,3503.8 396.1,3502.8 399.1,3501.9 402.1,3500.9 405.1,3500.0 408.1,3499.0 411.1,3498.1 414.0,3497.1 417.0,3496.2 420.0,3495.2 423.0,3494.4 426.0,3493.6 429.0,3492.8 432.0,3492.0 435.0,3491.2 438.0,3490.4 440.9,3489.6 443.9,3488.8 446.9,3488.6 449.9,3488.4 452.9,3488.1 455.9,3487.9 458.9,3487.7 461.9,3487.4 464.9,3487.2 467.8,3487.0 470.8,3486.8 473.8,3486.5 476.8,3486.3 479.8,3486.1 482.8,3485.8 485.8,3485.6 488.8,3485.5 491.8,3485.4 494.7,3485.3 497.7,3485.2 500.7,3485.1 503.7,3485.0 506.7,3484.9 509.7,3484.8 512.7,3484.7 515.7,3484.6 518.7,3484.5 521.6,3484.4 524.6,3484.3 527.6,3484.2 530.6,3484.1 533.6,3484.1 536.6,3484.0 539.6,3483.9 542.6,3483.8 545.6,3483.7 548.5,3483.6 551.5,3483.6 554.5,3483.5 557.5,3483.5 560.5,3483.4 563.5,3483.4 566.5,3483.3 569.5,3483.3 572.5,3483.2 575.5,3483.2 578.4,3483.1 581.4,3483.1 584.4,3483.0 587.4,3483.0 590.4,3483.0 593.4,3482.9 596.4,3482.9 599.4,3482.8 602.4,3482.8 605.3,3482.7 608.3,3482.7 611.3,3482.6 614.3,3482.6 617.3,3482.5 620.3,3482.5 623.3,3482.4 626.3,3482.4 629.3,3482.3 632.2,3482.3 635.2,3482.2 638.2,3482.3 641.2,3482.3 644.2,3482.4 647.2,3482.4 650.2,3482.5 653.2,3482.5 656.2,3482.6 659.1,3482.6 662.1,3482.7 665.1,3482.8 668.1,3482.8 671.1,3482.9 674.1,3482.9 677.1,3483.0 680.1,3483.0 683.1,3483.1 686.0,3483.1 689.0,3483.2 692.0,3483.2 695.0,3483.3 698.0,3483.5 701.0,3483.7 704.0,3483.9 707.0,3484.1 710.0,3484.4 712.9,3484.6 715.9,3484.8 718.9,3485.0 721.9,3485.2 724.9,3485.4 727.9,3485.7 730.9,3485.9 733.9,3486.1 736.9,3486.3 739.8,3486.5 742.8,3486.8 745.8,3487.0 748.8,3487.2 751.8,3487.4 754.8,3487.6 757.8,3487.8 760.8,3488.1 763.8,3488.3 766.7,3488.5 769.7,3488.7 772.7,3488.9 775.7,3489.1 778.7,3489.3 781.7,3489.5 784.7,3489.7 787.7,3489.9 790.7,3490.1 793.6,3490.3 796.6,3490.5 799.6,3490.7 802.6,3490.9 805.6,3491.2 808.6,3491.4 811.6,3491.6 814.6,3491.8 817.6,3492.0 820.5,3492.3 823.5,3492.5 826.5,3492.7 829.5,3493.0 832.5,3493.2 835.5,3493.5 838.5,3493.7 841.5,3494.0 844.5,3494.2 847.4,3494.4 850.4,3494.7 853.4,3494.9 856.4,3495.2 859.4,3495.4 862.4,3495.6 865.4,3495.9 868.4,3496.1 871.4,3496.4 874.3,3496.6 877.3,3496.8 880.3,3497.0 883.3,3497.2 886.3,3497.4 889.3,3497.4 892.3,3497.4 895.3,3497.3 898.3,3496.9 901.3,3496.2 904.2,3495.0 907.2,3493.0 910.2,3490.0 913.2,3485.6 916.2,3479.6 919.2,3471.5 922.2,3461.0 925.2,3447.6 928.2,3431.0 931.1,3411.2 934.1,3388.2 937.1,3362.3 940.1,3334.2 943.1,3304.6 946.1,3274.8 949.1,3246.1 952.1,3220.0 955.1,3197.9 958.0,3181.1 961.0,3170.7 964.0,3167.3 967.0,3169.5 970.0,3175.5 973.0,3185.1 976.0,3198.0 979.0,3213.8 982.0,3232.0 984.9,3252.0 987.9,3273.3 990.9,3295.3 993.9,3317.5 996.9,3339.3 999.9,3360.3 1002.9,3380.2 1005.9,3398.8 1008.9,3415.8 1011.8,3431.1 1014.8,3444.7 1017.8,3456.6 1020.8,3466.8 1023.8,3475.5 1026.8,3482.8 1029.8,3488.9 1032.8,3493.8 1035.8,3497.9 1038.7,3501.1 1041.7,3503.6 1044.7,3505.6 1047.7,3507.1 1050.7,3508.4 1053.7,3509.3 1056.7,3509.9 1059.7,3510.3 1062.7,3510.7 1065.6,3510.9 1068.6,3511.1 1071.6,3511.2 1074.6,3511.3 1077.6,3511.4 1080.6,3511.4 1083.6,3511.5 1086.6,3511.5 1089.6,3511.5 1092.5,3511.6 1095.5,3511.6 1098.5,3511.6 1101.5,3511.6 1104.5,3511.7 1107.5,3511.7 1110.5,3511.7 1113.5,3511.8 1116.5,3511.8 1119.4,3511.8 1122.4,3511.8 1125.4,3511.9 1128.4,3511.9 1131.4,3511.9 1134.4,3511.9 1137.4,3512.0 1140.4,3512.0 1143.4,3512.0 1146.3,3512.0 1149.3,3512.1 1152.3,3512.1 1155.3,3512.1 1158.3,3512.1 1161.3,3512.2 1164.3,3512.2 1167.3,3512.2 1170.3,3512.2 1173.2,3512.3 1176.2,3512.2 1179.2,3512.2 1182.2,3512.2 1185.2,3512.2 1188.2,3512.2 1191.2,3512.1 1194.2,3512.1 1197.2,3512.1 1200.2,3512.0 1203.1,3512.0 1206.1,3511.9 1209.1,3511.7 1212.1,3511.5 1215.1,3511.0 1218.1,3510.4 1221.1,3509.3 1224.1,3507.6 1227.1,3504.9 1230.0,3501.0 1233.0,3495.2 1236.0,3486.9 1239.0,3475.4 1242.0,3459.8 1245.0,3439.0 1248.0,3412.2 1251.0,3378.6 1254.0,3337.5 1256.9,3288.7 1259.9,3232.7 1262.9,3170.1 1265.9,3102.7 1268.9,3032.8 1271.9,2963.3 1274.9,2897.5 1277.9,2838.9 1280.9,2790.9 1283.8,2756.4 1286.8,2737.7 1289.8,2735.3 1292.8,2743.9 1295.8,2762.0 1298.8,2788.7 1301.8,2823.2 1304.8,2864.2 1307.8,2910.4 1310.7,2960.2 1313.7,3012.1 1316.7,3064.8 1319.7,3116.9 1322.7,3167.2 1325.7,3214.8 1328.7,3259.0 1331.7,3299.2 1334.7,3335.1 1337.6,3366.7 1340.6,3394.1 1343.6,3417.3 1346.6,3436.8 1349.6,3452.9 1352.6,3465.9 1355.6,3476.3 1358.6,3484.5 1361.6,3490.9 1364.5,3495.8 1367.5,3499.5 1370.5,3502.2 1373.5,3504.1 1376.5,3505.6 1379.5,3506.6 1382.5,3507.2 1385.5,3507.7 1388.5,3508.0 1391.4,3508.2 1394.4,3508.3 1397.4,3508.4 1400.4,3508.4 1403.4,3508.4 1406.4,3508.4 1409.4,3508.3 1412.4,3508.3 1415.4,3508.2 1418.3,3508.2 1421.3,3508.1 1424.3,3508.1 1427.3,3508.0 1430.3,3508.0 1433.3,3507.9 1436.3,3507.9 1439.3,3507.8 1442.3,3507.8 1445.2,3507.7 1448.2,3507.7 1451.2,3507.6 1454.2,3507.5 1457.2,3507.5 1460.2,3507.3 1463.2,3506.9 1466.2,3506.2 1469.2,3505.0 1472.1,3503.1 1475.1,3500.2 1478.1,3496.2 1481.1,3490.9 1484.1,3484.4 1487.1,3476.8 1490.1,3468.4 1493.1,3459.5 1496.1,3450.6 1499.1,3441.9 1502.0,3433.8 1505.0,3426.5 1508.0,3420.2 1511.0,3415.0 1514.0,3410.8 1517.0,3407.6 1520.0,3405.2 1523.0,3403.5 1526.0,3402.4 1528.9,3401.8 1531.9,3401.4 1534.9,3401.2 1537.9,3401.1 1540.9,3401.1 1543.9,3401.1 1546.9,3401.1 1549.9,3401.1 1552.9,3401.2 1555.8,3401.4 1558.8,3401.9 1561.8,3402.8 1564.8,3404.1 1567.8,3406.2 1570.8,3409.2 1573.8,3413.1 1576.8,3418.2 1579.8,3424.5 1582.7,3432.0 1585.7,3440.4 1588.7,3449.5 1591.7,3459.0 1594.7,3468.4 1597.7,3477.3 1600.7,3485.2 1603.7,3491.9 1606.7,3497.2 1609.6,3501.1 1612.6,3503.9 1615.6,3505.6 1618.6,3506.6 1621.6,3507.1 1624.6,3507.4 1627.6,3507.5 1630.6,3507.5 1633.6,3507.4 1636.5,3507.3 1639.5,3507.2 1642.5,3507.0 1645.5,3506.7 1648.5,3506.3 1651.5,3505.7 1654.5,3504.9 1657.5,3503.8 1660.5,3502.3 1663.4,3500.3 1666.4,3497.8 1669.4,3494.6 1672.4,3490.5 1675.4,3485.6 1678.4,3479.5 1681.4,3472.3 1684.4,3463.9 1687.4,3454.2 1690.3,3443.2 1693.3,3431.0 1696.3,3417.8 1699.3,3403.7 1702.3,3389.1 1705.3,3374.3 1708.3,3359.7 1711.3,3345.8 1714.3,3333.0 1717.2,3321.8 1720.2,3312.5 1723.2,3305.6 1726.2,3301.4 1729.2,3299.9 1732.2,3301.1 1735.2,3304.6 1738.2,3310.3 1741.2,3318.0 1744.1,3327.5 1747.1,3338.4 1750.1,3350.5 1753.1,3363.4 1756.1,3376.7 1759.1,3390.1 1762.1,3403.4 1765.1,3416.1 1768.1,3428.3 1771.0,3439.5 1774.0,3449.8 1777.0,3459.1 1780.0,3467.3 1783.0,3474.5 1786.0,3480.7 1789.0,3485.9 1792.0,3490.3 1795.0,3493.9 1798.0,3496.8 1800.9,3499.1 1803.9,3501.0 1806.9,3502.4 1809.9,3503.5 1812.9,3504.4 1815.9,3505.0 1818.9,3505.5 1821.9,3505.8 1824.9,3506.0 1827.8,3506.2 1830.8,3506.3 1833.8,3506.4 1836.8,3506.4 1839.8,3506.4 1842.8,3506.4 1845.8,3506.4 1848.8,3506.4 1851.8,3506.4 1854.7,3506.3 1857.7,3506.3 1860.7,3506.2 1863.7,3506.2 1866.7,3506.1 1869.7,3505.9 1872.7,3505.8 1875.7,3505.5 1878.7,3505.2 1881.6,3504.9 1884.6,3504.4 1887.6,3503.9 1890.6,3503.4 1893.6,3502.7 1896.6,3502.1 1899.6,3501.4 1902.6,3500.8 1905.6,3500.2 1908.5,3499.7 1911.5,3499.4 1914.5,3499.1 1917.5,3499.1 1920.5,3499.2 1923.5,3499.4 1926.5,3499.8 1929.5,3500.3 1932.5,3500.9 1935.4,3501.6 1938.4,3502.2 1941.4,3502.9 1944.4,3503.5 1947.4,3504.1 1950.4,3504.7 1953.4,3505.1 1956.4,3505.5 1959.4,3505.8 1962.3,3506.1 1965.3,3506.3 1968.3,3506.4 1971.3,3506.5 1974.3,3506.6 1977.3,3506.7 1980.3,3506.7 1983.3,3506.7 1986.3,3506.7 1989.2,3506.7 1992.2,3506.7 1995.2,3506.7 1998.2,3506.7 2001.2,3506.7 2004.2,3506.7 2007.2,3506.7 2010.2,3506.6 2013.2,3506.6 2016.1,3506.6 2019.1,3506.6 2022.1,3506.6 2025.1,3506.6 2028.1,3506.6 2031.1,3506.5 2034.1,3506.5 2037.1,3506.5 2040.1,3506.5 2043.0,3506.5 2046.0,3506.5 2049.0,3506.4 2052.0,3506.4 2055.0,3506.4 2058.0,3506.4 2061.0,3506.3 2064.0,3506.3 2067.0,3506.3 2069.9,3506.2 2072.9,3506.0 2075.9,3505.8 2078.9,3505.6 2081.9,3505.3 2084.9,3505.1 2087.9,3504.8 2090.9,3504.5 2093.9,3504.2 2096.9,3503.9 2099.8,3503.6 2102.8,3503.2 2105.8,3502.8 2108.8,3502.4 2111.8,3501.9 2114.8,3501.4 2117.8,3500.8 2120.8,3500.2 2123.8,3499.6 2126.7,3498.9 2129.7,3498.1 2132.7,3497.5 2135.7,3496.9 2138.7,3496.1 2141.7,3495.4 2144.7,3494.6 2147.7,3493.7 2150.7,3492.9 2153.6,3492.0 2156.6,3491.1 2159.6,3490.1 2162.6,3489.2 2165.6,3488.3 2168.6,3487.3 2171.6,3486.4 2174.6,3485.6 2177.6,3484.8 2180.5,3484.0 2183.5,3483.3 2186.5,3482.7 2189.5,3482.1 2192.5,3481.7 2195.5,3481.3 2198.5,3481.0 2201.5,3480.9 2204.5,3480.8 2207.4,3481.0 2210.4,3481.3 2213.4,3481.9 2216.4,3482.8 2219.4,3483.8 2222.4,3485.0 2225.4,3486.3 2228.4,3487.7 2231.4,3489.1 2234.3,3490.6 2237.3,3492.0 2240.3,3493.4 2243.3,3494.7 2246.3,3496.0 2249.3,3497.2 2252.3,3498.2 2255.3,3499.2 2258.3,3500.1 2261.2,3500.8 2264.2,3501.5 2267.2,3502.0 2270.2,3502.5 2273.2,3502.9 2276.2,3503.2 2279.2,3503.5"/>
<polyline stroke="#FF4040" points="366.2,3506.2 369.2,3506.0 372.2,3505.8 375.2,3505.6 378.2,3505.5 381.2,3505.3 384.2,3505.1 387.1,3504.9 390.1,3504.8 393.1,3503.6 396.1,3502.4 399.1,3501.2 402.1,3500.0 405.1,3498.9 408.1,3497.7 411.1,3496.5 414.0,3495.3 417.0,3494.2 420.0,3493.0 423.0,3492.1 426.0,3491.2 429.0,3490.3 432.0,3489.3 435.0,3488.4 438.0,3487.5 440.9,3486.6 443.9,3485.7 446.9,3485.4 449.9,3485.2 452.9,3484.9 455.9,3484.6 458.9,3484.4 461.9,3484.1 464.9,3483.9 467.8,3483.6 470.8,3483.3 473.8,3483.1 476.8,3482.8 479.8,3482.6 482.8,3482.3 485.8,3482.0 488.8,3481.9 491.8,3481.8 494.7,3481.6 497.7,3481.5 500.7,3481.3 503.7,3481.2 506.7,3481.0 509.7,3480.9 512.7,3480.8 515.7,3480.6 518.7,3480.5 521.6,3480.3 524.6,3480.2 527.6,3480.1 530.6,3479.9 533.6,3479.8 536.6,3479.6 539.6,3479.5 542.6,3479.3 545.6,3479.2 548.5,3479.2 551.5,3479.1 554.5,3479.1 557.5,3479.0 560.5,3479.0 563.5,3478.9 566.5,3478.9 569.5,3478.8 572.5,3478.8 575.5,3478.7 578.4,3478.7 581.4,3478.6 584.4,3478.6 587.4,3478.5 590.4,3478.5 593.4,3478.4 596.4,3478.4 599.4,3478.3 602.4,3478.3 605.3,3478.3 608.3,3478.2 611.3,3478.2 614.3,3478.1 617.3,3478.1 620.3,3478.0 623.3,3478.0 626.3,3477.9 629.3,3477.9 632.2,3477.8 635.2,3477.8 638.2,3477.8 641.2,3477.9 644.2,3477.9 647.2,3478.0 650.2,3478.0 653.2,3478.1 656.2,3478.1 659.1,3478.2 662.1,3478.2 665.1,3478.3 668.1,3478.3 671.1,3478.4 674.1,3478.4 677.1,3478.5 680.1,3478.5 683.1,3478.6 686.0,3478.6 689.0,3478.7 692.0,3478.7 695.0,3478.8 698.0,3479.1 701.0,3479.3 704.0,3479.6 707.0,3479.9 710.0,3480.1 712.9,3480.4 715.9,3480.6 718.9,3480.9 721.9,3481.2 724.9,3481.4 727.9,3481.7 730.9,3482.0 733.9,3482.2 736.9,3482.5 739.8,3482.8 742.8,3483.0 745.8,3483.3 748.8,3483.5 751.8,3483.8 754.8,3484.1 757.8,3484.3 760.8,3484.6 763.8,3484.9 766.7,3485.2 769.7,3485.4 772.7,3485.7 775.7,3486.0 778.7,3486.3 781.7,3486.5 784.7,3486.8 787.7,3487.1 790.7,3487.4 793.6,3487.6 796.6,3487.9 799.6,3488.2 802.6,3488.4 805.6,3488.7 808.6,3489.0 811.6,3489.3 814.6,3489.5 817.6,3489.9 820.5,3490.2 823.5,3490.5 826.5,3490.9 829.5,3491.2 832.5,3491.5 835.5,3491.8 838.5,3492.2 841.5,3492.5 844.5,3492.8 847.4,3493.1 850.4,3493.5 853.4,3493.8 856.4,3494.1 859.4,3494.5 862.4,3494.8 865.4,3495.1 868.4,3495.4 871.4,3495.8 874.3,3496.1 877.3,3496.4 880.3,3496.7 883.3,3497.0 886.3,3497.2 889.3,3497.4 892.3,3497.4 895.3,3497.3 898.3,3497.0 901.3,3496.3 904.2,3495.2 907.2,3493.3 910.2,3490.4 913.2,3486.2 916.2,3480.5 919.2,3472.7 922.2,3462.6 925.2,3449.8 928.2,3433.9 931.1,3414.9 934.1,3392.9 937.1,3368.0 940.1,3341.0 943.1,3312.7 946.1,3284.2 949.1,3256.6 952.1,3231.6 955.1,3210.4 958.0,3194.3 961.0,3184.3 964.0,3181.1 967.0,3183.2 970.0,3189.0 973.0,3198.2 976.0,3210.6 979.0,3225.7 982.0,3243.2 984.9,3262.4 987.9,3282.9 990.9,3304.0 993.9,3325.3 996.9,3346.2 999.9,3366.4 1002.9,3385.5 1005.9,3403.3 1008.9,3419.6 1011.8,3434.3 1014.8,3447.3 1017.8,3458.7 1020.8,3468.6 1023.8,3476.9 1026.8,3483.9 1029.8,3489.8 1032.8,3494.5 1035.8,3498.4 1038.7,3501.4 1041.7,3503.9 1044.7,3505.8 1047.7,3507.3 1050.7,3508.5 1053.7,3509.4 1056.7,3510.0 1059.7,3510.4 1062.7,3510.7 1065.6,3510.9 1068.6,3511.1 1071.6,3511.2 1074.6,3511.3 1077.6,3511.4 1080.6,3511.4 1083.6,3511.5 1086.6,3511.5 1089.6,3511.5 1092.5,3511.6 1095.5,3511.6 1098.5,3511.6 1101.5,3511.6 1104.5,3511.7 1107.5,3511.7 1110.5,3511.7 1113.5,3511.8 1116.5,3511.8 1119.4,3511.8 1122.4,3511.8 1125.4,3511.9 1128.4,3511.9 1131.4,3511.9 1134.4,3511.9 1137.4,3512.0 1140.4,3512.0 1143.4,3512.0 1146.3,3512.0 1149.3,3512.1 1152.3,3512.1 1155.3,3512.1 1158.3,3512.1 1161.3,3512.2 1164.3,3512.2 1167.3,3512.2 1170.3,3512.2 1173.2,3512.3 1176.2,3512.2 1179.2,3512.2 1182.2,3512.2 1185.2,3512.2 1188.2,3512.2 1191.2,3512.1 1194.2,3512.1 1197.2,3512.1 1200.2,3512.0 1203.1,3512.0 1206.1,3511.9 1209.1,3511.7 1212.1,3511.5 1215.1,3511.1 1218.1,3510.4 1221.1,3509.4 1224.1,3507.8 1227.1,3505.3 1230.0,3501.5 1233.0,3496.0 1236.0,3488.2 1239.0,3477.2 1242.0,3462.3 1245.0,3442.6 1248.0,3417.1 1251.0,3385.1 1254.0,3346.0 1256.9,3299.7 1259.9,3246.4 1262.9,3186.9 1265.9,3122.8 1268.9,3056.3 1271.9,2990.2 1274.9,2927.6 1277.9,2871.9 1280.9,2826.2 1283.8,2793.5 1286.8,2775.6 1289.8,2773.4 1292.8,2781.6 1295.8,2798.7 1298.8,2824.2 1301.8,2857.0 1304.8,2895.9 1307.8,2939.8 1310.7,2987.2 1313.7,3036.6 1316.7,3086.7 1319.7,3136.2 1322.7,3184.1 1325.7,3229.3 1328.7,3271.3 1331.7,3309.5 1334.7,3343.7 1337.6,3373.8 1340.6,3399.7 1343.6,3421.9 1346.6,3440.4 1349.6,3455.6 1352.6,3468.0 1355.6,3478.0 1358.6,3485.8 1361.6,3491.8 1364.5,3496.5 1367.5,3499.9 1370.5,3502.5 1373.5,3504.4 1376.5,3505.7 1379.5,3506.7 1382.5,3507.3 1385.5,3507.8 1388.5,3508.0 1391.4,3508.2 1394.4,3508.3 1397.4,3508.4 1400.4,3508.4 1403.4,3508.4 1406.4,3508.4 1409.4,3508.3 1412.4,3508.3 1415.4,3508.2 1418.3,3508.2 1421.3,3508.1 1424.3,3508.1 1427.3,3508.0 1430.3,3508.0 1433.3,3507.9 1436.3,3507.9 1439.3,3507.8 1442.3,3507.8 1445.2,3507.7 1448.2,3507.7 1451.2,3507.6 1454.2,3507.5 1457.2,3507.5 1460.2,3507.3 1463.2,3506.9 1466.2,3506.3 1469.2,3505.1 1472.1,3503.2 1475.1,3500.4 1478.1,3496.5 1481.1,3491.4 1484.1,3485.1 1487.1,3477.8 1490.1,3469.6 1493.1,3461.0 1496.1,3452.3 1499.1,3443.9 1502.0,3436.0 1505.0,3429.0 1508.0,3422.9 1511.0,3417.8 1514.0,3413.7 1517.0,3410.6 1520.0,3408.3 1523.0,3406.7 1526.0,3405.6 1528.9,3405.0 1531.9,3404.6 1534.9,3404.4 1537.9,3404.4 1540.9,3404.4 1543.9,3404.4 1546.9,3404.4 1549.9,3404.4 1552.9,3404.5 1555.8,3404.7 1558.8,3405.1 1561.8,3406.0 1564.8,3407.3 1567.8,3409.3 1570.8,3412.2 1573.8,3416.0 1576.8,3421.0 1579.8,3427.1 1582.7,3434.3 1585.7,3442.4 1588.7,3451.3 1591.7,3460.5 1594.7,3469.6 1597.7,3478.2 1600.7,3485.9 1603.7,3492.4 1606.7,3497.5 1609.6,3501.3 1612.6,3504.0 1615.6,3505.6 1618.6,3506.6 1621.6,3507.1 1624.6,3507.4 1627.6,3507.5 1630.6,3507.5 1633.6,3507.4 1636.5,3507.4 1639.5,3507.2 1642.5,3507.0 1645.5,3506.8 1648.5,3506.4 1651.5,3505.9 1654.5,3505.1 1657.5,3504.1 1660.5,3502.8 1663.4,3501.0 1666.4,3498.7 1669.4,3495.8 1672.4,3492.2 1675.4,3487.7 1678.4,3482.2 1681.4,3475.7 1684.4,3468.0 1687.4,3459.3 1690.3,3449.3 1693.3,3438.3 1696.3,3426.4 1699.3,3413.7 1702.3,3400.5 1705.3,3387.1 1708.3,3373.9 1711.3,3361.3 1714.3,3349.7 1717.2,3339.5 1720.2,3331.2 1723.2,3325.0 1726.2,3321.1 1729.2,3319.8 1732.2,3320.9 1735.2,3324.0 1738.2,3329.2 1741.2,3336.1 1744.1,3344.7 1747.1,3354.6 1750.1,3365.5 1753.1,3377.2 1756.1,3389.2 1759.1,3401.3 1762.1,3413.3 1765.1,3424.9 1768.1,3435.8 1771.0,3446.0 1774.0,3455.3 1777.0,3463.7 1780.0,3471.1 1783.0,3477.6 1786.0,3483.2 1789.0,3487.9 1792.0,3491.9 1795.0,3495.1 1798.0,3497.7 1800.9,3499.9 1803.9,3501.5 1806.9,3502.8 1809.9,3503.8 1812.9,3504.6 1815.9,3505.2 1818.9,3505.6 1821.9,3505.9 1824.9,3506.1 1827.8,3506.2 1830.8,3506.3 1833.8,3506.4 1836.8,3506.4 1839.8,3506.4 1842.8,3506.4 1845.8,3506.4 1848.8,3506.4 1851.8,3506.4 1854.7,3506.3 1857.7,3506.3 1860.7,3506.2 1863.7,3506.2 1866.7,3506.1 1869.7,3506.0 1872.7,3505.8 1875.7,3505.6 1878.7,3505.3 1881.6,3505.0 1884.6,3504.5 1887.6,3504.1 1890.6,3503.5 1893.6,3502.9 1896.6,3502.3 1899.6,3501.7 1902.6,3501.1 1905.6,3500.6 1908.5,3500.1 1911.5,3499.8 1914.5,3499.5 1917.5,3499.5 1920.5,3499.6 1923.5,3499.8 1926.5,3500.2 1929.5,3500.6 1932.5,3501.2 1935.4,3501.8 1938.4,3502.5 1941.4,3503.1 1944.4,3503.7 1947.4,3504.3 1950.4,3504.8 1953.4,3505.2 1956.4,3505.6 1959.4,3505.9 1962.3,3506.1 1965.3,3506.3 1968.3,3506.4 1971.3,3506.5 1974.3,3506.6 1977.3,3506.7 1980.3,3506.7 1983.3,3506.7 1986.3,3506.7 1989.2,3506.7 1992.2,3506.7 1995.2,3506.7 1998.2,3506.7 2001.2,3506.7 2004.2,3506.7 2007.2,3506.7 2010.2,3506.6 2013.2,3506.6 2016.1,3506.6 2019.1,3506.6 2022.1,3506.6 2025.1,3506.6 2028.1,3506.6 2031.1,3506.5 2034.1,3506.5 2037.1,3506.5 2040.1,3506.5 2043.0,3506.5 2046.0,3506.5 2049.0,3506.4 2052.0,3506.4 2055.0,3506.4 2058.0,3506.4 2061.0,3506.3 2064.0,3506.3 2067.0,3506.3 2069.9,3506.2 2072.9,3506.0 2075.9,3505.8 2078.9,3505.6 2081.9,3505.4 2084.9,3505.1 2087.9,3504.8 2090.9,3504.6 2093.9,3504.3 2096.9,3504.0 2099.8,3503.6 2102.8,3503.3 2105.8,3502.9 2108.8,3502.4 2111.8,3502.0 2114.8,3501.5 2117.8,3500.9 2120.8,3500.4 2123.8,3499.8 2126.7,3499.1 2129.7,3498.4 2132.7,3497.8 2135.7,3497.1 2138.7,3496.5 2141.7,3495.7 2144.7,3495.0 2147.7,3494.2 2150.7,3493.3 2153.6,3492.5 2156.6,3491.6 2159.6,3490.7 2162.6,3489.8 2165.6,3488.9 2168.6,3488.1 2171.6,3487.2 2174.6,3486.4 2177.6,3485.6 2180.5,3484.9 2183.5,3484.2 2186.5,3483.6 2189.5,3483.1 2192.5,3482.6 2195.5,3482.3 2198.5,3482.0 2201.5,3481.9 2204.5,3481.8 2207.4,3482.0 2210.4,3482.3 2213.4,3482.9 2216.4,3483.7 2219.4,3484.7 2222.4,3485.8 2225.4,3487.0 2228.4,3488.4 2231.4,3489.7 2234.3,3491.1 2237.3,3492.5 2240.3,3493.8 2243.3,3495.0 2246.3,3496.3 2249.3,3497.4 2252.3,3498.5 2255.3,3499.4 2258.3,3500.2 2261.2,3500.9 2264.2,3501.6 2267.2,3502.1 2270.2,3502.6 2273.2,3502.9 2276.2,3503.3 2279.2,3503.6"/>
<polyline stroke="#006CE3" points="366.2,3506.2 369.2,3506.0 372.2,3505.8 375.2,3505.6 378.2,3505.5 381.2,3505.3 384.2,3505.1 387.1,3504.9 390.1,3504.8 393.1,3504.0 396.1,3503.2 399.1,3502.4 402.1,3501.7 405.1,3500.9 408.1,3500.1 411.1,3499.4 414.0,3498.6 417.0,3497.8 420.0,3497.0 423.0,3496.3 426.0,3495.6 429.0,3494.9 432.0,3494.2 435.0,3493.5 438.0,3492.8 440.9,3492.1 443.9,3491.4 446.9,3491.2 449.9,3491.0 452.9,3490.8 455.9,3490.6 458.9,3490.4 461.9,3490.2 464.9,3490.0 467.8,3489.7 470.8,3489.5 473.8,3489.3 476.8,3489.1 479.8,3488.9 482.8,3488.7 485.8,3488.5 488.8,3488.5 491.8,3488.4 494.7,3488.3 497.7,3488.3 500.7,3488.2 503.7,3488.2 506.7,3488.1 509.7,3488.0 512.7,3488.0 515.7,3487.9 518.7,3487.9 521.6,3487.8 524.6,3487.7 527.6,3487.7 530.6,3487.6 533.6,3487.6 536.6,3487.5 539.6,3487.4 542.6,3487.4 545.6,3487.3 548.5,3487.3 551.5,3487.2 554.5,3487.2 557.5,3487.1 560.5,3487.1 563.5,3487.0 566.5,3487.0 569.5,3486.9 572.5,3486.9 575.5,3486.8 578.4,3486.8 581.4,3486.7 584.4,3486.7 587.4,3486.7 590.4,3486.6 593.4,3486.6 596.4,3486.5 599.4,3486.5 602.4,3486.4 605.3,3486.4 608.3,3486.3 611.3,3486.3 614.3,3486.2 617.3,3486.2 620.3,3486.1 623.3,3486.1 626.3,3486.0 629.3,3486.0 632.2,3485.9 635.2,3485.9 638.2,3485.9 641.2,3486.0 644.2,3486.0 647.2,3486.1 650.2,3486.1 653.2,3486.2 656.2,3486.2 659.1,3486.3 662.1,3486.4 665.1,3486.4 668.1,3486.5 671.1,3486.5 674.1,3486.6 677.1,3486.6 680.1,3486.7 683.1,3486.7 686.0,3486.8 689.0,3486.8 692.0,3486.9 695.0,3486.9 698.0,3487.1 701.0,3487.3 704.0,3487.5 707.0,3487.6 710.0,3487.8 712.9,3488.0 715.9,3488.2 718.9,3488.4 721.9,3488.6 724.9,3488.7 727.9,3488.9 730.9,3489.1 733.9,3489.3 736.9,3489.5 739.8,3489.6 742.8,3489.8 745.8,3490.0 748.8,3490.2 751.8,3490.4 754.8,3490.6 757.8,3490.7 760.8,3490.9 763.8,3491.0 766.7,3491.2 769.7,3491.3 772.7,3491.5 775.7,3491.6 778.7,3491.8 781.7,3491.9 784.7,3492.1 787.7,3492.2 790.7,3492.4 793.6,3492.5 796.6,3492.7 799.6,3492.8 802.6,3493.0 805.6,3493.1 808.6,3493.3 811.6,3493.4 814.6,3493.6 817.6,3493.8 820.5,3493.9 823.5,3494.1 826.5,3494.3 829.5,3494.5 832.5,3494.6 835.5,3494.8 838.5,3495.0 841.5,3495.1 844.5,3495.3 847.4,3495.5 850.4,3495.7 853.4,3495.8 856.4,3496.0 859.4,3496.2 862.4,3496.3 865.4,3496.5 868.4,3496.7 871.4,3496.9 874.3,3497.0 877.3,3497.2 880.3,3497.3 883.3,3497.4 886.3,3497.5 889.3,3497.5 892.3,3497.5 895.3,3497.4 898.3,3497.1 901.3,3496.5 904.2,3495.4 907.2,3493.6 910.2,3491.0 913.2,3487.1 916.2,3481.7 919.2,3474.4 922.2,3464.9 925.2,3452.9 928.2,3438.0 931.1,3420.1 934.1,3399.4 937.1,3376.1 940.1,3350.7 943.1,3324.1 946.1,3297.2 949.1,3271.3 952.1,3247.8 955.1,3227.9 958.0,3212.7 961.0,3203.4 964.0,3200.4 967.0,3202.4 970.0,3207.8 973.0,3216.5 976.0,3228.2 979.0,3242.4 982.0,3258.9 984.9,3277.0 987.9,3296.2 990.9,3316.1 993.9,3336.2 996.9,3355.8 999.9,3374.8 1002.9,3392.8 1005.9,3409.5 1008.9,3424.9 1011.8,3438.7 1014.8,3451.0 1017.8,3461.7 1020.8,3471.0 1023.8,3478.9 1026.8,3485.5 1029.8,3491.0 1032.8,3495.4 1035.8,3499.1 1038.7,3502.0 1041.7,3504.3 1044.7,3506.1 1047.7,3507.5 1050.7,3508.6 1053.7,3509.5 1056.7,3510.0 1059.7,3510.4 1062.7,3510.7 1065.6,3510.9 1068.6,3511.1 1071.6,3511.2 1074.6,3511.3 1077.6,3511.4 1080.6,3511.4 1083.6,3511.5 1086.6,3511.5 1089.6,3511.5 1092.5,3511.6 1095.5,3511.6 1098.5,3511.6 1101.5,3511.6 1104.5,3511.7 1107.5,3511.7 1110.5,3511.7 1113.5,3511.8 1116.5,3511.8 1119.4,3511.8 1122.4,3511.8 1125.4,3511.9 1128.4,3511.9 1131.4,3511.9 1134.4,3511.9 1137.4,3512.0 1140.4,3512.0 1143.4,3512.0 1146.3,3512.0 1149.3,3512.1 1152.3,3512.1 1155.3,3512.1 1158.3,3512.1 1161.3,3512.2 1164.3,3512.2 1167.3,3512.2 1170.3,3512.2 1173.2,3512.3 1176.2,3512.2 1179.2,3512.2 1182.2,3512.2 1185.2,3512.2 1188.2,3512.2 1191.2,3512.1 1194.2,3512.1 1197.2,3512.1 1200.2,3512.0 1203.1,3512.0 1206.1,3511.9 1209.1,3511.8 1212.1,3511.5 1215.1,3511.2 1218.1,3510.6 1221.1,3509.6 1224.1,3508.1 1227.1,3505.8 1230.0,3502.3 1233.0,3497.3 1236.0,3490.0 1239.0,3479.9 1242.0,3466.2 1245.0,3448.0 1248.0,3424.5 1251.0,3395.0 1254.0,3359.0 1256.9,3316.2 1259.9,3267.1 1262.9,3212.2 1265.9,3153.1 1268.9,3091.8 1271.9,3030.9 1274.9,2973.2 1277.9,2921.8 1280.9,2879.7 1283.8,2849.4 1286.8,2833.0 1289.8,2830.9 1292.8,2838.5 1295.8,2854.3 1298.8,2877.7 1301.8,2907.9 1304.8,2943.9 1307.8,2984.4 1310.7,3028.0 1313.7,3073.6 1316.7,3119.7 1319.7,3165.4 1322.7,3209.5 1325.7,3251.2 1328.7,3289.9 1331.7,3325.2 1334.7,3356.7 1337.6,3384.4 1340.6,3408.3 1343.6,3428.7 1346.6,3445.8 1349.6,3459.8 1352.6,3471.3 1355.6,3480.4 1358.6,3487.6 1361.6,3493.2 1364.5,3497.4 1367.5,3500.7 1370.5,3503.0 1373.5,3504.8 1376.5,3506.0 1379.5,3506.8 1382.5,3507.4 1385.5,3507.8 1388.5,3508.1 1391.4,3508.3 1394.4,3508.3 1397.4,3508.4 1400.4,3508.4 1403.4,3508.4 1406.4,3508.4 1409.4,3508.3 1412.4,3508.3 1415.4,3508.2 1418.3,3508.2 1421.3,3508.1 1424.3,3508.1 1427.3,3508.0 1430.3,3508.0 1433.3,3507.9 1436.3,3507.9 1439.3,3507.8 1442.3,3507.8 1445.2,3507.7 1448.2,3507.7 1451.2,3507.6 1454.2,3507.5 1457.2,3507.5 1460.2,3507.3 1463.2,3507.0 1466.2,3506.3 1469.2,3505.2 1472.1,3503.4 1475.1,3500.8 1478.1,3497.1 1481.1,3492.2 1484.1,3486.2 1487.1,3479.2 1490.1,3471.5 1493.1,3463.3 1496.1,3455.0 1499.1,3447.0 1502.0,3439.5 1505.0,3432.8 1508.0,3427.0 1511.0,3422.2 1514.0,3418.4 1517.0,3415.4 1520.0,3413.2 1523.0,3411.7 1526.0,3410.6 1528.9,3410.0 1531.9,3409.7 1534.9,3409.5 1537.9,3409.5 1540.9,3409.4 1543.9,3409.4 1546.9,3409.4 1549.9,3409.5 1552.9,3409.5 1555.8,3409.7 1558.8,3410.2 1561.8,3410.9 1564.8,3412.2 1567.8,3414.1 1570.8,3416.9 1573.8,3420.5 1576.8,3425.2 1579.8,3431.0 1582.7,3437.9 1585.7,3445.6 1588.7,3454.1 1591.7,3462.8 1594.7,3471.5 1597.7,3479.7 1600.7,3487.0 1603.7,3493.1 1606.7,3498.0 1609.6,3501.7 1612.6,3504.1 1615.6,3505.7 1618.6,3506.7 1621.6,3507.2 1624.6,3507.4 1627.6,3507.5 1630.6,3507.5 1633.6,3507.4 1636.5,3507.4 1639.5,3507.3 1642.5,3507.1 1645.5,3506.9 1648.5,3506.5 1651.5,3506.0 1654.5,3505.4 1657.5,3504.5 1660.5,3503.3 1663.4,3501.7 1666.4,3499.7 1669.4,3497.1 1672.4,3493.8 1675.4,3489.8 1678.4,3484.9 1681.4,3479.1 1684.4,3472.2 1687.4,3464.4 1690.3,3455.5 1693.3,3445.7 1696.3,3435.0 1699.3,3423.6 1702.3,3411.8 1705.3,3399.8 1708.3,3388.0 1711.3,3376.8 1714.3,3366.4 1717.2,3357.3 1720.2,3349.9 1723.2,3344.3 1726.2,3340.8 1729.2,3339.7 1732.2,3340.6 1735.2,3343.4 1738.2,3348.0 1741.2,3354.3 1744.1,3361.9 1747.1,3370.8 1750.1,3380.6 1753.1,3391.0 1756.1,3401.7 1759.1,3412.6 1762.1,3423.2 1765.1,3433.6 1768.1,3443.3 1771.0,3452.4 1774.0,3460.8 1777.0,3468.3 1780.0,3474.9 1783.0,3480.7 1786.0,3485.7 1789.0,3489.9 1792.0,3493.4 1795.0,3496.3 1798.0,3498.7 1800.9,3500.6 1803.9,3502.1 1806.9,3503.3 1809.9,3504.1 1812.9,3504.8 1815.9,3505.3 1818.9,3505.7 1821.9,3506.0 1824.9,3506.1 1827.8,3506.3 1830.8,3506.4 1833.8,3506.4 1836.8,3506.4 1839.8,3506.4 1842.8,3506.4 1845.8,3506.4 1848.8,3506.4 1851.8,3506.4 1854.7,3506.4 1857.7,3506.3 1860.7,3506.2 1863.7,3506.2 1866.7,3506.1 1869.7,3506.0 1872.7,3505.8 1875.7,3505.6 1878.7,3505.4 1881.6,3505.0 1884.6,3504.7 1887.6,3504.2 1890.6,3503.7 1893.6,3503.1 1896.6,3502.6 1899.6,3502.0 1902.6,3501.4 1905.6,3500.9 1908.5,3500.5 1911.5,3500.2 1914.5,3499.9 1917.5,3499.9 1920.5,3500.0 1923.5,3500.2 1926.5,3500.5 1929.5,3501.0 1932.5,3501.5 1935.4,3502.1 1938.4,3502.7 1941.4,3503.3 1944.4,3503.9 1947.4,3504.4 1950.4,3504.9 1953.4,3505.3 1956.4,3505.6 1959.4,3505.9 1962.3,3506.1 1965.3,3506.3 1968.3,3506.4 1971.3,3506.6 1974.3,3506.6 1977.3,3506.7 1980.3,3506.7 1983.3,3506.7 1986.3,3506.7 1989.2,3506.7 1992.2,3506.7 1995.2,3506.7 1998.2,3506.7 2001.2,3506.7 2004.2,3506.7 2007.2,3506.7 2010.2,3506.6 2013.2,3506.6 2016.1,3506.6 2019.1,3506.6 2022.1,3506.6 2025.1,3506.6 2028.1,3506.6 2031.1,3506.5 2034.1,3506.5 2037.1,3506.5 2040.1,3506.5 2043.0,3506.5 2046.0,3506.5 2049.0,3506.4 2052.0,3506.4 2055.0,3506.4 2058.0,3506.4 2061.0,3506.3 2064.0,3506.3 2067.0,3506.3 2069.9,3506.2 2072.9,3506.0 2075.9,3505.8 2078.9,3505.6 2081.9,3505.4 2084.9,3505.2 2087.9,3504.9 2090.9,3504.7 2093.9,3504.4 2096.9,3504.1 2099.8,3503.8 2102.8,3503.5 2105.8,3503.1 2108.8,3502.7 2111.8,3502.3 2114.8,3501.8 2117.8,3501.4 2120.8,3500.8 2123.8,3500.3 2126.7,3499.7 2129.7,3499.1 2132.7,3498.5 2135.7,3498.0 2138.7,3497.4 2141.7,3496.8 2144.7,3496.1 2147.7,3495.5 2150.7,3494.7 2153.6,3494.0 2156.6,3493.3 2159.6,3492.5 2162.6,3491.7 2165.6,3491.0 2168.6,3490.2 2171.6,3489.5 2174.6,3488.8 2177.6,3488.1 2180.5,3487.5 2183.5,3486.9 2186.5,3486.4 2189.5,3485.9 2192.5,3485.6 2195.5,3485.3 2198.5,3485.1 2201.5,3484.9 2204.5,3484.9 2207.4,3485.0 2210.4,3485.3 2213.4,3485.8 2216.4,3486.5 2219.4,3487.3 2222.4,3488.3 2225.4,3489.3 2228.4,3490.5 2231.4,3491.7 2234.3,3492.8 2237.3,3494.0 2240.3,3495.1 2243.3,3496.2 2246.3,3497.3 2249.3,3498.3 2252.3,3499.2 2255.3,3500.0 2258.3,3500.7 2261.2,3501.3 2264.2,3501.9 2267.2,3502.3 2270.2,3502.8 2273.2,3503.1 2276.2,3503.4 2279.2,3503.6"/>
<polyline stroke="#00AE64" points="366.2,3506.2 369.2,3506.0 372.2,3505.8 375.2,3505.6 378.2,3505.5 381.2,3505.3 384.2,3505.1 387.1,3504.9 390.1,3504.8 393.1,3503.9 396.1,3503.1 399.1,3502.3 402.1,3501.4 405.1,3500.6 408.1,3499.8 411.1,3498.9 414.0,3498.1 417.0,3497.3 420.0,3496.4 423.0,3495.7 426.0,3495.0 429.0,3494.2 432.0,3493.5 435.0,3492.7 438.0,3492.0 440.9,3491.3 443.9,3490.5 446.9,3490.3 449.9,3490.1 452.9,3489.9 455.9,3489.7 458.9,3489.5 461.9,3489.2 464.9,3489.0 467.8,3488.8 470.8,3488.6 473.8,3488.4 476.8,3488.2 479.8,3488.0 482.8,3487.8 485.8,3487.6 488.8,3487.5 491.8,3487.4 494.7,3487.3 497.7,3487.3 500.7,3487.2 503.7,3487.1 506.7,3487.0 509.7,3487.0 512.7,3486.9 515.7,3486.8 518.7,3486.8 521.6,3486.7 524.6,3486.6 527.6,3486.5 530.6,3486.5 533.6,3486.4 536.6,3486.3 539.6,3486.2 542.6,3486.2 545.6,3486.1 548.5,3486.0 551.5,3486.0 554.5,3486.0 557.5,3485.9 560.5,3485.9 563.5,3485.8 566.5,3485.8 569.5,3485.7 572.5,3485.7 575.5,3485.6 578.4,3485.6 581.4,3485.5 584.4,3485.5 587.4,3485.4 590.4,3485.4 593.4,3485.3 596.4,3485.3 599.4,3485.2 602.4,3485.2 605.3,3485.2 608.3,3485.1 611.3,3485.1 614.3,3485.0 617.3,3485.0 620.3,3484.9 623.3,3484.9 626.3,3484.8 629.3,3484.8 632.2,3484.7 635.2,3484.7 638.2,3484.7 641.2,3484.8 644.2,3484.8 647.2,3484.9 650.2,3484.9 653.2,3485.0 656.2,3485.0 659.1,3485.1 662.1,3485.1 665.1,3485.2 668.1,3485.2 671.1,3485.3 674.1,3485.3 677.1,3485.4 680.1,3485.4 683.1,3485.5 686.0,3485.5 689.0,3485.6 692.0,3485.6 695.0,3485.7 698.0,3485.9 701.0,3486.1 704.0,3486.3 707.0,3486.5 710.0,3486.7 712.9,3486.9 715.9,3487.1 718.9,3487.2 721.9,3487.4 724.9,3487.6 727.9,3487.8 730.9,3488.0 733.9,3488.2 736.9,3488.4 739.8,3488.6 742.8,3488.8 745.8,3489.0 748.8,3489.2 751.8,3489.4 754.8,3489.6 757.8,3489.8 760.8,3489.9 763.8,3490.1 766.7,3490.3 769.7,3490.4 772.7,3490.6 775.7,3490.8 778.7,3490.9 781.7,3491.1 784.7,3491.3 787.7,3491.5 790.7,3491.6 793.6,3491.8 796.6,3492.0 799.6,3492.1 802.6,3492.3 805.6,3492.5 808.6,3492.7 811.6,3492.8 814.6,3493.0 817.6,3493.2 820.5,3493.4 823.5,3493.6 826.5,3493.8 829.5,3494.0 832.5,3494.2 835.5,3494.4 838.5,3494.6 841.5,3494.7 844.5,3494.9 847.4,3495.1 850.4,3495.3 853.4,3495.5 856.4,3495.7 859.4,3495.9 862.4,3496.1 865.4,3496.3 868.4,3496.5 871.4,3496.7 874.3,3496.9 877.3,3497.1 880.3,3497.2 883.3,3497.4 886.3,3497.5 889.3,3497.5 892.3,3497.5 895.3,3497.5 898.3,3497.2 901.3,3496.6 904.2,3495.6 907.2,3494.0 910.2,3491.4 913.2,3487.8 916.2,3482.7 919.2,3475.8 922.2,3466.9 925.2,3455.5 928.2,3441.4 931.1,3424.5 934.1,3404.9 937.1,3382.8 940.1,3358.8 943.1,3333.6 946.1,3308.2 949.1,3283.7 952.1,3261.4 955.1,3242.6 958.0,3228.3 961.0,3219.4 964.0,3216.6 967.0,3218.5 970.0,3223.7 973.0,3231.9 976.0,3243.0 979.0,3256.5 982.0,3272.1 984.9,3289.2 987.9,3307.4 990.9,3326.3 993.9,3345.3 996.9,3363.9 999.9,3381.9 1002.9,3398.9 1005.9,3414.8 1008.9,3429.4 1011.8,3442.5 1014.8,3454.1 1017.8,3464.3 1020.8,3473.0 1023.8,3480.5 1026.8,3486.8 1029.8,3492.0 1032.8,3496.2 1035.8,3499.7 1038.7,3502.4 1041.7,3504.6 1044.7,3506.4 1047.7,3507.7 1050.7,3508.8 1053.7,3509.6 1056.7,3510.1 1059.7,3510.5 1062.7,3510.8 1065.6,3511.0 1068.6,3511.1 1071.6,3511.2 1074.6,3511.3 1077.6,3511.4 1080.6,3511.4 1083.6,3511.5 1086.6,3511.5 1089.6,3511.5 1092.5,3511.6 1095.5,3511.6 1098.5,3511.6 1101.5,3511.6 1104.5,3511.7 1107.5,3511.7 1110.5,3511.7 1113.5,3511.8 1116.5,3511.8 1119.4,3511.8 1122.4,3511.8 1125.4,3511.9 1128.4,3511.9 1131.4,3511.9 1134.4,3511.9 1137.4,3512.0 1140.4,3512.0 1143.4,3512.0 1146.3,3512.0 1149.3,3512.1 1152.3,3512.1 1155.3,3512.1 1158.3,3512.1 1161.3,3512.2 1164.3,3512.2 1167.3,3512.2 1170.3,3512.2 1173.2,3512.3 1176.2,3512.2 1179.2,3512.2 1182.2,3512.2 1185.2,3512.2 1188.2,3512.2 1191.2,3512.1 1194.2,3512.1 1197.2,3512.1 1200.2,3512.0 1203.1,3512.0 1206.1,3511.9 1209.1,3511.8 1212.1,3511.5 1215.1,3511.2 1218.1,3510.6 1221.1,3509.7 1224.1,3508.3 1227.1,3506.1 1230.0,3502.8 1233.0,3498.0 1236.0,3491.2 1239.0,3481.6 1242.0,3468.6 1245.0,3451.3 1248.0,3429.1 1251.0,3401.1 1254.0,3367.0 1256.9,3326.5 1259.9,3279.9 1262.9,3227.9 1265.9,3171.9 1268.9,3113.8 1271.9,3056.1 1274.9,3001.4 1277.9,2952.7 1280.9,2912.8 1283.8,2884.1 1286.8,2868.6 1289.8,2866.6 1292.8,2873.7 1295.8,2888.7 1298.8,2910.9 1301.8,2939.6 1304.8,2973.6 1307.8,3011.9 1310.7,3053.3 1313.7,3096.5 1316.7,3140.2 1319.7,3183.5 1322.7,3225.3 1325.7,3264.8 1328.7,3301.5 1331.7,3334.9 1334.7,3364.7 1337.6,3391.0 1340.6,3413.7 1343.6,3433.0 1346.6,3449.1 1349.6,3462.5 1352.6,3473.3 1355.6,3481.9 1358.6,3488.7 1361.6,3494.0 1364.5,3498.1 1367.5,3501.1 1370.5,3503.3 1373.5,3505.0 1376.5,3506.1 1379.5,3506.9 1382.5,3507.5 1385.5,3507.9 1388.5,3508.1 1391.4,3508.3 1394.4,3508.4 1397.4,3508.4 1400.4,3508.4 1403.4,3508.4 1406.4,3508.4 1409.4,3508.3 1412.4,3508.3 1415.4,3508.2 1418.3,3508.2 1421.3,3508.1 1424.3,3508.1 1427.3,3508.0 1430.3,3508.0 1433.3,3507.9 1436.3,3507.9 1439.3,3507.8 1442.3,3507.8 1445.2,3507.7 1448.2,3507.7 1451.2,3507.6 1454.2,3507.6 1457.2,3507.5 1460.2,3507.3 1463.2,3507.0 1466.2,3506.4 1469.2,3505.3 1472.1,3503.6 1475.1,3501.0 1478.1,3497.5 1481.1,3492.8 1484.1,3487.1 1487.1,3480.3 1490.1,3472.9 1493.1,3465.0 1496.1,3457.1 1499.1,3449.4 1502.0,3442.2 1505.0,3435.8 1508.0,3430.2 1511.0,3425.6 1514.0,3421.9 1517.0,3419.0 1520.0,3416.9 1523.0,3415.4 1526.0,3414.4 1528.9,3413.9 1531.9,3413.5 1534.9,3413.4 1537.9,3413.3 1540.9,3413.3 1543.9,3413.3 1546.9,3413.3 1549.9,3413.3 1552.9,3413.4 1555.8,3413.6 1558.8,3414.0 1561.8,3414.7 1564.8,3416.0 1567.8,3417.8 1570.8,3420.4 1573.8,3423.9 1576.8,3428.5 1579.8,3434.0 1582.7,3440.6 1585.7,3448.1 1588.7,3456.2 1591.7,3464.6 1594.7,3472.9 1597.7,3480.8 1600.7,3487.8 1603.7,3493.7 1606.7,3498.4 1609.6,3501.9 1612.6,3504.3 1615.6,3505.8 1618.6,3506.7 1621.6,3507.2 1624.6,3507.4 1627.6,3507.5 1630.6,3507.5 1633.6,3507.5 1636.5,3507.4 1639.5,3507.3 1642.5,3507.1 1645.5,3506.9 1648.5,3506.6 1651.5,3506.2 1654.5,3505.6 1657.5,3504.7 1660.5,3503.6 1663.4,3502.2 1666.4,3500.3 1669.4,3497.9 1672.4,3494.9 1675.4,3491.2 1678.4,3486.7 1681.4,3481.3 1684.4,3475.0 1687.4,3467.8 1690.3,3459.6 1693.3,3450.5 1696.3,3440.7 1699.3,3430.2 1702.3,3419.3 1705.3,3408.3 1708.3,3397.4 1711.3,3387.0 1714.3,3377.5 1717.2,3369.1 1720.2,3362.2 1723.2,3357.1 1726.2,3353.9 1729.2,3352.9 1732.2,3353.7 1735.2,3356.3 1738.2,3360.6 1741.2,3366.3 1744.1,3373.4 1747.1,3381.5 1750.1,3390.5 1753.1,3400.1 1756.1,3410.0 1759.1,3420.0 1762.1,3429.8 1765.1,3439.3 1768.1,3448.4 1771.0,3456.7 1774.0,3464.4 1777.0,3471.3 1780.0,3477.4 1783.0,3482.8 1786.0,3487.4 1789.0,3491.2 1792.0,3494.5 1795.0,3497.2 1798.0,3499.3 1800.9,3501.1 1803.9,3502.5 1806.9,3503.5 1809.9,3504.4 1812.9,3505.0 1815.9,3505.4 1818.9,3505.8 1821.9,3506.0 1824.9,3506.2 1827.8,3506.3 1830.8,3506.4 1833.8,3506.4 1836.8,3506.4 1839.8,3506.5 1842.8,3506.5 1845.8,3506.4 1848.8,3506.4 1851.8,3506.4 1854.7,3506.4 1857.7,3506.3 1860.7,3506.2 1863.7,3506.2 1866.7,3506.1 1869.7,3506.0 1872.7,3505.9 1875.7,3505.7 1878.7,3505.4 1881.6,3505.1 1884.6,3504.8 1887.6,3504.3 1890.6,3503.9 1893.6,3503.4 1896.6,3502.8 1899.6,3502.3 1902.6,3501.7 1905.6,3501.3 1908.5,3500.8 1911.5,3500.5 1914.5,3500.4 1917.5,3500.3 1920.5,3500.4 1923.5,3500.6 1926.5,3500.9 1929.5,3501.3 1932.5,3501.8 1935.4,3502.4 1938.4,3502.9 1941.4,3503.5 1944.4,3504.1 1947.4,3504.5 1950.4,3505.0 1953.4,3505.4 1956.4,3505.7 1959.4,3506.0 1962.3,3506.2 1965.3,3506.3 1968.3,3506.5 1971.3,3506.6 1974.3,3506.6 1977.3,3506.7 1980.3,3506.7 1983.3,3506.7 1986.3,3506.7 1989.2,3506.7 1992.2,3506.7 1995.2,3506.7 1998.2,3506.7 2001.2,3506.7 2004.2,3506.7 2007.2,3506.7 2010.2,3506.6 2013.2,3506.6 2016.1,3506.6 2019.1,3506.6 2022.1,3506.6 2025.1,3506.6 2028.1,3506.6 2031.1,3506.5 2034.1,3506.5 2037.1,3506.5 2040.1,3506.5 2043.0,3506.5 2046.0,3506.5 2049.0,3506.4 2052.0,3506.4 2055.0,3506.4 2058.0,3506.4 2061.0,3506.4 2064.0,3506.3 2067.0,3506.3 2069.9,3506.3 2072.9,3506.1 2075.9,3505.9 2078.9,3505.7 2081.9,3505.4 2084.9,3505.2 2087.9,3505.0 2090.9,3504.7 2093.9,3504.5 2096.9,3504.2 2099.8,3503.9 2102.8,3503.6 2105.8,3503.2 2108.8,3502.9 2111.8,3502.5 2114.8,3502.1 2117.8,3501.6 2120.8,3501.1 2123.8,3500.6 2126.7,3500.1 2129.7,3499.5 2132.7,3499.1 2135.7,3498.6 2138.7,3498.1 2141.7,3497.5 2144.7,3496.9 2147.7,3496.3 2150.7,3495.7 2153.6,3495.0 2156.6,3494.4 2159.6,3493.7 2162.6,3493.0 2165.6,3492.3 2168.6,3491.6 2171.6,3491.0 2174.6,3490.4 2177.6,3489.8 2180.5,3489.2 2183.5,3488.7 2186.5,3488.3 2189.5,3487.9 2192.5,3487.5 2195.5,3487.3 2198.5,3487.1 2201.5,3486.9 2204.5,3486.9 2207.4,3487.0 2210.4,3487.3 2213.4,3487.7 2216.4,3488.3 2219.4,3489.1 2222.4,3489.9 2225.4,3490.9 2228.4,3491.9 2231.4,3492.9 2234.3,3494.0 2237.3,3495.0 2240.3,3496.0 2243.3,3497.0 2246.3,3497.9 2249.3,3498.8 2252.3,3499.6 2255.3,3500.4 2258.3,3501.0 2261.2,3501.6 2264.2,3502.1 2267.2,3502.5 2270.2,3502.9 2273.2,3503.2 2276.2,3503.5 2279.2,3503.7"/>
</g>
<g stroke="#000" stroke-width="5" fill="none" stroke-linecap="butt">
<path stroke-linecap="square" d="M358.5,88.0 H2262.0 M358.5,1619.6 H2262.0 M358.5,88.0 V1619.6 M2262.0,88.0 V1619.6"/>
<line x1="327.0" y1="1517.0" x2="358.5" y2="1517.0"/>
<line x1="327.0" y1="1312.9" x2="358.5" y2="1312.9"/>
<line x1="327.0" y1="1108.8" x2="358.5" y2="1108.8"/>
<line x1="327.0" y1="904.7" x2="358.5" y2="904.7"/>
<line x1="327.0" y1="700.6" x2="358.5" y2="700.6"/>
<line x1="327.0" y1="496.5" x2="358.5" y2="496.5"/>
<line x1="327.0" y1="292.4" x2="358.5" y2="292.4"/>
<line x1="327.0" y1="88.3" x2="358.5" y2="88.3"/>
<line x1="342.5" y1="1619.0" x2="358.5" y2="1619.0"/>
<line x1="342.5" y1="1415.0" x2="358.5" y2="1415.0"/>
<line x1="342.5" y1="1210.8" x2="358.5" y2="1210.8"/>
<line x1="342.5" y1="1006.8" x2="358.5" y2="1006.8"/>
<line x1="342.5" y1="802.6" x2="358.5" y2="802.6"/>
<line x1="342.5" y1="598.5" x2="358.5" y2="598.5"/>
<line x1="342.5" y1="394.5" x2="358.5" y2="394.5"/>
<line x1="342.5" y1="190.3" x2="358.5" y2="190.3"/>
<line x1="416.5" y1="1619.6" x2="416.5" y2="1651.1"/>
<line x1="713.9" y1="1619.6" x2="713.9" y2="1651.1"/>
<line x1="1011.3" y1="1619.6" x2="1011.3" y2="1651.1"/>
<line x1="1308.7" y1="1619.6" x2="1308.7" y2="1651.1"/>
<line x1="1606.1" y1="1619.6" x2="1606.1" y2="1651.1"/>
<line x1="1903.5" y1="1619.6" x2="1903.5" y2="1651.1"/>
<line x1="2200.9" y1="1619.6" x2="2200.9" y2="1651.1"/>
<line x1="565.2" y1="1619.6" x2="565.2" y2="1635.6"/>
<line x1="862.6" y1="1619.6" x2="862.6" y2="1635.6"/>
<line x1="1160.0" y1="1619.6" x2="1160.0" y2="1635.6"/>
<line x1="1457.4" y1="1619.6" x2="1457.4" y2="1635.6"/>
<line x1="1754.8" y1="1619.6" x2="1754.8" y2="1635.6"/>
<line x1="2052.2" y1="1619.6" x2="2052.2" y2="1635.6"/>
</g>
<g font-family="'Liberation Serif','Times New Roman',serif" font-size="79" fill="#000">
<text x="306.0" y="1539.3" text-anchor="end">0</text>
<text x="306.0" y="1335.2" text-anchor="end">1000</text>
<text x="306.0" y="1131.1" text-anchor="end">2000</text>
<text x="306.0" y="927.0" text-anchor="end">3000</text>
<text x="306.0" y="722.9" text-anchor="end">4000</text>
<text x="306.0" y="518.8" text-anchor="end">5000</text>
<text x="306.0" y="314.7" text-anchor="end">6000</text>
<text x="306.0" y="110.6" text-anchor="end">7000</text>
</g>
<g font-family="'Liberation Serif','Times New Roman',serif" font-size="79" fill="#000" letter-spacing="2.2">
<text x="416.5" y="1731.0" text-anchor="middle">400</text>
<text x="713.9" y="1731.0" text-anchor="middle">450</text>
<text x="1011.3" y="1731.0" text-anchor="middle">500</text>
<text x="1308.7" y="1731.0" text-anchor="middle">550</text>
<text x="1606.1" y="1731.0" text-anchor="middle">600</text>
<text x="1903.5" y="1731.0" text-anchor="middle">650</text>
<text x="2200.9" y="1731.0" text-anchor="middle">700</text>
</g>
<g stroke="#000" stroke-width="5" fill="none" stroke-linecap="butt">
<path stroke-linecap="square" d="M367.8,1995.0 H2280.3 M367.8,3533.9 H2280.3 M367.8,1995.0 V3533.9 M2280.3,1995.0 V3533.9"/>
<line x1="336.3" y1="3515.3" x2="367.8" y2="3515.3"/>
<line x1="336.3" y1="3312.5" x2="367.8" y2="3312.5"/>
<line x1="336.3" y1="3109.7" x2="367.8" y2="3109.7"/>
<line x1="336.3" y1="2906.9" x2="367.8" y2="2906.9"/>
<line x1="336.3" y1="2704.1" x2="367.8" y2="2704.1"/>
<line x1="336.3" y1="2501.3" x2="367.8" y2="2501.3"/>
<line x1="336.3" y1="2298.5" x2="367.8" y2="2298.5"/>
<line x1="336.3" y1="2095.7" x2="367.8" y2="2095.7"/>
<line x1="351.8" y1="3413.9" x2="367.8" y2="3413.9"/>
<line x1="351.8" y1="3211.1" x2="367.8" y2="3211.1"/>
<line x1="351.8" y1="3008.3" x2="367.8" y2="3008.3"/>
<line x1="351.8" y1="2805.5" x2="367.8" y2="2805.5"/>
<line x1="351.8" y1="2602.7" x2="367.8" y2="2602.7"/>
<line x1="351.8" y1="2399.9" x2="367.8" y2="2399.9"/>
<line x1="351.8" y1="2197.1" x2="367.8" y2="2197.1"/>
<line x1="351.8" y1="1994.3" x2="367.8" y2="1994.3"/>
<line x1="426.0" y1="3533.9" x2="426.0" y2="3565.4"/>
<line x1="724.9" y1="3533.9" x2="724.9" y2="3565.4"/>
<line x1="1023.8" y1="3533.9" x2="1023.8" y2="3565.4"/>
<line x1="1322.7" y1="3533.9" x2="1322.7" y2="3565.4"/>
<line x1="1621.6" y1="3533.9" x2="1621.6" y2="3565.4"/>
<line x1="1920.5" y1="3533.9" x2="1920.5" y2="3565.4"/>
<line x1="2219.4" y1="3533.9" x2="2219.4" y2="3565.4"/>
<line x1="575.5" y1="3533.9" x2="575.5" y2="3549.9"/>
<line x1="874.3" y1="3533.9" x2="874.3" y2="3549.9"/>
<line x1="1173.2" y1="3533.9" x2="1173.2" y2="3549.9"/>
<line x1="1472.1" y1="3533.9" x2="1472.1" y2="3549.9"/>
<line x1="1771.0" y1="3533.9" x2="1771.0" y2="3549.9"/>
<line x1="2069.9" y1="3533.9" x2="2069.9" y2="3549.9"/>
</g>
<g font-family="'Liberation Serif','Times New Roman',serif" font-size="79" fill="#000">
<text x="315.0" y="3539.8" text-anchor="end">0</text>
<text x="315.0" y="3337.0" text-anchor="end">1000</text>
<text x="315.0" y="3134.2" text-anchor="end">2000</text>
<text x="315.0" y="2931.4" text-anchor="end">3000</text>
<text x="315.0" y="2728.6" text-anchor="end">4000</text>
<text x="315.0" y="2525.8" text-anchor="end">5000</text>
<text x="315.0" y="2323.0" text-anchor="end">6000</text>
<text x="315.0" y="2120.2" text-anchor="end">7000</text>
</g>
<g font-family="'Liberation Serif','Times New Roman',serif" font-size="79" fill="#000" letter-spacing="2.2">
<text x="426.0" y="3647.0" text-anchor="middle">400</text>
<text x="724.9" y="3647.0" text-anchor="middle">450</text>
<text x="1023.8" y="3647.0" text-anchor="middle">500</text>
<text x="1322.7" y="3647.0" text-anchor="middle">550</text>
<text x="1621.6" y="3647.0" text-anchor="middle">600</text>
<text x="1920.5" y="3647.0" text-anchor="middle">650</text>
<text x="2219.4" y="3647.0" text-anchor="middle">700</text>
</g>
<g font-family="'Liberation Serif','Times New Roman',serif" font-size="87" fill="#000" letter-spacing="0.5">
<text x="1312" y="1832" text-anchor="middle">Wavelength (nm)</text>
<text x="1325" y="3747.7" text-anchor="middle">Wavelength (nm)</text>
<text transform="translate(111,843.5) rotate(-90)" text-anchor="middle" letter-spacing="0.15">Intensity (a.u.)</text>
<text transform="translate(111,2756.4) rotate(-90)" text-anchor="middle" letter-spacing="0.15">Intensity (a.u.)</text>
</g>
<g font-family="'Liberation Serif','Times New Roman',serif" font-size="128" font-weight="bold" fill="#000">
<text x="434" y="226">a</text>
<text x="441" y="2125.5">c</text>
</g>
<g font-family="'Liberation Serif','Times New Roman',serif" font-size="78" fill="#000" letter-spacing="1.8">
<line x1="450.6" y1="351.2" x2="631.9" y2="351.2" stroke="#4F4F4F" stroke-width="5"/>
<text x="650" y="376.2">0</text>
<line x1="450.6" y1="449.1" x2="631.9" y2="449.1" stroke="#FF4040" stroke-width="5"/>
<text x="650" y="474.1">10%</text>
<line x1="450.6" y1="547.0" x2="631.9" y2="547.0" stroke="#006CE3" stroke-width="5"/>
<text x="650" y="572.0">20%</text>
<line x1="450.6" y1="645.0" x2="631.9" y2="645.0" stroke="#00AE64" stroke-width="5"/>
<text x="650" y="670.0">30%</text>
<line x1="450.6" y1="742.9" x2="631.9" y2="742.9" stroke="#C378E4" stroke-width="5"/>
<text x="650" y="767.9">40%</text>
<line x1="450.6" y1="840.8" x2="631.9" y2="840.8" stroke="#DB9900" stroke-width="5"/>
<text x="650" y="865.8">50%</text>
<line x1="450.6" y1="938.7" x2="631.9" y2="938.7" stroke="#00CCCC" stroke-width="5"/>
<text x="650" y="963.7">60%</text>
<line x1="450.6" y1="1036.6" x2="631.9" y2="1036.6" stroke="#8A4C4C" stroke-width="5"/>
<text x="650" y="1061.6">70%</text>
<line x1="450.6" y1="1134.6" x2="631.9" y2="1134.6" stroke="#8C8C00" stroke-width="5"/>
<text x="650" y="1159.6">80%</text>
<line x1="450.6" y1="1232.5" x2="631.9" y2="1232.5" stroke="#FF6600" stroke-width="5"/>
<text x="650" y="1257.5">90%</text>
<line x1="450.6" y1="1330.4" x2="631.9" y2="1330.4" stroke="#449AD0" stroke-width="5"/>
<text x="650" y="1355.4">100%</text>
</g>
<g font-family="'Liberation Serif','Times New Roman',serif" font-size="70" fill="#000" letter-spacing="1.7">
<line x1="1862" y1="2050.2" x2="2026.2" y2="2050.2" stroke="#4F4F4F" stroke-width="5"/>
<text x="2042" y="2072.2">0</text>
<line x1="1862" y1="2139.5" x2="2026.2" y2="2139.5" stroke="#FF4040" stroke-width="5"/>
<text x="2042" y="2161.5">0.5%</text>
<line x1="1862" y1="2228.9" x2="2026.2" y2="2228.9" stroke="#006CE3" stroke-width="5"/>
<text x="2042" y="2250.9">1%</text>
<line x1="1862" y1="2318.2" x2="2026.2" y2="2318.2" stroke="#00AE64" stroke-width="5"/>
<text x="2042" y="2340.2">1.5%</text>
<line x1="1862" y1="2407.5" x2="2026.2" y2="2407.5" stroke="#C378E4" stroke-width="5"/>
<text x="2042" y="2429.5">2%</text>
<line x1="1862" y1="2496.8" x2="2026.2" y2="2496.8" stroke="#DB9900" stroke-width="5"/>
<text x="2042" y="2518.8">2.5%</text>
<line x1="1862" y1="2586.2" x2="2026.2" y2="2586.2" stroke="#00CCCC" stroke-width="5"/>
<text x="2042" y="2608.2">3%</text>
<line x1="1862" y1="2675.5" x2="2026.2" y2="2675.5" stroke="#8A4C4C" stroke-width="5"/>
<text x="2042" y="2697.5">3.5%</text>
<line x1="1862" y1="2764.8" x2="2026.2" y2="2764.8" stroke="#8C8C00" stroke-width="5"/>
<text x="2042" y="2786.8">4%</text>
<line x1="1862" y1="2854.2" x2="2026.2" y2="2854.2" stroke="#FF6600" stroke-width="5"/>
<text x="2042" y="2876.2">4.5%</text>
<line x1="1862" y1="2943.5" x2="2026.2" y2="2943.5" stroke="#449AD0" stroke-width="5"/>
<text x="2042" y="2965.5">5%</text>
<line x1="1862" y1="3032.8" x2="2026.2" y2="3032.8" stroke="#2EB700" stroke-width="5"/>
<text x="2042" y="3054.8">6%</text>
<line x1="1862" y1="3122.2" x2="2026.2" y2="3122.2" stroke="#4F4F4F" stroke-width="5"/>
<text x="2042" y="3144.2">7%)</text>
<line x1="1862" y1="3211.5" x2="2026.2" y2="3211.5" stroke="#FF4040" stroke-width="5"/>
<text x="2042" y="3233.5">8%)</text>
<line x1="1862" y1="3300.8" x2="2026.2" y2="3300.8" stroke="#006CE3" stroke-width="5"/>
<text x="2042" y="3322.8">9%</text>
<line x1="1862" y1="3390.1" x2="2026.2" y2="3390.1" stroke="#00AE64" stroke-width="5"/>
<text x="2042" y="3412.1">10%</text>
</g>
</svg></body></html>
